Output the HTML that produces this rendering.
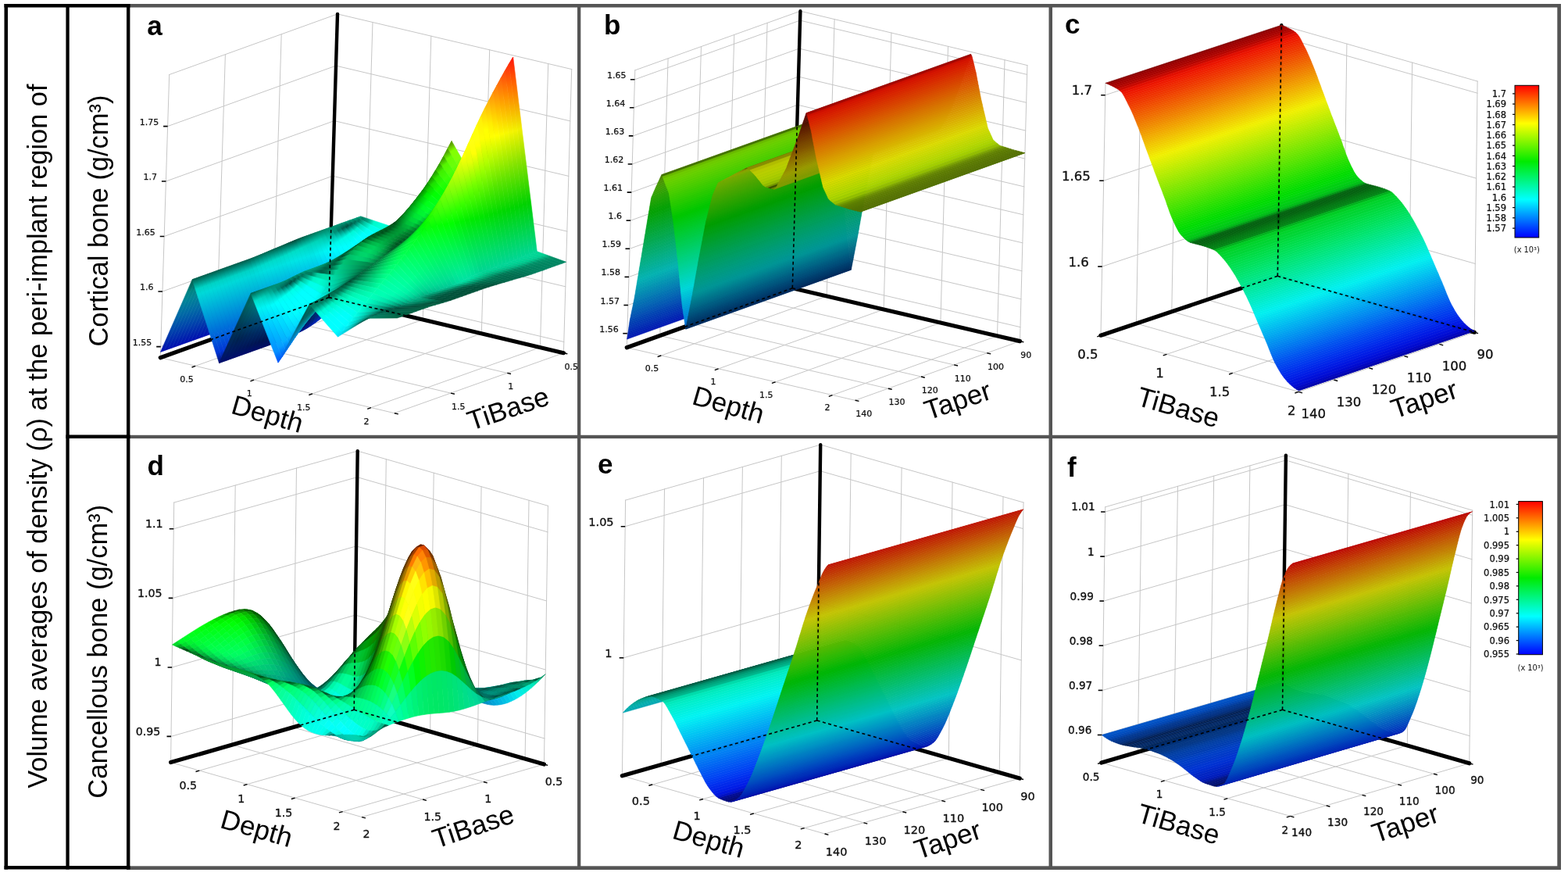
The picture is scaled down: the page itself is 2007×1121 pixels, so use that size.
<!DOCTYPE html><html><head><meta charset="utf-8"><style>html,body{margin:0;padding:0;background:#fff;overflow:hidden}svg{display:block}.s path{fill:currentColor;stroke:currentColor;stroke-width:.6px}.t path{stroke-width:.6px}</style></head><body>
<svg xmlns="http://www.w3.org/2000/svg" width="2007" height="1121" viewBox="0 0 2007 1121">
<rect width="2007" height="1121" fill="#fff"/>
<clipPath id="ca"><rect x="166.4" y="9.5" width="572.6" height="547.5"/></clipPath>
<g clip-path="url(#ca)">
<g stroke-linecap="square"><line x1="349.1" y1="406.3" x2="360.2" y2="43.8" stroke="#c6c6c6" stroke-width="1"/><line x1="349.1" y1="406.3" x2="649.2" y2="477.4" stroke="#c6c6c6" stroke-width="1"/><line x1="277.1" y1="432" x2="288.4" y2="69.7" stroke="#c6c6c6" stroke-width="1"/><line x1="277.1" y1="432" x2="577" y2="503.1" stroke="#c6c6c6" stroke-width="1"/><line x1="466.1" y1="391.3" x2="477" y2="28.5" stroke="#c6c6c6" stroke-width="1"/><line x1="466.1" y1="391.3" x2="250.2" y2="468.3" stroke="#c6c6c6" stroke-width="1"/><line x1="541.2" y1="409" x2="551.8" y2="46.2" stroke="#c6c6c6" stroke-width="1"/><line x1="541.2" y1="409" x2="325.1" y2="486.1" stroke="#c6c6c6" stroke-width="1"/><line x1="616.3" y1="426.8" x2="626.7" y2="63.8" stroke="#c6c6c6" stroke-width="1"/><line x1="616.3" y1="426.8" x2="400" y2="503.8" stroke="#c6c6c6" stroke-width="1"/><line x1="691.4" y1="444.6" x2="701.7" y2="81.5" stroke="#c6c6c6" stroke-width="1"/><line x1="691.4" y1="444.6" x2="474.9" y2="521.6" stroke="#c6c6c6" stroke-width="1"/><line x1="205.7" y1="443.6" x2="421.5" y2="366.5" stroke="#c6c6c6" stroke-width="1"/><line x1="421.5" y1="366.5" x2="721.8" y2="437.5" stroke="#c6c6c6" stroke-width="1"/><line x1="207.9" y1="373" x2="423.6" y2="295.8" stroke="#c6c6c6" stroke-width="1"/><line x1="423.6" y1="295.8" x2="723.8" y2="366.8" stroke="#c6c6c6" stroke-width="1"/><line x1="210.2" y1="302.5" x2="425.8" y2="225.2" stroke="#c6c6c6" stroke-width="1"/><line x1="425.8" y1="225.2" x2="725.8" y2="296.1" stroke="#c6c6c6" stroke-width="1"/><line x1="212.4" y1="232" x2="427.9" y2="154.6" stroke="#c6c6c6" stroke-width="1"/><line x1="427.9" y1="154.6" x2="727.8" y2="225.4" stroke="#c6c6c6" stroke-width="1"/><line x1="214.6" y1="161.6" x2="430" y2="84.1" stroke="#c6c6c6" stroke-width="1"/><line x1="430" y1="84.1" x2="729.8" y2="154.9" stroke="#c6c6c6" stroke-width="1"/><line x1="205.3" y1="457.7" x2="216.7" y2="95.5" stroke="#c6c6c6" stroke-width="1"/><line x1="216.7" y1="95.5" x2="432" y2="17.9" stroke="#c6c6c6" stroke-width="1"/><line x1="432" y1="17.9" x2="731.7" y2="88.6" stroke="#c6c6c6" stroke-width="1"/><line x1="731.7" y1="88.6" x2="721.4" y2="451.7" stroke="#c6c6c6" stroke-width="1"/><line x1="205.3" y1="457.7" x2="504.9" y2="528.7" stroke="#c6c6c6" stroke-width="1"/><line x1="504.9" y1="528.7" x2="721.4" y2="451.7" stroke="#c6c6c6" stroke-width="1"/></g>
<g stroke="#000" stroke-linecap="round"><line x1="421.1" y1="380.6" x2="432" y2="17.9" stroke-width="4.4"/><line x1="421.1" y1="380.6" x2="205.3" y2="457.7" stroke-width="5.2"/><line x1="421.1" y1="380.6" x2="721.4" y2="451.7" stroke-width="5.2"/></g>
<defs><linearGradient id="g0" gradientUnits="userSpaceOnUse" x1="418.9" y1="374.2" x2="459.5" y2="277.7"><stop offset="0" stop-color="#000eaf"/><stop offset=".12" stop-color="#0026ae"/><stop offset=".3" stop-color="#004aad"/><stop offset=".5" stop-color="#0071ac"/><stop offset=".7" stop-color="#0097a9"/><stop offset=".793" stop-color="#00a8a8"/><stop offset=".88" stop-color="#00a596"/><stop offset="1" stop-color="#00a17d"/></linearGradient><linearGradient id="g1" gradientUnits="userSpaceOnUse" x1="413.9" y1="376" x2="454.6" y2="279.5"><stop offset="0" stop-color="#000eaf"/><stop offset=".12" stop-color="#0026ae"/><stop offset=".3" stop-color="#004aad"/><stop offset=".5" stop-color="#0071ab"/><stop offset=".7" stop-color="#0097a9"/><stop offset=".793" stop-color="#00a7a7"/><stop offset=".88" stop-color="#00a495"/><stop offset="1" stop-color="#009f7b"/></linearGradient><linearGradient id="g2" gradientUnits="userSpaceOnUse" x1="409" y1="377.7" x2="449.7" y2="281.2"><stop offset="0" stop-color="#000eaf"/><stop offset=".12" stop-color="#0026ae"/><stop offset=".3" stop-color="#004aad"/><stop offset=".5" stop-color="#0071ab"/><stop offset=".7" stop-color="#0096a8"/><stop offset=".793" stop-color="#00a7a7"/><stop offset=".88" stop-color="#00a394"/><stop offset="1" stop-color="#009e7a"/></linearGradient><linearGradient id="g3" gradientUnits="userSpaceOnUse" x1="404.1" y1="379.5" x2="444.8" y2="283"><stop offset="0" stop-color="#000eaf"/><stop offset=".12" stop-color="#0026ae"/><stop offset=".3" stop-color="#004aad"/><stop offset=".5" stop-color="#0071ab"/><stop offset=".7" stop-color="#0096a8"/><stop offset=".793" stop-color="#00a6a6"/><stop offset=".88" stop-color="#00a293"/><stop offset="1" stop-color="#009c79"/></linearGradient><linearGradient id="g4" gradientUnits="userSpaceOnUse" x1="399.2" y1="381.2" x2="439.9" y2="284.8"><stop offset="0" stop-color="#000eaf"/><stop offset=".12" stop-color="#0026ae"/><stop offset=".3" stop-color="#004aad"/><stop offset=".5" stop-color="#0071ab"/><stop offset=".7" stop-color="#0095a7"/><stop offset=".793" stop-color="#00a5a5"/><stop offset=".88" stop-color="#00a192"/><stop offset="1" stop-color="#009a77"/></linearGradient><linearGradient id="g5" gradientUnits="userSpaceOnUse" x1="394.3" y1="383" x2="435" y2="286.5"><stop offset="0" stop-color="#000eaf"/><stop offset=".12" stop-color="#0026ae"/><stop offset=".3" stop-color="#004aad"/><stop offset=".5" stop-color="#0070aa"/><stop offset=".7" stop-color="#0094a6"/><stop offset=".793" stop-color="#00a4a4"/><stop offset=".88" stop-color="#009f90"/><stop offset="1" stop-color="#009775"/></linearGradient><linearGradient id="g6" gradientUnits="userSpaceOnUse" x1="389.4" y1="384.7" x2="430.1" y2="288.3"><stop offset="0" stop-color="#000eaf"/><stop offset=".12" stop-color="#0026ae"/><stop offset=".3" stop-color="#004aad"/><stop offset=".5" stop-color="#0070aa"/><stop offset=".7" stop-color="#0094a6"/><stop offset=".793" stop-color="#00a3a3"/><stop offset=".88" stop-color="#009e8f"/><stop offset="1" stop-color="#009473"/></linearGradient><linearGradient id="g7" gradientUnits="userSpaceOnUse" x1="384.5" y1="386.5" x2="425.1" y2="290"><stop offset="0" stop-color="#000eaf"/><stop offset=".12" stop-color="#0026ae"/><stop offset=".3" stop-color="#004aac"/><stop offset=".5" stop-color="#0070aa"/><stop offset=".7" stop-color="#0093a5"/><stop offset=".793" stop-color="#00a2a2"/><stop offset=".88" stop-color="#009c8d"/><stop offset="1" stop-color="#009170"/></linearGradient><linearGradient id="g8" gradientUnits="userSpaceOnUse" x1="379.6" y1="388.2" x2="420.2" y2="291.8"><stop offset="0" stop-color="#000eaf"/><stop offset=".12" stop-color="#0026ae"/><stop offset=".3" stop-color="#004aac"/><stop offset=".5" stop-color="#0070a9"/><stop offset=".7" stop-color="#0092a4"/><stop offset=".793" stop-color="#00a0a0"/><stop offset=".88" stop-color="#009a8b"/><stop offset="1" stop-color="#008d6d"/></linearGradient><linearGradient id="g9" gradientUnits="userSpaceOnUse" x1="374.6" y1="390" x2="415.3" y2="293.6"><stop offset="0" stop-color="#000eaf"/><stop offset=".12" stop-color="#0026ae"/><stop offset=".3" stop-color="#004aac"/><stop offset=".5" stop-color="#0070a9"/><stop offset=".7" stop-color="#0092a3"/><stop offset=".793" stop-color="#009f9f"/><stop offset=".88" stop-color="#009789"/><stop offset="1" stop-color="#008869"/></linearGradient><linearGradient id="g10" gradientUnits="userSpaceOnUse" x1="369.7" y1="391.8" x2="410.4" y2="295.3"><stop offset="0" stop-color="#000eaf"/><stop offset=".12" stop-color="#0026ae"/><stop offset=".3" stop-color="#004aac"/><stop offset=".5" stop-color="#006fa9"/><stop offset=".7" stop-color="#0091a2"/><stop offset=".793" stop-color="#009d9d"/><stop offset=".88" stop-color="#009587"/><stop offset="1" stop-color="#008265"/></linearGradient><linearGradient id="g11" gradientUnits="userSpaceOnUse" x1="364.8" y1="393.5" x2="405.5" y2="297.1"><stop offset="0" stop-color="#000eaf"/><stop offset=".12" stop-color="#0026ae"/><stop offset=".3" stop-color="#004aac"/><stop offset=".5" stop-color="#006fa8"/><stop offset=".7" stop-color="#0090a1"/><stop offset=".793" stop-color="#009b9b"/><stop offset=".88" stop-color="#009284"/><stop offset="1" stop-color="#007c60"/></linearGradient><linearGradient id="g12" gradientUnits="userSpaceOnUse" x1="359.9" y1="395.3" x2="400.6" y2="298.8"><stop offset="0" stop-color="#000eaf"/><stop offset=".12" stop-color="#0026ae"/><stop offset=".3" stop-color="#004aac"/><stop offset=".5" stop-color="#006fa8"/><stop offset=".7" stop-color="#008fa0"/><stop offset=".793" stop-color="#009999"/><stop offset=".88" stop-color="#008e81"/><stop offset="1" stop-color="#00755a"/></linearGradient><linearGradient id="g13" gradientUnits="userSpaceOnUse" x1="355" y1="397" x2="395.7" y2="300.6"><stop offset="0" stop-color="#000eaf"/><stop offset=".12" stop-color="#0026ae"/><stop offset=".3" stop-color="#0049ac"/><stop offset=".5" stop-color="#006fa8"/><stop offset=".7" stop-color="#008e9f"/><stop offset=".793" stop-color="#009898"/><stop offset=".88" stop-color="#008b7e"/><stop offset="1" stop-color="#006e55"/></linearGradient><linearGradient id="g14" gradientUnits="userSpaceOnUse" x1="350.1" y1="398.8" x2="390.8" y2="302.3"><stop offset="0" stop-color="#000eaf"/><stop offset=".12" stop-color="#0026ae"/><stop offset=".3" stop-color="#0049ac"/><stop offset=".5" stop-color="#006ea7"/><stop offset=".7" stop-color="#008d9e"/><stop offset=".793" stop-color="#009696"/><stop offset=".88" stop-color="#00887c"/><stop offset="1" stop-color="#006750"/></linearGradient><linearGradient id="g15" gradientUnits="userSpaceOnUse" x1="345.2" y1="400.5" x2="385.9" y2="304.1"><stop offset="0" stop-color="#000eaf"/><stop offset=".12" stop-color="#0026ae"/><stop offset=".3" stop-color="#0049ab"/><stop offset=".5" stop-color="#006ea6"/><stop offset=".7" stop-color="#008b9c"/><stop offset=".793" stop-color="#009393"/><stop offset=".88" stop-color="#008377"/><stop offset="1" stop-color="#005e49"/></linearGradient><linearGradient id="g16" gradientUnits="userSpaceOnUse" x1="340.3" y1="402.3" x2="381" y2="306"><stop offset="0" stop-color="#000eaf"/><stop offset=".12" stop-color="#0026ae"/><stop offset=".3" stop-color="#0049ab"/><stop offset=".5" stop-color="#006da6"/><stop offset=".7" stop-color="#00899a"/><stop offset=".795" stop-color="#008f8f"/><stop offset=".88" stop-color="#007e73"/><stop offset="1" stop-color="#005542"/></linearGradient><linearGradient id="g17" gradientUnits="userSpaceOnUse" x1="335.4" y1="404" x2="376.1" y2="308"><stop offset="0" stop-color="#000eaf"/><stop offset=".12" stop-color="#0026ad"/><stop offset=".3" stop-color="#0049ab"/><stop offset=".5" stop-color="#006ca5"/><stop offset=".7" stop-color="#008798"/><stop offset=".796" stop-color="#008c8c"/><stop offset=".88" stop-color="#007a6f"/><stop offset="1" stop-color="#004d3c"/></linearGradient><linearGradient id="g18" gradientUnits="userSpaceOnUse" x1="330.5" y1="405.8" x2="371.1" y2="310.1"><stop offset="0" stop-color="#000eaf"/><stop offset=".12" stop-color="#0026ad"/><stop offset=".3" stop-color="#0048aa"/><stop offset=".5" stop-color="#006ca4"/><stop offset=".7" stop-color="#008697"/><stop offset=".799" stop-color="#008989"/><stop offset=".88" stop-color="#00766c"/><stop offset="1" stop-color="#005140"/></linearGradient><linearGradient id="g19" gradientUnits="userSpaceOnUse" x1="325.6" y1="407.5" x2="366.2" y2="312.2"><stop offset="0" stop-color="#000eaf"/><stop offset=".12" stop-color="#0026ad"/><stop offset=".3" stop-color="#0048aa"/><stop offset=".5" stop-color="#006ba4"/><stop offset=".7" stop-color="#008596"/><stop offset=".801" stop-color="#008787"/><stop offset=".88" stop-color="#00736a"/><stop offset="1" stop-color="#005845"/></linearGradient><linearGradient id="g20" gradientUnits="userSpaceOnUse" x1="320.7" y1="409.3" x2="361.3" y2="314.3"><stop offset="0" stop-color="#000eaf"/><stop offset=".12" stop-color="#0026ad"/><stop offset=".3" stop-color="#0048aa"/><stop offset=".5" stop-color="#006ba4"/><stop offset=".7" stop-color="#008495"/><stop offset=".804" stop-color="#008686"/><stop offset=".88" stop-color="#007268"/><stop offset="1" stop-color="#005d49"/></linearGradient><linearGradient id="g21" gradientUnits="userSpaceOnUse" x1="315.8" y1="411" x2="356.4" y2="316.3"><stop offset="0" stop-color="#000eaf"/><stop offset=".12" stop-color="#0026ad"/><stop offset=".3" stop-color="#0048aa"/><stop offset=".5" stop-color="#006ba4"/><stop offset=".7" stop-color="#008396"/><stop offset=".806" stop-color="#008585"/><stop offset=".88" stop-color="#007168"/><stop offset="1" stop-color="#005f4b"/></linearGradient><linearGradient id="g22" gradientUnits="userSpaceOnUse" x1="310.9" y1="412.8" x2="351.5" y2="318.3"><stop offset="0" stop-color="#000eaf"/><stop offset=".12" stop-color="#0026ad"/><stop offset=".3" stop-color="#0048aa"/><stop offset=".5" stop-color="#006aa4"/><stop offset=".7" stop-color="#008395"/><stop offset=".808" stop-color="#008484"/><stop offset=".88" stop-color="#007067"/><stop offset="1" stop-color="#00614d"/></linearGradient><linearGradient id="g23" gradientUnits="userSpaceOnUse" x1="306" y1="414.5" x2="346.6" y2="320.4"><stop offset="0" stop-color="#000eaf"/><stop offset=".12" stop-color="#0025ad"/><stop offset=".3" stop-color="#0047aa"/><stop offset=".5" stop-color="#006aa3"/><stop offset=".7" stop-color="#008294"/><stop offset=".81" stop-color="#008282"/><stop offset=".88" stop-color="#006d65"/><stop offset="1" stop-color="#006651"/></linearGradient><linearGradient id="g24" gradientUnits="userSpaceOnUse" x1="301" y1="416.3" x2="341.7" y2="322.5"><stop offset="0" stop-color="#000eaf"/><stop offset=".12" stop-color="#0025ad"/><stop offset=".3" stop-color="#0047aa"/><stop offset=".5" stop-color="#0069a3"/><stop offset=".7" stop-color="#008194"/><stop offset=".813" stop-color="#008080"/><stop offset=".88" stop-color="#006c64"/><stop offset="1" stop-color="#006954"/></linearGradient><linearGradient id="g25" gradientUnits="userSpaceOnUse" x1="296.1" y1="418.1" x2="336.8" y2="324.5"><stop offset="0" stop-color="#000eaf"/><stop offset=".12" stop-color="#0025ad"/><stop offset=".3" stop-color="#0047aa"/><stop offset=".5" stop-color="#0069a3"/><stop offset=".7" stop-color="#008093"/><stop offset=".816" stop-color="#007f7f"/><stop offset=".88" stop-color="#006b64"/><stop offset="1" stop-color="#006a55"/></linearGradient><linearGradient id="g26" gradientUnits="userSpaceOnUse" x1="291.2" y1="419.8" x2="331.8" y2="326.6"><stop offset="0" stop-color="#000eaf"/><stop offset=".12" stop-color="#0025ad"/><stop offset=".3" stop-color="#0047aa"/><stop offset=".5" stop-color="#0069a3"/><stop offset=".7" stop-color="#008094"/><stop offset=".818" stop-color="#007f7f"/><stop offset=".88" stop-color="#006c65"/><stop offset="1" stop-color="#006a55"/></linearGradient><linearGradient id="g27" gradientUnits="userSpaceOnUse" x1="286.3" y1="421.6" x2="326.9" y2="328.6"><stop offset="0" stop-color="#000eaf"/><stop offset=".12" stop-color="#0025ad"/><stop offset=".3" stop-color="#0047aa"/><stop offset=".5" stop-color="#0069a4"/><stop offset=".7" stop-color="#008195"/><stop offset=".82" stop-color="#008080"/><stop offset=".88" stop-color="#006d66"/><stop offset="1" stop-color="#006754"/></linearGradient><linearGradient id="g28" gradientUnits="userSpaceOnUse" x1="281.4" y1="423.3" x2="322" y2="330.5"><stop offset="0" stop-color="#000eaf"/><stop offset=".12" stop-color="#0025ad"/><stop offset=".3" stop-color="#0047aa"/><stop offset=".5" stop-color="#0069a4"/><stop offset=".7" stop-color="#008296"/><stop offset=".821" stop-color="#008181"/><stop offset=".88" stop-color="#007069"/><stop offset="1" stop-color="#006351"/></linearGradient><linearGradient id="g29" gradientUnits="userSpaceOnUse" x1="276.5" y1="425.1" x2="317.1" y2="332.3"><stop offset="0" stop-color="#000eaf"/><stop offset=".12" stop-color="#0025ad"/><stop offset=".3" stop-color="#0047ab"/><stop offset=".5" stop-color="#006aa5"/><stop offset=".7" stop-color="#008397"/><stop offset=".821" stop-color="#008384"/><stop offset=".88" stop-color="#00726b"/><stop offset="1" stop-color="#005e4d"/></linearGradient><linearGradient id="g30" gradientUnits="userSpaceOnUse" x1="271.6" y1="426.8" x2="312.2" y2="334"><stop offset="0" stop-color="#000eaf"/><stop offset=".12" stop-color="#0025ad"/><stop offset=".3" stop-color="#0047ab"/><stop offset=".5" stop-color="#006aa5"/><stop offset=".7" stop-color="#008397"/><stop offset=".821" stop-color="#008484"/><stop offset=".88" stop-color="#00726b"/><stop offset="1" stop-color="#005e4d"/></linearGradient><linearGradient id="g31" gradientUnits="userSpaceOnUse" x1="266.7" y1="428.6" x2="307.3" y2="335.8"><stop offset="0" stop-color="#000eaf"/><stop offset=".12" stop-color="#0025ad"/><stop offset=".3" stop-color="#0047ab"/><stop offset=".5" stop-color="#006aa5"/><stop offset=".7" stop-color="#008397"/><stop offset=".821" stop-color="#008484"/><stop offset=".88" stop-color="#00726b"/><stop offset="1" stop-color="#005e4d"/></linearGradient><linearGradient id="g32" gradientUnits="userSpaceOnUse" x1="261.8" y1="430.3" x2="302.4" y2="337.6"><stop offset="0" stop-color="#000eaf"/><stop offset=".12" stop-color="#0025ad"/><stop offset=".3" stop-color="#0047ab"/><stop offset=".5" stop-color="#006aa5"/><stop offset=".7" stop-color="#008397"/><stop offset=".821" stop-color="#008484"/><stop offset=".88" stop-color="#00726b"/><stop offset="1" stop-color="#005e4d"/></linearGradient><linearGradient id="g33" gradientUnits="userSpaceOnUse" x1="256.9" y1="432.1" x2="297.5" y2="339.3"><stop offset="0" stop-color="#000eaf"/><stop offset=".12" stop-color="#0025ad"/><stop offset=".3" stop-color="#0047ab"/><stop offset=".5" stop-color="#006aa5"/><stop offset=".7" stop-color="#008397"/><stop offset=".821" stop-color="#008484"/><stop offset=".88" stop-color="#00726b"/><stop offset="1" stop-color="#005e4d"/></linearGradient><linearGradient id="g34" gradientUnits="userSpaceOnUse" x1="252" y1="433.8" x2="292.6" y2="341.1"><stop offset="0" stop-color="#000eaf"/><stop offset=".12" stop-color="#0025ad"/><stop offset=".3" stop-color="#0047ab"/><stop offset=".5" stop-color="#006aa5"/><stop offset=".7" stop-color="#008397"/><stop offset=".821" stop-color="#008484"/><stop offset=".88" stop-color="#00726b"/><stop offset="1" stop-color="#005e4d"/></linearGradient><linearGradient id="g35" gradientUnits="userSpaceOnUse" x1="247.1" y1="435.6" x2="287.7" y2="342.8"><stop offset="0" stop-color="#000eaf"/><stop offset=".12" stop-color="#0025ad"/><stop offset=".3" stop-color="#0047ab"/><stop offset=".5" stop-color="#006aa5"/><stop offset=".7" stop-color="#008397"/><stop offset=".821" stop-color="#008484"/><stop offset=".88" stop-color="#00726b"/><stop offset="1" stop-color="#005e4d"/></linearGradient><linearGradient id="g36" gradientUnits="userSpaceOnUse" x1="242.2" y1="437.3" x2="282.8" y2="344.6"><stop offset="0" stop-color="#000eaf"/><stop offset=".12" stop-color="#0025ad"/><stop offset=".3" stop-color="#0047ab"/><stop offset=".5" stop-color="#006aa5"/><stop offset=".7" stop-color="#008397"/><stop offset=".821" stop-color="#008484"/><stop offset=".88" stop-color="#00726b"/><stop offset="1" stop-color="#005e4d"/></linearGradient><linearGradient id="g37" gradientUnits="userSpaceOnUse" x1="237.3" y1="439.1" x2="277.9" y2="346.3"><stop offset="0" stop-color="#000eaf"/><stop offset=".12" stop-color="#0025ad"/><stop offset=".3" stop-color="#0047ab"/><stop offset=".5" stop-color="#006aa5"/><stop offset=".7" stop-color="#008397"/><stop offset=".821" stop-color="#008484"/><stop offset=".88" stop-color="#00726b"/><stop offset="1" stop-color="#005e4d"/></linearGradient><linearGradient id="g38" gradientUnits="userSpaceOnUse" x1="232.4" y1="440.8" x2="273" y2="348.1"><stop offset="0" stop-color="#000eaf"/><stop offset=".12" stop-color="#0025ad"/><stop offset=".3" stop-color="#0047ab"/><stop offset=".5" stop-color="#006aa5"/><stop offset=".7" stop-color="#008397"/><stop offset=".821" stop-color="#008484"/><stop offset=".88" stop-color="#00726b"/><stop offset="1" stop-color="#005e4d"/></linearGradient><linearGradient id="g39" gradientUnits="userSpaceOnUse" x1="227.5" y1="442.6" x2="268.1" y2="349.8"><stop offset="0" stop-color="#000eaf"/><stop offset=".12" stop-color="#0025ad"/><stop offset=".3" stop-color="#0047ab"/><stop offset=".5" stop-color="#006aa5"/><stop offset=".7" stop-color="#008397"/><stop offset=".821" stop-color="#008484"/><stop offset=".88" stop-color="#00726b"/><stop offset="1" stop-color="#005e4d"/></linearGradient><linearGradient id="g40" gradientUnits="userSpaceOnUse" x1="222.6" y1="444.3" x2="263.3" y2="351.6"><stop offset="0" stop-color="#000eaf"/><stop offset=".12" stop-color="#0025ad"/><stop offset=".3" stop-color="#0047ab"/><stop offset=".5" stop-color="#006aa5"/><stop offset=".7" stop-color="#008397"/><stop offset=".821" stop-color="#008484"/><stop offset=".88" stop-color="#00726b"/><stop offset="1" stop-color="#005e4d"/></linearGradient><linearGradient id="g41" gradientUnits="userSpaceOnUse" x1="217.7" y1="446.1" x2="258.4" y2="353.3"><stop offset="0" stop-color="#000eaf"/><stop offset=".12" stop-color="#0025ad"/><stop offset=".3" stop-color="#0047ab"/><stop offset=".5" stop-color="#006aa5"/><stop offset=".7" stop-color="#008397"/><stop offset=".821" stop-color="#008484"/><stop offset=".88" stop-color="#00726b"/><stop offset="1" stop-color="#005e4d"/></linearGradient><linearGradient id="g42" gradientUnits="userSpaceOnUse" x1="212.8" y1="447.8" x2="253.5" y2="355.1"><stop offset="0" stop-color="#000eaf"/><stop offset=".12" stop-color="#0025ad"/><stop offset=".3" stop-color="#0047ab"/><stop offset=".5" stop-color="#006aa5"/><stop offset=".7" stop-color="#008397"/><stop offset=".821" stop-color="#008484"/><stop offset=".88" stop-color="#00726b"/><stop offset="1" stop-color="#005e4d"/></linearGradient><linearGradient id="g43" gradientUnits="userSpaceOnUse" x1="208" y1="449.6" x2="248.6" y2="356.8"><stop offset="0" stop-color="#000eaf"/><stop offset=".12" stop-color="#0025ad"/><stop offset=".3" stop-color="#0047ab"/><stop offset=".5" stop-color="#006aa5"/><stop offset=".7" stop-color="#008397"/><stop offset=".821" stop-color="#008484"/><stop offset=".88" stop-color="#00726b"/><stop offset="1" stop-color="#005e4d"/></linearGradient><linearGradient id="g44" gradientUnits="userSpaceOnUse" x1="459.5" y1="277.7" x2="496.8" y2="293.4"><stop offset="0" stop-color="#00a17d"/><stop offset=".12" stop-color="#007e63"/><stop offset=".3" stop-color="#00a281"/><stop offset=".5" stop-color="#00f9ca"/><stop offset=".7" stop-color="#00ffd8"/><stop offset=".88" stop-color="#00ffd6"/><stop offset="1" stop-color="#00f5d0"/></linearGradient><linearGradient id="g45" gradientUnits="userSpaceOnUse" x1="454.6" y1="279.5" x2="491.7" y2="301.5"><stop offset="0" stop-color="#009f7b"/><stop offset=".12" stop-color="#00765d"/><stop offset=".3" stop-color="#00c4a0"/><stop offset=".5" stop-color="#00ffe0"/><stop offset=".7" stop-color="#01fff1"/><stop offset=".88" stop-color="#00ffec"/><stop offset="1" stop-color="#00f6e0"/></linearGradient><linearGradient id="g46" gradientUnits="userSpaceOnUse" x1="449.7" y1="281.2" x2="486.6" y2="309.4"><stop offset="0" stop-color="#009e7a"/><stop offset=".12" stop-color="#006c56"/><stop offset=".3" stop-color="#00deba"/><stop offset=".5" stop-color="#01fff0"/><stop offset=".7" stop-color="#02ffff"/><stop offset=".88" stop-color="#00ffff"/><stop offset="1" stop-color="#00f6f0"/></linearGradient><linearGradient id="g47" gradientUnits="userSpaceOnUse" x1="444.8" y1="283" x2="481.5" y2="317.2"><stop offset="0" stop-color="#009c79"/><stop offset=".12" stop-color="#005f4d"/><stop offset=".3" stop-color="#00eecc"/><stop offset=".5" stop-color="#01fffb"/><stop offset=".7" stop-color="#02ffff"/><stop offset=".859" stop-color="#02ffff"/><stop offset=".88" stop-color="#01ffff"/><stop offset="1" stop-color="#00ecf6"/></linearGradient><linearGradient id="g48" gradientUnits="userSpaceOnUse" x1="439.9" y1="284.8" x2="476.4" y2="324.9"><stop offset="0" stop-color="#009977"/><stop offset=".12" stop-color="#005041"/><stop offset=".3" stop-color="#00f7d7"/><stop offset=".5" stop-color="#01ffff"/><stop offset=".697" stop-color="#03ffff"/><stop offset=".7" stop-color="#03ffff"/><stop offset=".88" stop-color="#01ffff"/><stop offset="1" stop-color="#00dbf5"/></linearGradient><linearGradient id="g49" gradientUnits="userSpaceOnUse" x1="435" y1="286.5" x2="471.3" y2="332.4"><stop offset="0" stop-color="#009775"/><stop offset=".12" stop-color="#005c4c"/><stop offset=".3" stop-color="#00fade"/><stop offset=".5" stop-color="#00ffff"/><stop offset=".588" stop-color="#01ffff"/><stop offset=".7" stop-color="#02ffff"/><stop offset=".88" stop-color="#02ffff"/><stop offset="1" stop-color="#00cbf4"/></linearGradient><linearGradient id="g50" gradientUnits="userSpaceOnUse" x1="430.1" y1="288.3" x2="466.3" y2="339.8"><stop offset="0" stop-color="#009473"/><stop offset=".12" stop-color="#007561"/><stop offset=".3" stop-color="#00fae3"/><stop offset=".5" stop-color="#00ffff"/><stop offset=".511" stop-color="#00ffff"/><stop offset=".7" stop-color="#02ffff"/><stop offset=".88" stop-color="#02f2ff"/><stop offset="1" stop-color="#00bbf2"/></linearGradient><linearGradient id="g51" gradientUnits="userSpaceOnUse" x1="425.1" y1="290" x2="461.2" y2="347"><stop offset="0" stop-color="#009170"/><stop offset=".12" stop-color="#008e76"/><stop offset=".3" stop-color="#00fae7"/><stop offset=".453" stop-color="#00ffff"/><stop offset=".5" stop-color="#00ffff"/><stop offset=".7" stop-color="#01f9ff"/><stop offset=".88" stop-color="#03e6ff"/><stop offset="1" stop-color="#00acf2"/></linearGradient><linearGradient id="g52" gradientUnits="userSpaceOnUse" x1="420.2" y1="291.8" x2="456.1" y2="354.3"><stop offset="0" stop-color="#008d6d"/><stop offset=".12" stop-color="#00a68c"/><stop offset=".3" stop-color="#00faec"/><stop offset=".406" stop-color="#00ffff"/><stop offset=".5" stop-color="#00faff"/><stop offset=".7" stop-color="#01ecff"/><stop offset=".88" stop-color="#04d9ff"/><stop offset="1" stop-color="#009ef4"/></linearGradient><linearGradient id="g53" gradientUnits="userSpaceOnUse" x1="415.3" y1="293.6" x2="451" y2="361.8"><stop offset="0" stop-color="#008869"/><stop offset=".12" stop-color="#00ba9e"/><stop offset=".3" stop-color="#00f9ef"/><stop offset=".367" stop-color="#00fefe"/><stop offset=".5" stop-color="#00efff"/><stop offset=".7" stop-color="#01ddff"/><stop offset=".88" stop-color="#04cbff"/><stop offset="1" stop-color="#008ff5"/></linearGradient><linearGradient id="g54" gradientUnits="userSpaceOnUse" x1="410.4" y1="295.3" x2="445.9" y2="369.2"><stop offset="0" stop-color="#008265"/><stop offset=".12" stop-color="#00c7ab"/><stop offset=".3" stop-color="#00f7f1"/><stop offset=".335" stop-color="#00fbfb"/><stop offset=".5" stop-color="#00e4ff"/><stop offset=".7" stop-color="#01ceff"/><stop offset=".88" stop-color="#04bbff"/><stop offset="1" stop-color="#0080f4"/></linearGradient><linearGradient id="g55" gradientUnits="userSpaceOnUse" x1="405.5" y1="297.1" x2="440.9" y2="376.3"><stop offset="0" stop-color="#007c60"/><stop offset=".12" stop-color="#00d0b3"/><stop offset=".3" stop-color="#00f4f3"/><stop offset=".31" stop-color="#00f5f5"/><stop offset=".5" stop-color="#00d9fe"/><stop offset=".7" stop-color="#00beff"/><stop offset=".88" stop-color="#04a9ff"/><stop offset="1" stop-color="#0071f2"/></linearGradient><linearGradient id="g56" gradientUnits="userSpaceOnUse" x1="400.6" y1="298.8" x2="435.8" y2="383"><stop offset="0" stop-color="#00755a"/><stop offset=".12" stop-color="#00d4b8"/><stop offset=".289" stop-color="#00f0f0"/><stop offset=".3" stop-color="#00eff1"/><stop offset=".5" stop-color="#00cdf9"/><stop offset=".7" stop-color="#00afff"/><stop offset=".88" stop-color="#0398ff"/><stop offset="1" stop-color="#0062ee"/></linearGradient><linearGradient id="g57" gradientUnits="userSpaceOnUse" x1="395.7" y1="300.6" x2="430.8" y2="389"><stop offset="0" stop-color="#006e55"/><stop offset=".12" stop-color="#00d5ba"/><stop offset=".274" stop-color="#00ebeb"/><stop offset=".3" stop-color="#00e7ec"/><stop offset=".5" stop-color="#00c3f3"/><stop offset=".7" stop-color="#00a1ff"/><stop offset=".88" stop-color="#0186ff"/><stop offset="1" stop-color="#0053e5"/></linearGradient><linearGradient id="g58" gradientUnits="userSpaceOnUse" x1="390.8" y1="302.3" x2="425.8" y2="394.2"><stop offset="0" stop-color="#006750"/><stop offset=".12" stop-color="#00d4bb"/><stop offset=".262" stop-color="#00e6e6"/><stop offset=".3" stop-color="#00e0e8"/><stop offset=".5" stop-color="#00baed"/><stop offset=".7" stop-color="#0095f9"/><stop offset=".88" stop-color="#0077ff"/><stop offset="1" stop-color="#0046d6"/></linearGradient><linearGradient id="g59" gradientUnits="userSpaceOnUse" x1="385.9" y1="304.1" x2="420.8" y2="398.8"><stop offset="0" stop-color="#005e49"/><stop offset=".12" stop-color="#00d8be"/><stop offset=".253" stop-color="#00e6e6"/><stop offset=".3" stop-color="#00dde7"/><stop offset=".5" stop-color="#00b5eb"/><stop offset=".7" stop-color="#008ef5"/><stop offset=".88" stop-color="#006dff"/><stop offset="1" stop-color="#003dd0"/></linearGradient><linearGradient id="g60" gradientUnits="userSpaceOnUse" x1="381" y1="306" x2="415.8" y2="403.1"><stop offset="0" stop-color="#005542"/><stop offset=".12" stop-color="#00dbc2"/><stop offset=".245" stop-color="#00e6e6"/><stop offset=".3" stop-color="#00dbe7"/><stop offset=".5" stop-color="#00b0eb"/><stop offset=".7" stop-color="#0088f3"/><stop offset=".88" stop-color="#0065ff"/><stop offset="1" stop-color="#0036cc"/></linearGradient><linearGradient id="g61" gradientUnits="userSpaceOnUse" x1="376.1" y1="308" x2="410.8" y2="407.3"><stop offset="0" stop-color="#004d3c"/><stop offset=".12" stop-color="#00ddc5"/><stop offset=".236" stop-color="#00e6e6"/><stop offset=".3" stop-color="#00d8e7"/><stop offset=".5" stop-color="#00ace9"/><stop offset=".7" stop-color="#0082f1"/><stop offset=".88" stop-color="#005dff"/><stop offset="1" stop-color="#0030c7"/></linearGradient><linearGradient id="g62" gradientUnits="userSpaceOnUse" x1="371.1" y1="310.1" x2="405.8" y2="411.2"><stop offset="0" stop-color="#005140"/><stop offset=".12" stop-color="#00dec7"/><stop offset=".228" stop-color="#00e6e6"/><stop offset=".3" stop-color="#00d5e6"/><stop offset=".5" stop-color="#00a8e8"/><stop offset=".7" stop-color="#007cef"/><stop offset=".88" stop-color="#0056ff"/><stop offset="1" stop-color="#0029bf"/></linearGradient><linearGradient id="g63" gradientUnits="userSpaceOnUse" x1="366.2" y1="312.2" x2="400.9" y2="414.8"><stop offset="0" stop-color="#005845"/><stop offset=".12" stop-color="#00dec8"/><stop offset=".221" stop-color="#00e5e5"/><stop offset=".3" stop-color="#00d2e4"/><stop offset=".5" stop-color="#00a4e6"/><stop offset=".7" stop-color="#0077ec"/><stop offset=".88" stop-color="#004ff9"/><stop offset="1" stop-color="#0023b5"/></linearGradient><linearGradient id="g64" gradientUnits="userSpaceOnUse" x1="361.3" y1="314.3" x2="395.9" y2="418.1"><stop offset="0" stop-color="#005d49"/><stop offset=".12" stop-color="#00ddc8"/><stop offset=".215" stop-color="#00e3e3"/><stop offset=".3" stop-color="#00cfe3"/><stop offset=".5" stop-color="#00a0e4"/><stop offset=".7" stop-color="#0072e8"/><stop offset=".88" stop-color="#004af2"/><stop offset="1" stop-color="#001ea8"/></linearGradient><linearGradient id="g65" gradientUnits="userSpaceOnUse" x1="356.4" y1="316.3" x2="391" y2="421.1"><stop offset="0" stop-color="#005f4b"/><stop offset=".12" stop-color="#00dbc8"/><stop offset=".21" stop-color="#00e1e1"/><stop offset=".3" stop-color="#00cbe1"/><stop offset=".5" stop-color="#009ce2"/><stop offset=".7" stop-color="#006ee5"/><stop offset=".88" stop-color="#0044eb"/><stop offset="1" stop-color="#001998"/></linearGradient><linearGradient id="g66" gradientUnits="userSpaceOnUse" x1="351.5" y1="318.3" x2="386" y2="423.7"><stop offset="0" stop-color="#00614d"/><stop offset=".12" stop-color="#00dbc8"/><stop offset=".206" stop-color="#00e0e0"/><stop offset=".3" stop-color="#00cae0"/><stop offset=".5" stop-color="#009ae0"/><stop offset=".7" stop-color="#006ce3"/><stop offset=".88" stop-color="#0041e6"/><stop offset="1" stop-color="#00168d"/></linearGradient><linearGradient id="g67" gradientUnits="userSpaceOnUse" x1="346.6" y1="320.4" x2="381.1" y2="426.2"><stop offset="0" stop-color="#006651"/><stop offset=".12" stop-color="#00dcca"/><stop offset=".202" stop-color="#00e0e0"/><stop offset=".3" stop-color="#00c9e0"/><stop offset=".5" stop-color="#0099e0"/><stop offset=".7" stop-color="#006ae2"/><stop offset=".88" stop-color="#003fe5"/><stop offset="1" stop-color="#001489"/></linearGradient><linearGradient id="g68" gradientUnits="userSpaceOnUse" x1="341.7" y1="322.5" x2="376.2" y2="428.6"><stop offset="0" stop-color="#006954"/><stop offset=".12" stop-color="#00dccb"/><stop offset=".197" stop-color="#00e0e0"/><stop offset=".3" stop-color="#00c7e0"/><stop offset=".5" stop-color="#0097e0"/><stop offset=".7" stop-color="#0068e2"/><stop offset=".88" stop-color="#003de4"/><stop offset="1" stop-color="#001385"/></linearGradient><linearGradient id="g69" gradientUnits="userSpaceOnUse" x1="336.8" y1="324.5" x2="371.2" y2="431"><stop offset="0" stop-color="#006a55"/><stop offset=".12" stop-color="#00dbcb"/><stop offset=".194" stop-color="#00dfe0"/><stop offset=".3" stop-color="#00c6df"/><stop offset=".5" stop-color="#0096df"/><stop offset=".7" stop-color="#0066e1"/><stop offset=".88" stop-color="#003be2"/><stop offset="1" stop-color="#00117f"/></linearGradient><linearGradient id="g70" gradientUnits="userSpaceOnUse" x1="331.8" y1="326.6" x2="366.3" y2="433.2"><stop offset="0" stop-color="#006a55"/><stop offset=".12" stop-color="#00dacb"/><stop offset=".19" stop-color="#00dfdf"/><stop offset=".3" stop-color="#00c4df"/><stop offset=".5" stop-color="#0094de"/><stop offset=".7" stop-color="#0065e0"/><stop offset=".88" stop-color="#0039df"/><stop offset="1" stop-color="#000f78"/></linearGradient><linearGradient id="g71" gradientUnits="userSpaceOnUse" x1="326.9" y1="328.6" x2="361.4" y2="435.4"><stop offset="0" stop-color="#006754"/><stop offset=".12" stop-color="#00d8ca"/><stop offset=".187" stop-color="#00dddd"/><stop offset=".3" stop-color="#00c2dd"/><stop offset=".5" stop-color="#0093dd"/><stop offset=".7" stop-color="#0063de"/><stop offset=".88" stop-color="#0038dc"/><stop offset="1" stop-color="#000e70"/></linearGradient><linearGradient id="g72" gradientUnits="userSpaceOnUse" x1="322" y1="330.5" x2="356.5" y2="437.4"><stop offset="0" stop-color="#006351"/><stop offset=".12" stop-color="#00d6c8"/><stop offset=".186" stop-color="#00dbdb"/><stop offset=".3" stop-color="#00c1dc"/><stop offset=".5" stop-color="#0091dc"/><stop offset=".7" stop-color="#0062dc"/><stop offset=".88" stop-color="#0036d8"/><stop offset="1" stop-color="#000d68"/></linearGradient><linearGradient id="g73" gradientUnits="userSpaceOnUse" x1="317.1" y1="332.3" x2="351.6" y2="439.2"><stop offset="0" stop-color="#005e4d"/><stop offset=".12" stop-color="#00d3c5"/><stop offset=".185" stop-color="#00d9d9"/><stop offset=".3" stop-color="#00bfda"/><stop offset=".5" stop-color="#0090da"/><stop offset=".7" stop-color="#0061da"/><stop offset=".88" stop-color="#0035d4"/><stop offset="1" stop-color="#000c60"/></linearGradient><linearGradient id="g74" gradientUnits="userSpaceOnUse" x1="312.2" y1="334" x2="346.7" y2="440.9"><stop offset="0" stop-color="#005e4d"/><stop offset=".12" stop-color="#00d3c5"/><stop offset=".185" stop-color="#00d9d9"/><stop offset=".3" stop-color="#00bfda"/><stop offset=".5" stop-color="#0090da"/><stop offset=".7" stop-color="#0061da"/><stop offset=".88" stop-color="#0035d4"/><stop offset="1" stop-color="#000c61"/></linearGradient><linearGradient id="g75" gradientUnits="userSpaceOnUse" x1="307.3" y1="335.8" x2="341.8" y2="442.7"><stop offset="0" stop-color="#005e4d"/><stop offset=".12" stop-color="#00d3c5"/><stop offset=".185" stop-color="#00d9d9"/><stop offset=".3" stop-color="#00bfda"/><stop offset=".5" stop-color="#0090da"/><stop offset=".7" stop-color="#0061da"/><stop offset=".88" stop-color="#0035d4"/><stop offset="1" stop-color="#000c62"/></linearGradient><linearGradient id="g76" gradientUnits="userSpaceOnUse" x1="302.4" y1="337.6" x2="336.9" y2="444.4"><stop offset="0" stop-color="#005e4d"/><stop offset=".12" stop-color="#00d3c5"/><stop offset=".185" stop-color="#00d9d9"/><stop offset=".3" stop-color="#00bfda"/><stop offset=".5" stop-color="#0090da"/><stop offset=".7" stop-color="#0061da"/><stop offset=".88" stop-color="#0035d4"/><stop offset="1" stop-color="#000c65"/></linearGradient><linearGradient id="g77" gradientUnits="userSpaceOnUse" x1="297.5" y1="339.3" x2="332" y2="446.2"><stop offset="0" stop-color="#005e4d"/><stop offset=".12" stop-color="#00d3c5"/><stop offset=".185" stop-color="#00d9d9"/><stop offset=".3" stop-color="#00bfda"/><stop offset=".5" stop-color="#0090da"/><stop offset=".7" stop-color="#0061da"/><stop offset=".88" stop-color="#0035d4"/><stop offset="1" stop-color="#000c67"/></linearGradient><linearGradient id="g78" gradientUnits="userSpaceOnUse" x1="292.6" y1="341.1" x2="327.1" y2="447.9"><stop offset="0" stop-color="#005e4d"/><stop offset=".12" stop-color="#00d3c5"/><stop offset=".185" stop-color="#00d9d9"/><stop offset=".3" stop-color="#00bfda"/><stop offset=".5" stop-color="#0090da"/><stop offset=".7" stop-color="#0061da"/><stop offset=".88" stop-color="#0035d5"/><stop offset="1" stop-color="#000d69"/></linearGradient><linearGradient id="g79" gradientUnits="userSpaceOnUse" x1="287.7" y1="342.8" x2="322.1" y2="449.7"><stop offset="0" stop-color="#005e4d"/><stop offset=".12" stop-color="#00d3c5"/><stop offset=".185" stop-color="#00d9d9"/><stop offset=".3" stop-color="#00bfda"/><stop offset=".5" stop-color="#0090da"/><stop offset=".7" stop-color="#0061da"/><stop offset=".88" stop-color="#0035d5"/><stop offset="1" stop-color="#000d6b"/></linearGradient><linearGradient id="g80" gradientUnits="userSpaceOnUse" x1="282.8" y1="344.6" x2="317.2" y2="451.4"><stop offset="0" stop-color="#005e4d"/><stop offset=".12" stop-color="#00d3c5"/><stop offset=".185" stop-color="#00d9d9"/><stop offset=".3" stop-color="#00bfda"/><stop offset=".5" stop-color="#0090da"/><stop offset=".7" stop-color="#0061da"/><stop offset=".88" stop-color="#0035d5"/><stop offset="1" stop-color="#000d6c"/></linearGradient><linearGradient id="g81" gradientUnits="userSpaceOnUse" x1="277.9" y1="346.3" x2="312.3" y2="453.2"><stop offset="0" stop-color="#005e4d"/><stop offset=".12" stop-color="#00d3c5"/><stop offset=".185" stop-color="#00d9d9"/><stop offset=".3" stop-color="#00bfda"/><stop offset=".5" stop-color="#0090da"/><stop offset=".7" stop-color="#0061da"/><stop offset=".88" stop-color="#0035d5"/><stop offset="1" stop-color="#000d6c"/></linearGradient><linearGradient id="g82" gradientUnits="userSpaceOnUse" x1="273" y1="348.1" x2="307.4" y2="454.9"><stop offset="0" stop-color="#005e4d"/><stop offset=".12" stop-color="#00d3c5"/><stop offset=".185" stop-color="#00d9d9"/><stop offset=".3" stop-color="#00bfda"/><stop offset=".5" stop-color="#0090da"/><stop offset=".7" stop-color="#0061da"/><stop offset=".88" stop-color="#0035d5"/><stop offset="1" stop-color="#000d6c"/></linearGradient><linearGradient id="g83" gradientUnits="userSpaceOnUse" x1="268.1" y1="349.8" x2="302.5" y2="456.7"><stop offset="0" stop-color="#005e4d"/><stop offset=".12" stop-color="#00d3c5"/><stop offset=".185" stop-color="#00d9d9"/><stop offset=".3" stop-color="#00bfda"/><stop offset=".5" stop-color="#0090da"/><stop offset=".7" stop-color="#0061da"/><stop offset=".88" stop-color="#0035d5"/><stop offset="1" stop-color="#000d6c"/></linearGradient><linearGradient id="g84" gradientUnits="userSpaceOnUse" x1="263.3" y1="351.6" x2="297.6" y2="458.4"><stop offset="0" stop-color="#005e4d"/><stop offset=".12" stop-color="#00d3c5"/><stop offset=".185" stop-color="#00d9d9"/><stop offset=".3" stop-color="#00bfda"/><stop offset=".5" stop-color="#0090da"/><stop offset=".7" stop-color="#0061da"/><stop offset=".88" stop-color="#0035d5"/><stop offset="1" stop-color="#000d6c"/></linearGradient><linearGradient id="g85" gradientUnits="userSpaceOnUse" x1="258.4" y1="353.3" x2="292.7" y2="460.2"><stop offset="0" stop-color="#005e4d"/><stop offset=".12" stop-color="#00d3c5"/><stop offset=".185" stop-color="#00d9d9"/><stop offset=".3" stop-color="#00bfda"/><stop offset=".5" stop-color="#0090da"/><stop offset=".7" stop-color="#0061da"/><stop offset=".88" stop-color="#0035d5"/><stop offset="1" stop-color="#000d6c"/></linearGradient><linearGradient id="g86" gradientUnits="userSpaceOnUse" x1="253.5" y1="355.1" x2="287.8" y2="461.9"><stop offset="0" stop-color="#005e4d"/><stop offset=".12" stop-color="#00d3c5"/><stop offset=".185" stop-color="#00d9d9"/><stop offset=".3" stop-color="#00bfda"/><stop offset=".5" stop-color="#0090da"/><stop offset=".7" stop-color="#0061da"/><stop offset=".88" stop-color="#0035d5"/><stop offset="1" stop-color="#000d6c"/></linearGradient><linearGradient id="g87" gradientUnits="userSpaceOnUse" x1="248.6" y1="356.8" x2="282.9" y2="463.7"><stop offset="0" stop-color="#005e4d"/><stop offset=".12" stop-color="#00d3c5"/><stop offset=".185" stop-color="#00d9d9"/><stop offset=".3" stop-color="#00bfda"/><stop offset=".5" stop-color="#0090da"/><stop offset=".7" stop-color="#0061da"/><stop offset=".88" stop-color="#0035d5"/><stop offset="1" stop-color="#000d6c"/></linearGradient><linearGradient id="g88" gradientUnits="userSpaceOnUse" x1="496.8" y1="293.4" x2="534.7" y2="288.2"><stop offset="0" stop-color="#00f5d0"/><stop offset=".12" stop-color="#00d1ad"/><stop offset=".3" stop-color="#008b70"/><stop offset=".5" stop-color="#005441"/><stop offset=".7" stop-color="#007e5e"/><stop offset=".88" stop-color="#00986d"/><stop offset="1" stop-color="#00a473"/></linearGradient><linearGradient id="g89" gradientUnits="userSpaceOnUse" x1="491.7" y1="301.5" x2="529.8" y2="290"><stop offset="0" stop-color="#00f6e0"/><stop offset=".12" stop-color="#00d1b9"/><stop offset=".3" stop-color="#008b76"/><stop offset=".5" stop-color="#005444"/><stop offset=".7" stop-color="#007f61"/><stop offset=".88" stop-color="#00986e"/><stop offset="1" stop-color="#00a473"/></linearGradient><linearGradient id="g90" gradientUnits="userSpaceOnUse" x1="486.6" y1="309.4" x2="524.9" y2="291.7"><stop offset="0" stop-color="#00f6f0"/><stop offset=".12" stop-color="#00d1c4"/><stop offset=".3" stop-color="#008a7c"/><stop offset=".5" stop-color="#005547"/><stop offset=".7" stop-color="#007f63"/><stop offset=".88" stop-color="#00986f"/><stop offset="1" stop-color="#00a472"/></linearGradient><linearGradient id="g91" gradientUnits="userSpaceOnUse" x1="481.5" y1="317.2" x2="520" y2="293.5"><stop offset="0" stop-color="#00ecf6"/><stop offset=".11" stop-color="#00d4d4"/><stop offset=".12" stop-color="#00d0cf"/><stop offset=".3" stop-color="#008981"/><stop offset=".5" stop-color="#00564b"/><stop offset=".7" stop-color="#007f66"/><stop offset=".88" stop-color="#009870"/><stop offset="1" stop-color="#00a472"/></linearGradient><linearGradient id="g92" gradientUnits="userSpaceOnUse" x1="476.4" y1="324.9" x2="515.1" y2="295.2"><stop offset="0" stop-color="#00dbf5"/><stop offset=".12" stop-color="#00c4cf"/><stop offset=".246" stop-color="#009e9e"/><stop offset=".3" stop-color="#008885"/><stop offset=".5" stop-color="#00574e"/><stop offset=".7" stop-color="#008069"/><stop offset=".88" stop-color="#009872"/><stop offset="1" stop-color="#00a472"/></linearGradient><linearGradient id="g93" gradientUnits="userSpaceOnUse" x1="471.3" y1="332.4" x2="510.2" y2="297"><stop offset="0" stop-color="#00cbf4"/><stop offset=".12" stop-color="#00b7cd"/><stop offset=".3" stop-color="#008486"/><stop offset=".344" stop-color="#007575"/><stop offset=".5" stop-color="#005852"/><stop offset=".7" stop-color="#00816c"/><stop offset=".88" stop-color="#009873"/><stop offset="1" stop-color="#00a472"/></linearGradient><linearGradient id="g94" gradientUnits="userSpaceOnUse" x1="466.3" y1="339.8" x2="505.3" y2="298.7"><stop offset="0" stop-color="#00bbf2"/><stop offset=".12" stop-color="#00aacb"/><stop offset=".3" stop-color="#007b84"/><stop offset=".418" stop-color="#005656"/><stop offset=".5" stop-color="#005a56"/><stop offset=".7" stop-color="#00826f"/><stop offset=".88" stop-color="#009974"/><stop offset="1" stop-color="#00a472"/></linearGradient><linearGradient id="g95" gradientUnits="userSpaceOnUse" x1="461.2" y1="347" x2="500.3" y2="300.5"><stop offset="0" stop-color="#00acf2"/><stop offset=".12" stop-color="#009eca"/><stop offset=".3" stop-color="#007583"/><stop offset=".475" stop-color="#005555"/><stop offset=".5" stop-color="#005b59"/><stop offset=".7" stop-color="#008271"/><stop offset=".88" stop-color="#009875"/><stop offset="1" stop-color="#00a372"/></linearGradient><linearGradient id="g96" gradientUnits="userSpaceOnUse" x1="456.1" y1="354.3" x2="495.4" y2="302.4"><stop offset="0" stop-color="#009ef4"/><stop offset=".12" stop-color="#0096cd"/><stop offset=".3" stop-color="#007388"/><stop offset=".5" stop-color="#005557"/><stop offset=".525" stop-color="#005d5d"/><stop offset=".7" stop-color="#007e70"/><stop offset=".88" stop-color="#009574"/><stop offset="1" stop-color="#00a070"/></linearGradient><linearGradient id="g97" gradientUnits="userSpaceOnUse" x1="451" y1="361.8" x2="490.5" y2="304.6"><stop offset="0" stop-color="#008ff5"/><stop offset=".12" stop-color="#008bce"/><stop offset=".3" stop-color="#006f8a"/><stop offset=".5" stop-color="#005155"/><stop offset=".569" stop-color="#006565"/><stop offset=".7" stop-color="#007c71"/><stop offset=".88" stop-color="#009374"/><stop offset="1" stop-color="#009e6f"/></linearGradient><linearGradient id="g98" gradientUnits="userSpaceOnUse" x1="445.9" y1="369.2" x2="485.6" y2="306.8"><stop offset="0" stop-color="#0080f4"/><stop offset=".12" stop-color="#007fcd"/><stop offset=".3" stop-color="#006788"/><stop offset=".5" stop-color="#004e56"/><stop offset=".607" stop-color="#006d6d"/><stop offset=".7" stop-color="#007c74"/><stop offset=".88" stop-color="#009275"/><stop offset="1" stop-color="#009d6f"/></linearGradient><linearGradient id="g99" gradientUnits="userSpaceOnUse" x1="440.9" y1="376.3" x2="480.6" y2="309.2"><stop offset="0" stop-color="#0071f2"/><stop offset=".12" stop-color="#0072ca"/><stop offset=".3" stop-color="#005d83"/><stop offset=".5" stop-color="#004e59"/><stop offset=".64" stop-color="#007575"/><stop offset=".7" stop-color="#007e78"/><stop offset=".88" stop-color="#009377"/><stop offset="1" stop-color="#009c70"/></linearGradient><linearGradient id="g100" gradientUnits="userSpaceOnUse" x1="435.8" y1="383" x2="475.7" y2="311.6"><stop offset="0" stop-color="#0062ee"/><stop offset=".12" stop-color="#0064c2"/><stop offset=".3" stop-color="#005279"/><stop offset=".5" stop-color="#00515e"/><stop offset=".667" stop-color="#007d7d"/><stop offset=".7" stop-color="#00817e"/><stop offset=".88" stop-color="#00947a"/><stop offset="1" stop-color="#009c71"/></linearGradient><linearGradient id="g101" gradientUnits="userSpaceOnUse" x1="430.8" y1="389" x2="470.8" y2="314"><stop offset="0" stop-color="#0053e5"/><stop offset=".12" stop-color="#0056b6"/><stop offset=".3" stop-color="#00446a"/><stop offset=".5" stop-color="#005567"/><stop offset=".689" stop-color="#008585"/><stop offset=".7" stop-color="#008685"/><stop offset=".88" stop-color="#00967d"/><stop offset="1" stop-color="#009d73"/></linearGradient><linearGradient id="g102" gradientUnits="userSpaceOnUse" x1="425.8" y1="394.2" x2="465.9" y2="316.3"><stop offset="0" stop-color="#0046d6"/><stop offset=".12" stop-color="#0047a2"/><stop offset=".3" stop-color="#003556"/><stop offset=".5" stop-color="#005b72"/><stop offset=".7" stop-color="#008b8c"/><stop offset=".706" stop-color="#008d8d"/><stop offset=".88" stop-color="#009981"/><stop offset="1" stop-color="#009f75"/></linearGradient><linearGradient id="g103" gradientUnits="userSpaceOnUse" x1="420.8" y1="398.8" x2="460.9" y2="318.6"><stop offset="0" stop-color="#003dd0"/><stop offset=".12" stop-color="#003f9a"/><stop offset=".3" stop-color="#002e4f"/><stop offset=".5" stop-color="#005c75"/><stop offset=".7" stop-color="#008b8d"/><stop offset=".72" stop-color="#008f8f"/><stop offset=".88" stop-color="#009983"/><stop offset="1" stop-color="#009e75"/></linearGradient><linearGradient id="g104" gradientUnits="userSpaceOnUse" x1="415.8" y1="403.1" x2="456" y2="321"><stop offset="0" stop-color="#0036cc"/><stop offset=".12" stop-color="#003a95"/><stop offset=".3" stop-color="#002c4e"/><stop offset=".5" stop-color="#005b77"/><stop offset=".7" stop-color="#00898e"/><stop offset=".732" stop-color="#009191"/><stop offset=".88" stop-color="#009984"/><stop offset="1" stop-color="#009e76"/></linearGradient><linearGradient id="g105" gradientUnits="userSpaceOnUse" x1="410.8" y1="407.3" x2="451.1" y2="323.4"><stop offset="0" stop-color="#0030c7"/><stop offset=".12" stop-color="#00348f"/><stop offset=".3" stop-color="#002d53"/><stop offset=".5" stop-color="#005b7a"/><stop offset=".7" stop-color="#008990"/><stop offset=".745" stop-color="#009393"/><stop offset=".88" stop-color="#009a86"/><stop offset="1" stop-color="#009e77"/></linearGradient><linearGradient id="g106" gradientUnits="userSpaceOnUse" x1="405.8" y1="411.2" x2="446.1" y2="325.8"><stop offset="0" stop-color="#0029bf"/><stop offset=".12" stop-color="#002e86"/><stop offset=".3" stop-color="#002f58"/><stop offset=".5" stop-color="#005c7d"/><stop offset=".7" stop-color="#008a92"/><stop offset=".755" stop-color="#009696"/><stop offset=".88" stop-color="#009b89"/><stop offset="1" stop-color="#009f79"/></linearGradient><linearGradient id="g107" gradientUnits="userSpaceOnUse" x1="400.9" y1="414.8" x2="441.2" y2="328.1"><stop offset="0" stop-color="#0023b5"/><stop offset=".12" stop-color="#00287b"/><stop offset=".3" stop-color="#003160"/><stop offset=".5" stop-color="#005e82"/><stop offset=".7" stop-color="#008b95"/><stop offset=".765" stop-color="#009999"/><stop offset=".88" stop-color="#009e8c"/><stop offset="1" stop-color="#00a17b"/></linearGradient><linearGradient id="g108" gradientUnits="userSpaceOnUse" x1="395.9" y1="418.1" x2="436.3" y2="330.3"><stop offset="0" stop-color="#001ea8"/><stop offset=".12" stop-color="#00226e"/><stop offset=".3" stop-color="#003468"/><stop offset=".5" stop-color="#006088"/><stop offset=".7" stop-color="#008d99"/><stop offset=".772" stop-color="#009d9d"/><stop offset=".88" stop-color="#00a08f"/><stop offset="1" stop-color="#00a37d"/></linearGradient><linearGradient id="g109" gradientUnits="userSpaceOnUse" x1="391" y1="421.1" x2="431.4" y2="332.3"><stop offset="0" stop-color="#001998"/><stop offset=".12" stop-color="#001b5d"/><stop offset=".3" stop-color="#003771"/><stop offset=".5" stop-color="#00648e"/><stop offset=".7" stop-color="#00909d"/><stop offset=".776" stop-color="#00a1a1"/><stop offset=".88" stop-color="#00a392"/><stop offset="1" stop-color="#00a580"/></linearGradient><linearGradient id="g110" gradientUnits="userSpaceOnUse" x1="386" y1="423.7" x2="426.5" y2="334.1"><stop offset="0" stop-color="#00168d"/><stop offset=".12" stop-color="#001853"/><stop offset=".3" stop-color="#003977"/><stop offset=".5" stop-color="#006692"/><stop offset=".7" stop-color="#00929f"/><stop offset=".779" stop-color="#00a3a3"/><stop offset=".88" stop-color="#00a594"/><stop offset="1" stop-color="#00a681"/></linearGradient><linearGradient id="g111" gradientUnits="userSpaceOnUse" x1="381.1" y1="426.2" x2="421.6" y2="335.9"><stop offset="0" stop-color="#001489"/><stop offset=".12" stop-color="#001751"/><stop offset=".3" stop-color="#003977"/><stop offset=".5" stop-color="#006592"/><stop offset=".7" stop-color="#00919f"/><stop offset=".78" stop-color="#00a3a3"/><stop offset=".88" stop-color="#00a594"/><stop offset="1" stop-color="#00a681"/></linearGradient><linearGradient id="g112" gradientUnits="userSpaceOnUse" x1="376.2" y1="428.6" x2="416.7" y2="337.6"><stop offset="0" stop-color="#001385"/><stop offset=".12" stop-color="#00154e"/><stop offset=".3" stop-color="#003878"/><stop offset=".5" stop-color="#006592"/><stop offset=".7" stop-color="#00919f"/><stop offset=".782" stop-color="#00a3a3"/><stop offset=".88" stop-color="#00a594"/><stop offset="1" stop-color="#00a681"/></linearGradient><linearGradient id="g113" gradientUnits="userSpaceOnUse" x1="371.2" y1="431" x2="411.8" y2="339.4"><stop offset="0" stop-color="#00117f"/><stop offset=".12" stop-color="#00154e"/><stop offset=".3" stop-color="#003879"/><stop offset=".5" stop-color="#006492"/><stop offset=".7" stop-color="#00909f"/><stop offset=".783" stop-color="#00a2a2"/><stop offset=".88" stop-color="#00a494"/><stop offset="1" stop-color="#00a680"/></linearGradient><linearGradient id="g114" gradientUnits="userSpaceOnUse" x1="366.3" y1="433.2" x2="406.8" y2="341.1"><stop offset="0" stop-color="#000f78"/><stop offset=".12" stop-color="#001551"/><stop offset=".3" stop-color="#00387a"/><stop offset=".5" stop-color="#006492"/><stop offset=".7" stop-color="#00909f"/><stop offset=".784" stop-color="#00a2a2"/><stop offset=".88" stop-color="#00a494"/><stop offset="1" stop-color="#00a580"/></linearGradient><linearGradient id="g115" gradientUnits="userSpaceOnUse" x1="361.4" y1="435.4" x2="401.9" y2="342.9"><stop offset="0" stop-color="#000e70"/><stop offset=".12" stop-color="#001655"/><stop offset=".3" stop-color="#00387b"/><stop offset=".5" stop-color="#006492"/><stop offset=".7" stop-color="#008f9e"/><stop offset=".785" stop-color="#00a2a2"/><stop offset=".88" stop-color="#00a393"/><stop offset="1" stop-color="#00a47f"/></linearGradient><linearGradient id="g116" gradientUnits="userSpaceOnUse" x1="356.5" y1="437.4" x2="397" y2="344.6"><stop offset="0" stop-color="#000d68"/><stop offset=".12" stop-color="#001759"/><stop offset=".3" stop-color="#00397d"/><stop offset=".5" stop-color="#006493"/><stop offset=".7" stop-color="#008f9e"/><stop offset=".786" stop-color="#00a1a1"/><stop offset=".88" stop-color="#00a393"/><stop offset="1" stop-color="#00a47f"/></linearGradient><linearGradient id="g117" gradientUnits="userSpaceOnUse" x1="351.6" y1="439.2" x2="392.1" y2="346.4"><stop offset="0" stop-color="#000c60"/><stop offset=".12" stop-color="#00175c"/><stop offset=".3" stop-color="#00397d"/><stop offset=".5" stop-color="#006392"/><stop offset=".7" stop-color="#008d9c"/><stop offset=".786" stop-color="#00a09f"/><stop offset=".88" stop-color="#00a191"/><stop offset="1" stop-color="#00a27d"/></linearGradient><linearGradient id="g118" gradientUnits="userSpaceOnUse" x1="346.7" y1="440.9" x2="387.2" y2="348.4"><stop offset="0" stop-color="#000c61"/><stop offset=".12" stop-color="#001759"/><stop offset=".3" stop-color="#003778"/><stop offset=".5" stop-color="#005f8c"/><stop offset=".7" stop-color="#008897"/><stop offset=".788" stop-color="#009a9a"/><stop offset=".88" stop-color="#009b8c"/><stop offset="1" stop-color="#009c79"/></linearGradient><linearGradient id="g119" gradientUnits="userSpaceOnUse" x1="341.8" y1="442.7" x2="382.3" y2="350.7"><stop offset="0" stop-color="#000c62"/><stop offset=".12" stop-color="#001655"/><stop offset=".3" stop-color="#003472"/><stop offset=".5" stop-color="#005b86"/><stop offset=".7" stop-color="#008291"/><stop offset=".792" stop-color="#009494"/><stop offset=".88" stop-color="#009688"/><stop offset="1" stop-color="#009776"/></linearGradient><linearGradient id="g120" gradientUnits="userSpaceOnUse" x1="336.9" y1="444.4" x2="377.4" y2="353.1"><stop offset="0" stop-color="#000c65"/><stop offset=".12" stop-color="#001551"/><stop offset=".3" stop-color="#00316d"/><stop offset=".5" stop-color="#005781"/><stop offset=".7" stop-color="#007d8c"/><stop offset=".797" stop-color="#009090"/><stop offset=".88" stop-color="#009285"/><stop offset="1" stop-color="#009374"/></linearGradient><linearGradient id="g121" gradientUnits="userSpaceOnUse" x1="332" y1="446.2" x2="372.5" y2="355.6"><stop offset="0" stop-color="#000c67"/><stop offset=".12" stop-color="#00144e"/><stop offset=".3" stop-color="#002f69"/><stop offset=".5" stop-color="#00537d"/><stop offset=".7" stop-color="#007989"/><stop offset=".803" stop-color="#008d8d"/><stop offset=".88" stop-color="#008f83"/><stop offset="1" stop-color="#009073"/></linearGradient><linearGradient id="g122" gradientUnits="userSpaceOnUse" x1="327.1" y1="447.9" x2="367.5" y2="358"><stop offset="0" stop-color="#000d69"/><stop offset=".12" stop-color="#00144f"/><stop offset=".3" stop-color="#002d65"/><stop offset=".5" stop-color="#005179"/><stop offset=".7" stop-color="#007786"/><stop offset=".809" stop-color="#008b8b"/><stop offset=".88" stop-color="#008d83"/><stop offset="1" stop-color="#008f73"/></linearGradient><linearGradient id="g123" gradientUnits="userSpaceOnUse" x1="322.1" y1="449.7" x2="362.6" y2="360.3"><stop offset="0" stop-color="#000d6b"/><stop offset=".12" stop-color="#001452"/><stop offset=".3" stop-color="#002c63"/><stop offset=".5" stop-color="#004f78"/><stop offset=".7" stop-color="#007586"/><stop offset=".813" stop-color="#008b8b"/><stop offset=".88" stop-color="#008d84"/><stop offset="1" stop-color="#009075"/></linearGradient><linearGradient id="g124" gradientUnits="userSpaceOnUse" x1="317.2" y1="451.4" x2="357.7" y2="362.3"><stop offset="0" stop-color="#000d6c"/><stop offset=".12" stop-color="#001553"/><stop offset=".3" stop-color="#002b61"/><stop offset=".5" stop-color="#004f78"/><stop offset=".7" stop-color="#007687"/><stop offset=".815" stop-color="#008e8d"/><stop offset=".88" stop-color="#009086"/><stop offset="1" stop-color="#009377"/></linearGradient><linearGradient id="g125" gradientUnits="userSpaceOnUse" x1="312.3" y1="453.2" x2="352.8" y2="364"><stop offset="0" stop-color="#000d6c"/><stop offset=".12" stop-color="#001555"/><stop offset=".3" stop-color="#002a5e"/><stop offset=".5" stop-color="#004d74"/><stop offset=".7" stop-color="#007484"/><stop offset=".815" stop-color="#008b8b"/><stop offset=".88" stop-color="#008d84"/><stop offset="1" stop-color="#009176"/></linearGradient><linearGradient id="g126" gradientUnits="userSpaceOnUse" x1="307.4" y1="454.9" x2="347.9" y2="365.8"><stop offset="0" stop-color="#000d6c"/><stop offset=".12" stop-color="#001658"/><stop offset=".3" stop-color="#00285a"/><stop offset=".5" stop-color="#00496f"/><stop offset=".7" stop-color="#006f7f"/><stop offset=".815" stop-color="#008686"/><stop offset=".88" stop-color="#00887f"/><stop offset="1" stop-color="#008c72"/></linearGradient><linearGradient id="g127" gradientUnits="userSpaceOnUse" x1="302.5" y1="456.7" x2="343" y2="367.5"><stop offset="0" stop-color="#000d6c"/><stop offset=".12" stop-color="#00165a"/><stop offset=".3" stop-color="#002656"/><stop offset=".5" stop-color="#004569"/><stop offset=".7" stop-color="#006a79"/><stop offset=".815" stop-color="#008080"/><stop offset=".88" stop-color="#00837a"/><stop offset="1" stop-color="#00876e"/></linearGradient><linearGradient id="g128" gradientUnits="userSpaceOnUse" x1="297.6" y1="458.4" x2="338.1" y2="369.3"><stop offset="0" stop-color="#000d6c"/><stop offset=".12" stop-color="#00175c"/><stop offset=".3" stop-color="#002452"/><stop offset=".5" stop-color="#004163"/><stop offset=".7" stop-color="#006472"/><stop offset=".815" stop-color="#007979"/><stop offset=".88" stop-color="#007c74"/><stop offset="1" stop-color="#008168"/></linearGradient><linearGradient id="g129" gradientUnits="userSpaceOnUse" x1="292.7" y1="460.2" x2="333.2" y2="371.1"><stop offset="0" stop-color="#000d6c"/><stop offset=".12" stop-color="#00185f"/><stop offset=".3" stop-color="#00224d"/><stop offset=".5" stop-color="#003d5d"/><stop offset=".7" stop-color="#005d6a"/><stop offset=".815" stop-color="#007171"/><stop offset=".88" stop-color="#00746d"/><stop offset="1" stop-color="#007962"/></linearGradient><linearGradient id="g130" gradientUnits="userSpaceOnUse" x1="287.8" y1="461.9" x2="328.3" y2="372.8"><stop offset="0" stop-color="#000d6c"/><stop offset=".12" stop-color="#001861"/><stop offset=".3" stop-color="#002451"/><stop offset=".5" stop-color="#003956"/><stop offset=".7" stop-color="#005662"/><stop offset=".815" stop-color="#006868"/><stop offset=".88" stop-color="#006b64"/><stop offset="1" stop-color="#00705b"/></linearGradient><linearGradient id="g131" gradientUnits="userSpaceOnUse" x1="282.9" y1="463.7" x2="323.4" y2="374.6"><stop offset="0" stop-color="#000d6c"/><stop offset=".12" stop-color="#001963"/><stop offset=".3" stop-color="#002657"/><stop offset=".5" stop-color="#00344f"/><stop offset=".7" stop-color="#004e59"/><stop offset=".815" stop-color="#005f5f"/><stop offset=".88" stop-color="#00615b"/><stop offset="1" stop-color="#006552"/></linearGradient><linearGradient id="g132" gradientUnits="userSpaceOnUse" x1="534.7" y1="288.2" x2="575.5" y2="185.4"><stop offset="0" stop-color="#00a473"/><stop offset=".12" stop-color="#009552"/><stop offset=".3" stop-color="#007a28"/><stop offset=".5" stop-color="#005806"/><stop offset=".553" stop-color="#004f00"/><stop offset=".7" stop-color="#125e00"/><stop offset=".88" stop-color="#398800"/><stop offset="1" stop-color="#5da200"/></linearGradient><linearGradient id="g133" gradientUnits="userSpaceOnUse" x1="529.8" y1="290" x2="570.4" y2="195.2"><stop offset="0" stop-color="#00a473"/><stop offset=".12" stop-color="#009554"/><stop offset=".3" stop-color="#007b2c"/><stop offset=".5" stop-color="#00590a"/><stop offset=".595" stop-color="#004800"/><stop offset=".7" stop-color="#0c5d00"/><stop offset=".88" stop-color="#2e8700"/><stop offset="1" stop-color="#4ea200"/></linearGradient><linearGradient id="g134" gradientUnits="userSpaceOnUse" x1="524.9" y1="291.7" x2="565.2" y2="204.6"><stop offset="0" stop-color="#00a472"/><stop offset=".12" stop-color="#009556"/><stop offset=".3" stop-color="#007c2f"/><stop offset=".5" stop-color="#005b0f"/><stop offset=".643" stop-color="#004d00"/><stop offset=".7" stop-color="#065b00"/><stop offset=".88" stop-color="#248600"/><stop offset="1" stop-color="#40a100"/></linearGradient><linearGradient id="g135" gradientUnits="userSpaceOnUse" x1="520" y1="293.5" x2="560.1" y2="213.7"><stop offset="0" stop-color="#00a472"/><stop offset=".12" stop-color="#009657"/><stop offset=".3" stop-color="#007d33"/><stop offset=".5" stop-color="#005d13"/><stop offset=".696" stop-color="#005700"/><stop offset=".7" stop-color="#005800"/><stop offset=".88" stop-color="#198300"/><stop offset="1" stop-color="#329f00"/></linearGradient><linearGradient id="g136" gradientUnits="userSpaceOnUse" x1="515.1" y1="295.2" x2="555" y2="222.2"><stop offset="0" stop-color="#00a472"/><stop offset=".12" stop-color="#009659"/><stop offset=".3" stop-color="#007f36"/><stop offset=".5" stop-color="#005f17"/><stop offset=".7" stop-color="#005504"/><stop offset=".754" stop-color="#006100"/><stop offset=".88" stop-color="#107f00"/><stop offset="1" stop-color="#259c00"/></linearGradient><linearGradient id="g137" gradientUnits="userSpaceOnUse" x1="510.2" y1="297" x2="549.9" y2="230.3"><stop offset="0" stop-color="#00a472"/><stop offset=".12" stop-color="#00975b"/><stop offset=".3" stop-color="#00813a"/><stop offset=".5" stop-color="#00631c"/><stop offset=".7" stop-color="#005008"/><stop offset=".817" stop-color="#006b00"/><stop offset=".88" stop-color="#077b00"/><stop offset="1" stop-color="#199800"/></linearGradient><linearGradient id="g138" gradientUnits="userSpaceOnUse" x1="505.3" y1="298.7" x2="544.8" y2="237.9"><stop offset="0" stop-color="#00a472"/><stop offset=".12" stop-color="#00985c"/><stop offset=".3" stop-color="#00833e"/><stop offset=".5" stop-color="#006720"/><stop offset=".7" stop-color="#004b0b"/><stop offset=".88" stop-color="#007400"/><stop offset=".885" stop-color="#007600"/><stop offset="1" stop-color="#0e9200"/></linearGradient><linearGradient id="g139" gradientUnits="userSpaceOnUse" x1="500.3" y1="300.5" x2="539.7" y2="244.9"><stop offset="0" stop-color="#00a372"/><stop offset=".12" stop-color="#00985d"/><stop offset=".3" stop-color="#008541"/><stop offset=".5" stop-color="#006a24"/><stop offset=".7" stop-color="#00490e"/><stop offset=".88" stop-color="#007007"/><stop offset=".957" stop-color="#008200"/><stop offset="1" stop-color="#058d00"/></linearGradient><linearGradient id="g140" gradientUnits="userSpaceOnUse" x1="495.4" y1="302.4" x2="534.7" y2="251.7"><stop offset="0" stop-color="#00a070"/><stop offset=".12" stop-color="#00965d"/><stop offset=".3" stop-color="#008342"/><stop offset=".5" stop-color="#006827"/><stop offset=".7" stop-color="#004811"/><stop offset=".88" stop-color="#00720d"/><stop offset="1" stop-color="#008f04"/></linearGradient><linearGradient id="g141" gradientUnits="userSpaceOnUse" x1="490.5" y1="304.6" x2="529.6" y2="258.4"><stop offset="0" stop-color="#009e6f"/><stop offset=".12" stop-color="#00945e"/><stop offset=".3" stop-color="#008244"/><stop offset=".5" stop-color="#00682a"/><stop offset=".7" stop-color="#004914"/><stop offset=".88" stop-color="#007213"/><stop offset="1" stop-color="#008f0c"/></linearGradient><linearGradient id="g142" gradientUnits="userSpaceOnUse" x1="485.6" y1="306.8" x2="524.6" y2="264.8"><stop offset="0" stop-color="#009d6f"/><stop offset=".12" stop-color="#00945f"/><stop offset=".3" stop-color="#008347"/><stop offset=".5" stop-color="#006a2e"/><stop offset=".7" stop-color="#004c18"/><stop offset=".88" stop-color="#006e17"/><stop offset="1" stop-color="#008c14"/></linearGradient><linearGradient id="g143" gradientUnits="userSpaceOnUse" x1="480.6" y1="309.2" x2="519.5" y2="270.8"><stop offset="0" stop-color="#009c70"/><stop offset=".12" stop-color="#009461"/><stop offset=".3" stop-color="#00844a"/><stop offset=".5" stop-color="#006e33"/><stop offset=".7" stop-color="#00511d"/><stop offset=".88" stop-color="#00661a"/><stop offset="1" stop-color="#008519"/></linearGradient><linearGradient id="g144" gradientUnits="userSpaceOnUse" x1="475.7" y1="311.6" x2="514.5" y2="276.3"><stop offset="0" stop-color="#009c71"/><stop offset=".12" stop-color="#009563"/><stop offset=".3" stop-color="#00884f"/><stop offset=".5" stop-color="#007438"/><stop offset=".7" stop-color="#005a23"/><stop offset=".88" stop-color="#00591a"/><stop offset="1" stop-color="#00781c"/></linearGradient><linearGradient id="g145" gradientUnits="userSpaceOnUse" x1="470.8" y1="314" x2="509.5" y2="281.1"><stop offset="0" stop-color="#009d73"/><stop offset=".12" stop-color="#009766"/><stop offset=".3" stop-color="#008c53"/><stop offset=".5" stop-color="#007c3e"/><stop offset=".7" stop-color="#006529"/><stop offset=".88" stop-color="#004918"/><stop offset="1" stop-color="#00641b"/></linearGradient><linearGradient id="g146" gradientUnits="userSpaceOnUse" x1="465.9" y1="316.3" x2="504.5" y2="285.1"><stop offset="0" stop-color="#009f75"/><stop offset=".12" stop-color="#009a69"/><stop offset=".3" stop-color="#009158"/><stop offset=".5" stop-color="#008545"/><stop offset=".7" stop-color="#007331"/><stop offset=".88" stop-color="#005c20"/><stop offset="1" stop-color="#004916"/></linearGradient><linearGradient id="g147" gradientUnits="userSpaceOnUse" x1="460.9" y1="318.6" x2="499.6" y2="288.3"><stop offset="0" stop-color="#009e75"/><stop offset=".12" stop-color="#009b6b"/><stop offset=".3" stop-color="#00945b"/><stop offset=".5" stop-color="#008949"/><stop offset=".7" stop-color="#007b36"/><stop offset=".88" stop-color="#006725"/><stop offset="1" stop-color="#00551a"/></linearGradient><linearGradient id="g148" gradientUnits="userSpaceOnUse" x1="456" y1="321" x2="494.6" y2="291.1"><stop offset="0" stop-color="#009e76"/><stop offset=".12" stop-color="#009b6c"/><stop offset=".3" stop-color="#00955d"/><stop offset=".5" stop-color="#008c4b"/><stop offset=".7" stop-color="#007f3a"/><stop offset=".88" stop-color="#006e29"/><stop offset="1" stop-color="#005d1e"/></linearGradient><linearGradient id="g149" gradientUnits="userSpaceOnUse" x1="451.1" y1="323.4" x2="489.7" y2="293.7"><stop offset="0" stop-color="#009e77"/><stop offset=".12" stop-color="#009b6d"/><stop offset=".3" stop-color="#00965f"/><stop offset=".5" stop-color="#008e4e"/><stop offset=".7" stop-color="#00823c"/><stop offset=".88" stop-color="#00722c"/><stop offset="1" stop-color="#006221"/></linearGradient><linearGradient id="g150" gradientUnits="userSpaceOnUse" x1="446.1" y1="325.8" x2="484.8" y2="296.1"><stop offset="0" stop-color="#009f79"/><stop offset=".12" stop-color="#009c6f"/><stop offset=".3" stop-color="#009760"/><stop offset=".5" stop-color="#008f4f"/><stop offset=".7" stop-color="#00833e"/><stop offset=".88" stop-color="#00732d"/><stop offset="1" stop-color="#006322"/></linearGradient><linearGradient id="g151" gradientUnits="userSpaceOnUse" x1="441.2" y1="328.1" x2="479.8" y2="298.6"><stop offset="0" stop-color="#00a17b"/><stop offset=".12" stop-color="#009e71"/><stop offset=".3" stop-color="#009862"/><stop offset=".5" stop-color="#008f50"/><stop offset=".7" stop-color="#00833e"/><stop offset=".88" stop-color="#00712d"/><stop offset="1" stop-color="#006021"/></linearGradient><linearGradient id="g152" gradientUnits="userSpaceOnUse" x1="436.3" y1="330.3" x2="474.9" y2="301.3"><stop offset="0" stop-color="#00a37d"/><stop offset=".12" stop-color="#009f73"/><stop offset=".3" stop-color="#009963"/><stop offset=".5" stop-color="#008f51"/><stop offset=".7" stop-color="#00813e"/><stop offset=".88" stop-color="#006c2c"/><stop offset="1" stop-color="#005920"/></linearGradient><linearGradient id="g153" gradientUnits="userSpaceOnUse" x1="431.4" y1="332.3" x2="470" y2="304.2"><stop offset="0" stop-color="#00a580"/><stop offset=".12" stop-color="#00a175"/><stop offset=".3" stop-color="#009965"/><stop offset=".5" stop-color="#008e52"/><stop offset=".7" stop-color="#007c3d"/><stop offset=".88" stop-color="#00642a"/><stop offset="1" stop-color="#004d1d"/></linearGradient><linearGradient id="g154" gradientUnits="userSpaceOnUse" x1="426.5" y1="334.1" x2="465" y2="307.6"><stop offset="0" stop-color="#00a681"/><stop offset=".12" stop-color="#00a176"/><stop offset=".3" stop-color="#009764"/><stop offset=".5" stop-color="#008850"/><stop offset=".7" stop-color="#00713a"/><stop offset=".88" stop-color="#005324"/><stop offset="1" stop-color="#005f25"/></linearGradient><linearGradient id="g155" gradientUnits="userSpaceOnUse" x1="421.6" y1="335.9" x2="460" y2="311.9"><stop offset="0" stop-color="#00a681"/><stop offset=".12" stop-color="#00a075"/><stop offset=".3" stop-color="#009362"/><stop offset=".5" stop-color="#007f4c"/><stop offset=".7" stop-color="#006334"/><stop offset=".88" stop-color="#005829"/><stop offset="1" stop-color="#008035"/></linearGradient><linearGradient id="g156" gradientUnits="userSpaceOnUse" x1="416.7" y1="337.6" x2="455" y2="317"><stop offset="0" stop-color="#00a681"/><stop offset=".12" stop-color="#009e75"/><stop offset=".3" stop-color="#008f61"/><stop offset=".5" stop-color="#00774a"/><stop offset=".7" stop-color="#00562f"/><stop offset=".88" stop-color="#006f37"/><stop offset="1" stop-color="#009845"/></linearGradient><linearGradient id="g157" gradientUnits="userSpaceOnUse" x1="411.8" y1="339.4" x2="450" y2="322.7"><stop offset="0" stop-color="#00a680"/><stop offset=".12" stop-color="#009d74"/><stop offset=".3" stop-color="#008b61"/><stop offset=".5" stop-color="#007048"/><stop offset=".7" stop-color="#004a2b"/><stop offset=".88" stop-color="#008245"/><stop offset="1" stop-color="#00aa55"/></linearGradient><linearGradient id="g158" gradientUnits="userSpaceOnUse" x1="406.8" y1="341.1" x2="444.9" y2="328.9"><stop offset="0" stop-color="#00a580"/><stop offset=".12" stop-color="#009b74"/><stop offset=".3" stop-color="#008860"/><stop offset=".5" stop-color="#006a46"/><stop offset=".7" stop-color="#005635"/><stop offset=".88" stop-color="#009153"/><stop offset="1" stop-color="#00b865"/></linearGradient><linearGradient id="g159" gradientUnits="userSpaceOnUse" x1="401.9" y1="342.9" x2="439.9" y2="335.4"><stop offset="0" stop-color="#00a47f"/><stop offset=".12" stop-color="#009a74"/><stop offset=".3" stop-color="#008560"/><stop offset=".5" stop-color="#006546"/><stop offset=".7" stop-color="#00603f"/><stop offset=".88" stop-color="#009c61"/><stop offset="1" stop-color="#00c274"/></linearGradient><linearGradient id="g160" gradientUnits="userSpaceOnUse" x1="397" y1="344.6" x2="434.8" y2="342.1"><stop offset="0" stop-color="#00a47f"/><stop offset=".12" stop-color="#009974"/><stop offset=".3" stop-color="#008361"/><stop offset=".5" stop-color="#006145"/><stop offset=".7" stop-color="#006847"/><stop offset=".88" stop-color="#00a36d"/><stop offset="1" stop-color="#00c983"/></linearGradient><linearGradient id="g161" gradientUnits="userSpaceOnUse" x1="392.1" y1="346.4" x2="429.8" y2="348.8"><stop offset="0" stop-color="#00a27d"/><stop offset=".12" stop-color="#009673"/><stop offset=".3" stop-color="#007f60"/><stop offset=".5" stop-color="#005c44"/><stop offset=".7" stop-color="#007152"/><stop offset=".88" stop-color="#00ac7b"/><stop offset="1" stop-color="#00d093"/></linearGradient><linearGradient id="g162" gradientUnits="userSpaceOnUse" x1="387.2" y1="348.4" x2="424.7" y2="356"><stop offset="0" stop-color="#009c79"/><stop offset=".12" stop-color="#007f62"/><stop offset=".3" stop-color="#007b5f"/><stop offset=".5" stop-color="#00d2a2"/><stop offset=".7" stop-color="#00e3ae"/><stop offset=".88" stop-color="#00e1ad"/><stop offset="1" stop-color="#00dda9"/></linearGradient><linearGradient id="g163" gradientUnits="userSpaceOnUse" x1="382.3" y1="350.7" x2="419.6" y2="363.9"><stop offset="0" stop-color="#009776"/><stop offset=".12" stop-color="#00725a"/><stop offset=".3" stop-color="#00a684"/><stop offset=".5" stop-color="#00f4c5"/><stop offset=".7" stop-color="#00fdce"/><stop offset=".88" stop-color="#00f2c7"/><stop offset="1" stop-color="#00e6be"/></linearGradient><linearGradient id="g164" gradientUnits="userSpaceOnUse" x1="377.4" y1="353.1" x2="414.5" y2="372.3"><stop offset="0" stop-color="#009374"/><stop offset=".12" stop-color="#006551"/><stop offset=".3" stop-color="#00cda8"/><stop offset=".5" stop-color="#00ffe2"/><stop offset=".7" stop-color="#01ffec"/><stop offset=".88" stop-color="#00ffe2"/><stop offset="1" stop-color="#00ecd3"/></linearGradient><linearGradient id="g165" gradientUnits="userSpaceOnUse" x1="372.5" y1="355.6" x2="409.4" y2="380.9"><stop offset="0" stop-color="#009073"/><stop offset=".12" stop-color="#005748"/><stop offset=".3" stop-color="#00eac7"/><stop offset=".5" stop-color="#01fff9"/><stop offset=".7" stop-color="#02ffff"/><stop offset=".88" stop-color="#00fffc"/><stop offset="1" stop-color="#00f0e8"/></linearGradient><linearGradient id="g166" gradientUnits="userSpaceOnUse" x1="367.5" y1="358" x2="404.3" y2="389.6"><stop offset="0" stop-color="#008f73"/><stop offset=".12" stop-color="#004d40"/><stop offset=".3" stop-color="#00fcdd"/><stop offset=".5" stop-color="#02ffff"/><stop offset=".7" stop-color="#03ffff"/><stop offset=".833" stop-color="#02ffff"/><stop offset=".88" stop-color="#00ffff"/><stop offset="1" stop-color="#00e7f2"/></linearGradient><linearGradient id="g167" gradientUnits="userSpaceOnUse" x1="362.6" y1="360.3" x2="399.2" y2="398.2"><stop offset="0" stop-color="#009075"/><stop offset=".12" stop-color="#005d4f"/><stop offset=".3" stop-color="#00ffe9"/><stop offset=".5" stop-color="#01ffff"/><stop offset=".634" stop-color="#03ffff"/><stop offset=".7" stop-color="#04ffff"/><stop offset=".88" stop-color="#01ffff"/><stop offset="1" stop-color="#00d5f2"/></linearGradient><linearGradient id="g168" gradientUnits="userSpaceOnUse" x1="357.7" y1="362.3" x2="394.1" y2="406.4"><stop offset="0" stop-color="#009377"/><stop offset=".12" stop-color="#006a5b"/><stop offset=".3" stop-color="#00ffec"/><stop offset=".5" stop-color="#01ffff"/><stop offset=".515" stop-color="#01ffff"/><stop offset=".7" stop-color="#03ffff"/><stop offset=".88" stop-color="#01f7ff"/><stop offset="1" stop-color="#00c3f1"/></linearGradient><linearGradient id="g169" gradientUnits="userSpaceOnUse" x1="352.8" y1="364" x2="389" y2="414.3"><stop offset="0" stop-color="#009176"/><stop offset=".12" stop-color="#008271"/><stop offset=".3" stop-color="#00fff0"/><stop offset=".438" stop-color="#00ffff"/><stop offset=".5" stop-color="#00ffff"/><stop offset=".7" stop-color="#03ffff"/><stop offset=".88" stop-color="#02ebff"/><stop offset="1" stop-color="#00b4f2"/></linearGradient><linearGradient id="g170" gradientUnits="userSpaceOnUse" x1="347.9" y1="365.8" x2="383.9" y2="422.2"><stop offset="0" stop-color="#008c72"/><stop offset=".12" stop-color="#009d89"/><stop offset=".3" stop-color="#00fef4"/><stop offset=".382" stop-color="#00ffff"/><stop offset=".5" stop-color="#00feff"/><stop offset=".7" stop-color="#02f4ff"/><stop offset=".88" stop-color="#03ddff"/><stop offset="1" stop-color="#00a5f3"/></linearGradient><linearGradient id="g171" gradientUnits="userSpaceOnUse" x1="343" y1="367.5" x2="378.8" y2="429.9"><stop offset="0" stop-color="#00876e"/><stop offset=".12" stop-color="#00b49e"/><stop offset=".3" stop-color="#00fdf8"/><stop offset=".339" stop-color="#00ffff"/><stop offset=".5" stop-color="#00f2ff"/><stop offset=".7" stop-color="#02e4ff"/><stop offset=".88" stop-color="#04cfff"/><stop offset="1" stop-color="#0096f5"/></linearGradient><linearGradient id="g172" gradientUnits="userSpaceOnUse" x1="338.1" y1="369.3" x2="373.7" y2="437.7"><stop offset="0" stop-color="#008068"/><stop offset=".12" stop-color="#00c5af"/><stop offset=".3" stop-color="#00fbfb"/><stop offset=".305" stop-color="#00fcfc"/><stop offset=".5" stop-color="#00e6ff"/><stop offset=".7" stop-color="#01d3ff"/><stop offset=".88" stop-color="#05c0ff"/><stop offset="1" stop-color="#0086f7"/></linearGradient><linearGradient id="g173" gradientUnits="userSpaceOnUse" x1="333.2" y1="371.1" x2="368.6" y2="445.3"><stop offset="0" stop-color="#007962"/><stop offset=".12" stop-color="#00d1bb"/><stop offset=".277" stop-color="#00f7f7"/><stop offset=".3" stop-color="#00f5f9"/><stop offset=".5" stop-color="#00dbff"/><stop offset=".7" stop-color="#01c4ff"/><stop offset=".88" stop-color="#05afff"/><stop offset="1" stop-color="#0077f8"/></linearGradient><linearGradient id="g174" gradientUnits="userSpaceOnUse" x1="328.3" y1="372.8" x2="363.6" y2="452.9"><stop offset="0" stop-color="#00705b"/><stop offset=".12" stop-color="#00d8c3"/><stop offset=".255" stop-color="#00f3f3"/><stop offset=".3" stop-color="#00eef7"/><stop offset=".5" stop-color="#00d0ff"/><stop offset=".7" stop-color="#01b5ff"/><stop offset=".88" stop-color="#069fff"/><stop offset="1" stop-color="#0067f9"/></linearGradient><linearGradient id="g175" gradientUnits="userSpaceOnUse" x1="323.4" y1="374.6" x2="358.5" y2="460.4"><stop offset="0" stop-color="#006552"/><stop offset=".12" stop-color="#00ddc9"/><stop offset=".236" stop-color="#00f3f3"/><stop offset=".3" stop-color="#00e8f5"/><stop offset=".5" stop-color="#00c6ff"/><stop offset=".7" stop-color="#00a6ff"/><stop offset=".88" stop-color="#058eff"/><stop offset="1" stop-color="#0058fa"/></linearGradient><linearGradient id="g176" gradientUnits="userSpaceOnUse" x1="575.5" y1="185.4" x2="611.5" y2="245.7"><stop offset="0" stop-color="#5da200"/><stop offset=".12" stop-color="#82ff00"/><stop offset=".3" stop-color="#80ff0a"/><stop offset=".5" stop-color="#53ff04"/><stop offset=".7" stop-color="#31ff04"/><stop offset=".88" stop-color="#077500"/><stop offset=".971" stop-color="#005d00"/><stop offset="1" stop-color="#007902"/></linearGradient><linearGradient id="g177" gradientUnits="userSpaceOnUse" x1="570.4" y1="195.2" x2="606.5" y2="250.3"><stop offset="0" stop-color="#4ea200"/><stop offset=".12" stop-color="#6afc00"/><stop offset=".3" stop-color="#69ff0a"/><stop offset=".5" stop-color="#41ff04"/><stop offset=".7" stop-color="#22ff03"/><stop offset=".88" stop-color="#026800"/><stop offset=".906" stop-color="#005c00"/><stop offset="1" stop-color="#007b06"/></linearGradient><linearGradient id="g178" gradientUnits="userSpaceOnUse" x1="565.2" y1="204.6" x2="601.5" y2="254.8"><stop offset="0" stop-color="#40a100"/><stop offset=".12" stop-color="#54f600"/><stop offset=".3" stop-color="#52ff09"/><stop offset=".5" stop-color="#31ff04"/><stop offset=".7" stop-color="#13ff02"/><stop offset=".829" stop-color="#00bc00"/><stop offset=".88" stop-color="#005c02"/><stop offset="1" stop-color="#007d0b"/></linearGradient><linearGradient id="g179" gradientUnits="userSpaceOnUse" x1="560.1" y1="213.7" x2="596.5" y2="259.2"><stop offset="0" stop-color="#329f00"/><stop offset=".12" stop-color="#3fef00"/><stop offset=".3" stop-color="#3dff07"/><stop offset=".5" stop-color="#20ff04"/><stop offset=".7" stop-color="#06ff01"/><stop offset=".736" stop-color="#01ff01"/><stop offset=".88" stop-color="#005105"/><stop offset="1" stop-color="#007f0f"/></linearGradient><linearGradient id="g180" gradientUnits="userSpaceOnUse" x1="555" y1="222.2" x2="591.5" y2="263.4"><stop offset="0" stop-color="#259c00"/><stop offset=".12" stop-color="#2de800"/><stop offset=".3" stop-color="#28ff05"/><stop offset=".5" stop-color="#11ff03"/><stop offset=".624" stop-color="#02ff02"/><stop offset=".7" stop-color="#01ff08"/><stop offset=".88" stop-color="#004707"/><stop offset="1" stop-color="#008112"/></linearGradient><linearGradient id="g181" gradientUnits="userSpaceOnUse" x1="549.9" y1="230.3" x2="586.5" y2="267.4"><stop offset="0" stop-color="#199800"/><stop offset=".12" stop-color="#1ce000"/><stop offset=".3" stop-color="#15ff03"/><stop offset=".49" stop-color="#03ff03"/><stop offset=".5" stop-color="#03ff04"/><stop offset=".7" stop-color="#00f912"/><stop offset=".88" stop-color="#004e0a"/><stop offset="1" stop-color="#008316"/></linearGradient><linearGradient id="g182" gradientUnits="userSpaceOnUse" x1="544.8" y1="237.9" x2="581.6" y2="271.3"><stop offset="0" stop-color="#0e9200"/><stop offset=".12" stop-color="#0dd800"/><stop offset=".3" stop-color="#04ff02"/><stop offset=".327" stop-color="#02ff02"/><stop offset=".5" stop-color="#02ff0f"/><stop offset=".7" stop-color="#00ee1a"/><stop offset=".88" stop-color="#00540e"/><stop offset="1" stop-color="#00851a"/></linearGradient><linearGradient id="g183" gradientUnits="userSpaceOnUse" x1="539.7" y1="244.9" x2="576.6" y2="275"><stop offset="0" stop-color="#058d00"/><stop offset=".12" stop-color="#01cf00"/><stop offset=".131" stop-color="#00e500"/><stop offset=".3" stop-color="#01ff0c"/><stop offset=".5" stop-color="#01ff1a"/><stop offset=".7" stop-color="#00e220"/><stop offset=".88" stop-color="#005a11"/><stop offset="1" stop-color="#00861d"/></linearGradient><linearGradient id="g184" gradientUnits="userSpaceOnUse" x1="534.7" y1="251.7" x2="571.6" y2="278.5"><stop offset="0" stop-color="#008f04"/><stop offset=".12" stop-color="#00cc0b"/><stop offset=".3" stop-color="#01ff18"/><stop offset=".5" stop-color="#01ff23"/><stop offset=".7" stop-color="#00d826"/><stop offset=".88" stop-color="#005c14"/><stop offset="1" stop-color="#008720"/></linearGradient><linearGradient id="g185" gradientUnits="userSpaceOnUse" x1="529.6" y1="258.4" x2="566.7" y2="281.9"><stop offset="0" stop-color="#00900c"/><stop offset=".12" stop-color="#00c615"/><stop offset=".3" stop-color="#00fb23"/><stop offset=".5" stop-color="#00ff2c"/><stop offset=".7" stop-color="#00cb2a"/><stop offset=".88" stop-color="#005f16"/><stop offset="1" stop-color="#008723"/></linearGradient><linearGradient id="g186" gradientUnits="userSpaceOnUse" x1="524.6" y1="264.8" x2="561.7" y2="285.3"><stop offset="0" stop-color="#008c14"/><stop offset=".12" stop-color="#00be1e"/><stop offset=".3" stop-color="#00f12c"/><stop offset=".5" stop-color="#00f733"/><stop offset=".7" stop-color="#00bd2c"/><stop offset=".88" stop-color="#006119"/><stop offset="1" stop-color="#008725"/></linearGradient><linearGradient id="g187" gradientUnits="userSpaceOnUse" x1="519.5" y1="270.8" x2="556.7" y2="288.5"><stop offset="0" stop-color="#008519"/><stop offset=".12" stop-color="#00b324"/><stop offset=".3" stop-color="#00e432"/><stop offset=".5" stop-color="#00eb39"/><stop offset=".7" stop-color="#00ad2d"/><stop offset=".88" stop-color="#00621b"/><stop offset="1" stop-color="#008627"/></linearGradient><linearGradient id="g188" gradientUnits="userSpaceOnUse" x1="514.5" y1="276.3" x2="551.8" y2="291.6"><stop offset="0" stop-color="#00781c"/><stop offset=".12" stop-color="#00a328"/><stop offset=".3" stop-color="#00d436"/><stop offset=".5" stop-color="#00dc3b"/><stop offset=".7" stop-color="#009e2d"/><stop offset=".88" stop-color="#00641e"/><stop offset="1" stop-color="#008529"/></linearGradient><linearGradient id="g189" gradientUnits="userSpaceOnUse" x1="509.5" y1="281.1" x2="546.8" y2="294.7"><stop offset="0" stop-color="#00641b"/><stop offset=".12" stop-color="#008e27"/><stop offset=".3" stop-color="#00c037"/><stop offset=".5" stop-color="#00ca3c"/><stop offset=".7" stop-color="#00902c"/><stop offset=".88" stop-color="#006520"/><stop offset="1" stop-color="#00842a"/></linearGradient><linearGradient id="g190" gradientUnits="userSpaceOnUse" x1="504.5" y1="285.1" x2="541.9" y2="297.7"><stop offset="0" stop-color="#004916"/><stop offset=".12" stop-color="#007322"/><stop offset=".3" stop-color="#00a833"/><stop offset=".5" stop-color="#00b639"/><stop offset=".7" stop-color="#00832a"/><stop offset=".88" stop-color="#006521"/><stop offset="1" stop-color="#00822c"/></linearGradient><linearGradient id="g191" gradientUnits="userSpaceOnUse" x1="499.6" y1="288.3" x2="536.9" y2="300.5"><stop offset="0" stop-color="#00551a"/><stop offset=".12" stop-color="#00601e"/><stop offset=".3" stop-color="#009730"/><stop offset=".5" stop-color="#00a837"/><stop offset=".7" stop-color="#007b29"/><stop offset=".88" stop-color="#006523"/><stop offset="1" stop-color="#00812d"/></linearGradient><linearGradient id="g192" gradientUnits="userSpaceOnUse" x1="494.6" y1="291.1" x2="532" y2="303.3"><stop offset="0" stop-color="#005d1e"/><stop offset=".12" stop-color="#00541b"/><stop offset=".3" stop-color="#008c2f"/><stop offset=".5" stop-color="#009f36"/><stop offset=".7" stop-color="#00782a"/><stop offset=".88" stop-color="#006323"/><stop offset="1" stop-color="#007f2e"/></linearGradient><linearGradient id="g193" gradientUnits="userSpaceOnUse" x1="489.7" y1="293.7" x2="527.1" y2="305.9"><stop offset="0" stop-color="#006221"/><stop offset=".12" stop-color="#004e1a"/><stop offset=".3" stop-color="#00862e"/><stop offset=".5" stop-color="#009b36"/><stop offset=".7" stop-color="#00782b"/><stop offset=".88" stop-color="#005f23"/><stop offset="1" stop-color="#007b2d"/></linearGradient><linearGradient id="g194" gradientUnits="userSpaceOnUse" x1="484.8" y1="296.1" x2="522.1" y2="308.5"><stop offset="0" stop-color="#006322"/><stop offset=".12" stop-color="#004d1a"/><stop offset=".3" stop-color="#00862f"/><stop offset=".5" stop-color="#009c38"/><stop offset=".7" stop-color="#007d2e"/><stop offset=".88" stop-color="#005721"/><stop offset="1" stop-color="#00752c"/></linearGradient><linearGradient id="g195" gradientUnits="userSpaceOnUse" x1="479.8" y1="298.6" x2="517.2" y2="311.2"><stop offset="0" stop-color="#006021"/><stop offset=".12" stop-color="#00511d"/><stop offset=".3" stop-color="#008a32"/><stop offset=".5" stop-color="#00a03b"/><stop offset=".7" stop-color="#008532"/><stop offset=".88" stop-color="#004e1e"/><stop offset="1" stop-color="#006d2a"/></linearGradient><linearGradient id="g196" gradientUnits="userSpaceOnUse" x1="474.9" y1="301.3" x2="512.3" y2="313.9"><stop offset="0" stop-color="#005920"/><stop offset=".12" stop-color="#005c21"/><stop offset=".3" stop-color="#009437"/><stop offset=".5" stop-color="#00a840"/><stop offset=".7" stop-color="#009038"/><stop offset=".88" stop-color="#005220"/><stop offset="1" stop-color="#006227"/></linearGradient><linearGradient id="g197" gradientUnits="userSpaceOnUse" x1="470" y1="304.2" x2="507.3" y2="316.8"><stop offset="0" stop-color="#004d1d"/><stop offset=".12" stop-color="#006b28"/><stop offset=".3" stop-color="#00a03d"/><stop offset=".5" stop-color="#00b346"/><stop offset=".7" stop-color="#009d3f"/><stop offset=".88" stop-color="#006429"/><stop offset="1" stop-color="#005523"/></linearGradient><linearGradient id="g198" gradientUnits="userSpaceOnUse" x1="465" y1="307.6" x2="502.4" y2="319.9"><stop offset="0" stop-color="#005f25"/><stop offset=".12" stop-color="#008735"/><stop offset=".3" stop-color="#00b549"/><stop offset=".5" stop-color="#00c450"/><stop offset=".7" stop-color="#00af49"/><stop offset=".88" stop-color="#007a34"/><stop offset="1" stop-color="#004f22"/></linearGradient><linearGradient id="g199" gradientUnits="userSpaceOnUse" x1="460" y1="311.9" x2="497.4" y2="323.3"><stop offset="0" stop-color="#008035"/><stop offset=".12" stop-color="#00a244"/><stop offset=".3" stop-color="#00c855"/><stop offset=".5" stop-color="#00d25b"/><stop offset=".7" stop-color="#00bd53"/><stop offset=".88" stop-color="#008d3e"/><stop offset="1" stop-color="#00632c"/></linearGradient><linearGradient id="g200" gradientUnits="userSpaceOnUse" x1="455" y1="317" x2="492.4" y2="327.1"><stop offset="0" stop-color="#009845"/><stop offset=".12" stop-color="#00b352"/><stop offset=".3" stop-color="#00d060"/><stop offset=".5" stop-color="#00d763"/><stop offset=".7" stop-color="#00c35b"/><stop offset=".88" stop-color="#009746"/><stop offset="1" stop-color="#007135"/></linearGradient><linearGradient id="g201" gradientUnits="userSpaceOnUse" x1="450" y1="322.7" x2="487.5" y2="331"><stop offset="0" stop-color="#00aa55"/><stop offset=".12" stop-color="#00be5f"/><stop offset=".3" stop-color="#00d369"/><stop offset=".5" stop-color="#00d66a"/><stop offset=".7" stop-color="#00c260"/><stop offset=".88" stop-color="#009a4c"/><stop offset="1" stop-color="#00783b"/></linearGradient><linearGradient id="g202" gradientUnits="userSpaceOnUse" x1="444.9" y1="328.9" x2="482.5" y2="335"><stop offset="0" stop-color="#00b865"/><stop offset=".12" stop-color="#00c46b"/><stop offset=".3" stop-color="#00d070"/><stop offset=".5" stop-color="#00cf6e"/><stop offset=".7" stop-color="#00bc63"/><stop offset=".88" stop-color="#00984f"/><stop offset="1" stop-color="#00793f"/></linearGradient><linearGradient id="g203" gradientUnits="userSpaceOnUse" x1="439.9" y1="335.4" x2="477.5" y2="338.9"><stop offset="0" stop-color="#00c274"/><stop offset=".12" stop-color="#00bc6f"/><stop offset=".3" stop-color="#00b167"/><stop offset=".5" stop-color="#00a35d"/><stop offset=".7" stop-color="#009352"/><stop offset=".88" stop-color="#008247"/><stop offset="1" stop-color="#007640"/></linearGradient><linearGradient id="g204" gradientUnits="userSpaceOnUse" x1="434.8" y1="342.1" x2="472.5" y2="342.7"><stop offset="0" stop-color="#00c983"/><stop offset=".12" stop-color="#00c27c"/><stop offset=".3" stop-color="#00b571"/><stop offset=".5" stop-color="#00a464"/><stop offset=".7" stop-color="#009156"/><stop offset=".88" stop-color="#007d48"/><stop offset="1" stop-color="#006e3e"/></linearGradient><linearGradient id="g205" gradientUnits="userSpaceOnUse" x1="429.8" y1="348.8" x2="467.6" y2="346.3"><stop offset="0" stop-color="#00d093"/><stop offset=".12" stop-color="#00c88a"/><stop offset=".3" stop-color="#00b97c"/><stop offset=".5" stop-color="#00a66b"/><stop offset=".7" stop-color="#008f59"/><stop offset=".88" stop-color="#007747"/><stop offset="1" stop-color="#00653b"/></linearGradient><linearGradient id="g206" gradientUnits="userSpaceOnUse" x1="424.7" y1="356" x2="462.6" y2="349.7"><stop offset="0" stop-color="#00dda9"/><stop offset=".12" stop-color="#00d49e"/><stop offset=".3" stop-color="#00c58d"/><stop offset=".5" stop-color="#00af78"/><stop offset=".7" stop-color="#009460"/><stop offset=".88" stop-color="#00774a"/><stop offset="1" stop-color="#00613a"/></linearGradient><linearGradient id="g207" gradientUnits="userSpaceOnUse" x1="419.6" y1="363.9" x2="457.7" y2="353.1"><stop offset="0" stop-color="#00e6be"/><stop offset=".12" stop-color="#00ddb1"/><stop offset=".3" stop-color="#00cc9d"/><stop offset=".5" stop-color="#00b583"/><stop offset=".7" stop-color="#009666"/><stop offset=".88" stop-color="#00744b"/><stop offset="1" stop-color="#005b38"/></linearGradient><linearGradient id="g208" gradientUnits="userSpaceOnUse" x1="414.5" y1="372.3" x2="452.7" y2="356.4"><stop offset="0" stop-color="#00ecd3"/><stop offset=".12" stop-color="#00e2c4"/><stop offset=".3" stop-color="#00d1ab"/><stop offset=".5" stop-color="#00b78c"/><stop offset=".7" stop-color="#00956a"/><stop offset=".88" stop-color="#006f4a"/><stop offset="1" stop-color="#005335"/></linearGradient><linearGradient id="g209" gradientUnits="userSpaceOnUse" x1="409.4" y1="380.9" x2="447.8" y2="359.6"><stop offset="0" stop-color="#00f0e8"/><stop offset=".12" stop-color="#00e5d6"/><stop offset=".3" stop-color="#00d2b8"/><stop offset=".5" stop-color="#00b694"/><stop offset=".7" stop-color="#00916d"/><stop offset=".88" stop-color="#006848"/><stop offset="1" stop-color="#004b31"/></linearGradient><linearGradient id="g210" gradientUnits="userSpaceOnUse" x1="404.3" y1="389.6" x2="442.8" y2="362.8"><stop offset="0" stop-color="#00e7f2"/><stop offset=".106" stop-color="#00e9e9"/><stop offset=".12" stop-color="#00e7e6"/><stop offset=".3" stop-color="#00d2c3"/><stop offset=".5" stop-color="#00b39a"/><stop offset=".7" stop-color="#008b6d"/><stop offset=".88" stop-color="#006044"/><stop offset="1" stop-color="#005236"/></linearGradient><linearGradient id="g211" gradientUnits="userSpaceOnUse" x1="399.2" y1="398.2" x2="437.9" y2="365.9"><stop offset="0" stop-color="#00d5f2"/><stop offset=".12" stop-color="#00d8e6"/><stop offset=".258" stop-color="#00d6d6"/><stop offset=".3" stop-color="#00d0cd"/><stop offset=".5" stop-color="#00af9d"/><stop offset=".7" stop-color="#00846b"/><stop offset=".88" stop-color="#005740"/><stop offset="1" stop-color="#00583c"/></linearGradient><linearGradient id="g212" gradientUnits="userSpaceOnUse" x1="394.1" y1="406.4" x2="432.9" y2="368.9"><stop offset="0" stop-color="#00c3f1"/><stop offset=".12" stop-color="#00c7e4"/><stop offset=".3" stop-color="#00c5cc"/><stop offset=".369" stop-color="#00c1c1"/><stop offset=".5" stop-color="#00a89e"/><stop offset=".7" stop-color="#007b68"/><stop offset=".88" stop-color="#004f3b"/><stop offset="1" stop-color="#005e42"/></linearGradient><linearGradient id="g213" gradientUnits="userSpaceOnUse" x1="389" y1="414.3" x2="428" y2="371.9"><stop offset="0" stop-color="#00b4f2"/><stop offset=".12" stop-color="#00b9e4"/><stop offset=".3" stop-color="#00b9cb"/><stop offset=".453" stop-color="#00afaf"/><stop offset=".5" stop-color="#00a5a1"/><stop offset=".7" stop-color="#007767"/><stop offset=".88" stop-color="#004d3b"/><stop offset="1" stop-color="#006246"/></linearGradient><linearGradient id="g214" gradientUnits="userSpaceOnUse" x1="383.9" y1="422.2" x2="423" y2="374.7"><stop offset="0" stop-color="#00a5f3"/><stop offset=".12" stop-color="#00ace5"/><stop offset=".3" stop-color="#00afcb"/><stop offset=".5" stop-color="#00a1a4"/><stop offset=".522" stop-color="#009f9f"/><stop offset=".7" stop-color="#007367"/><stop offset=".88" stop-color="#005040"/><stop offset="1" stop-color="#00664a"/></linearGradient><linearGradient id="g215" gradientUnits="userSpaceOnUse" x1="378.8" y1="429.9" x2="418.1" y2="377.6"><stop offset="0" stop-color="#0096f5"/><stop offset=".12" stop-color="#009fe6"/><stop offset=".3" stop-color="#00a4ca"/><stop offset=".5" stop-color="#0099a1"/><stop offset=".578" stop-color="#008f8f"/><stop offset=".7" stop-color="#006f67"/><stop offset=".88" stop-color="#005444"/><stop offset="1" stop-color="#006a4d"/></linearGradient><linearGradient id="g216" gradientUnits="userSpaceOnUse" x1="373.7" y1="437.7" x2="413.2" y2="380.3"><stop offset="0" stop-color="#0086f7"/><stop offset=".12" stop-color="#0092e7"/><stop offset=".3" stop-color="#009aca"/><stop offset=".5" stop-color="#00919f"/><stop offset=".625" stop-color="#008080"/><stop offset=".7" stop-color="#006c66"/><stop offset=".88" stop-color="#005848"/><stop offset="1" stop-color="#006d51"/></linearGradient><linearGradient id="g217" gradientUnits="userSpaceOnUse" x1="368.6" y1="445.3" x2="408.2" y2="383.1"><stop offset="0" stop-color="#0077f8"/><stop offset=".12" stop-color="#0085e8"/><stop offset=".3" stop-color="#0090c9"/><stop offset=".5" stop-color="#00899d"/><stop offset=".664" stop-color="#007272"/><stop offset=".7" stop-color="#006865"/><stop offset=".88" stop-color="#005b4d"/><stop offset="1" stop-color="#007155"/></linearGradient><linearGradient id="g218" gradientUnits="userSpaceOnUse" x1="363.6" y1="452.9" x2="403.3" y2="385.7"><stop offset="0" stop-color="#0067f9"/><stop offset=".12" stop-color="#0078e9"/><stop offset=".3" stop-color="#0086c9"/><stop offset=".5" stop-color="#00819a"/><stop offset=".698" stop-color="#006565"/><stop offset=".7" stop-color="#006464"/><stop offset=".88" stop-color="#005f51"/><stop offset="1" stop-color="#007459"/></linearGradient><linearGradient id="g219" gradientUnits="userSpaceOnUse" x1="358.5" y1="460.4" x2="398.4" y2="388.3"><stop offset="0" stop-color="#0058fa"/><stop offset=".12" stop-color="#006be9"/><stop offset=".3" stop-color="#007cc8"/><stop offset=".5" stop-color="#007998"/><stop offset=".7" stop-color="#005e60"/><stop offset=".726" stop-color="#005858"/><stop offset=".88" stop-color="#006356"/><stop offset="1" stop-color="#00785c"/></linearGradient><linearGradient id="g220" gradientUnits="userSpaceOnUse" x1="611.5" y1="245.7" x2="654.1" y2="77.4"><stop offset="0" stop-color="#007902"/><stop offset=".008" stop-color="#007800"/><stop offset=".12" stop-color="#196a00"/><stop offset=".3" stop-color="#2e4e00"/><stop offset=".5" stop-color="#a6ac00"/><stop offset=".52" stop-color="#b7b700"/><stop offset=".7" stop-color="#ffab00"/><stop offset=".88" stop-color="#ff6006"/><stop offset="1" stop-color="#ff1f0c"/></linearGradient><linearGradient id="g221" gradientUnits="userSpaceOnUse" x1="606.5" y1="250.3" x2="649" y2="86.1"><stop offset="0" stop-color="#007b06"/><stop offset=".025" stop-color="#007800"/><stop offset=".12" stop-color="#156c00"/><stop offset=".3" stop-color="#294c00"/><stop offset=".5" stop-color="#9aa800"/><stop offset=".549" stop-color="#c2c200"/><stop offset=".7" stop-color="#ffba00"/><stop offset=".88" stop-color="#ff7506"/><stop offset="1" stop-color="#ff370c"/></linearGradient><linearGradient id="g222" gradientUnits="userSpaceOnUse" x1="601.5" y1="254.8" x2="643.9" y2="95.1"><stop offset="0" stop-color="#007d0b"/><stop offset=".042" stop-color="#007700"/><stop offset=".12" stop-color="#116d00"/><stop offset=".3" stop-color="#254a00"/><stop offset=".5" stop-color="#8ea500"/><stop offset=".58" stop-color="#cfcf00"/><stop offset=".7" stop-color="#ffc900"/><stop offset=".88" stop-color="#ff8a05"/><stop offset="1" stop-color="#ff500c"/></linearGradient><linearGradient id="g223" gradientUnits="userSpaceOnUse" x1="596.5" y1="259.2" x2="638.7" y2="104.3"><stop offset="0" stop-color="#007f0f"/><stop offset=".059" stop-color="#007600"/><stop offset=".12" stop-color="#0d6e00"/><stop offset=".3" stop-color="#224a00"/><stop offset=".5" stop-color="#84a300"/><stop offset=".613" stop-color="#dddd00"/><stop offset=".7" stop-color="#ffd800"/><stop offset=".88" stop-color="#ffa005"/><stop offset="1" stop-color="#ff690c"/></linearGradient><linearGradient id="g224" gradientUnits="userSpaceOnUse" x1="591.5" y1="263.4" x2="633.6" y2="113.8"><stop offset="0" stop-color="#008112"/><stop offset=".076" stop-color="#007500"/><stop offset=".12" stop-color="#096f00"/><stop offset=".3" stop-color="#1f4a00"/><stop offset=".5" stop-color="#7aa100"/><stop offset=".649" stop-color="#ebeb00"/><stop offset=".7" stop-color="#ffe800"/><stop offset=".88" stop-color="#ffb604"/><stop offset="1" stop-color="#ff830c"/></linearGradient><linearGradient id="g225" gradientUnits="userSpaceOnUse" x1="586.5" y1="267.4" x2="628.5" y2="123.5"><stop offset="0" stop-color="#008316"/><stop offset=".094" stop-color="#007400"/><stop offset=".12" stop-color="#057000"/><stop offset=".3" stop-color="#1b4b00"/><stop offset=".5" stop-color="#70a000"/><stop offset=".688" stop-color="#f9f900"/><stop offset=".7" stop-color="#fef800"/><stop offset=".88" stop-color="#ffcd04"/><stop offset="1" stop-color="#ff9d0b"/></linearGradient><linearGradient id="g226" gradientUnits="userSpaceOnUse" x1="581.6" y1="271.3" x2="623.3" y2="133.4"><stop offset="0" stop-color="#00851a"/><stop offset=".113" stop-color="#007200"/><stop offset=".12" stop-color="#017100"/><stop offset=".3" stop-color="#184a00"/><stop offset=".5" stop-color="#67a000"/><stop offset=".7" stop-color="#f0fc00"/><stop offset=".73" stop-color="#ffff00"/><stop offset=".88" stop-color="#ffe403"/><stop offset="1" stop-color="#ffb80b"/></linearGradient><linearGradient id="g227" gradientUnits="userSpaceOnUse" x1="576.6" y1="275" x2="618.2" y2="143.5"><stop offset="0" stop-color="#00861d"/><stop offset=".12" stop-color="#007102"/><stop offset=".131" stop-color="#006f00"/><stop offset=".3" stop-color="#144900"/><stop offset=".5" stop-color="#60a200"/><stop offset=".7" stop-color="#dffb00"/><stop offset=".777" stop-color="#ffff00"/><stop offset=".88" stop-color="#fffb03"/><stop offset="1" stop-color="#ffd40a"/></linearGradient><linearGradient id="g228" gradientUnits="userSpaceOnUse" x1="571.6" y1="278.5" x2="613" y2="154.2"><stop offset="0" stop-color="#008720"/><stop offset=".12" stop-color="#007006"/><stop offset=".152" stop-color="#006900"/><stop offset=".3" stop-color="#124c00"/><stop offset=".5" stop-color="#59a800"/><stop offset=".7" stop-color="#cefb00"/><stop offset=".832" stop-color="#ffff01"/><stop offset=".88" stop-color="#ffff03"/><stop offset="1" stop-color="#fff009"/></linearGradient><linearGradient id="g229" gradientUnits="userSpaceOnUse" x1="566.7" y1="281.9" x2="607.8" y2="165.4"><stop offset="0" stop-color="#008723"/><stop offset=".12" stop-color="#006f09"/><stop offset=".175" stop-color="#006100"/><stop offset=".3" stop-color="#0f5100"/><stop offset=".5" stop-color="#51ad00"/><stop offset=".7" stop-color="#bbfb00"/><stop offset=".88" stop-color="#ffff03"/><stop offset=".898" stop-color="#ffff03"/><stop offset="1" stop-color="#ffff08"/></linearGradient><linearGradient id="g230" gradientUnits="userSpaceOnUse" x1="561.7" y1="285.3" x2="602.6" y2="177"><stop offset="0" stop-color="#008725"/><stop offset=".12" stop-color="#006d0c"/><stop offset=".2" stop-color="#005900"/><stop offset=".3" stop-color="#0c5600"/><stop offset=".5" stop-color="#48b000"/><stop offset=".7" stop-color="#a7fb00"/><stop offset=".88" stop-color="#ffff03"/><stop offset=".974" stop-color="#ffff06"/><stop offset="1" stop-color="#ffff08"/></linearGradient><linearGradient id="g231" gradientUnits="userSpaceOnUse" x1="556.7" y1="288.5" x2="597.4" y2="188.6"><stop offset="0" stop-color="#008627"/><stop offset=".12" stop-color="#006c0f"/><stop offset=".229" stop-color="#004e00"/><stop offset=".3" stop-color="#085a00"/><stop offset=".5" stop-color="#3db300"/><stop offset=".7" stop-color="#92fa00"/><stop offset=".88" stop-color="#e7ff03"/><stop offset="1" stop-color="#ffff07"/></linearGradient><linearGradient id="g232" gradientUnits="userSpaceOnUse" x1="551.8" y1="291.6" x2="592.2" y2="200.2"><stop offset="0" stop-color="#008529"/><stop offset=".12" stop-color="#006a12"/><stop offset=".262" stop-color="#004d00"/><stop offset=".3" stop-color="#045d00"/><stop offset=".5" stop-color="#33b500"/><stop offset=".7" stop-color="#7ef900"/><stop offset=".88" stop-color="#caff02"/><stop offset="1" stop-color="#feff07"/></linearGradient><linearGradient id="g233" gradientUnits="userSpaceOnUse" x1="546.8" y1="294.7" x2="587" y2="211.3"><stop offset="0" stop-color="#00832a"/><stop offset=".12" stop-color="#006814"/><stop offset=".299" stop-color="#005f00"/><stop offset=".3" stop-color="#005f00"/><stop offset=".5" stop-color="#28b600"/><stop offset=".7" stop-color="#6af800"/><stop offset=".88" stop-color="#aeff02"/><stop offset="1" stop-color="#deff06"/></linearGradient><linearGradient id="g234" gradientUnits="userSpaceOnUse" x1="541.9" y1="297.7" x2="581.8" y2="221.9"><stop offset="0" stop-color="#00822b"/><stop offset=".12" stop-color="#006616"/><stop offset=".3" stop-color="#006204"/><stop offset=".341" stop-color="#007200"/><stop offset=".5" stop-color="#1db500"/><stop offset=".7" stop-color="#57f600"/><stop offset=".88" stop-color="#94ff02"/><stop offset="1" stop-color="#c0ff06"/></linearGradient><linearGradient id="g235" gradientUnits="userSpaceOnUse" x1="536.9" y1="300.5" x2="576.7" y2="231.9"><stop offset="0" stop-color="#00812d"/><stop offset=".12" stop-color="#006418"/><stop offset=".3" stop-color="#006708"/><stop offset=".387" stop-color="#008a00"/><stop offset=".5" stop-color="#13b800"/><stop offset=".7" stop-color="#46f500"/><stop offset=".88" stop-color="#7cff02"/><stop offset="1" stop-color="#a4ff06"/></linearGradient><linearGradient id="g236" gradientUnits="userSpaceOnUse" x1="532" y1="303.3" x2="571.5" y2="241.8"><stop offset="0" stop-color="#007f2e"/><stop offset=".12" stop-color="#00611a"/><stop offset=".3" stop-color="#006e0d"/><stop offset=".44" stop-color="#00a600"/><stop offset=".5" stop-color="#0abd00"/><stop offset=".7" stop-color="#35f600"/><stop offset=".88" stop-color="#65ff02"/><stop offset="1" stop-color="#88ff06"/></linearGradient><linearGradient id="g237" gradientUnits="userSpaceOnUse" x1="527.1" y1="305.9" x2="566.4" y2="251.5"><stop offset="0" stop-color="#007b2d"/><stop offset=".12" stop-color="#005b1a"/><stop offset=".3" stop-color="#007712"/><stop offset=".5" stop-color="#00c200"/><stop offset=".503" stop-color="#00c300"/><stop offset=".7" stop-color="#25f700"/><stop offset=".88" stop-color="#4fff02"/><stop offset="1" stop-color="#6eff05"/></linearGradient><linearGradient id="g238" gradientUnits="userSpaceOnUse" x1="522.1" y1="308.5" x2="561.3" y2="260.9"><stop offset="0" stop-color="#00752c"/><stop offset=".12" stop-color="#005419"/><stop offset=".3" stop-color="#008118"/><stop offset=".5" stop-color="#00c90b"/><stop offset=".579" stop-color="#00dd00"/><stop offset=".7" stop-color="#14f800"/><stop offset=".88" stop-color="#39ff02"/><stop offset="1" stop-color="#54ff05"/></linearGradient><linearGradient id="g239" gradientUnits="userSpaceOnUse" x1="517.2" y1="311.2" x2="556.1" y2="270"><stop offset="0" stop-color="#006c2a"/><stop offset=".12" stop-color="#004b18"/><stop offset=".3" stop-color="#008c1f"/><stop offset=".5" stop-color="#00cf15"/><stop offset=".671" stop-color="#00f300"/><stop offset=".7" stop-color="#05f800"/><stop offset=".88" stop-color="#24ff02"/><stop offset="1" stop-color="#3bff05"/></linearGradient><linearGradient id="g240" gradientUnits="userSpaceOnUse" x1="512.3" y1="313.9" x2="551" y2="278.7"><stop offset="0" stop-color="#006227"/><stop offset=".12" stop-color="#00531c"/><stop offset=".3" stop-color="#009726"/><stop offset=".5" stop-color="#00d41f"/><stop offset=".7" stop-color="#00f90b"/><stop offset=".784" stop-color="#01ff01"/><stop offset=".88" stop-color="#10ff02"/><stop offset="1" stop-color="#24ff05"/></linearGradient><linearGradient id="g241" gradientUnits="userSpaceOnUse" x1="507.3" y1="316.8" x2="545.9" y2="287"><stop offset="0" stop-color="#005523"/><stop offset=".12" stop-color="#006223"/><stop offset=".3" stop-color="#00a12d"/><stop offset=".5" stop-color="#00d829"/><stop offset=".7" stop-color="#00fa1a"/><stop offset=".88" stop-color="#02ff07"/><stop offset=".921" stop-color="#03ff03"/><stop offset="1" stop-color="#0eff04"/></linearGradient><linearGradient id="g242" gradientUnits="userSpaceOnUse" x1="502.4" y1="319.9" x2="540.8" y2="294.7"><stop offset="0" stop-color="#004f22"/><stop offset=".12" stop-color="#00742c"/><stop offset=".3" stop-color="#00ab35"/><stop offset=".5" stop-color="#00da33"/><stop offset=".7" stop-color="#00fa27"/><stop offset=".88" stop-color="#01ff18"/><stop offset="1" stop-color="#03ff0d"/></linearGradient><linearGradient id="g243" gradientUnits="userSpaceOnUse" x1="497.4" y1="323.3" x2="535.8" y2="301.9"><stop offset="0" stop-color="#00632c"/><stop offset=".12" stop-color="#008436"/><stop offset=".3" stop-color="#00b33e"/><stop offset=".5" stop-color="#00dc3d"/><stop offset=".7" stop-color="#00f933"/><stop offset=".88" stop-color="#01ff27"/><stop offset="1" stop-color="#02ff1e"/></linearGradient><linearGradient id="g244" gradientUnits="userSpaceOnUse" x1="492.4" y1="327.1" x2="530.7" y2="308.9"><stop offset="0" stop-color="#007135"/><stop offset=".12" stop-color="#008e3d"/><stop offset=".3" stop-color="#00b745"/><stop offset=".5" stop-color="#00dc46"/><stop offset=".7" stop-color="#00f73f"/><stop offset=".88" stop-color="#01ff35"/><stop offset="1" stop-color="#02ff2d"/></linearGradient><linearGradient id="g245" gradientUnits="userSpaceOnUse" x1="487.5" y1="331" x2="525.6" y2="315.5"><stop offset="0" stop-color="#00783b"/><stop offset=".12" stop-color="#009243"/><stop offset=".3" stop-color="#00b84c"/><stop offset=".5" stop-color="#00db4e"/><stop offset=".7" stop-color="#00f44a"/><stop offset=".88" stop-color="#01ff42"/><stop offset="1" stop-color="#01ff3c"/></linearGradient><linearGradient id="g246" gradientUnits="userSpaceOnUse" x1="482.5" y1="335" x2="520.6" y2="322"><stop offset="0" stop-color="#00793f"/><stop offset=".12" stop-color="#009247"/><stop offset=".3" stop-color="#00b651"/><stop offset=".5" stop-color="#00d855"/><stop offset=".7" stop-color="#00f154"/><stop offset=".88" stop-color="#00ff4e"/><stop offset="1" stop-color="#01ff49"/></linearGradient><linearGradient id="g247" gradientUnits="userSpaceOnUse" x1="477.5" y1="338.9" x2="515.5" y2="328.3"><stop offset="0" stop-color="#007640"/><stop offset=".12" stop-color="#008f4a"/><stop offset=".3" stop-color="#00b255"/><stop offset=".5" stop-color="#00d45c"/><stop offset=".7" stop-color="#00ee5d"/><stop offset=".88" stop-color="#00ff5a"/><stop offset="1" stop-color="#01ff56"/></linearGradient><linearGradient id="g248" gradientUnits="userSpaceOnUse" x1="472.5" y1="342.7" x2="510.5" y2="334.7"><stop offset="0" stop-color="#006e3e"/><stop offset=".12" stop-color="#00884a"/><stop offset=".3" stop-color="#00ad58"/><stop offset=".5" stop-color="#00d062"/><stop offset=".7" stop-color="#00eb66"/><stop offset=".88" stop-color="#00fe65"/><stop offset="1" stop-color="#01ff63"/></linearGradient><linearGradient id="g249" gradientUnits="userSpaceOnUse" x1="467.6" y1="346.3" x2="505.5" y2="341.1"><stop offset="0" stop-color="#00653b"/><stop offset=".12" stop-color="#008048"/><stop offset=".3" stop-color="#00a759"/><stop offset=".5" stop-color="#00cc67"/><stop offset=".7" stop-color="#00e96f"/><stop offset=".88" stop-color="#00fc71"/><stop offset="1" stop-color="#00ff71"/></linearGradient><linearGradient id="g250" gradientUnits="userSpaceOnUse" x1="462.6" y1="349.7" x2="500.4" y2="347.5"><stop offset="0" stop-color="#00613a"/><stop offset=".12" stop-color="#007b48"/><stop offset=".3" stop-color="#00a25b"/><stop offset=".5" stop-color="#00c86c"/><stop offset=".7" stop-color="#00e677"/><stop offset=".88" stop-color="#00fa7c"/><stop offset="1" stop-color="#00ff7d"/></linearGradient><linearGradient id="g251" gradientUnits="userSpaceOnUse" x1="457.7" y1="353.1" x2="495.4" y2="353.7"><stop offset="0" stop-color="#005b38"/><stop offset=".12" stop-color="#007547"/><stop offset=".3" stop-color="#009c5c"/><stop offset=".5" stop-color="#00c370"/><stop offset=".7" stop-color="#00e27e"/><stop offset=".88" stop-color="#00f886"/><stop offset="1" stop-color="#00ff89"/></linearGradient><linearGradient id="g252" gradientUnits="userSpaceOnUse" x1="452.7" y1="356.4" x2="490.3" y2="359.9"><stop offset="0" stop-color="#005335"/><stop offset=".12" stop-color="#006d45"/><stop offset=".3" stop-color="#00955c"/><stop offset=".5" stop-color="#00be73"/><stop offset=".7" stop-color="#00df85"/><stop offset=".88" stop-color="#00f690"/><stop offset="1" stop-color="#00ff95"/></linearGradient><linearGradient id="g253" gradientUnits="userSpaceOnUse" x1="447.8" y1="359.6" x2="485.3" y2="366.1"><stop offset="0" stop-color="#004b31"/><stop offset=".12" stop-color="#00744b"/><stop offset=".3" stop-color="#00aa6e"/><stop offset=".5" stop-color="#00ca81"/><stop offset=".7" stop-color="#00de8d"/><stop offset=".88" stop-color="#00f499"/><stop offset="1" stop-color="#00ffa1"/></linearGradient><linearGradient id="g254" gradientUnits="userSpaceOnUse" x1="442.8" y1="362.8" x2="480.3" y2="372.2"><stop offset="0" stop-color="#005236"/><stop offset=".12" stop-color="#00734d"/><stop offset=".3" stop-color="#00b67a"/><stop offset=".5" stop-color="#00d991"/><stop offset=".7" stop-color="#00e99d"/><stop offset=".88" stop-color="#00f8a7"/><stop offset="1" stop-color="#00ffad"/></linearGradient><linearGradient id="g255" gradientUnits="userSpaceOnUse" x1="437.9" y1="365.9" x2="475.2" y2="378.3"><stop offset="0" stop-color="#00583c"/><stop offset=".12" stop-color="#00734f"/><stop offset=".3" stop-color="#00c186"/><stop offset=".5" stop-color="#00e6a1"/><stop offset=".7" stop-color="#00f4ad"/><stop offset=".88" stop-color="#00fcb4"/><stop offset="1" stop-color="#00ffb9"/></linearGradient><linearGradient id="g256" gradientUnits="userSpaceOnUse" x1="432.9" y1="368.9" x2="470.2" y2="384.5"><stop offset="0" stop-color="#005e42"/><stop offset=".12" stop-color="#007351"/><stop offset=".3" stop-color="#00cd93"/><stop offset=".5" stop-color="#00f3b1"/><stop offset=".7" stop-color="#00fdbd"/><stop offset=".88" stop-color="#00ffc3"/><stop offset="1" stop-color="#00ffc5"/></linearGradient><linearGradient id="g257" gradientUnits="userSpaceOnUse" x1="428" y1="371.9" x2="465.1" y2="390.7"><stop offset="0" stop-color="#006246"/><stop offset=".12" stop-color="#007655"/><stop offset=".3" stop-color="#00d9a0"/><stop offset=".5" stop-color="#00fdc0"/><stop offset=".7" stop-color="#00ffcd"/><stop offset=".88" stop-color="#00ffd1"/><stop offset="1" stop-color="#00ffd0"/></linearGradient><linearGradient id="g258" gradientUnits="userSpaceOnUse" x1="423" y1="374.7" x2="460.1" y2="396.9"><stop offset="0" stop-color="#00664a"/><stop offset=".12" stop-color="#007959"/><stop offset=".3" stop-color="#00e3ad"/><stop offset=".5" stop-color="#00ffce"/><stop offset=".7" stop-color="#00ffdc"/><stop offset=".88" stop-color="#00ffdf"/><stop offset="1" stop-color="#00ffdb"/></linearGradient><linearGradient id="g259" gradientUnits="userSpaceOnUse" x1="418.1" y1="377.6" x2="455.1" y2="403.1"><stop offset="0" stop-color="#006a4d"/><stop offset=".12" stop-color="#007c5e"/><stop offset=".3" stop-color="#00ebb9"/><stop offset=".5" stop-color="#00ffda"/><stop offset=".7" stop-color="#01ffeb"/><stop offset=".88" stop-color="#00ffee"/><stop offset="1" stop-color="#00fde6"/></linearGradient><linearGradient id="g260" gradientUnits="userSpaceOnUse" x1="413.2" y1="380.3" x2="450" y2="409.3"><stop offset="0" stop-color="#006d51"/><stop offset=".12" stop-color="#008062"/><stop offset=".3" stop-color="#00f2c3"/><stop offset=".5" stop-color="#00ffe4"/><stop offset=".7" stop-color="#01fff8"/><stop offset=".88" stop-color="#00fffc"/><stop offset="1" stop-color="#00fcf0"/></linearGradient><linearGradient id="g261" gradientUnits="userSpaceOnUse" x1="408.2" y1="383.1" x2="445" y2="415.5"><stop offset="0" stop-color="#007155"/><stop offset=".12" stop-color="#008367"/><stop offset=".3" stop-color="#00f7cc"/><stop offset=".5" stop-color="#00ffed"/><stop offset=".7" stop-color="#01ffff"/><stop offset=".88" stop-color="#01ffff"/><stop offset="1" stop-color="#00fbfb"/></linearGradient><linearGradient id="g262" gradientUnits="userSpaceOnUse" x1="403.3" y1="385.7" x2="439.9" y2="421.7"><stop offset="0" stop-color="#007459"/><stop offset=".12" stop-color="#00876b"/><stop offset=".3" stop-color="#00fad4"/><stop offset=".5" stop-color="#00fff5"/><stop offset=".7" stop-color="#01ffff"/><stop offset=".845" stop-color="#01ffff"/><stop offset=".88" stop-color="#01ffff"/><stop offset="1" stop-color="#00eefa"/></linearGradient><linearGradient id="g263" gradientUnits="userSpaceOnUse" x1="398.4" y1="388.3" x2="434.9" y2="427.9"><stop offset="0" stop-color="#00785c"/><stop offset=".12" stop-color="#008b70"/><stop offset=".3" stop-color="#00fcda"/><stop offset=".5" stop-color="#00fffc"/><stop offset=".7" stop-color="#01ffff"/><stop offset=".719" stop-color="#01ffff"/><stop offset=".88" stop-color="#01ffff"/><stop offset="1" stop-color="#00e0f8"/></linearGradient><linearGradient id="g264" gradientUnits="userSpaceOnUse" x1="654.1" y1="77.4" x2="684.8" y2="322.7"><stop offset="0" stop-color="#ff1f0b"/><stop offset=".12" stop-color="#ff6500"/><stop offset=".3" stop-color="#f3cd00"/><stop offset=".36" stop-color="#efef00"/><stop offset=".5" stop-color="#94e200"/><stop offset=".7" stop-color="#1ad400"/><stop offset=".743" stop-color="#00d100"/><stop offset=".88" stop-color="#00d550"/><stop offset="1" stop-color="#00d693"/></linearGradient><linearGradient id="g265" gradientUnits="userSpaceOnUse" x1="649" y1="86.1" x2="679.9" y2="324.7"><stop offset="0" stop-color="#ff370c"/><stop offset=".12" stop-color="#ff7900"/><stop offset=".3" stop-color="#f4dc00"/><stop offset=".34" stop-color="#f3f300"/><stop offset=".5" stop-color="#8be300"/><stop offset=".7" stop-color="#14d400"/><stop offset=".735" stop-color="#00d200"/><stop offset=".88" stop-color="#00d553"/><stop offset="1" stop-color="#00d794"/></linearGradient><linearGradient id="g266" gradientUnits="userSpaceOnUse" x1="643.9" y1="95.1" x2="675" y2="326.6"><stop offset="0" stop-color="#ff500c"/><stop offset=".12" stop-color="#ff8e00"/><stop offset=".3" stop-color="#f6eb00"/><stop offset=".318" stop-color="#f5f500"/><stop offset=".5" stop-color="#82e300"/><stop offset=".7" stop-color="#0ed500"/><stop offset=".726" stop-color="#00d300"/><stop offset=".88" stop-color="#00d655"/><stop offset="1" stop-color="#00d694"/></linearGradient><linearGradient id="g267" gradientUnits="userSpaceOnUse" x1="638.7" y1="104.3" x2="670.1" y2="328.6"><stop offset="0" stop-color="#ff690c"/><stop offset=".12" stop-color="#ffa301"/><stop offset=".294" stop-color="#f8f800"/><stop offset=".3" stop-color="#f4f800"/><stop offset=".5" stop-color="#79e300"/><stop offset=".7" stop-color="#08d500"/><stop offset=".715" stop-color="#00d400"/><stop offset=".88" stop-color="#00d758"/><stop offset="1" stop-color="#00d695"/></linearGradient><linearGradient id="g268" gradientUnits="userSpaceOnUse" x1="633.6" y1="113.8" x2="665.1" y2="330.5"><stop offset="0" stop-color="#ff830c"/><stop offset=".12" stop-color="#ffba01"/><stop offset=".268" stop-color="#fbfb00"/><stop offset=".3" stop-color="#e7f800"/><stop offset=".5" stop-color="#6fe400"/><stop offset=".7" stop-color="#02d500"/><stop offset=".704" stop-color="#00d500"/><stop offset=".88" stop-color="#00d75b"/><stop offset="1" stop-color="#00d695"/></linearGradient><linearGradient id="g269" gradientUnits="userSpaceOnUse" x1="628.5" y1="123.5" x2="660.2" y2="332.4"><stop offset="0" stop-color="#ff9d0b"/><stop offset=".12" stop-color="#ffd201"/><stop offset=".239" stop-color="#ffff00"/><stop offset=".3" stop-color="#daf900"/><stop offset=".5" stop-color="#65e400"/><stop offset=".692" stop-color="#00d600"/><stop offset=".7" stop-color="#00d604"/><stop offset=".88" stop-color="#00d85e"/><stop offset="1" stop-color="#00d695"/></linearGradient><linearGradient id="g270" gradientUnits="userSpaceOnUse" x1="623.3" y1="133.4" x2="655.3" y2="334.2"><stop offset="0" stop-color="#ffb80b"/><stop offset=".12" stop-color="#ffec01"/><stop offset=".206" stop-color="#ffff00"/><stop offset=".3" stop-color="#cbfa00"/><stop offset=".5" stop-color="#5be400"/><stop offset=".679" stop-color="#00d700"/><stop offset=".7" stop-color="#00d70a"/><stop offset=".88" stop-color="#00d860"/><stop offset="1" stop-color="#00d595"/></linearGradient><linearGradient id="g271" gradientUnits="userSpaceOnUse" x1="618.2" y1="143.5" x2="650.4" y2="336"><stop offset="0" stop-color="#ffd40a"/><stop offset=".12" stop-color="#ffff02"/><stop offset=".17" stop-color="#ffff00"/><stop offset=".3" stop-color="#bdfb00"/><stop offset=".5" stop-color="#50e500"/><stop offset=".664" stop-color="#00d900"/><stop offset=".7" stop-color="#00d911"/><stop offset=".88" stop-color="#00d963"/><stop offset="1" stop-color="#00d595"/></linearGradient><linearGradient id="g272" gradientUnits="userSpaceOnUse" x1="613" y1="154.2" x2="645.4" y2="337.7"><stop offset="0" stop-color="#fff009"/><stop offset=".12" stop-color="#ffff03"/><stop offset=".128" stop-color="#ffff02"/><stop offset=".3" stop-color="#aefe00"/><stop offset=".5" stop-color="#45e700"/><stop offset=".647" stop-color="#00dc00"/><stop offset=".7" stop-color="#00db18"/><stop offset=".88" stop-color="#00da66"/><stop offset="1" stop-color="#00d595"/></linearGradient><linearGradient id="g273" gradientUnits="userSpaceOnUse" x1="607.8" y1="165.4" x2="640.5" y2="339.5"><stop offset="0" stop-color="#ffff08"/><stop offset=".078" stop-color="#ffff0f"/><stop offset=".12" stop-color="#ffff05"/><stop offset=".3" stop-color="#9eff00"/><stop offset=".5" stop-color="#39e900"/><stop offset=".627" stop-color="#00de00"/><stop offset=".7" stop-color="#00de20"/><stop offset=".88" stop-color="#00db6a"/><stop offset="1" stop-color="#00d595"/></linearGradient><linearGradient id="g274" gradientUnits="userSpaceOnUse" x1="602.6" y1="177" x2="635.6" y2="341.3"><stop offset="0" stop-color="#ffff08"/><stop offset=".02" stop-color="#ffff12"/><stop offset=".12" stop-color="#ffff06"/><stop offset=".3" stop-color="#8bff00"/><stop offset=".5" stop-color="#2cea00"/><stop offset=".603" stop-color="#00e100"/><stop offset=".7" stop-color="#00e028"/><stop offset=".88" stop-color="#00dc6d"/><stop offset="1" stop-color="#00d595"/></linearGradient><linearGradient id="g275" gradientUnits="userSpaceOnUse" x1="597.4" y1="188.6" x2="630.7" y2="343"><stop offset="0" stop-color="#ffff07"/><stop offset=".12" stop-color="#e6ff07"/><stop offset=".3" stop-color="#78ff00"/><stop offset=".5" stop-color="#1feb00"/><stop offset=".576" stop-color="#00e500"/><stop offset=".7" stop-color="#00e230"/><stop offset=".88" stop-color="#00dd70"/><stop offset="1" stop-color="#00d594"/></linearGradient><linearGradient id="g276" gradientUnits="userSpaceOnUse" x1="592.2" y1="200.2" x2="625.8" y2="344.8"><stop offset="0" stop-color="#feff07"/><stop offset=".12" stop-color="#cbff08"/><stop offset=".3" stop-color="#64ff00"/><stop offset=".5" stop-color="#11eb00"/><stop offset=".546" stop-color="#00e800"/><stop offset=".7" stop-color="#00e338"/><stop offset=".88" stop-color="#00de74"/><stop offset="1" stop-color="#00d594"/></linearGradient><linearGradient id="g277" gradientUnits="userSpaceOnUse" x1="587" y1="211.3" x2="620.8" y2="346.5"><stop offset="0" stop-color="#deff06"/><stop offset=".12" stop-color="#afff08"/><stop offset=".3" stop-color="#51ff00"/><stop offset=".5" stop-color="#04eb00"/><stop offset=".512" stop-color="#00ea00"/><stop offset=".7" stop-color="#00e440"/><stop offset=".88" stop-color="#00de77"/><stop offset="1" stop-color="#00d494"/></linearGradient><linearGradient id="g278" gradientUnits="userSpaceOnUse" x1="581.8" y1="221.9" x2="615.9" y2="348.3"><stop offset="0" stop-color="#c0ff06"/><stop offset=".12" stop-color="#93ff07"/><stop offset=".3" stop-color="#3eff00"/><stop offset=".475" stop-color="#00ed00"/><stop offset=".5" stop-color="#00eb08"/><stop offset=".7" stop-color="#00e547"/><stop offset=".88" stop-color="#00df79"/><stop offset="1" stop-color="#00d494"/></linearGradient><linearGradient id="g279" gradientUnits="userSpaceOnUse" x1="576.7" y1="231.9" x2="611" y2="350.2"><stop offset="0" stop-color="#a4ff06"/><stop offset=".12" stop-color="#7cff08"/><stop offset=".3" stop-color="#2dff00"/><stop offset=".435" stop-color="#00f200"/><stop offset=".5" stop-color="#00ee14"/><stop offset=".7" stop-color="#00e84e"/><stop offset=".88" stop-color="#00e27e"/><stop offset="1" stop-color="#00d998"/></linearGradient><linearGradient id="g280" gradientUnits="userSpaceOnUse" x1="571.5" y1="241.8" x2="606.1" y2="352.4"><stop offset="0" stop-color="#88ff06"/><stop offset=".12" stop-color="#64ff09"/><stop offset=".3" stop-color="#1cff01"/><stop offset=".388" stop-color="#00f700"/><stop offset=".5" stop-color="#00f221"/><stop offset=".7" stop-color="#00ec57"/><stop offset=".88" stop-color="#00e684"/><stop offset="1" stop-color="#00de9c"/></linearGradient><linearGradient id="g281" gradientUnits="userSpaceOnUse" x1="566.4" y1="251.5" x2="601.1" y2="354.7"><stop offset="0" stop-color="#6eff05"/><stop offset=".12" stop-color="#4dff09"/><stop offset=".3" stop-color="#0aff01"/><stop offset=".334" stop-color="#01ff01"/><stop offset=".5" stop-color="#00f52d"/><stop offset=".7" stop-color="#00ef60"/><stop offset=".88" stop-color="#00e989"/><stop offset="1" stop-color="#00e1a0"/></linearGradient><linearGradient id="g282" gradientUnits="userSpaceOnUse" x1="561.3" y1="260.9" x2="596.2" y2="357.2"><stop offset="0" stop-color="#54ff05"/><stop offset=".12" stop-color="#36ff09"/><stop offset=".272" stop-color="#01ff01"/><stop offset=".3" stop-color="#01ff08"/><stop offset=".5" stop-color="#00f73a"/><stop offset=".7" stop-color="#00f168"/><stop offset=".88" stop-color="#00eb8e"/><stop offset="1" stop-color="#00e2a2"/></linearGradient><linearGradient id="g283" gradientUnits="userSpaceOnUse" x1="556.1" y1="270" x2="591.3" y2="359.7"><stop offset="0" stop-color="#3bff05"/><stop offset=".12" stop-color="#1fff08"/><stop offset=".204" stop-color="#04ff04"/><stop offset=".3" stop-color="#01ff19"/><stop offset=".5" stop-color="#00f946"/><stop offset=".7" stop-color="#00f170"/><stop offset=".88" stop-color="#00eb92"/><stop offset="1" stop-color="#00e0a3"/></linearGradient><linearGradient id="g284" gradientUnits="userSpaceOnUse" x1="551" y1="278.7" x2="586.3" y2="362"><stop offset="0" stop-color="#24ff05"/><stop offset=".12" stop-color="#09ff07"/><stop offset=".128" stop-color="#06ff06"/><stop offset=".3" stop-color="#01ff29"/><stop offset=".5" stop-color="#00f951"/><stop offset=".7" stop-color="#00f176"/><stop offset=".88" stop-color="#00e894"/><stop offset="1" stop-color="#00dba1"/></linearGradient><linearGradient id="g285" gradientUnits="userSpaceOnUse" x1="545.9" y1="287" x2="581.4" y2="364.1"><stop offset="0" stop-color="#0eff04"/><stop offset=".044" stop-color="#08ff08"/><stop offset=".12" stop-color="#06ff17"/><stop offset=".3" stop-color="#01ff37"/><stop offset=".5" stop-color="#00f85a"/><stop offset=".7" stop-color="#00ef7b"/><stop offset=".88" stop-color="#00e393"/><stop offset="1" stop-color="#00d39b"/></linearGradient><linearGradient id="g286" gradientUnits="userSpaceOnUse" x1="540.8" y1="294.7" x2="576.5" y2="365.9"><stop offset="0" stop-color="#03ff0d"/><stop offset=".12" stop-color="#05ff27"/><stop offset=".3" stop-color="#01ff43"/><stop offset=".5" stop-color="#00f862"/><stop offset=".7" stop-color="#00ed7e"/><stop offset=".88" stop-color="#00df93"/><stop offset="1" stop-color="#00cb96"/></linearGradient><linearGradient id="g287" gradientUnits="userSpaceOnUse" x1="535.8" y1="301.9" x2="571.6" y2="367.7"><stop offset="0" stop-color="#02ff1e"/><stop offset=".12" stop-color="#04ff36"/><stop offset=".3" stop-color="#01ff4f"/><stop offset=".5" stop-color="#00f86a"/><stop offset=".7" stop-color="#00ed83"/><stop offset=".88" stop-color="#00de93"/><stop offset="1" stop-color="#00c994"/></linearGradient><linearGradient id="g288" gradientUnits="userSpaceOnUse" x1="530.7" y1="308.9" x2="566.7" y2="369.5"><stop offset="0" stop-color="#02ff2d"/><stop offset=".12" stop-color="#03ff44"/><stop offset=".3" stop-color="#01ff5a"/><stop offset=".5" stop-color="#00f971"/><stop offset=".7" stop-color="#00ed87"/><stop offset=".88" stop-color="#00dd94"/><stop offset="1" stop-color="#00c692"/></linearGradient><linearGradient id="g289" gradientUnits="userSpaceOnUse" x1="525.6" y1="315.5" x2="561.7" y2="371.2"><stop offset="0" stop-color="#01ff3c"/><stop offset=".12" stop-color="#03ff51"/><stop offset=".3" stop-color="#01ff65"/><stop offset=".5" stop-color="#00fa79"/><stop offset=".7" stop-color="#00ed8b"/><stop offset=".88" stop-color="#00db94"/><stop offset="1" stop-color="#00c28f"/></linearGradient><linearGradient id="g290" gradientUnits="userSpaceOnUse" x1="520.6" y1="322" x2="556.8" y2="373"><stop offset="0" stop-color="#01ff49"/><stop offset=".12" stop-color="#02ff5e"/><stop offset=".3" stop-color="#01ff6f"/><stop offset=".5" stop-color="#00fb80"/><stop offset=".7" stop-color="#00ed8f"/><stop offset=".88" stop-color="#00d994"/><stop offset="1" stop-color="#00be8c"/></linearGradient><linearGradient id="g291" gradientUnits="userSpaceOnUse" x1="515.5" y1="328.3" x2="551.9" y2="374.7"><stop offset="0" stop-color="#01ff56"/><stop offset=".12" stop-color="#02ff6a"/><stop offset=".3" stop-color="#01ff79"/><stop offset=".5" stop-color="#00fd87"/><stop offset=".7" stop-color="#00ee92"/><stop offset=".88" stop-color="#00d794"/><stop offset="1" stop-color="#00b988"/></linearGradient><linearGradient id="g292" gradientUnits="userSpaceOnUse" x1="510.5" y1="334.7" x2="547" y2="376.5"><stop offset="0" stop-color="#01ff63"/><stop offset=".12" stop-color="#02ff76"/><stop offset=".3" stop-color="#01ff84"/><stop offset=".5" stop-color="#00ff8f"/><stop offset=".7" stop-color="#00ee96"/><stop offset=".88" stop-color="#00d493"/><stop offset="1" stop-color="#00b283"/></linearGradient><linearGradient id="g293" gradientUnits="userSpaceOnUse" x1="505.5" y1="341.1" x2="542.1" y2="378.2"><stop offset="0" stop-color="#00ff71"/><stop offset=".12" stop-color="#02ff81"/><stop offset=".3" stop-color="#01ff8f"/><stop offset=".5" stop-color="#00ff97"/><stop offset=".7" stop-color="#00ef9b"/><stop offset=".88" stop-color="#00d293"/><stop offset="1" stop-color="#00ae80"/></linearGradient><linearGradient id="g294" gradientUnits="userSpaceOnUse" x1="500.4" y1="347.5" x2="537.2" y2="380.2"><stop offset="0" stop-color="#00ff7d"/><stop offset=".12" stop-color="#01ff8c"/><stop offset=".3" stop-color="#01ff99"/><stop offset=".5" stop-color="#00ff9f"/><stop offset=".7" stop-color="#00f3a1"/><stop offset=".88" stop-color="#00d697"/><stop offset="1" stop-color="#00b384"/></linearGradient><linearGradient id="g295" gradientUnits="userSpaceOnUse" x1="495.4" y1="353.7" x2="532.2" y2="382.5"><stop offset="0" stop-color="#00ff89"/><stop offset=".12" stop-color="#01ff96"/><stop offset=".3" stop-color="#01ffa2"/><stop offset=".5" stop-color="#00ffa7"/><stop offset=".7" stop-color="#00f3a6"/><stop offset=".88" stop-color="#00d599"/><stop offset="1" stop-color="#00b385"/></linearGradient><linearGradient id="g296" gradientUnits="userSpaceOnUse" x1="490.3" y1="359.9" x2="527.3" y2="384.9"><stop offset="0" stop-color="#00ff95"/><stop offset=".12" stop-color="#00ffa0"/><stop offset=".3" stop-color="#01ffa9"/><stop offset=".5" stop-color="#00ffac"/><stop offset=".7" stop-color="#00f0a8"/><stop offset=".88" stop-color="#00d098"/><stop offset="1" stop-color="#00ac81"/></linearGradient><linearGradient id="g297" gradientUnits="userSpaceOnUse" x1="485.3" y1="366.1" x2="522.4" y2="387.4"><stop offset="0" stop-color="#00ffa1"/><stop offset=".12" stop-color="#00ffa9"/><stop offset=".3" stop-color="#00ffaf"/><stop offset=".5" stop-color="#00fdb0"/><stop offset=".7" stop-color="#00e8a7"/><stop offset=".88" stop-color="#00c492"/><stop offset="1" stop-color="#009f79"/></linearGradient><linearGradient id="g298" gradientUnits="userSpaceOnUse" x1="480.3" y1="372.2" x2="517.5" y2="389.8"><stop offset="0" stop-color="#00ffad"/><stop offset=".12" stop-color="#00ffb1"/><stop offset=".3" stop-color="#00ffb3"/><stop offset=".5" stop-color="#00f4af"/><stop offset=".7" stop-color="#00dba2"/><stop offset=".88" stop-color="#00b287"/><stop offset="1" stop-color="#008b6b"/></linearGradient><linearGradient id="g299" gradientUnits="userSpaceOnUse" x1="475.2" y1="378.3" x2="512.5" y2="392.1"><stop offset="0" stop-color="#00ffb9"/><stop offset=".12" stop-color="#00fdb8"/><stop offset=".3" stop-color="#00f4b4"/><stop offset=".5" stop-color="#00e4aa"/><stop offset=".7" stop-color="#00c696"/><stop offset=".88" stop-color="#009975"/><stop offset="1" stop-color="#007158"/></linearGradient><linearGradient id="g300" gradientUnits="userSpaceOnUse" x1="470.2" y1="384.5" x2="507.6" y2="394.1"><stop offset="0" stop-color="#00ffc5"/><stop offset=".12" stop-color="#00f7bd"/><stop offset=".3" stop-color="#00e5b0"/><stop offset=".5" stop-color="#00cd9e"/><stop offset=".7" stop-color="#00a983"/><stop offset=".88" stop-color="#00795d"/><stop offset="1" stop-color="#005340"/></linearGradient><linearGradient id="g301" gradientUnits="userSpaceOnUse" x1="465.1" y1="390.7" x2="502.7" y2="395.9"><stop offset="0" stop-color="#00ffd0"/><stop offset=".12" stop-color="#00efc1"/><stop offset=".3" stop-color="#00d2a9"/><stop offset=".5" stop-color="#00b38e"/><stop offset=".7" stop-color="#008d6f"/><stop offset=".88" stop-color="#00614c"/><stop offset="1" stop-color="#005340"/></linearGradient><linearGradient id="g302" gradientUnits="userSpaceOnUse" x1="460.1" y1="396.9" x2="497.8" y2="397.6"><stop offset="0" stop-color="#00ffdb"/><stop offset=".12" stop-color="#00f3ce"/><stop offset=".3" stop-color="#00dbb7"/><stop offset=".5" stop-color="#00b795"/><stop offset=".7" stop-color="#00876c"/><stop offset=".88" stop-color="#005543"/><stop offset="1" stop-color="#005d48"/></linearGradient><linearGradient id="g303" gradientUnits="userSpaceOnUse" x1="455.1" y1="403.1" x2="492.9" y2="399.4"><stop offset="0" stop-color="#00fde6"/><stop offset=".12" stop-color="#00f0d6"/><stop offset=".3" stop-color="#00d6ba"/><stop offset=".5" stop-color="#00ae93"/><stop offset=".7" stop-color="#007c65"/><stop offset=".88" stop-color="#004d3d"/><stop offset="1" stop-color="#00664f"/></linearGradient><linearGradient id="g304" gradientUnits="userSpaceOnUse" x1="450" y1="409.3" x2="488" y2="401.1"><stop offset="0" stop-color="#00fcf0"/><stop offset=".12" stop-color="#00eedd"/><stop offset=".3" stop-color="#00d1bc"/><stop offset=".5" stop-color="#00a68f"/><stop offset=".7" stop-color="#00715d"/><stop offset=".88" stop-color="#005644"/><stop offset="1" stop-color="#006e55"/></linearGradient><linearGradient id="g305" gradientUnits="userSpaceOnUse" x1="445" y1="415.5" x2="483.1" y2="402.9"><stop offset="0" stop-color="#00fbfb"/><stop offset=".12" stop-color="#00ebe4"/><stop offset=".3" stop-color="#00ccbe"/><stop offset=".5" stop-color="#009e8c"/><stop offset=".7" stop-color="#006656"/><stop offset=".88" stop-color="#005e4b"/><stop offset="1" stop-color="#00755b"/></linearGradient><linearGradient id="g306" gradientUnits="userSpaceOnUse" x1="439.9" y1="421.7" x2="478.2" y2="404.6"><stop offset="0" stop-color="#00eefa"/><stop offset=".12" stop-color="#00e6e9"/><stop offset=".162" stop-color="#00e2e2"/><stop offset=".3" stop-color="#00c7bf"/><stop offset=".5" stop-color="#009588"/><stop offset=".7" stop-color="#005c4f"/><stop offset=".88" stop-color="#006552"/><stop offset="1" stop-color="#007c60"/></linearGradient><linearGradient id="g307" gradientUnits="userSpaceOnUse" x1="434.9" y1="427.9" x2="473.3" y2="406.4"><stop offset="0" stop-color="#00e0f8"/><stop offset=".12" stop-color="#00d9e6"/><stop offset=".285" stop-color="#00c5c5"/><stop offset=".3" stop-color="#00c2c1"/><stop offset=".5" stop-color="#008d84"/><stop offset=".7" stop-color="#005348"/><stop offset=".88" stop-color="#006c58"/><stop offset="1" stop-color="#008164"/></linearGradient><linearGradient id="g308" gradientUnits="userSpaceOnUse" x1="684.8" y1="322.7" x2="722.2" y2="336.2"><stop offset="0" stop-color="#00d693"/><stop offset=".12" stop-color="#00d795"/><stop offset=".3" stop-color="#00ce91"/><stop offset=".5" stop-color="#00976b"/><stop offset=".7" stop-color="#008963"/><stop offset=".88" stop-color="#008863"/><stop offset="1" stop-color="#008663"/></linearGradient><linearGradient id="g309" gradientUnits="userSpaceOnUse" x1="679.9" y1="324.7" x2="717.3" y2="337.9"><stop offset="0" stop-color="#00d694"/><stop offset=".12" stop-color="#00d796"/><stop offset=".3" stop-color="#00cd90"/><stop offset=".5" stop-color="#00956a"/><stop offset=".7" stop-color="#008862"/><stop offset=".88" stop-color="#008662"/><stop offset="1" stop-color="#008562"/></linearGradient><linearGradient id="g310" gradientUnits="userSpaceOnUse" x1="675" y1="326.6" x2="712.4" y2="339.7"><stop offset="0" stop-color="#00d694"/><stop offset=".12" stop-color="#00d796"/><stop offset=".3" stop-color="#00cc90"/><stop offset=".5" stop-color="#009369"/><stop offset=".7" stop-color="#008761"/><stop offset=".88" stop-color="#008561"/><stop offset="1" stop-color="#008461"/></linearGradient><linearGradient id="g311" gradientUnits="userSpaceOnUse" x1="670.1" y1="328.6" x2="707.5" y2="341.5"><stop offset="0" stop-color="#00d695"/><stop offset=".12" stop-color="#00d796"/><stop offset=".3" stop-color="#00cb8f"/><stop offset=".5" stop-color="#009168"/><stop offset=".7" stop-color="#008560"/><stop offset=".88" stop-color="#008460"/><stop offset="1" stop-color="#008360"/></linearGradient><linearGradient id="g312" gradientUnits="userSpaceOnUse" x1="665.1" y1="330.5" x2="702.5" y2="343.2"><stop offset="0" stop-color="#00d695"/><stop offset=".12" stop-color="#00d696"/><stop offset=".3" stop-color="#00c98e"/><stop offset=".5" stop-color="#008f67"/><stop offset=".7" stop-color="#00845f"/><stop offset=".88" stop-color="#008360"/><stop offset="1" stop-color="#008260"/></linearGradient><linearGradient id="g313" gradientUnits="userSpaceOnUse" x1="660.2" y1="332.4" x2="697.6" y2="345"><stop offset="0" stop-color="#00d695"/><stop offset=".12" stop-color="#00d696"/><stop offset=".3" stop-color="#00c78d"/><stop offset=".5" stop-color="#008d65"/><stop offset=".7" stop-color="#00825e"/><stop offset=".88" stop-color="#00825f"/><stop offset="1" stop-color="#00815f"/></linearGradient><linearGradient id="g314" gradientUnits="userSpaceOnUse" x1="655.3" y1="334.2" x2="692.7" y2="346.7"><stop offset="0" stop-color="#00d595"/><stop offset=".12" stop-color="#00d596"/><stop offset=".3" stop-color="#00c48b"/><stop offset=".5" stop-color="#008b64"/><stop offset=".7" stop-color="#00815e"/><stop offset=".88" stop-color="#00815e"/><stop offset="1" stop-color="#00815f"/></linearGradient><linearGradient id="g315" gradientUnits="userSpaceOnUse" x1="650.4" y1="336" x2="687.8" y2="348.5"><stop offset="0" stop-color="#00d595"/><stop offset=".12" stop-color="#00d495"/><stop offset=".3" stop-color="#00c289"/><stop offset=".5" stop-color="#008962"/><stop offset=".7" stop-color="#00805c"/><stop offset=".88" stop-color="#007f5d"/><stop offset="1" stop-color="#007f5e"/></linearGradient><linearGradient id="g316" gradientUnits="userSpaceOnUse" x1="645.4" y1="337.7" x2="682.9" y2="350.2"><stop offset="0" stop-color="#00d594"/><stop offset=".12" stop-color="#00d495"/><stop offset=".3" stop-color="#00bf87"/><stop offset=".5" stop-color="#00855f"/><stop offset=".7" stop-color="#007b59"/><stop offset=".88" stop-color="#007a59"/><stop offset="1" stop-color="#007959"/></linearGradient><linearGradient id="g317" gradientUnits="userSpaceOnUse" x1="640.5" y1="339.5" x2="677.9" y2="351.7"><stop offset="0" stop-color="#00d594"/><stop offset=".12" stop-color="#00d394"/><stop offset=".3" stop-color="#00bc85"/><stop offset=".5" stop-color="#00815d"/><stop offset=".7" stop-color="#007756"/><stop offset=".88" stop-color="#007555"/><stop offset="1" stop-color="#007355"/></linearGradient><linearGradient id="g318" gradientUnits="userSpaceOnUse" x1="635.6" y1="341.3" x2="673" y2="353.2"><stop offset="0" stop-color="#00d594"/><stop offset=".12" stop-color="#00d294"/><stop offset=".3" stop-color="#00b882"/><stop offset=".5" stop-color="#007e5a"/><stop offset=".7" stop-color="#007353"/><stop offset=".88" stop-color="#007052"/><stop offset="1" stop-color="#006f51"/></linearGradient><linearGradient id="g319" gradientUnits="userSpaceOnUse" x1="630.7" y1="343" x2="668.1" y2="354.7"><stop offset="0" stop-color="#00d594"/><stop offset=".12" stop-color="#00d293"/><stop offset=".3" stop-color="#00b580"/><stop offset=".5" stop-color="#007b57"/><stop offset=".7" stop-color="#007050"/><stop offset=".88" stop-color="#006d4f"/><stop offset="1" stop-color="#006b4e"/></linearGradient><linearGradient id="g320" gradientUnits="userSpaceOnUse" x1="625.8" y1="344.8" x2="663.2" y2="356.1"><stop offset="0" stop-color="#00d594"/><stop offset=".12" stop-color="#00d192"/><stop offset=".3" stop-color="#00b17d"/><stop offset=".5" stop-color="#007855"/><stop offset=".7" stop-color="#006d4e"/><stop offset=".88" stop-color="#006a4d"/><stop offset="1" stop-color="#00694c"/></linearGradient><linearGradient id="g321" gradientUnits="userSpaceOnUse" x1="620.8" y1="346.5" x2="658.3" y2="357.5"><stop offset="0" stop-color="#00d494"/><stop offset=".12" stop-color="#00d092"/><stop offset=".3" stop-color="#00ae7b"/><stop offset=".5" stop-color="#007654"/><stop offset=".7" stop-color="#006c4d"/><stop offset=".88" stop-color="#00694c"/><stop offset="1" stop-color="#00684b"/></linearGradient><linearGradient id="g322" gradientUnits="userSpaceOnUse" x1="615.9" y1="348.3" x2="653.4" y2="359"><stop offset="0" stop-color="#00d494"/><stop offset=".12" stop-color="#00cf91"/><stop offset=".3" stop-color="#00ab79"/><stop offset=".5" stop-color="#007553"/><stop offset=".7" stop-color="#006c4d"/><stop offset=".88" stop-color="#006a4c"/><stop offset="1" stop-color="#00684b"/></linearGradient><linearGradient id="g323" gradientUnits="userSpaceOnUse" x1="611" y1="350.2" x2="648.5" y2="360.5"><stop offset="0" stop-color="#00d998"/><stop offset=".12" stop-color="#00d495"/><stop offset=".3" stop-color="#00af7b"/><stop offset=".5" stop-color="#007955"/><stop offset=".7" stop-color="#006d4d"/><stop offset=".88" stop-color="#00674a"/><stop offset="1" stop-color="#006447"/></linearGradient><linearGradient id="g324" gradientUnits="userSpaceOnUse" x1="606.1" y1="352.4" x2="643.6" y2="361.9"><stop offset="0" stop-color="#00de9c"/><stop offset=".12" stop-color="#00d999"/><stop offset=".3" stop-color="#00b27d"/><stop offset=".5" stop-color="#007956"/><stop offset=".7" stop-color="#006b4c"/><stop offset=".88" stop-color="#006346"/><stop offset="1" stop-color="#005d42"/></linearGradient><linearGradient id="g325" gradientUnits="userSpaceOnUse" x1="601.1" y1="354.7" x2="638.6" y2="363.4"><stop offset="0" stop-color="#00e1a0"/><stop offset=".12" stop-color="#00db9c"/><stop offset=".3" stop-color="#00b07d"/><stop offset=".5" stop-color="#007754"/><stop offset=".7" stop-color="#006749"/><stop offset=".88" stop-color="#005d42"/><stop offset="1" stop-color="#00573e"/></linearGradient><linearGradient id="g326" gradientUnits="userSpaceOnUse" x1="596.2" y1="357.2" x2="633.7" y2="364.8"><stop offset="0" stop-color="#00e2a2"/><stop offset=".12" stop-color="#00db9d"/><stop offset=".3" stop-color="#00aa7a"/><stop offset=".5" stop-color="#007150"/><stop offset=".7" stop-color="#006145"/><stop offset=".88" stop-color="#00583e"/><stop offset="1" stop-color="#005139"/></linearGradient><linearGradient id="g327" gradientUnits="userSpaceOnUse" x1="591.3" y1="359.7" x2="628.8" y2="366.3"><stop offset="0" stop-color="#00e0a3"/><stop offset=".12" stop-color="#00d79b"/><stop offset=".3" stop-color="#00a174"/><stop offset=".5" stop-color="#006a4b"/><stop offset=".7" stop-color="#005b41"/><stop offset=".88" stop-color="#00533a"/><stop offset="1" stop-color="#004d36"/></linearGradient><linearGradient id="g328" gradientUnits="userSpaceOnUse" x1="586.3" y1="362" x2="623.9" y2="367.8"><stop offset="0" stop-color="#00dba0"/><stop offset=".12" stop-color="#00cf97"/><stop offset=".3" stop-color="#00956c"/><stop offset=".5" stop-color="#006146"/><stop offset=".7" stop-color="#00563d"/><stop offset=".88" stop-color="#005038"/><stop offset="1" stop-color="#004c35"/></linearGradient><linearGradient id="g329" gradientUnits="userSpaceOnUse" x1="581.4" y1="364.1" x2="619" y2="369.4"><stop offset="0" stop-color="#00d29b"/><stop offset=".12" stop-color="#00c28e"/><stop offset=".3" stop-color="#008661"/><stop offset=".5" stop-color="#005940"/><stop offset=".7" stop-color="#00523a"/><stop offset=".88" stop-color="#005038"/><stop offset="1" stop-color="#004f37"/></linearGradient><linearGradient id="g330" gradientUnits="userSpaceOnUse" x1="576.5" y1="365.9" x2="614.1" y2="371.2"><stop offset="0" stop-color="#00cb96"/><stop offset=".12" stop-color="#00b887"/><stop offset=".3" stop-color="#007d5b"/><stop offset=".5" stop-color="#00553d"/><stop offset=".7" stop-color="#00513a"/><stop offset=".88" stop-color="#005139"/><stop offset="1" stop-color="#005139"/></linearGradient><linearGradient id="g331" gradientUnits="userSpaceOnUse" x1="571.6" y1="367.7" x2="609.2" y2="372.9"><stop offset="0" stop-color="#00c994"/><stop offset=".12" stop-color="#00b484"/><stop offset=".3" stop-color="#007958"/><stop offset=".5" stop-color="#00553d"/><stop offset=".7" stop-color="#00513a"/><stop offset=".88" stop-color="#005139"/><stop offset="1" stop-color="#005139"/></linearGradient><linearGradient id="g332" gradientUnits="userSpaceOnUse" x1="566.7" y1="369.5" x2="604.2" y2="374.7"><stop offset="0" stop-color="#00c691"/><stop offset=".12" stop-color="#00af80"/><stop offset=".3" stop-color="#007656"/><stop offset=".5" stop-color="#00553d"/><stop offset=".7" stop-color="#00513a"/><stop offset=".88" stop-color="#005139"/><stop offset="1" stop-color="#005139"/></linearGradient><linearGradient id="g333" gradientUnits="userSpaceOnUse" x1="561.7" y1="371.2" x2="599.3" y2="376.4"><stop offset="0" stop-color="#00c28f"/><stop offset=".12" stop-color="#00aa7c"/><stop offset=".3" stop-color="#007353"/><stop offset=".5" stop-color="#00543d"/><stop offset=".7" stop-color="#00513a"/><stop offset=".88" stop-color="#005139"/><stop offset="1" stop-color="#005139"/></linearGradient><linearGradient id="g334" gradientUnits="userSpaceOnUse" x1="556.8" y1="373" x2="594.4" y2="378.2"><stop offset="0" stop-color="#00be8c"/><stop offset=".12" stop-color="#00a478"/><stop offset=".3" stop-color="#007051"/><stop offset=".5" stop-color="#00543c"/><stop offset=".7" stop-color="#00513a"/><stop offset=".88" stop-color="#005139"/><stop offset="1" stop-color="#005139"/></linearGradient><linearGradient id="g335" gradientUnits="userSpaceOnUse" x1="551.9" y1="374.7" x2="589.5" y2="379.9"><stop offset="0" stop-color="#00b888"/><stop offset=".12" stop-color="#009e73"/><stop offset=".3" stop-color="#006d4f"/><stop offset=".5" stop-color="#00543c"/><stop offset=".7" stop-color="#00513a"/><stop offset=".88" stop-color="#005139"/><stop offset="1" stop-color="#005139"/></linearGradient><linearGradient id="g336" gradientUnits="userSpaceOnUse" x1="547" y1="376.5" x2="584.6" y2="381.7"><stop offset="0" stop-color="#00b283"/><stop offset=".12" stop-color="#00976f"/><stop offset=".3" stop-color="#006a4d"/><stop offset=".5" stop-color="#00543c"/><stop offset=".7" stop-color="#00513a"/><stop offset=".88" stop-color="#005139"/><stop offset="1" stop-color="#005139"/></linearGradient><linearGradient id="g337" gradientUnits="userSpaceOnUse" x1="542.1" y1="378.2" x2="579.7" y2="383.5"><stop offset="0" stop-color="#00ae80"/><stop offset=".12" stop-color="#00936b"/><stop offset=".3" stop-color="#00694c"/><stop offset=".5" stop-color="#00543c"/><stop offset=".7" stop-color="#00513a"/><stop offset=".88" stop-color="#005038"/><stop offset="1" stop-color="#004f37"/></linearGradient><linearGradient id="g338" gradientUnits="userSpaceOnUse" x1="537.2" y1="380.2" x2="574.8" y2="385.1"><stop offset="0" stop-color="#00b384"/><stop offset=".12" stop-color="#00976e"/><stop offset=".3" stop-color="#006d4f"/><stop offset=".5" stop-color="#00563d"/><stop offset=".7" stop-color="#004e37"/><stop offset=".88" stop-color="#004c35"/><stop offset="1" stop-color="#004f37"/></linearGradient><linearGradient id="g339" gradientUnits="userSpaceOnUse" x1="532.2" y1="382.5" x2="569.9" y2="386.6"><stop offset="0" stop-color="#00b385"/><stop offset=".12" stop-color="#00a77b"/><stop offset=".3" stop-color="#00936b"/><stop offset=".5" stop-color="#007a58"/><stop offset=".7" stop-color="#006145"/><stop offset=".88" stop-color="#004b35"/><stop offset="1" stop-color="#00563c"/></linearGradient><linearGradient id="g340" gradientUnits="userSpaceOnUse" x1="527.3" y1="384.9" x2="565" y2="388"><stop offset="0" stop-color="#00ac81"/><stop offset=".12" stop-color="#009f76"/><stop offset=".3" stop-color="#008a65"/><stop offset=".5" stop-color="#007151"/><stop offset=".7" stop-color="#00573e"/><stop offset=".88" stop-color="#005239"/><stop offset="1" stop-color="#005d40"/></linearGradient><linearGradient id="g341" gradientUnits="userSpaceOnUse" x1="522.4" y1="387.4" x2="560.1" y2="389.4"><stop offset="0" stop-color="#009f79"/><stop offset=".12" stop-color="#00926d"/><stop offset=".3" stop-color="#007d5c"/><stop offset=".5" stop-color="#006549"/><stop offset=".7" stop-color="#004d37"/><stop offset=".88" stop-color="#00583d"/><stop offset="1" stop-color="#006243"/></linearGradient><linearGradient id="g342" gradientUnits="userSpaceOnUse" x1="517.5" y1="389.8" x2="555.2" y2="390.8"><stop offset="0" stop-color="#008b6b"/><stop offset=".12" stop-color="#007f60"/><stop offset=".3" stop-color="#006d51"/><stop offset=".5" stop-color="#005940"/><stop offset=".7" stop-color="#004f38"/><stop offset=".88" stop-color="#005c40"/><stop offset="1" stop-color="#006445"/></linearGradient><linearGradient id="g343" gradientUnits="userSpaceOnUse" x1="512.5" y1="392.1" x2="550.2" y2="392.3"><stop offset="0" stop-color="#007157"/><stop offset=".12" stop-color="#00684f"/><stop offset=".3" stop-color="#005b43"/><stop offset=".5" stop-color="#004c37"/><stop offset=".7" stop-color="#00553c"/><stop offset=".88" stop-color="#005e41"/><stop offset="1" stop-color="#006444"/></linearGradient><linearGradient id="g344" gradientUnits="userSpaceOnUse" x1="507.6" y1="394.1" x2="545.3" y2="393.9"><stop offset="0" stop-color="#005240"/><stop offset=".12" stop-color="#004e3b"/><stop offset=".3" stop-color="#004e3a"/><stop offset=".5" stop-color="#00533c"/><stop offset=".7" stop-color="#00583e"/><stop offset=".88" stop-color="#005d40"/><stop offset="1" stop-color="#006041"/></linearGradient><linearGradient id="g345" gradientUnits="userSpaceOnUse" x1="502.7" y1="395.9" x2="540.4" y2="395.7"><stop offset="0" stop-color="#005340"/><stop offset=".12" stop-color="#005541"/><stop offset=".3" stop-color="#005741"/><stop offset=".5" stop-color="#005941"/><stop offset=".7" stop-color="#005b40"/><stop offset=".88" stop-color="#005d40"/><stop offset="1" stop-color="#005e40"/></linearGradient><linearGradient id="g346" gradientUnits="userSpaceOnUse" x1="497.8" y1="397.6" x2="535.5" y2="397.4"><stop offset="0" stop-color="#005d48"/><stop offset=".12" stop-color="#005d47"/><stop offset=".3" stop-color="#005e46"/><stop offset=".5" stop-color="#005e44"/><stop offset=".7" stop-color="#005e42"/><stop offset=".88" stop-color="#005e41"/><stop offset="1" stop-color="#005e40"/></linearGradient><linearGradient id="g347" gradientUnits="userSpaceOnUse" x1="492.9" y1="399.4" x2="530.6" y2="399.2"><stop offset="0" stop-color="#00664f"/><stop offset=".12" stop-color="#00654d"/><stop offset=".3" stop-color="#00644b"/><stop offset=".5" stop-color="#006247"/><stop offset=".7" stop-color="#006144"/><stop offset=".88" stop-color="#005f42"/><stop offset="1" stop-color="#005e40"/></linearGradient><linearGradient id="g348" gradientUnits="userSpaceOnUse" x1="488" y1="401.1" x2="525.7" y2="400.9"><stop offset="0" stop-color="#006e56"/><stop offset=".12" stop-color="#006d53"/><stop offset=".3" stop-color="#006a4f"/><stop offset=".5" stop-color="#00674b"/><stop offset=".7" stop-color="#006346"/><stop offset=".88" stop-color="#006042"/><stop offset="1" stop-color="#005e40"/></linearGradient><linearGradient id="g349" gradientUnits="userSpaceOnUse" x1="483.1" y1="402.9" x2="520.8" y2="402.7"><stop offset="0" stop-color="#00765b"/><stop offset=".12" stop-color="#007358"/><stop offset=".3" stop-color="#006f53"/><stop offset=".5" stop-color="#006b4e"/><stop offset=".7" stop-color="#006648"/><stop offset=".88" stop-color="#006143"/><stop offset="1" stop-color="#005e40"/></linearGradient><linearGradient id="g350" gradientUnits="userSpaceOnUse" x1="478.2" y1="404.6" x2="515.9" y2="404.4"><stop offset="0" stop-color="#007c60"/><stop offset=".12" stop-color="#00795c"/><stop offset=".3" stop-color="#007457"/><stop offset=".5" stop-color="#006f50"/><stop offset=".7" stop-color="#00694a"/><stop offset=".88" stop-color="#006344"/><stop offset="1" stop-color="#005e40"/></linearGradient><linearGradient id="g351" gradientUnits="userSpaceOnUse" x1="473.3" y1="406.4" x2="511" y2="406.2"><stop offset="0" stop-color="#008164"/><stop offset=".12" stop-color="#007e60"/><stop offset=".3" stop-color="#00795a"/><stop offset=".5" stop-color="#007253"/><stop offset=".7" stop-color="#006b4c"/><stop offset=".88" stop-color="#006445"/><stop offset="1" stop-color="#005e40"/></linearGradient></defs>
<g class="t"><path d="M421.3 373.3l40.7-96.4-4.9 1.7-40.7 96.5z" fill="url(#g0)" stroke="url(#g0)"/><path d="M416.4 375.1l40.7-96.5-4.9 1.8-40.7 96.4z" fill="url(#g1)" stroke="url(#g1)"/><path d="M411.5 376.8l40.7-96.4-5 1.7-40.6 96.5z" fill="url(#g2)" stroke="url(#g2)"/><path d="M406.6 378.6l40.6-96.5-4.9 1.8-40.6 96.5z" fill="url(#g3)" stroke="url(#g3)"/><path d="M462 276.9l37.4 12.4-5.1 8.2-37.2-18.9z" fill="url(#g44)" stroke="url(#g44)"/><path d="M401.7 380.4l40.6-96.5-4.9 1.7-40.7 96.5z" fill="url(#g4)" stroke="url(#g4)"/><path d="M457.1 278.6l37.2 18.9-5.1 8-37-25.1z" fill="url(#g45)" stroke="url(#g45)"/><path d="M396.7 382.1l40.7-96.5-4.9 1.8-40.7 96.5z" fill="url(#g5)" stroke="url(#g5)"/><path d="M452.2 280.4l37 25.1-5.1 7.9-36.9-31.3z" fill="url(#g46)" stroke="url(#g46)"/><path d="M391.8 383.9l40.7-96.5-4.9 1.8-40.7 96.4z" fill="url(#g6)" stroke="url(#g6)"/><path d="M447.2 282.1l36.9 31.3-5.1 7.7-36.7-37.2z" fill="url(#g47)" stroke="url(#g47)"/><path d="M386.9 385.6l40.7-96.4-4.9 1.7-40.7 96.5z" fill="url(#g7)" stroke="url(#g7)"/><path d="M499.4 289.3l37.8-2-4.9 1.8-38 8.4z" fill="url(#g88)" stroke="url(#g88)"/><path d="M442.3 283.9l36.7 37.2-5.1 7.6-36.5-43.1z" fill="url(#g48)" stroke="url(#g48)"/><path d="M382 387.4l40.7-96.5-4.9 1.8-40.7 96.4z" fill="url(#g8)" stroke="url(#g8)"/><path d="M494.3 297.5l38-8.4-4.9 1.7-38.2 14.7z" fill="url(#g89)" stroke="url(#g89)"/><path d="M437.4 285.6l36.5 43.1-5.1 7.4-36.3-48.7z" fill="url(#g49)" stroke="url(#g49)"/><path d="M377.1 389.1l40.7-96.4-4.9 1.7-40.7 96.5z" fill="url(#g9)" stroke="url(#g9)"/><path d="M489.2 305.5l38.2-14.7-5 1.8-38.3 20.8z" fill="url(#g90)" stroke="url(#g90)"/><path d="M432.5 287.4l36.3 48.7-5.1 7.3-36.1-54.2z" fill="url(#g50)" stroke="url(#g50)"/><path d="M372.2 390.9l40.7-96.5-4.9 1.8-40.7 96.4z" fill="url(#g10)" stroke="url(#g10)"/><path d="M484.1 313.4l38.3-20.8-4.9 1.8-38.5 26.7z" fill="url(#g91)" stroke="url(#g91)"/><path d="M427.6 289.2l36.1 54.2-5 7.3-36-59.8z" fill="url(#g51)" stroke="url(#g51)"/><path d="M367.3 392.6l40.7-96.4-4.9 1.7-40.7 96.5z" fill="url(#g11)" stroke="url(#g11)"/><path d="M537.2 287.3l40.9-106.9-5.2 10-40.6 98.7z" fill="url(#g132)" stroke="url(#g132)"/><path d="M479 321.1l38.5-26.7-4.9 1.7-38.7 32.6z" fill="url(#g92)" stroke="url(#g92)"/><path d="M422.7 290.9l36 59.8-5.1 7.4-35.8-65.4z" fill="url(#g52)" stroke="url(#g52)"/><path d="M362.4 394.4l40.7-96.5-4.9 1.8-40.7 96.4z" fill="url(#g12)" stroke="url(#g12)"/><path d="M532.3 289.1l40.6-98.7-5.1 9.6-40.4 90.8z" fill="url(#g133)" stroke="url(#g133)"/><path d="M473.9 328.7l38.7-32.6-4.9 1.8-38.9 38.2z" fill="url(#g93)" stroke="url(#g93)"/><path d="M417.8 292.7l35.8 65.4-5.1 7.4-35.6-71.1z" fill="url(#g53)" stroke="url(#g53)"/><path d="M357.5 396.1l40.7-96.4-5 1.8-40.6 96.4z" fill="url(#g13)" stroke="url(#g13)"/><path d="M527.4 290.8l40.4-90.8-5.1 9.2-40.3 83.4z" fill="url(#g134)" stroke="url(#g134)"/><path d="M468.8 336.1l38.9-38.2-4.9 1.7-39.1 43.8z" fill="url(#g94)" stroke="url(#g94)"/><path d="M412.9 294.4l35.6 71.1-5.1 7.3-35.4-76.6z" fill="url(#g54)" stroke="url(#g54)"/><path d="M352.6 397.9l40.6-96.4-4.9 1.7-40.6 96.4z" fill="url(#g14)" stroke="url(#g14)"/><path d="M522.4 292.6l40.3-83.4-5.2 8.8-40 76.4z" fill="url(#g135)" stroke="url(#g135)"/><path d="M463.7 343.4l39.1-43.8-4.9 1.8-39.2 49.3z" fill="url(#g95)" stroke="url(#g95)"/><path d="M408 296.2l35.4 76.6-5.1 6.9-35.2-81.8z" fill="url(#g55)" stroke="url(#g55)"/><path d="M347.7 399.6l40.6-96.4-4.9 1.9-40.7 96.3z" fill="url(#g15)" stroke="url(#g15)"/><path d="M578.1 180.4l35.9 62.9-5 4.7-36.1-57.6z" fill="url(#g176)" stroke="url(#g176)"/><path d="M517.5 294.4l40-76.4-5.1 8.3-39.8 69.8z" fill="url(#g136)" stroke="url(#g136)"/><path d="M458.7 350.7l39.2-49.3-4.9 2.1-39.4 54.6z" fill="url(#g96)" stroke="url(#g96)"/><path d="M403.1 297.9l35.2 81.8-5 6.4-35.1-86.4z" fill="url(#g56)" stroke="url(#g56)"/><path d="M342.7 401.4l40.7-96.3-4.9 1.9-40.7 96.2z" fill="url(#g16)" stroke="url(#g16)"/><path d="M572.9 190.4l36.1 57.6-5 4.6-36.2-52.6z" fill="url(#g177)" stroke="url(#g177)"/><path d="M512.6 296.1l39.8-69.8-5.1 7.9-39.6 63.7z" fill="url(#g137)" stroke="url(#g137)"/><path d="M453.6 358.1l39.4-54.6-5 2.2-39.5 59.8z" fill="url(#g97)" stroke="url(#g97)"/><path d="M398.2 299.7l35.1 86.4-5 5.6-35.1-90.2z" fill="url(#g57)" stroke="url(#g57)"/><path d="M337.8 403.2l40.7-96.2-4.9 2.1-40.7 95.8z" fill="url(#g17)" stroke="url(#g17)"/><path d="M567.8 200l36.2 52.6-5 4.4-36.3-47.8z" fill="url(#g178)" stroke="url(#g178)"/><path d="M507.7 297.9l39.6-63.7-5 7.3-39.5 58.1z" fill="url(#g138)" stroke="url(#g138)"/><path d="M448.5 365.5l39.5-59.8-4.9 2.3-39.7 64.8z" fill="url(#g98)" stroke="url(#g98)"/><path d="M393.2 301.5l35.1 90.2-5 4.8-35-93.3z" fill="url(#g58)" stroke="url(#g58)"/><path d="M332.9 404.9l40.7-95.8-4.9 2-40.7 95.6z" fill="url(#g18)" stroke="url(#g18)"/><path d="M562.7 209.2l36.3 47.8-5 4.3-36.5-43.3z" fill="url(#g179)" stroke="url(#g179)"/><path d="M502.8 299.6l39.5-58.1-5.1 6.8-39.3 53.1z" fill="url(#g139)" stroke="url(#g139)"/><path d="M443.4 372.8l39.7-64.8-4.9 2.4-39.9 69.3z" fill="url(#g99)" stroke="url(#g99)"/><path d="M388.3 303.2l35 93.3-5 4.5-34.9-95.9z" fill="url(#g59)" stroke="url(#g59)"/><path d="M328 406.7l40.7-95.6-4.9 2.1-40.7 95.2z" fill="url(#g19)" stroke="url(#g19)"/><path d="M614 243.3l42.7-170.2-5.2 8.6-42.5 166.3z" fill="url(#g220)" stroke="url(#g220)"/><path d="M557.5 218l36.5 43.3-5 4.1-36.6-39.1z" fill="url(#g180)" stroke="url(#g180)"/><path d="M497.9 301.4l39.3-53.1-5.1 6.7-39.1 48.5z" fill="url(#g140)" stroke="url(#g140)"/><path d="M438.3 379.7l39.9-69.3-5 2.4-39.9 73.3z" fill="url(#g100)" stroke="url(#g100)"/><path d="M383.4 305.1l34.9 95.9-5 4.3-34.8-98.3z" fill="url(#g60)" stroke="url(#g60)"/><path d="M323.1 408.4l40.7-95.2-4.9 2.1-40.7 94.9z" fill="url(#g20)" stroke="url(#g20)"/><path d="M609 248l42.5-166.3-5.1 8.9-42.4 162z" fill="url(#g221)" stroke="url(#g221)"/><path d="M552.4 226.3l36.6 39.1-4.9 4-36.8-35.2z" fill="url(#g181)" stroke="url(#g181)"/><path d="M493 303.5l39.1-48.5-5 6.6-39.1 44.1z" fill="url(#g141)" stroke="url(#g141)"/><path d="M433.3 386.1l39.9-73.3-4.9 2.4-40 76.5z" fill="url(#g101)" stroke="url(#g101)"/><path d="M378.5 307l34.8 98.3-5 4-34.7-100.2z" fill="url(#g61)" stroke="url(#g61)"/><path d="M318.2 410.2l40.7-94.9-4.9 2-40.7 94.6z" fill="url(#g21)" stroke="url(#g21)"/><path d="M604 252.6l42.4-162-5.1 9.1-42.3 157.3z" fill="url(#g222)" stroke="url(#g222)"/><path d="M547.3 234.2l36.8 35.2-5 3.8-36.8-31.7z" fill="url(#g182)" stroke="url(#g182)"/><path d="M488 305.7l39.1-44.1-5.1 6.3-38.9 40.1z" fill="url(#g142)" stroke="url(#g142)"/><path d="M428.3 391.7l40-76.5-4.9 2.3-40.1 79z" fill="url(#g102)" stroke="url(#g102)"/><path d="M373.6 309.1l34.7 100.2-5 3.8-34.6-102z" fill="url(#g62)" stroke="url(#g62)"/><path d="M313.3 411.9l40.7-94.6-5 2-40.6 94.4z" fill="url(#g22)" stroke="url(#g22)"/><path d="M599 257l42.3-157.3-5.1 9.3-42.2 152.3z" fill="url(#g223)" stroke="url(#g223)"/><path d="M542.3 241.5l36.8 31.7-5 3.6-36.9-28.5z" fill="url(#g183)" stroke="url(#g183)"/><path d="M483.1 308l38.9-40.1-5 5.7-38.8 36.8z" fill="url(#g143)" stroke="url(#g143)"/><path d="M423.3 396.5l40.1-79-4.9 2.3-40.2 81.2z" fill="url(#g103)" stroke="url(#g103)"/><path d="M368.7 311.1l34.6 102-4.9 3.4-34.6-103.3z" fill="url(#g63)" stroke="url(#g63)"/><path d="M308.4 413.7l40.6-94.4-4.9 2.1-40.6 94z" fill="url(#g23)" stroke="url(#g23)"/><path d="M656.7 73.1l30.6 248.6-4.9 2-30.9-242z" fill="url(#g264)" stroke="url(#g264)"/><path d="M594 261.3l42.2-152.3-5.2 9.6-42 146.8z" fill="url(#g224)" stroke="url(#g224)"/><path d="M537.2 248.3l36.9 28.5-5 3.4-37-25.2z" fill="url(#g184)" stroke="url(#g184)"/><path d="M478.2 310.4l38.8-36.8-5 5.2-38.8 34z" fill="url(#g144)" stroke="url(#g144)"/><path d="M418.3 401l40.2-81.2-5 2.4-40.2 83.1z" fill="url(#g104)" stroke="url(#g104)"/><path d="M363.8 313.2l34.6 103.3-5 3.2-34.5-104.4z" fill="url(#g64)" stroke="url(#g64)"/><path d="M303.5 415.4l40.6-94-4.9 2.1-40.6 93.7z" fill="url(#g24)" stroke="url(#g24)"/><path d="M651.5 81.7l30.9 242-5 2-31-235.1z" fill="url(#g265)" stroke="url(#g265)"/><path d="M589 265.4l42-146.8-5.1 9.8-41.8 141z" fill="url(#g225)" stroke="url(#g225)"/><path d="M532.1 255l37 25.2-4.9 3.4-37.1-22z" fill="url(#g185)" stroke="url(#g185)"/><path d="M473.2 312.8l38.8-34-5 4.4-38.7 32z" fill="url(#g145)" stroke="url(#g145)"/><path d="M413.3 405.3l40.2-83.1-4.9 2.4-40.3 84.7z" fill="url(#g105)" stroke="url(#g105)"/><path d="M358.9 315.3l34.5 104.4-4.9 2.7-34.5-105.1z" fill="url(#g65)" stroke="url(#g65)"/><path d="M298.6 417.2l40.6-93.7-4.9 2.1-40.6 93.3z" fill="url(#g25)" stroke="url(#g25)"/><path d="M646.4 90.6l31 235.1-4.9 1.9-31.2-227.9z" fill="url(#g266)" stroke="url(#g266)"/><path d="M584.1 269.4l41.8-141-5.2 10-41.6 134.8z" fill="url(#g226)" stroke="url(#g226)"/><path d="M527.1 261.6l37.1 22-5 3.3-37.2-19z" fill="url(#g186)" stroke="url(#g186)"/><path d="M468.3 315.2l38.7-32-5 3.6-38.6 30.7z" fill="url(#g146)" stroke="url(#g146)"/><path d="M408.3 409.3l40.3-84.7-4.9 2.4-40.4 86.1z" fill="url(#g106)" stroke="url(#g106)"/><path d="M354 317.3l34.5 105.1-4.9 2.5-34.6-105.6z" fill="url(#g66)" stroke="url(#g66)"/><path d="M293.7 418.9l40.6-93.3-4.9 2-40.6 93.1z" fill="url(#g26)" stroke="url(#g26)"/><path d="M641.3 99.7l31.2 227.9-4.9 1.9-31.4-220.5z" fill="url(#g267)" stroke="url(#g267)"/><path d="M579.1 273.2l41.6-134.8-5.1 10.4-41.5 128z" fill="url(#g227)" stroke="url(#g227)"/><path d="M522 267.9l37.2 19-4.9 3.2-37.3-16.5z" fill="url(#g187)" stroke="url(#g187)"/><path d="M463.4 317.5l38.6-30.7-4.9 2.9-38.6 30.1z" fill="url(#g147)" stroke="url(#g147)"/><path d="M403.3 413.1l40.4-86.1-4.9 2.3-40.4 87.2z" fill="url(#g107)" stroke="url(#g107)"/><path d="M349 319.3l34.6 105.6-5 2.5-34.5-106z" fill="url(#g67)" stroke="url(#g67)"/><path d="M288.8 420.7l40.6-93.1-4.9 2-40.6 92.8z" fill="url(#g27)" stroke="url(#g27)"/><path d="M687.3 321.7l37.4 13.6-4.9 1.8-37.4-13.4z" fill="url(#g308)" stroke="url(#g308)"/><path d="M636.2 109l31.4 220.5-4.9 1.9-31.7-212.8z" fill="url(#g268)" stroke="url(#g268)"/><path d="M574.1 276.8l41.5-128-5.2 10.9-41.3 120.5z" fill="url(#g228)" stroke="url(#g228)"/><path d="M517 273.6l37.3 16.5-5 3.1-37.3-14.4z" fill="url(#g188)" stroke="url(#g188)"/><path d="M458.5 319.8l38.6-30.1-4.9 2.7-38.7 29.8z" fill="url(#g148)" stroke="url(#g148)"/><path d="M398.4 416.5l40.4-87.2-5 2-40.4 88.4z" fill="url(#g108)" stroke="url(#g108)"/><path d="M344.1 321.4l34.5 106-4.9 2.4-34.5-106.3z" fill="url(#g68)" stroke="url(#g68)"/><path d="M283.9 422.4l40.6-92.8-4.9 1.8-40.6 92.8z" fill="url(#g28)" stroke="url(#g28)"/><path d="M682.4 323.7l37.4 13.4-4.9 1.7-37.5-13.1z" fill="url(#g309)" stroke="url(#g309)"/><path d="M631 118.6l31.7 212.8-5 1.9-31.8-204.9z" fill="url(#g269)" stroke="url(#g269)"/><path d="M569.1 280.2l41.3-120.5-5.2 11.5-41 112.4z" fill="url(#g229)" stroke="url(#g229)"/><path d="M512 278.8l37.3 14.4-4.9 3-37.4-13z" fill="url(#g189)" stroke="url(#g189)"/><path d="M453.5 322.2l38.7-29.8-5 2.5-38.6 29.7z" fill="url(#g149)" stroke="url(#g149)"/><path d="M393.4 419.7l40.4-88.4-4.9 1.9-40.4 89.2z" fill="url(#g109)" stroke="url(#g109)"/><path d="M339.2 323.5l34.5 106.3-4.9 2.3-34.5-106.5z" fill="url(#g69)" stroke="url(#g69)"/><path d="M279 424.2l40.6-92.8-4.9 1.8-40.6 92.7z" fill="url(#g29)" stroke="url(#g29)"/><path d="M677.4 325.7l37.5 13.1-5 1.8-37.4-13z" fill="url(#g310)" stroke="url(#g310)"/><path d="M625.9 128.4l31.8 204.9-4.9 1.8-32.1-196.7z" fill="url(#g270)" stroke="url(#g270)"/><path d="M564.2 283.6l41-112.4-5.2 11.6-40.8 104.1z" fill="url(#g230)" stroke="url(#g230)"/><path d="M507 283.2l37.4 13-5 2.9-37.4-12.3z" fill="url(#g190)" stroke="url(#g190)"/><path d="M448.6 324.6l38.6-29.7-4.9 2.5-38.6 29.6z" fill="url(#g150)" stroke="url(#g150)"/><path d="M388.5 422.4l40.4-89.2-4.9 1.8-40.4 89.9z" fill="url(#g110)" stroke="url(#g110)"/><path d="M334.3 325.6l34.5 106.5-4.9 2.2-34.5-106.7z" fill="url(#g70)" stroke="url(#g70)"/><path d="M274.1 425.9l40.6-92.7-4.9 1.7-40.6 92.8z" fill="url(#g30)" stroke="url(#g30)"/><path d="M672.5 327.6l37.4 13-4.9 1.7-37.4-12.8z" fill="url(#g311)" stroke="url(#g311)"/><path d="M620.7 138.4l32.1 196.7-4.9 1.8-32.3-188.1z" fill="url(#g271)" stroke="url(#g271)"/><path d="M559.2 286.9l40.8-104.1-5.2 11.6-40.5 95.7z" fill="url(#g231)" stroke="url(#g231)"/><path d="M502 286.8l37.4 12.3-4.9 2.8-37.4-12.2z" fill="url(#g191)" stroke="url(#g191)"/><path d="M443.7 327l38.6-29.6-4.9 2.5-38.6 29.4z" fill="url(#g151)" stroke="url(#g151)"/><path d="M383.6 424.9l40.4-89.9-4.9 1.7-40.5 90.7z" fill="url(#g111)" stroke="url(#g111)"/><path d="M329.4 327.6l34.5 106.7-5 2.1-34.4-106.8z" fill="url(#g71)" stroke="url(#g71)"/><path d="M269.2 427.7l40.6-92.8-4.9 1.8-40.6 92.7z" fill="url(#g31)" stroke="url(#g31)"/><path d="M667.6 329.5l37.4 12.8-4.9 1.8-37.4-12.7z" fill="url(#g312)" stroke="url(#g312)"/><path d="M615.6 148.8l32.3 188.1-4.9 1.7-32.6-178.9z" fill="url(#g272)" stroke="url(#g272)"/><path d="M554.3 290.1l40.5-95.7-5.2 11.4-40.3 87.4z" fill="url(#g232)" stroke="url(#g232)"/><path d="M497.1 289.7l37.4 12.2-5 2.7-37.3-12.2z" fill="url(#g192)" stroke="url(#g192)"/><path d="M438.8 329.3l38.6-29.4-5 2.8-38.6 28.6z" fill="url(#g152)" stroke="url(#g152)"/><path d="M378.6 427.4l40.5-90.7-4.9 1.8-40.5 91.3z" fill="url(#g112)" stroke="url(#g112)"/><path d="M324.5 329.6l34.4 106.8-4.9 1.9-34.4-106.9z" fill="url(#g72)" stroke="url(#g72)"/><path d="M264.3 429.4l40.6-92.7-4.9 1.7-40.6 92.8z" fill="url(#g32)" stroke="url(#g32)"/><path d="M662.7 331.4l37.4 12.7-4.9 1.8-37.5-12.6z" fill="url(#g313)" stroke="url(#g313)"/><path d="M610.4 159.7l32.6 178.9-4.9 1.8-32.9-169.2z" fill="url(#g273)" stroke="url(#g273)"/><path d="M549.3 293.2l40.3-87.4-5.2 10.9-40 79.5z" fill="url(#g233)" stroke="url(#g233)"/><path d="M492.2 292.4l37.3 12.2-4.9 2.6-37.4-12.3z" fill="url(#g193)" stroke="url(#g193)"/><path d="M433.8 331.3l38.6-28.6-4.9 3.1-38.6 27.4z" fill="url(#g153)" stroke="url(#g153)"/><path d="M373.7 429.8l40.5-91.3-4.9 1.7-40.5 91.9z" fill="url(#g113)" stroke="url(#g113)"/><path d="M319.6 331.4l34.4 106.9-4.9 1.7-34.4-106.8z" fill="url(#g73)" stroke="url(#g73)"/><path d="M259.4 431.2l40.6-92.8-4.9 1.8-40.6 92.7z" fill="url(#g33)" stroke="url(#g33)"/><path d="M657.7 333.3l37.5 12.6-5 1.7-37.4-12.5z" fill="url(#g314)" stroke="url(#g314)"/><path d="M605.2 171.2l32.9 169.2-5 1.7-33.1-159.3z" fill="url(#g274)" stroke="url(#g274)"/><path d="M544.4 296.2l40-79.5-5.1 10.2-39.9 72.2z" fill="url(#g234)" stroke="url(#g234)"/><path d="M487.2 294.9l37.4 12.3-4.9 2.7-37.4-12.5z" fill="url(#g194)" stroke="url(#g194)"/><path d="M428.9 333.2l38.6-27.4-5 3.8-38.5 25.4z" fill="url(#g154)" stroke="url(#g154)"/><path d="M368.8 432.1l40.5-91.9-4.9 1.8-40.5 92.3z" fill="url(#g114)" stroke="url(#g114)"/><path d="M314.7 333.2l34.4 106.8-4.9 1.8-34.4-106.9z" fill="url(#g74)" stroke="url(#g74)"/><path d="M254.5 432.9l40.6-92.7-4.9 1.7-40.6 92.8z" fill="url(#g34)" stroke="url(#g34)"/><path d="M652.8 335.1l37.4 12.5-4.9 1.7-37.4-12.4z" fill="url(#g315)" stroke="url(#g315)"/><path d="M600 182.8l33.1 159.3-4.9 1.8-33.4-149.5z" fill="url(#g275)" stroke="url(#g275)"/><path d="M539.4 299.1l39.9-72.2-5.2 10-39.6 65z" fill="url(#g235)" stroke="url(#g235)"/><path d="M482.3 297.4l37.4 12.5-5 2.6-37.3-12.6z" fill="url(#g195)" stroke="url(#g195)"/><path d="M424 335l38.5-25.4-5 4.7-38.4 22.4z" fill="url(#g155)" stroke="url(#g155)"/><path d="M363.9 434.3l40.5-92.3-4.9 1.8-40.6 92.6z" fill="url(#g115)" stroke="url(#g115)"/><path d="M309.8 334.9l34.4 106.9-4.9 1.8-34.4-106.9z" fill="url(#g75)" stroke="url(#g75)"/><path d="M249.6 434.7l40.6-92.8-4.9 1.8-40.6 92.7z" fill="url(#g35)" stroke="url(#g35)"/><path d="M647.9 336.9l37.4 12.4-4.9 1.7-37.4-12.4z" fill="url(#g316)" stroke="url(#g316)"/><path d="M594.8 194.4l33.4 149.5-4.9 1.7-33.7-139.8z" fill="url(#g276)" stroke="url(#g276)"/><path d="M534.5 301.9l39.6-65-5.1 9.8-39.5 57.9z" fill="url(#g236)" stroke="url(#g236)"/><path d="M477.4 299.9l37.3 12.6-4.9 2.8-37.4-12.6z" fill="url(#g196)" stroke="url(#g196)"/><path d="M419.1 336.7l38.4-22.4-5 5.5-38.3 18.7z" fill="url(#g156)" stroke="url(#g156)"/><path d="M358.9 436.4l40.6-92.6-4.9 1.7-40.6 92.8z" fill="url(#g116)" stroke="url(#g116)"/><path d="M304.9 336.7l34.4 106.9-4.9 1.7-34.4-106.9z" fill="url(#g76)" stroke="url(#g76)"/><path d="M244.7 436.4l40.6-92.7-4.9 1.7-40.6 92.8z" fill="url(#g36)" stroke="url(#g36)"/><path d="M643 338.6l37.4 12.4-4.9 1.5-37.4-12.1z" fill="url(#g317)" stroke="url(#g317)"/><path d="M589.6 205.8l33.7 139.8-4.9 1.8-34-130.7z" fill="url(#g277)" stroke="url(#g277)"/><path d="M529.5 304.6l39.5-57.9-5.2 9.6-39.2 50.9z" fill="url(#g237)" stroke="url(#g237)"/><path d="M472.4 302.7l37.4 12.6-5 3-37.3-12.5z" fill="url(#g197)" stroke="url(#g197)"/><path d="M414.2 338.5l38.3-18.7-5 6-38.2 14.4z" fill="url(#g157)" stroke="url(#g157)"/><path d="M354 438.3l40.6-92.8-4.9 1.8-40.6 92.7z" fill="url(#g117)" stroke="url(#g117)"/><path d="M300 338.4l34.4 106.9-4.9 1.8-34.4-106.9z" fill="url(#g77)" stroke="url(#g77)"/><path d="M239.8 438.2l40.6-92.8-4.9 1.8-40.6 92.7z" fill="url(#g37)" stroke="url(#g37)"/><path d="M638.1 340.4l37.4 12.1-4.9 1.5-37.5-11.9z" fill="url(#g318)" stroke="url(#g318)"/><path d="M584.4 216.7l34 130.7-4.9 1.8-34.2-122.3z" fill="url(#g278)" stroke="url(#g278)"/><path d="M524.6 307.2l39.2-50.9-5.1 9.2-39 44.4z" fill="url(#g238)" stroke="url(#g238)"/><path d="M467.5 305.8l37.3 12.5-4.9 3.3-37.4-12z" fill="url(#g198)" stroke="url(#g198)"/><path d="M409.3 340.2l38.2-14.4-5.1 6.3-38 9.9z" fill="url(#g158)" stroke="url(#g158)"/><path d="M349.1 440l40.6-92.7-4.9 2.2-40.6 92.3z" fill="url(#g118)" stroke="url(#g118)"/><path d="M295.1 340.2l34.4 106.9-4.9 1.7-34.4-106.9z" fill="url(#g78)" stroke="url(#g78)"/><path d="M234.9 439.9l40.6-92.7-4.9 1.8-40.6 92.7z" fill="url(#g38)" stroke="url(#g38)"/><path d="M633.1 342.1l37.5 11.9-4.9 1.4-37.5-11.5z" fill="url(#g319)" stroke="url(#g319)"/><path d="M579.3 226.9l34.2 122.3-5 2-34.4-114.3z" fill="url(#g279)" stroke="url(#g279)"/><path d="M519.7 309.9l39-44.4-5.1 8.9-38.9 38.1z" fill="url(#g239)" stroke="url(#g239)"/><path d="M462.5 309.6l37.4 12-5 3.6-37.4-10.9z" fill="url(#g199)" stroke="url(#g199)"/><path d="M404.4 342l38-9.9-5 6.7-37.9 5z" fill="url(#g159)" stroke="url(#g159)"/><path d="M344.2 441.8l40.6-92.3-5 2.4-40.5 91.7z" fill="url(#g119)" stroke="url(#g119)"/><path d="M290.2 341.9l34.4 106.9-4.9 1.8-34.4-106.9z" fill="url(#g79)" stroke="url(#g79)"/><path d="M230 441.7l40.6-92.7-4.9 1.7-40.6 92.7z" fill="url(#g39)" stroke="url(#g39)"/><path d="M628.2 343.9l37.5 11.5-5 1.4-37.4-11.2z" fill="url(#g320)" stroke="url(#g320)"/><path d="M574.1 236.9l34.4 114.3-4.9 2.3-34.6-106.8z" fill="url(#g280)" stroke="url(#g280)"/><path d="M514.7 312.5l38.9-38.1-5.1 8.5-38.7 32.4z" fill="url(#g240)" stroke="url(#g240)"/><path d="M457.5 314.3l37.4 10.9-5 3.8-37.4-9.2z" fill="url(#g200)" stroke="url(#g200)"/><path d="M399.5 343.8l37.9-5-5.1 6.7-37.7 0z" fill="url(#g160)" stroke="url(#g160)"/><path d="M339.3 443.6l40.5-91.7-4.9 2.4-40.5 91z" fill="url(#g120)" stroke="url(#g120)"/><path d="M285.3 343.7l34.4 106.9-4.9 1.7-34.4-106.9z" fill="url(#g80)" stroke="url(#g80)"/><path d="M225.1 443.4l40.6-92.7-4.9 1.8-40.6 92.7z" fill="url(#g40)" stroke="url(#g40)"/><path d="M623.3 345.6l37.4 11.2-4.9 1.5-37.4-10.9z" fill="url(#g321)" stroke="url(#g321)"/><path d="M569 246.7l34.6 106.8-4.9 2.5-34.9-99.7z" fill="url(#g281)" stroke="url(#g281)"/><path d="M509.8 315.3l38.7-32.4-5.1 8-38.6 27.4z" fill="url(#g241)" stroke="url(#g241)"/><path d="M452.5 319.8l37.4 9.2-4.9 4-37.5-7.2z" fill="url(#g201)" stroke="url(#g201)"/><path d="M394.6 345.5l37.7 0-5.1 6.8-37.5-5z" fill="url(#g161)" stroke="url(#g161)"/><path d="M334.4 445.3l40.5-91-4.9 2.5-40.5 90.3z" fill="url(#g121)" stroke="url(#g121)"/><path d="M280.4 345.4l34.4 106.9-4.9 1.8-34.4-106.9z" fill="url(#g81)" stroke="url(#g81)"/><path d="M220.2 445.2l40.6-92.7-4.9 1.7-40.6 92.7z" fill="url(#g41)" stroke="url(#g41)"/><path d="M618.4 347.4l37.4 10.9-4.9 1.5-37.4-10.6z" fill="url(#g322)" stroke="url(#g322)"/><path d="M563.8 256.3l34.9 99.7-5 2.5-35-93z" fill="url(#g282)" stroke="url(#g282)"/><path d="M504.8 318.3l38.6-27.4-5.1 7.4-38.4 23.3z" fill="url(#g242)" stroke="url(#g242)"/><path d="M447.5 325.8l37.5 7.2-5 3.9-37.6-4.8z" fill="url(#g202)" stroke="url(#g202)"/><path d="M389.7 347.3l37.5 5-5 7.6-37.4-10.4z" fill="url(#g162)" stroke="url(#g162)"/><path d="M329.5 447.1l40.5-90.3-4.9 2.4-40.5 89.6z" fill="url(#g122)" stroke="url(#g122)"/><path d="M275.5 347.2l34.4 106.9-4.9 1.7-34.4-106.8z" fill="url(#g82)" stroke="url(#g82)"/><path d="M215.3 446.9l40.6-92.7-4.9 1.8-40.6 92.7z" fill="url(#g42)" stroke="url(#g42)"/><path d="M613.5 349.2l37.4 10.6-4.9 1.4-37.5-10z" fill="url(#g323)" stroke="url(#g323)"/><path d="M558.7 265.5l35 93-4.9 2.4-35.2-86.5z" fill="url(#g283)" stroke="url(#g283)"/><path d="M499.9 321.6l38.4-23.3-5.1 7.1-38.3 19.8z" fill="url(#g243)" stroke="url(#g243)"/><path d="M442.4 332.1l37.6 4.8-5 3.9-37.6-2z" fill="url(#g203)" stroke="url(#g203)"/><path d="M384.8 349.5l37.4 10.4-5.1 8.1-37.3-16.1z" fill="url(#g163)" stroke="url(#g163)"/><path d="M324.6 448.8l40.5-89.6-4.9 2.1-40.5 89.3z" fill="url(#g123)" stroke="url(#g123)"/><path d="M270.6 349l34.4 106.8-4.9 1.8-34.4-106.9z" fill="url(#g83)" stroke="url(#g83)"/><path d="M210.4 448.7l40.6-92.7-4.9 1.7-40.6 92.7z" fill="url(#g43)" stroke="url(#g43)"/><path d="M608.5 351.2l37.5 10-4.9 1.4-37.5-9.1z" fill="url(#g324)" stroke="url(#g324)"/><path d="M553.6 274.4l35.2 86.5-4.9 2.2-35.4-80.2z" fill="url(#g284)" stroke="url(#g284)"/><path d="M494.9 325.2l38.3-19.8-5 6.8-38.3 16.8z" fill="url(#g244)" stroke="url(#g244)"/><path d="M437.4 338.8l37.6 2-4.9 3.7-37.8 1z" fill="url(#g204)" stroke="url(#g204)"/><path d="M379.8 351.9l37.3 16.1-5.1 8.5-37.1-22.2z" fill="url(#g164)" stroke="url(#g164)"/><path d="M319.7 450.6l40.5-89.3-4.9 1.9-40.5 89.1z" fill="url(#g124)" stroke="url(#g124)"/><path d="M265.7 350.7l34.4 106.9-4.9 1.7-34.4-106.8z" fill="url(#g84)" stroke="url(#g84)"/><path d="M603.6 353.5l37.5 9.1-4.9 1.5-37.5-8.1z" fill="url(#g325)" stroke="url(#g325)"/><path d="M548.5 282.9l35.4 80.2-5 2-35.5-74.2z" fill="url(#g285)" stroke="url(#g285)"/><path d="M489.9 329l38.3-16.8-5.1 6.6-38.1 14.2z" fill="url(#g245)" stroke="url(#g245)"/><path d="M432.3 345.5l37.8-1-5 3.5-37.9 4.3z" fill="url(#g205)" stroke="url(#g205)"/><path d="M374.9 354.3l37.1 22.2-5.2 8.7-36.8-28.4z" fill="url(#g165)" stroke="url(#g165)"/><path d="M314.8 452.3l40.5-89.1-5 1.7-40.4 89.2z" fill="url(#g125)" stroke="url(#g125)"/><path d="M260.8 352.5l34.4 106.8-4.9 1.8-34.4-106.9z" fill="url(#g85)" stroke="url(#g85)"/><path d="M598.7 356l37.5 8.1-4.9 1.4-37.6-7z" fill="url(#g326)" stroke="url(#g326)"/><path d="M543.4 290.9l35.5 74.2-4.9 1.7-35.7-68.5z" fill="url(#g286)" stroke="url(#g286)"/><path d="M485 333l38.1-14.2-5 6.4-38.1 11.7z" fill="url(#g246)" stroke="url(#g246)"/><path d="M427.2 352.3l37.9-4.3-5 3.4-37.9 8.5z" fill="url(#g206)" stroke="url(#g206)"/><path d="M370 356.8l36.8 28.4-5.1 8.7-36.6-34.7z" fill="url(#g166)" stroke="url(#g166)"/><path d="M309.9 454.1l40.4-89.2-4.9 1.8-40.4 89.1z" fill="url(#g126)" stroke="url(#g126)"/><path d="M255.9 354.2l34.4 106.9-4.9 1.7-34.4-106.8z" fill="url(#g86)" stroke="url(#g86)"/><path d="M593.7 358.5l37.6 7-4.9 1.5-37.6-6.1z" fill="url(#g327)" stroke="url(#g327)"/><path d="M538.3 298.3l35.7 68.5-4.9 1.8-35.9-63.2z" fill="url(#g287)" stroke="url(#g287)"/><path d="M480 336.9l38.1-11.7-5.1 6.3-38 9.3z" fill="url(#g247)" stroke="url(#g247)"/><path d="M422.2 359.9l37.9-8.5-4.9 3.3-38.1 13.3z" fill="url(#g207)" stroke="url(#g207)"/><path d="M365.1 359.2l36.6 34.7-5.1 8.4-36.4-41z" fill="url(#g167)" stroke="url(#g167)"/><path d="M305 455.8l40.4-89.1-4.9 1.7-40.4 89.2z" fill="url(#g127)" stroke="url(#g127)"/><path d="M251 356l34.4 106.8-4.9 1.8-34.4-106.9z" fill="url(#g87)" stroke="url(#g87)"/><path d="M588.8 360.9l37.6 6.1-4.9 1.6-37.6-5.5z" fill="url(#g328)" stroke="url(#g328)"/><path d="M533.2 305.4l35.9 63.2-4.9 1.7-36-58.1z" fill="url(#g288)" stroke="url(#g288)"/><path d="M475 340.8l38-9.3-5 6.4-37.9 6.6z" fill="url(#g248)" stroke="url(#g248)"/><path d="M417.1 368l38.1-13.3-5 3.3-38.2 18.5z" fill="url(#g208)" stroke="url(#g208)"/><path d="M360.2 361.3l36.4 41-5.1 8.1-36.2-47.2z" fill="url(#g168)" stroke="url(#g168)"/><path d="M300.1 457.6l40.4-89.2-4.9 1.8-40.4 89.1z" fill="url(#g128)" stroke="url(#g128)"/><path d="M583.9 363.1l37.6 5.5-5 1.7-37.6-5.2z" fill="url(#g329)" stroke="url(#g329)"/><path d="M528.2 312.2l36 58.1-4.9 1.8-36.2-53.3z" fill="url(#g289)" stroke="url(#g289)"/><path d="M470.1 344.5l37.9-6.6-5.1 6.4-37.8 3.7z" fill="url(#g249)" stroke="url(#g249)"/><path d="M412 376.5l38.2-18.5-4.9 3.2-38.5 24z" fill="url(#g209)" stroke="url(#g209)"/><path d="M355.3 363.2l36.2 47.2-5.1 7.9-36.1-53.4z" fill="url(#g169)" stroke="url(#g169)"/><path d="M295.2 459.3l40.4-89.1-4.9 1.7-40.4 89.2z" fill="url(#g129)" stroke="url(#g129)"/><path d="M578.9 365.1l37.6 5.2-4.9 1.8-37.6-5.3z" fill="url(#g330)" stroke="url(#g330)"/><path d="M523.1 318.8l36.2 53.3-4.9 1.7-36.3-48.6z" fill="url(#g290)" stroke="url(#g290)"/><path d="M465.1 348l37.8-3.7-5 6.3-37.8 .8z" fill="url(#g250)" stroke="url(#g250)"/><path d="M406.8 385.2l38.5-24-5 3.2-38.6 29.5z" fill="url(#g210)" stroke="url(#g210)"/><path d="M350.3 364.9l36.1 53.4-5.1 7.8-35.9-59.4z" fill="url(#g170)" stroke="url(#g170)"/><path d="M290.3 461.1l40.4-89.2-4.9 1.8-40.4 89.1z" fill="url(#g130)" stroke="url(#g130)"/><path d="M574 366.8l37.6 5.3-4.9 1.7-37.6-5.2z" fill="url(#g331)" stroke="url(#g331)"/><path d="M518.1 325.2l36.3 48.6-4.9 1.8-36.5-44.1z" fill="url(#g291)" stroke="url(#g291)"/><path d="M460.1 351.4l37.8-.8-5.1 6.2-37.6-2.1z" fill="url(#g251)" stroke="url(#g251)"/><path d="M401.7 393.9l38.6-29.5-4.9 3-38.8 34.9z" fill="url(#g211)" stroke="url(#g211)"/><path d="M345.4 366.7l35.9 59.4-5 7.7-35.8-65.4z" fill="url(#g171)" stroke="url(#g171)"/><path d="M285.4 462.8l40.4-89.1-4.8 1.7-40.5 89.2z" fill="url(#g131)" stroke="url(#g131)"/><path d="M569.1 368.6l37.6 5.2-4.9 1.8-37.6-5.3z" fill="url(#g332)" stroke="url(#g332)"/><path d="M513 331.5l36.5 44.1-5 1.7-36.5-39.4z" fill="url(#g292)" stroke="url(#g292)"/><path d="M455.2 354.7l37.6 2.1-5 6.2-37.6-5z" fill="url(#g252)" stroke="url(#g252)"/><path d="M396.6 402.3l38.8-34.9-4.9 3-39 40z" fill="url(#g212)" stroke="url(#g212)"/><path d="M340.5 368.4l35.8 65.4-5.1 7.7-35.6-71.3z" fill="url(#g172)" stroke="url(#g172)"/><path d="M564.2 370.3l37.6 5.3-4.9 1.7-37.6-5.2z" fill="url(#g333)" stroke="url(#g333)"/><path d="M508 337.9l36.5 39.4-4.9 1.9-36.7-34.9z" fill="url(#g293)" stroke="url(#g293)"/><path d="M450.2 358l37.6 5-5 6.1-37.5-7.9z" fill="url(#g253)" stroke="url(#g253)"/><path d="M391.5 410.4l39-40-5 2.9-39.1 45z" fill="url(#g213)" stroke="url(#g213)"/><path d="M335.6 370.2l35.6 71.3-5.1 7.6-35.4-77.2z" fill="url(#g173)" stroke="url(#g173)"/><path d="M559.3 372.1l37.6 5.2-4.9 1.8-37.6-5.3z" fill="url(#g334)" stroke="url(#g334)"/><path d="M502.9 344.3l36.7 34.9-4.9 2.1-36.8-30.7z" fill="url(#g294)" stroke="url(#g294)"/><path d="M445.3 361.2l37.5 7.9-5.1 6.2-37.4-10.9z" fill="url(#g254)" stroke="url(#g254)"/><path d="M386.4 418.3l39.1-45-4.9 2.9-39.3 49.9z" fill="url(#g214)" stroke="url(#g214)"/><path d="M330.7 371.9l35.4 77.2-5.1 7.6-35.2-83z" fill="url(#g174)" stroke="url(#g174)"/><path d="M554.4 373.8l37.6 5.3-5 1.7-37.5-5.2z" fill="url(#g335)" stroke="url(#g335)"/><path d="M497.9 350.6l36.8 30.7-4.9 2.4-37-26.9z" fill="url(#g295)" stroke="url(#g295)"/><path d="M440.3 364.4l37.4 10.9-5 6.1-37.3-14z" fill="url(#g255)" stroke="url(#g255)"/><path d="M381.3 426.1l39.3-49.9-5 2.8-39.3 54.8z" fill="url(#g215)" stroke="url(#g215)"/><path d="M325.8 373.7l35.2 83-5.1 7.4-34.9-88.7z" fill="url(#g175)" stroke="url(#g175)"/><path d="M549.5 375.6l37.5 5.2-4.9 1.8-37.6-5.3z" fill="url(#g336)" stroke="url(#g336)"/><path d="M492.8 356.8l37 26.9-5 2.5-37-23.2z" fill="url(#g296)" stroke="url(#g296)"/><path d="M435.4 367.4l37.3 14-5 6.2-37.2-17.2z" fill="url(#g256)" stroke="url(#g256)"/><path d="M376.3 433.8l39.3-54.8-4.9 2.7-39.5 59.8z" fill="url(#g216)" stroke="url(#g216)"/><path d="M544.5 377.3l37.6 5.3-4.9 1.7-37.6-5.1z" fill="url(#g337)" stroke="url(#g337)"/><path d="M487.8 363l37 23.2-4.9 2.4-37.1-19.5z" fill="url(#g297)" stroke="url(#g297)"/><path d="M430.5 370.4l37.2 17.2-5.1 6.2-37.1-20.5z" fill="url(#g257)" stroke="url(#g257)"/><path d="M371.2 441.5l39.5-59.8-4.9 2.7-39.7 64.7z" fill="url(#g217)" stroke="url(#g217)"/><path d="M539.6 379.2l37.6 5.1-4.9 1.5-37.6-4.5z" fill="url(#g338)" stroke="url(#g338)"/><path d="M482.8 369.1l37.1 19.5-4.9 2.4-37.3-15.7z" fill="url(#g298)" stroke="url(#g298)"/><path d="M425.5 373.3l37.1 20.5-5 6.2-37-23.8z" fill="url(#g258)" stroke="url(#g258)"/><path d="M366.1 449.1l39.7-64.7-5 2.6-39.8 69.7z" fill="url(#g218)" stroke="url(#g218)"/><path d="M534.7 381.3l37.6 4.5-4.9 1.5-37.6-3.6z" fill="url(#g339)" stroke="url(#g339)"/><path d="M477.7 375.3l37.3 15.7-4.9 2.2-37.4-11.8z" fill="url(#g299)" stroke="url(#g299)"/><path d="M420.6 376.2l37 23.8-5.1 6.2-36.9-27.2z" fill="url(#g259)" stroke="url(#g259)"/><path d="M361 456.7l39.8-69.7-4.9 2.5-40 74.6z" fill="url(#g219)" stroke="url(#g219)"/><path d="M529.8 383.7l37.6 3.6-4.9 1.4-37.7-2.5z" fill="url(#g340)" stroke="url(#g340)"/><path d="M472.7 381.4l37.4 11.8-4.9 1.8-37.5-7.4z" fill="url(#g300)" stroke="url(#g300)"/><path d="M415.6 379l36.9 27.2-5 6.2-36.8-30.7z" fill="url(#g260)" stroke="url(#g260)"/><path d="M524.8 386.2l37.7 2.5-4.9 1.4-37.7-1.5z" fill="url(#g341)" stroke="url(#g341)"/><path d="M467.7 387.6l37.5 7.4-5 1.7-37.6-2.9z" fill="url(#g301)" stroke="url(#g301)"/><path d="M410.7 381.7l36.8 30.7-5 6.2-36.7-34.2z" fill="url(#g261)" stroke="url(#g261)"/><path d="M519.9 388.6l37.7 1.5-4.9 1.4-37.7-.5z" fill="url(#g342)" stroke="url(#g342)"/><path d="M462.6 393.8l37.6 2.9-4.9 1.8-37.7 1.5z" fill="url(#g302)" stroke="url(#g302)"/><path d="M405.8 384.4l36.7 34.2-5.1 6.2-36.6-37.8z" fill="url(#g262)" stroke="url(#g262)"/><path d="M515 391l37.7 .5-4.9 1.6-37.7 .1z" fill="url(#g343)" stroke="url(#g343)"/><path d="M457.6 400l37.7-1.5-4.9 1.7-37.9 6z" fill="url(#g303)" stroke="url(#g303)"/><path d="M400.8 387l36.6 37.8-5 6.3-36.5-41.6z" fill="url(#g263)" stroke="url(#g263)"/><path d="M510.1 393.2l37.7-.1-4.9 1.7-37.7 .2z" fill="url(#g344)" stroke="url(#g344)"/><path d="M452.5 406.2l37.9-6-4.9 1.8-38 10.4z" fill="url(#g304)" stroke="url(#g304)"/><path d="M505.2 395l37.7-.2-4.9 1.7-37.8 .2z" fill="url(#g345)" stroke="url(#g345)"/><path d="M447.5 412.4l38-10.4-4.9 1.8-38.1 14.8z" fill="url(#g305)" stroke="url(#g305)"/><path d="M500.2 396.7l37.8-.2-4.9 1.8-37.8 .2z" fill="url(#g346)" stroke="url(#g346)"/><path d="M442.5 418.6l38.1-14.8-4.9 1.7-38.3 19.3z" fill="url(#g306)" stroke="url(#g306)"/><path d="M495.3 398.5l37.8-.2-4.9 1.7-37.8 .2z" fill="url(#g347)" stroke="url(#g347)"/><path d="M437.4 424.8l38.3-19.3-4.9 1.8-38.4 23.8z" fill="url(#g307)" stroke="url(#g307)"/><path d="M490.4 400.2l37.8-.2-5 1.8-37.7 .2z" fill="url(#g348)" stroke="url(#g348)"/><path d="M485.5 402l37.7-.2-4.9 1.7-37.7 .3z" fill="url(#g349)" stroke="url(#g349)"/><path d="M480.6 403.8l37.7-.3-4.9 1.8-37.7 .2z" fill="url(#g350)" stroke="url(#g350)"/><path d="M475.7 405.5l37.7-.2-4.9 1.7-37.7 .3z" fill="url(#g351)" stroke="url(#g351)"/></g>
<g stroke="#000" stroke-width="1.6" stroke-dasharray="4 3.5" fill="none"><line x1="421.1" y1="380.6" x2="432" y2="17.9"/><line x1="421.1" y1="380.6" x2="205.3" y2="457.7"/><line x1="421.1" y1="380.6" x2="721.4" y2="451.7"/></g>
<line x1="200.2" y1="443.6" x2="205.7" y2="443.6" stroke="#000" stroke-width="1.6"/><line x1="202.4" y1="373" x2="207.9" y2="373" stroke="#000" stroke-width="1.6"/><line x1="204.7" y1="302.5" x2="210.2" y2="302.5" stroke="#000" stroke-width="1.6"/><line x1="206.9" y1="232" x2="212.4" y2="232" stroke="#000" stroke-width="1.6"/><line x1="209.1" y1="161.6" x2="214.6" y2="161.6" stroke="#000" stroke-width="1.6"/><line x1="250.2" y1="468.3" x2="245.5" y2="470" stroke="#000" stroke-width="1.4"/><line x1="325.1" y1="486.1" x2="320.4" y2="487.8" stroke="#000" stroke-width="1.4"/><line x1="400" y1="503.8" x2="395.3" y2="505.5" stroke="#000" stroke-width="1.4"/><line x1="474.9" y1="521.6" x2="470.2" y2="523.3" stroke="#000" stroke-width="1.4"/><line x1="721.4" y1="451.7" x2="726.3" y2="452.8" stroke="#000" stroke-width="1.4"/><line x1="649.2" y1="477.4" x2="654" y2="478.5" stroke="#000" stroke-width="1.4"/><line x1="577" y1="503.1" x2="581.9" y2="504.2" stroke="#000" stroke-width="1.4"/><line x1="504.9" y1="528.7" x2="509.8" y2="529.9" stroke="#000" stroke-width="1.4"/>
<g font-family="DejaVu Sans, sans-serif" font-size="11" fill="#111" stroke="#111" stroke-width="0.25"><text x="194.3" y="441.8" text-anchor="end">1.55</text><text x="196.5" y="371.2" text-anchor="end">1.6</text><text x="198.7" y="300.7" text-anchor="end">1.65</text><text x="201" y="230.2" text-anchor="end">1.7</text><text x="203.2" y="159.8" text-anchor="end">1.75</text><text x="247.8" y="489.3" text-anchor="end">0.5</text><text x="322.7" y="507.1" text-anchor="end">1</text><text x="397.6" y="524.8" text-anchor="end">1.5</text><text x="472.5" y="542.6" text-anchor="end">2</text><text x="722.4" y="472.5">0.5</text><text x="650.2" y="498.2">1</text><text x="578" y="523.9">1.5</text></g>
<text x="342.6" y="529.3" transform="rotate(16 342.6 529.3)" text-anchor="middle" dominant-baseline="central" font-family="Liberation Sans, Arial, sans-serif" font-size="35">Depth</text>
<text x="650.2" y="522.3" transform="rotate(-18.5 650.2 522.3)" text-anchor="middle" dominant-baseline="central" font-family="Liberation Sans, Arial, sans-serif" font-size="35">TiBase</text>
<text x="188.3" y="45.2" font-family="Liberation Sans, Arial, sans-serif" font-weight="bold" font-size="35">a</text>
</g>
<clipPath id="cb"><rect x="743.3" y="9.5" width="599.2" height="547.5"/></clipPath>
<g clip-path="url(#cb)">
<g stroke-linecap="square"><line x1="971.9" y1="384" x2="982.1" y2="29.4" stroke="#c6c6c6" stroke-width="1"/><line x1="971.9" y1="384" x2="1263.3" y2="451.7" stroke="#c6c6c6" stroke-width="1"/><line x1="929.5" y1="399.2" x2="939.8" y2="44.5" stroke="#c6c6c6" stroke-width="1"/><line x1="929.5" y1="399.2" x2="1221.1" y2="466.9" stroke="#c6c6c6" stroke-width="1"/><line x1="887.1" y1="414.4" x2="897.5" y2="59.6" stroke="#c6c6c6" stroke-width="1"/><line x1="887.1" y1="414.4" x2="1179" y2="482" stroke="#c6c6c6" stroke-width="1"/><line x1="844.7" y1="429.6" x2="855.1" y2="74.8" stroke="#c6c6c6" stroke-width="1"/><line x1="844.7" y1="429.6" x2="1136.8" y2="497.2" stroke="#c6c6c6" stroke-width="1"/><line x1="1058.2" y1="379" x2="1068.1" y2="24.7" stroke="#c6c6c6" stroke-width="1"/><line x1="1058.2" y1="379" x2="846.3" y2="455" stroke="#c6c6c6" stroke-width="1"/><line x1="1131.1" y1="396" x2="1140.9" y2="42" stroke="#c6c6c6" stroke-width="1"/><line x1="1131.1" y1="396" x2="919.6" y2="471.9" stroke="#c6c6c6" stroke-width="1"/><line x1="1203.9" y1="412.9" x2="1213.5" y2="59.4" stroke="#c6c6c6" stroke-width="1"/><line x1="1203.9" y1="412.9" x2="992.6" y2="488.8" stroke="#c6c6c6" stroke-width="1"/><line x1="1276.5" y1="429.9" x2="1286" y2="76.7" stroke="#c6c6c6" stroke-width="1"/><line x1="1276.5" y1="429.9" x2="1065.5" y2="505.6" stroke="#c6c6c6" stroke-width="1"/><line x1="802.8" y1="426.7" x2="1014.8" y2="350.7" stroke="#c6c6c6" stroke-width="1"/><line x1="1014.8" y1="350.7" x2="1305.9" y2="418.6" stroke="#c6c6c6" stroke-width="1"/><line x1="803.9" y1="390.5" x2="1015.9" y2="314.6" stroke="#c6c6c6" stroke-width="1"/><line x1="1015.9" y1="314.6" x2="1306.9" y2="382.7" stroke="#c6c6c6" stroke-width="1"/><line x1="805" y1="354.4" x2="1016.9" y2="278.5" stroke="#c6c6c6" stroke-width="1"/><line x1="1016.9" y1="278.5" x2="1307.9" y2="346.7" stroke="#c6c6c6" stroke-width="1"/><line x1="806" y1="318.3" x2="1017.9" y2="242.4" stroke="#c6c6c6" stroke-width="1"/><line x1="1017.9" y1="242.4" x2="1308.8" y2="310.8" stroke="#c6c6c6" stroke-width="1"/><line x1="807.1" y1="282.2" x2="1018.9" y2="206.3" stroke="#c6c6c6" stroke-width="1"/><line x1="1018.9" y1="206.3" x2="1309.8" y2="274.8" stroke="#c6c6c6" stroke-width="1"/><line x1="808.2" y1="246.1" x2="1020" y2="170.2" stroke="#c6c6c6" stroke-width="1"/><line x1="1020" y1="170.2" x2="1310.8" y2="238.9" stroke="#c6c6c6" stroke-width="1"/><line x1="809.2" y1="210" x2="1021" y2="134.2" stroke="#c6c6c6" stroke-width="1"/><line x1="1021" y1="134.2" x2="1311.7" y2="203" stroke="#c6c6c6" stroke-width="1"/><line x1="810.3" y1="173.9" x2="1022" y2="98.1" stroke="#c6c6c6" stroke-width="1"/><line x1="1022" y1="98.1" x2="1312.7" y2="167.1" stroke="#c6c6c6" stroke-width="1"/><line x1="811.4" y1="137.8" x2="1023" y2="62.1" stroke="#c6c6c6" stroke-width="1"/><line x1="1023" y1="62.1" x2="1313.7" y2="131.3" stroke="#c6c6c6" stroke-width="1"/><line x1="812.4" y1="101.8" x2="1024" y2="26.1" stroke="#c6c6c6" stroke-width="1"/><line x1="1024" y1="26.1" x2="1314.6" y2="95.4" stroke="#c6c6c6" stroke-width="1"/><line x1="802.3" y1="444.8" x2="812.8" y2="89.9" stroke="#c6c6c6" stroke-width="1"/><line x1="812.8" y1="89.9" x2="1024.4" y2="14.2" stroke="#c6c6c6" stroke-width="1"/><line x1="1024.4" y1="14.2" x2="1314.9" y2="83.6" stroke="#c6c6c6" stroke-width="1"/><line x1="1314.9" y1="83.6" x2="1305.5" y2="436.6" stroke="#c6c6c6" stroke-width="1"/><line x1="802.3" y1="444.8" x2="1094.6" y2="512.3" stroke="#c6c6c6" stroke-width="1"/><line x1="1094.6" y1="512.3" x2="1305.5" y2="436.6" stroke="#c6c6c6" stroke-width="1"/></g>
<g stroke="#000" stroke-linecap="round"><line x1="1014.3" y1="368.8" x2="1024.4" y2="14.2" stroke-width="4.4"/><line x1="1014.3" y1="368.8" x2="802.3" y2="444.8" stroke-width="5.2"/><line x1="1014.3" y1="368.8" x2="1305.5" y2="436.6" stroke-width="5.2"/></g>
<g class="s"><path d="M1014.6 358.1l.4-2.4-212 76-.4 2.4z" color="#0018b2"/><path d="M1015 355.7l.4-2.5-212 76-.4 2.5z" color="#001db2"/><path d="M1015.4 353.2l.3-2.4-212 76-.3 2.4z" color="#0022b2"/><path d="M1015.7 350.8l.4-2.5-212 76-.4 2.5z" color="#0027b2"/><path d="M1016.1 348.3l.3-2.4-211.9 75.9-.4 2.5z" color="#002cb2"/><path d="M1016.4 345.9l.4-2.5-212 76-.3 2.4z" color="#0031b2"/><path d="M1016.8 343.4l.4-2.4-212 75.9-.4 2.5z" color="#0036b2"/><path d="M1017.2 341l.3-2.5-211.9 76-.4 2.4z" color="#003bb2"/><path d="M1017.5 338.5l.4-2.5-212 76-.3 2.5z" color="#0040b2"/><path d="M1017.9 336l.4-2.4-212 76-.4 2.4z" color="#0045b2"/><path d="M1018.3 333.6l.4-2.1-212 76-.4 2.1z" color="#004ab2"/><path d="M1018.7 331.5l.4-2.1-211.9 76-.5 2.1z" color="#004eb2"/><path d="M1019.1 329.4l.4-2.1-211.9 76-.4 2.1z" color="#0053b2"/><path d="M1019.5 327.3l.5-2-212 75.9-.4 2.1z" color="#0057b2"/><path d="M1020 325.3l.4-2.1-211.9 75.9-.5 2.1z" color="#005bb2"/><path d="M1020.4 323.2l.4-2.1-211.9 76-.4 2z" color="#0060b2"/><path d="M1020.8 321.1l.5-2.1-212 76-.4 2.1z" color="#0064b2"/><path d="M1021.3 319l.4-2.1-211.9 76-.5 2.1z" color="#0068b2"/><path d="M1021.7 316.9l.4-2-211.9 75.9-.4 2.1z" color="#006db2"/><path d="M1022.1 314.9l.4-2.1-211.9 75.9-.4 2.1z" color="#0071b2"/><path d="M1022.5 312.8l.5-2.1-212 75.9-.4 2.1z" color="#0075b2"/><path d="M1023 310.7l.4-2.1-211.9 76-.5 2z" color="#007ab2"/><path d="M1023.4 308.6l.4-2.1-211.9 76-.4 2.1z" color="#007eb2"/><path d="M1023.8 306.5l.4-2.3-211.9 76-.4 2.3z" color="#0082b2"/><path d="M1024.2 304.2l.4-2.1-211.9 75.9-.4 2.2z" color="#0087b1"/><path d="M1024.6 302.1l.4-2.2-211.9 75.9-.4 2.2z" color="#008bb1"/><path d="M1025 299.9l.3-2.1-211.9 75.9-.3 2.1z" color="#0090b1"/><path d="M1025.3 297.8l.4-2.2-211.9 75.9-.4 2.2z" color="#0094b1"/><path d="M1025.7 295.6l.3-2.1-211.9 75.9-.3 2.1z" color="#0099b1"/><path d="M1026 293.5l.4-2.2-211.9 75.9-.4 2.2z" color="#009db1"/><path d="M1026.4 291.3l.3-2.1-211.8 75.9-.4 2.1z" color="#00a1b1"/><path d="M1026.7 289.2l.4-2.2-211.9 75.9-.3 2.2z" color="#00a6b1"/><path d="M1027.1 287l.3-2.1-211.8 75.9-.4 2.1z" color="#00aab1"/><path d="M1027.4 284.9l.4-2.2-211.9 75.9-.3 2.2z" color="#00afb1"/><path d="M1027.8 282.7l.4-2.1-211.9 75.9-.4 2.1z" color="#00b1af"/><path d="M1028.2 280.6l.3-2.2-211.8 75.9-.4 2.2z" color="#00b0ab"/><path d="M1028.5 278.4l.4-2.1-211.9 75.9-.3 2.1z" color="#00b0a6"/><path d="M1028.9 276.3l.3-2.2-211.8 75.9-.4 2.2z" color="#00b0a2"/><path d="M1029.2 274.1l.4-2.1-211.9 75.9-.3 2.1z" color="#00af9d"/><path d="M1029.6 272l.3-2.2-211.8 75.9-.4 2.2z" color="#00af99"/><path d="M1029.9 269.8l.4-2.1-211.9 75.9-.3 2.1z" color="#00af94"/><path d="M1030.3 267.7l.3-2.1-211.8 75.9-.4 2.1z" color="#00ae90"/><path d="M1030.6 265.6l.4-2.1-211.8 75.8-.4 2.2z" color="#00ae8b"/><path d="M1031 263.5l.3-2.2-211.8 75.9-.3 2.1z" color="#00ad87"/><path d="M1031.3 261.3l.4-2.1-211.8 75.9-.4 2.1z" color="#00ad83"/><path d="M1031.7 259.2l.4-2.1-211.9 75.9-.3 2.1z" color="#00ad7e"/><path d="M1032.1 257.1l.3-2.1-211.8 75.8-.4 2.2z" color="#00ac7a"/><path d="M1032.4 255l.4-2.2-211.8 75.9-.4 2.1z" color="#00ac75"/><path d="M1032.8 252.8l.3-2.1-211.8 75.9-.3 2.1z" color="#00ab71"/><path d="M1033.1 250.7l.4-2.1-211.8 75.8-.4 2.2z" color="#00ab6d"/><path d="M1033.5 248.6l.3-2.2-211.8 75.9-.3 2.1z" color="#00aa68"/><path d="M1033.8 246.4l.4-2.1-211.8 75.9-.4 2.1z" color="#00aa64"/><path d="M1034.2 244.3l.3-2.1-211.8 75.9-.3 2.1z" color="#00aa5f"/><path d="M1034.5 242.2l.4-2.1-211.8 75.8-.4 2.2z" color="#00a95b"/><path d="M1034.9 240.1l.3-2.2-211.7 75.9-.4 2.1z" color="#00a957"/><path d="M1035.2 237.9l.4-2.1-211.8 75.9-.3 2.1z" color="#00a852"/><path d="M1035.6 235.8l.3-2.1-211.7 75.8-.4 2.2z" color="#00a84e"/><path d="M1035.9 233.7l.4-2.2-211.8 75.9-.3 2.1z" color="#00a849"/><path d="M1036.3 231.5l.4-2.1-211.8 75.8-.4 2.2z" color="#00a745"/><path d="M1036.7 229.4l.3-2.2-211.8 75.9-.3 2.1z" color="#00a741"/><path d="M1037 227.2l.4-2.1-211.8 75.8-.4 2.2z" color="#00a63c"/><path d="M1037.4 225.1l.3-2.2-211.7 75.9-.4 2.1z" color="#00a638"/><path d="M1037.7 222.9l.4-2.1-211.8 75.8-.3 2.2z" color="#00a533"/><path d="M1038.1 220.8l.3-2.2-211.7 75.9-.4 2.1z" color="#00a52f"/><path d="M1038.4 218.6l.4-2.1-211.8 75.8-.3 2.2z" color="#00a42a"/><path d="M1038.8 216.5l.3-2.2-211.7 75.9-.4 2.1z" color="#00a426"/><path d="M1039.1 214.3l.4-2.1-211.7 75.8-.4 2.2z" color="#00a422"/><path d="M1039.5 212.2l.4-2.2-211.8 75.9-.3 2.1z" color="#00a31d"/><path d="M1039.9 210l.3-2.1-211.7 75.8-.4 2.2z" color="#00a319"/><path d="M1040.2 207.9l.4-2.1-211.8 75.8-.3 2.1z" color="#00a215"/><path d="M1040.6 205.8l.3-2.2-211.7 75.8-.4 2.2z" color="#00a210"/><path d="M1040.9 203.6l.4-2.1-211.8 75.8-.3 2.1z" color="#00a10c"/><path d="M1041.3 201.5l.3-2.1-211.7 75.8-.4 2.1z" color="#00a108"/><path d="M1041.6 199.4l.4-2.2-211.7 75.9-.4 2.1z" color="#00a003"/><path d="M1042 197.2l.3-2.1-211.7 75.8-.3 2.2z" color="#01a000"/><path d="M1042.3 195.1l.4-2.1-211.7 75.8-.4 2.1z" color="#05a000"/><path d="M1042.7 193l.3-2.1-211.7 75.8-.3 2.1z" color="#0aa000"/><path d="M1043 190.9l.4-2.1-211.7 75.8-.4 2.1z" color="#0ea000"/><path d="M1043.4 188.8l.3-2.1-211.7 75.8-.3 2.1z" color="#12a100"/><path d="M1043.7 186.7l.4-2.2-211.7 75.8-.4 2.2z" color="#16a100"/><path d="M1044.1 184.5l.4-2.1-211.7 75.8-.4 2.1z" color="#1ba100"/><path d="M1044.5 182.4l.3-2.1-211.7 75.8-.3 2.1z" color="#1fa100"/><path d="M1044.8 180.3l.4-2.1-211.7 75.8-.4 2.1z" color="#23a100"/><path d="M1045.2 178.2l.6-2.1-211.7 75.7-.6 2.2z" color="#27a100"/><path d="M1045.8 176.1l.9-2-211.7 75.8-.9 1.9z" color="#2ba100"/><path d="M1046.7 174.1l.8-2-211.6 75.8-.9 2z" color="#2fa000"/><path d="M1047.5 172.1l.9-2-211.7 75.8-.8 2z" color="#33a000"/><path d="M1048.4 170.1l.9-2-211.7 75.8-.9 2z" color="#379f00"/><path d="M1049.3 168.1l.8-2-211.6 75.8-.9 2z" color="#3b9e00"/><path d="M1050.1 166.1l.9-1.9-211.7 75.7-.8 2z" color="#3e9d00"/><path d="M1051 164.2l.9-2-211.7 75.8-.9 1.9z" color="#419b00"/><path d="M1051.9 162.2l.9-2.1-211.6 75.8-1 2.1z" color="#449900"/><path d="M1052.8 160.1l.9-2-211.6 75.7-.9 2.1z" color="#479700"/><path d="M1053.7 158.1l1-2-211.6 75.7-1 2z" color="#499300"/><path d="M1054.7 156.1l.9-2.1-211.6 75.8-.9 2z" color="#4a8e00"/><path d="M1055.6 154l.9-2-211.6 75.8-.9 2z" color="#4a8700"/><path d="M1056.5 152l1-2-211.6 75.7-1 2.1z" color="#487d00"/><path d="M1057.5 150l.9-2-211.6 75.7-.9 2z" color="#497a00"/><path d="M1058.4 148l1.1 2.4-211.6 75.7-1.1-2.4z" color="#447200"/><path d="M1059.5 150.4l1 2.4-211.6 75.8-1-2.5z" color="#6ab900"/><path d="M1060.5 152.8l1 2.5-211.6 75.7-1-2.4z" color="#6fcb00"/><path d="M1061.5 155.3l.9 2.4-211.6 75.7-.9-2.4z" color="#6dcf00"/><path d="M1062.4 157.7l1 2.4-211.6 75.8-1-2.5z" color="#68d100"/><path d="M1063.4 160.1l.9 2.4-211.6 75.8-.9-2.4z" color="#63d100"/><path d="M1064.3 162.5l1 2.5-211.6 75.7-1-2.4z" color="#5ed000"/><path d="M1065.3 165l.9 2.4-211.5 75.8-1-2.5z" color="#58d000"/><path d="M1066.2 167.4l1 2.4-211.6 75.8-.9-2.4z" color="#53cf00"/><path d="M1067.2 169.8l.7 2.4-211.5 75.7-.8-2.3z" color="#4dcf00"/><path d="M1067.9 172.2l.4 2.4-211.6 75.8-.3-2.5z" color="#48ce00"/><path d="M1068.3 174.6l.4 2.4-211.6 75.8-.4-2.4z" color="#42cd00"/><path d="M1068.7 177l.4 2.4-211.6 75.8-.4-2.4z" color="#3ccd00"/><path d="M1069.1 179.4l.3 2.4-211.5 75.8-.4-2.4z" color="#37cc00"/><path d="M1069.4 181.8l.4 2.5-211.6 75.7-.3-2.4z" color="#31cc00"/><path d="M1069.8 184.3l.4 2.4-211.6 75.7-.4-2.4z" color="#2bcb00"/><path d="M1070.2 186.7l.4 2.4-211.6 75.8-.4-2.5z" color="#26cb00"/><path d="M1070.6 189.1l.3 2.4-211.6 75.8-.3-2.4z" color="#20cb00"/><path d="M1070.9 191.5l.4 2.4-211.6 75.8-.4-2.4z" color="#1aca00"/><path d="M1071.3 193.9l.4 2.4-211.6 75.8-.4-2.4z" color="#15ca00"/><path d="M1071.7 196.3l.3 2.4-211.5 75.8-.4-2.4z" color="#0fc900"/><path d="M1072 198.7l.4 2.5-211.6 75.7-.3-2.4z" color="#09c900"/><path d="M1072.4 201.2l.4 2.4-211.6 75.7-.4-2.4z" color="#04c800"/><path d="M1072.8 203.6l.4 2.4-211.6 75.8-.4-2.5z" color="#00c802"/><path d="M1073.2 206l.3 2.4-211.6 75.8-.3-2.4z" color="#00c808"/><path d="M1073.5 208.4l.3 2.6-211.6 75.7-.3-2.5z" color="#00c90d"/><path d="M1073.8 211l.3 2.5-211.6 75.8-.3-2.6z" color="#00c914"/><path d="M1074.1 213.5l.3 2.6-211.6 75.8-.3-2.6z" color="#00ca1a"/><path d="M1074.4 216.1l.3 2.6-211.6 75.8-.3-2.6z" color="#00ca20"/><path d="M1074.7 218.7l.3 2.5-211.6 75.8-.3-2.5z" color="#00cb26"/><path d="M1075 221.2l.3 2.6-211.6 75.8-.3-2.6z" color="#00cb2c"/><path d="M1075.3 223.8l.3 2.6-211.6 75.8-.3-2.6z" color="#00cc32"/><path d="M1075.6 226.4l.3 2.5-211.6 75.8-.3-2.5z" color="#00cc38"/><path d="M1075.9 228.9l.3 2.6-211.6 75.8-.3-2.6z" color="#00cc3e"/><path d="M1076.2 231.5l.3 2.6-211.6 75.8-.3-2.6z" color="#00cd44"/><path d="M1076.5 234.1l.3 2.5-211.6 75.8-.3-2.5z" color="#00cd4a"/><path d="M1076.8 236.6l.3 2.6-211.6 75.8-.3-2.6z" color="#00ce50"/><path d="M1077.1 239.2l.3 2.6-211.6 75.8-.3-2.6z" color="#00ce56"/><path d="M1077.4 241.8l.3 2.5-211.6 75.8-.3-2.5z" color="#00cf5c"/><path d="M1077.7 244.3l.3 2.6-211.7 75.8-.2-2.6z" color="#00cf62"/><path d="M1078 246.9l.3 2.6-211.7 75.8-.3-2.6z" color="#00d068"/><path d="M1078.3 249.5l.3 2.5-211.7 75.8-.3-2.5z" color="#00d06e"/><path d="M1078.6 252l.2 2.6-211.6 75.8-.3-2.6z" color="#00d174"/><path d="M1078.8 254.6l.3 2.6-211.6 75.8-.3-2.6z" color="#00d17b"/><path d="M1079.1 257.2l.3 2.5-211.6 75.8-.3-2.5z" color="#00d281"/><path d="M1079.4 259.7l.3 2.3-211.7 75.9-.2-2.4z" color="#00d286"/><path d="M1079.7 262l.2 2.4-211.6 75.8-.3-2.3z" color="#00d28c"/><path d="M1079.9 264.4l.2 2.3-211.6 75.8-.2-2.3z" color="#00d391"/><path d="M1080.1 266.7l.3 2.3-211.7 75.9-.2-2.4z" color="#00d397"/><path d="M1080.4 269l.2 2.4-211.7 75.8-.2-2.3z" color="#00d49c"/><path d="M1080.6 271.4l.2 2.3-211.6 75.8-.3-2.3z" color="#00d4a2"/><path d="M1080.8 273.7l.2 2.3-211.6 75.9-.2-2.4z" color="#00d5a8"/><path d="M1081 276l.3 2.3-211.7 75.9-.2-2.3z" color="#00d5ad"/><path d="M1081.3 278.3l.2 2.4-211.6 75.8-.3-2.3z" color="#00d6b3"/><path d="M1081.5 280.7l.2 2.3-211.6 75.8-.2-2.3z" color="#00d6b8"/><path d="M1081.7 283l.2 2.3-211.6 75.9-.2-2.4z" color="#00d6be"/><path d="M1081.9 285.3l.3 2.4-211.7 75.8-.2-2.3z" color="#00d7c3"/><path d="M1082.2 287.7l.2 2.3-211.6 75.8-.3-2.3z" color="#00d7c9"/><path d="M1082.4 290l.2 2.3-211.6 75.9-.2-2.4z" color="#00d8ce"/><path d="M1082.6 292.3l.3 2.3-211.7 75.9-.2-2.3z" color="#00d8d4"/><path d="M1082.9 294.6l.2 2.4-211.7 75.8-.2-2.3z" color="#00d8d9"/><path d="M1083.1 297l.2 2.3-211.6 75.9-.3-2.4z" color="#00d3d9"/><path d="M1083.3 299.3l.2 2.3-211.6 75.9-.2-2.3z" color="#00cdd9"/><path d="M1083.5 301.6l.3 2.4-211.7 75.8-.2-2.3z" color="#00c8d9"/><path d="M1083.8 304l.2 2.3-211.6 75.9-.3-2.4z" color="#00c2d9"/><path d="M1084 306.3l.2 2.3-211.6 75.9-.2-2.3z" color="#00bdd9"/><path d="M1084.2 308.6l.3 2.3-211.7 75.9-.2-2.3z" color="#00b7d9"/><path d="M1084.5 310.9l.2 2.4-211.7 75.8-.2-2.3z" color="#00b2d9"/><path d="M1084.7 313.3l.2 2.3-211.6 75.9-.3-2.4z" color="#00acd9"/><path d="M1084.9 315.6l.4 2.5-211.7 75.8-.3-2.4z" color="#00a7d9"/><path d="M1085.3 318.1l.4 2.4-211.7 75.9-.4-2.5z" color="#00a1d9"/><path d="M1085.7 320.5l.3 2.5-211.6 75.9-.4-2.5z" color="#009bda"/><path d="M1086 323l.4 2.5-211.7 75.8-.3-2.4z" color="#0095da"/><path d="M1086.4 325.5l.4 2.4-211.7 75.9-.4-2.5z" color="#0090da"/><path d="M1086.8 327.9l.3 2.5-211.6 75.9-.4-2.5z" color="#008ada"/><path d="M1087.1 330.4l.4 2.5-211.6 75.9-.4-2.5z" color="#0084da"/><path d="M1087.5 332.9l.4 2.4-211.7 75.9-.3-2.4z" color="#007ed9"/><path d="M1087.9 335.3l.4 2.5-211.7 75.9-.4-2.5z" color="#0077d8"/><path d="M1088.3 337.8l.3 2.5-211.6 75.9-.4-2.5z" color="#006fd2"/><path d="M1088.6 340.3l.4 2.4-211.7 75.9-.3-2.4z" color="#0060c0"/><path d="M1089 342.7l.4 2.5-211.7 75.9-.4-2.5z" color="#003e83"/><path d="M1089.4 345.2l.4-2.2-211.7 75.9-.4 2.2z" color="#002b5c"/><path d="M1089.8 343l.4-2.2-211.6 75.8-.5 2.3z" color="#003060"/><path d="M1090.2 340.8l.5-2.3-211.7 75.9-.4 2.2z" color="#003565"/><path d="M1090.7 338.5l.4-2.2-211.7 75.9-.4 2.2z" color="#003a69"/><path d="M1091.1 336.3l.4-2.2-211.6 75.9-.5 2.2z" color="#003f6d"/><path d="M1091.5 334.1l.5-2.2-211.7 75.9-.4 2.2z" color="#004471"/><path d="M1092 331.9l.4-2.2-211.7 75.8-.4 2.3z" color="#004975"/><path d="M1092.4 329.7l.4-2.3-211.6 75.9-.5 2.2z" color="#004f78"/><path d="M1092.8 327.4l.4-2.2-211.6 75.9-.4 2.2z" color="#00547b"/><path d="M1093.2 325.2l.5-2.2-211.7 75.9-.4 2.2z" color="#00597e"/><path d="M1093.7 323l.4-2.2-211.6 75.8-.5 2.3z" color="#005e81"/><path d="M1094.1 320.8l.4-2.2-211.6 75.8-.4 2.2z" color="#006483"/><path d="M1094.5 318.6l.5-2.3-211.7 75.9-.4 2.2z" color="#006986"/><path d="M1095 316.3l.4-2.2-211.6 75.9-.5 2.2z" color="#006e88"/><path d="M1095.4 314.1l.4-2.2-211.6 75.9-.4 2.2z" color="#00748a"/><path d="M1095.8 311.9l.4-2.2-211.6 75.8-.4 2.3z" color="#00798c"/><path d="M1096.2 309.7l.5-2.2-211.6 75.8-.5 2.2z" color="#007e8e"/><path d="M1096.7 307.5l.4-2.2-211.6 75.8-.4 2.2z" color="#008390"/><path d="M1097.1 305.3l.4-2.3-211.6 75.9-.4 2.2z" color="#008991"/><path d="M1097.5 303l.5-2.2-211.6 75.9-.5 2.2z" color="#008e93"/><path d="M1098 300.8l.4-2.4-211.6 75.8-.4 2.5z" color="#009394"/><path d="M1098.4 298.4l.4-2.5-211.6 75.9-.4 2.4z" color="#009592"/><path d="M1098.8 295.9l.5-2.4-211.6 75.8-.5 2.5z" color="#00968f"/><path d="M1099.3 293.5l.4-2.5-211.6 75.9-.4 2.4z" color="#00978c"/><path d="M1099.7 291l.4-2.4-211.5 75.8-.5 2.5z" color="#009888"/><path d="M1100.1 288.6l.5-2.4-211.6 75.8-.4 2.4z" color="#009885"/><path d="M1100.6 286.2l.4-2.5-211.6 75.8-.4 2.5z" color="#009981"/><path d="M1101 283.7l.4-2.4-211.5 75.8-.5 2.4z" color="#009a7e"/><path d="M1101.4 281.3l.5-2.5-211.6 75.8-.4 2.5z" color="#009a7a"/><path d="M1101.9 278.8l.4-2.4-211.5 75.8-.5 2.4z" color="#009b76"/><path d="M1102.3 276.4l.4-2.5-211.5 75.8-.4 2.5z" color="#009b72"/><path d="M1102.7 273.9l.5-2.4-211.6 75.8-.4 2.4z" color="#009b6e"/><path d="M1103.2 271.5l.4-2.4-211.5 75.8-.5 2.4z" color="#009c6a"/><path d="M1103.6 269.1l.4-2.5-211.5 75.8-.4 2.5z" color="#009c66"/><path d="M1104 266.6l.5-2.4-211.5 75.8-.5 2.4z" color="#009c62"/><path d="M1104.5 264.2l.4-2.5-211.5 75.8-.4 2.5z" color="#009c5d"/><path d="M1104.9 261.7l.5-2.4-211.6 75.8-.4 2.4z" color="#009d59"/><path d="M1105.4 259.3l.4-2.5-211.5 75.8-.5 2.5z" color="#009d55"/><path d="M1105.8 256.8l.4-2.4-211.5 75.8-.4 2.4z" color="#009d50"/><path d="M1106.2 254.4l.5-2.3-211.5 75.8-.5 2.3z" color="#009d4c"/><path d="M1106.7 252.1l.4-2.3-211.5 75.8-.4 2.3z" color="#009d48"/><path d="M1107.1 249.8l.4-2.2-211.5 75.7-.4 2.3z" color="#009d44"/><path d="M1107.5 247.6l.4-2.3-211.4 75.8-.5 2.2z" color="#009d3f"/><path d="M1107.9 245.3l.5-2.3-211.5 75.8-.4 2.3z" color="#009d3b"/><path d="M1108.4 243l.4-2.3-211.5 75.8-.4 2.3z" color="#009d37"/><path d="M1108.8 240.7l.4-2.2-211.4 75.7-.5 2.3z" color="#009d33"/><path d="M1109.2 238.5l.5-2.3-211.5 75.8-.4 2.2z" color="#009d2e"/><path d="M1109.7 236.2l.4-2.3-211.5 75.8-.4 2.3z" color="#009d2a"/><path d="M1110.1 233.9l.4-2.2-211.4 75.7-.5 2.3z" color="#009d26"/><path d="M1110.5 231.7l.5-2.3-211.5 75.8-.4 2.2z" color="#009d21"/><path d="M1111 229.4l.4-2.3-211.5 75.8-.4 2.3z" color="#009d1d"/><path d="M1111.4 227.1l.4-2.2-211.4 75.7-.5 2.3z" color="#009d18"/><path d="M1111.8 224.9l.4-2.3-211.4 75.7-.4 2.3z" color="#009d14"/><path d="M1112.2 222.6l.5-2.3-211.5 75.8-.4 2.2z" color="#009d0f"/><path d="M1112.7 220.3l.4-2.2-211.4 75.7-.5 2.3z" color="#009d0b"/><path d="M1113.1 218.1l.4-2.3-211.4 75.7-.4 2.3z" color="#009d07"/><path d="M1113.5 215.8l.5-2.3-211.5 75.8-.4 2.2z" color="#009c02"/><path d="M1114 213.5l.4-2.3-211.4 75.8-.5 2.3z" color="#039d00"/><path d="M1114.4 211.2l.4-2.2-211.4 75.7-.4 2.3z" color="#079d00"/><path d="M1114.8 209l.5-2.1-211.4 75.7-.5 2.1z" color="#0b9e00"/><path d="M1115.3 206.9l.6-2.3-211.4 75.7-.6 2.3z" color="#109e00"/><path d="M1115.9 204.6l.6-2.3-211.4 75.7-.6 2.3z" color="#159f00"/><path d="M1116.5 202.3l.6-2.4-211.5 75.8-.5 2.3z" color="#19a000"/><path d="M1117.1 199.9l.5-2.3-211.4 75.8-.6 2.3z" color="#1ea000"/><path d="M1117.6 197.6l.6-2.3-211.4 75.7-.6 2.4z" color="#23a100"/><path d="M1118.2 195.3l.6-2.3-211.4 75.7-.6 2.3z" color="#28a100"/><path d="M1118.8 193l.6-2.3-211.4 75.7-.6 2.3z" color="#2ca200"/><path d="M1119.4 190.7l.5-2.3-211.3 75.7-.6 2.3z" color="#31a300"/><path d="M1119.9 188.4l.6-2.3-211.4 75.7-.5 2.3z" color="#36a300"/><path d="M1120.5 186.1l.6-2.3-211.4 75.7-.6 2.3z" color="#3ba400"/><path d="M1121.1 183.8l.6-2.3-211.4 75.7-.6 2.3z" color="#40a400"/><path d="M1121.7 181.5l.5-2.3-211.3 75.7-.6 2.3z" color="#44a500"/><path d="M1122.2 179.2l.6-2.3-211.3 75.6-.6 2.4z" color="#49a500"/><path d="M1122.8 176.9l.6-2.4-211.3 75.7-.6 2.3z" color="#4ea600"/><path d="M1123.4 174.5l.9-2.1-211.4 75.7-.8 2.1z" color="#53a600"/><path d="M1124.3 172.4l.8-2-211.3 75.7-.9 2z" color="#57a700"/><path d="M1125.1 170.4l.9-1.9-211.3 75.6-.9 2z" color="#5ca700"/><path d="M1126 168.5l.9-2-211.4 75.7-.8 1.9z" color="#60a800"/><path d="M1126.9 166.5l.8-2-211.3 75.7-.9 2z" color="#64a800"/><path d="M1127.7 164.5l.9-2-211.3 75.7-.9 2z" color="#69a900"/><path d="M1128.6 162.5l.8-2-211.3 75.7-.8 2z" color="#6daa00"/><path d="M1129.4 160.5l.9-1.9-211.3 75.6-.9 2z" color="#72aa00"/><path d="M1130.3 158.6l2.7-1.6-211.3 75.7-2.7 1.5z" color="#76aa00"/><path d="M1133 157l2.8-1.5-211.3 75.7-2.8 1.5z" color="#7aaa00"/><path d="M1135.8 155.5l2.8-1.4-211.2 75.6-2.9 1.5z" color="#7da900"/><path d="M1138.6 154.1l2.8-1.5-211.2 75.6-2.8 1.5z" color="#81a900"/><path d="M1141.4 152.6l2.9-1.5-211.3 75.7-2.8 1.4z" color="#84a800"/><path d="M1144.3 151.1l2.8-1.5-211.2 75.7-2.9 1.5z" color="#87a700"/><path d="M1147.1 149.6l2.8-1.4-211.2 75.6-2.8 1.5z" color="#89a500"/><path d="M1149.9 148.2l2.9-1.5-211.2 75.6-2.9 1.5z" color="#8ba300"/><path d="M1152.8 146.7l2.9-1.5-211.2 75.6-2.9 1.5z" color="#8b9f00"/><path d="M1155.7 145.2l2.9-1.5-211.2 75.6-2.9 1.5z" color="#899900"/><path d="M1158.6 143.7l2.9-1.5-211.2 75.6-2.9 1.5z" color="#848f00"/><path d="M1161.5 142.2l2.9-1.5-211.2 75.6-2.9 1.5z" color="#777e00"/><path d="M1164.4 140.7l2.9-1.5-211.1 75.6-3 1.5z" color="#5f6200"/><path d="M1167.3 139.2l3.5 3-211.1 75.6-3.5-3z" color="#888d00"/><path d="M1170.8 142.2l3 2.8-211.1 75.6-3-2.8z" color="#b1bc00"/><path d="M1173.8 145l3 2.9-211.1 75.6-3-2.9z" color="#bac900"/><path d="M1176.8 147.9l2.3 2.7-211.1 75.6-2.3-2.7z" color="#b9ce00"/><path d="M1179.1 150.6l2.1 2.7-211.1 75.6-2.1-2.7z" color="#b5ce00"/><path d="M1181.2 153.3l2.1 2.7-211 75.6-2.2-2.7z" color="#b0ce00"/><path d="M1183.3 156l2.2 2.7-211.1 75.6-2.1-2.7z" color="#a9cb00"/><path d="M1185.5 158.7l2.1 2.7-211.1 75.6-2.1-2.7z" color="#a0c700"/><path d="M1187.6 161.4l3.4 2.2-211 75.6-3.5-2.2z" color="#93ba00"/><path d="M1191 163.6l3.5 1-211 75.6-3.5-1z" color="#749500"/><path d="M1194.5 164.6l3.5 1-211 75.6-3.5-1z" color="#3c4d00"/><path d="M1198 165.6l3.5 1-211 75.6-3.5-1z" color="#688500"/><path d="M1201.5 166.6l2.6-1.6-211 75.6-2.6 1.6z" color="#7c9e00"/><path d="M1204.1 165l1-1.9-211 75.6-1 1.9z" color="#809e00"/><path d="M1205.1 163.1l1-1.9-211 75.6-1 1.9z" color="#839d00"/><path d="M1206.1 161.2l1-1.9-211 75.6-1 1.9z" color="#869d00"/><path d="M1207.1 159.3l1-1.9-211 75.6-1 1.9z" color="#899c00"/><path d="M1208.1 157.4l1-1.9-211 75.6-1 1.9z" color="#8d9c00"/><path d="M1209.1 155.5l1-1.9-211 75.6-1 1.9z" color="#8f9b00"/><path d="M1210.1 153.6l1-1.9-211 75.6-1 1.9z" color="#929b00"/><path d="M1211.1 151.7l1-1.9-211 75.6-1 1.9z" color="#959a00"/><path d="M1212.1 149.8l1-1.9-211 75.6-1 1.9z" color="#989900"/><path d="M1213.1 147.9l1-1.9-210.9 75.6-1.1 1.9z" color="#989600"/><path d="M1214.1 146l1-1.9-210.9 75.6-1 1.9z" color="#979100"/><path d="M1215.1 144.1l1-1.9-210.9 75.6-1 1.9z" color="#958c00"/><path d="M1216.1 142.2l1-1.9-210.9 75.6-1 1.9z" color="#948700"/><path d="M1217.1 140.3l.8-2-210.9 75.6-.8 2z" color="#938200"/><path d="M1217.9 138.3l.8-2-210.9 75.5-.8 2.1z" color="#917e00"/><path d="M1218.7 136.3l.8-2.1-211 75.5-.7 2.1z" color="#907900"/><path d="M1219.5 134.2l.7-2.1-210.9 75.6-.8 2z" color="#8f7400"/><path d="M1220.2 132.1l.8-2-210.9 75.5-.8 2.1z" color="#8d6f00"/><path d="M1221 130.1l.8-2.1-210.9 75.5-.8 2.1z" color="#8c6b00"/><path d="M1221.8 128l.8-2.1-210.9 75.6-.8 2z" color="#8a6600"/><path d="M1222.6 125.9l.8-2-210.9 75.5-.8 2.1z" color="#886100"/><path d="M1223.4 123.9l.8-2.1-210.9 75.5-.8 2.1z" color="#865c00"/><path d="M1224.2 121.8l.8-2-210.9 75.5-.8 2z" color="#855800"/><path d="M1225 119.8l.7-2.1-210.8 75.5-.8 2.1z" color="#825300"/><path d="M1225.7 117.7l.8-2.1-210.8 75.5-.8 2.1z" color="#804e00"/><path d="M1226.5 115.6l.8-2-210.8 75.5-.8 2z" color="#7e4a00"/><path d="M1227.3 113.6l.8-2.1-210.8 75.5-.8 2.1z" color="#7c4500"/><path d="M1228.1 111.5l.8-2.1-210.9 75.5-.7 2.1z" color="#794100"/><path d="M1228.9 109.4l.8-2-210.9 75.5-.8 2z" color="#763c00"/><path d="M1229.7 107.4l.8-2.1-210.9 75.5-.8 2.1z" color="#733800"/><path d="M1230.5 105.3l.8-2-210.9 75.4-.8 2.1z" color="#703400"/><path d="M1231.3 103.3l.7-2.1-210.9 75.4-.7 2.1z" color="#6e3000"/><path d="M1232 101.2l.7-2.2-210.8 75.5-.8 2.1z" color="#6b2b00"/><path d="M1232.7 99l.7-2.1-210.8 75.5-.7 2.1z" color="#672800"/><path d="M1233.4 96.9l.7-2.1-210.8 75.5-.7 2.1z" color="#642400"/><path d="M1234.1 94.8l.7-2.1-210.8 75.4-.7 2.2z" color="#612000"/><path d="M1234.8 92.7l.7-2.1-210.8 75.4-.7 2.1z" color="#5d1d00"/><path d="M1235.5 90.6l.8-2.2-210.8 75.5-.8 2.1z" color="#5a1900"/><path d="M1236.3 88.4l.7-2.1-210.8 75.5-.7 2.1z" color="#561600"/><path d="M1237 86.3l.7-2.1-210.8 75.5-.7 2.1z" color="#531300"/><path d="M1237.7 84.2l.7-2.1-210.8 75.4-.7 2.2z" color="#4f1000"/><path d="M1238.4 82.1l.7-2.1-210.8 75.4-.7 2.1z" color="#4f0e00"/><path d="M1239.1 80l.7-2.2-210.7 75.5-.8 2.1z" color="#540d00"/><path d="M1239.8 77.8l.7-2.1-210.7 75.5-.7 2.1z" color="#590b00"/><path d="M1240.5 75.7l.8-2.1-210.8 75.5-.7 2.1z" color="#5f0900"/><path d="M1241.3 73.6l.7-2.1-210.8 75.4-.7 2.2z" color="#640700"/><path d="M1242 71.5l.7-2.1-210.8 75.4-.7 2.1z" color="#690500"/><path d="M1242.7 69.4l1.3 2.5-210.7 75.5-1.4-2.6z" color="#a40800"/><path d="M1244 71.9l.6 2.4-210.8 75.5-.5-2.4z" color="#cf0f00"/><path d="M1244.6 74.3l.6 2.4-210.8 75.5-.6-2.4z" color="#d61500"/><path d="M1245.2 76.7l.6 2.4-210.8 75.5-.6-2.4z" color="#d81b00"/><path d="M1245.8 79.1l.6 2.4-210.8 75.5-.6-2.4z" color="#d92000"/><path d="M1246.4 81.5l.6 2.4-210.8 75.5-.6-2.4z" color="#da2600"/><path d="M1247 83.9l.5 2.4-210.7 75.5-.6-2.4z" color="#da2b00"/><path d="M1247.5 86.3l.6 2.4-210.7 75.5-.6-2.4z" color="#da3100"/><path d="M1248.1 88.7l.6 2.4-210.7 75.5-.6-2.4z" color="#da3700"/><path d="M1248.7 91.1l.6 2.3-210.8 75.4-.5-2.2z" color="#da3c00"/><path d="M1249.3 93.4l.4 2.3-210.7 75.5-.5-2.4z" color="#da4100"/><path d="M1249.7 95.7l.4 2.4-210.7 75.4-.4-2.3z" color="#da4700"/><path d="M1250.1 98.1l.5 2.3-210.8 75.5-.4-2.4z" color="#da4c00"/><path d="M1250.6 100.4l.4 2.4-210.7 75.4-.5-2.3z" color="#da5200"/><path d="M1251 102.8l.5 2.3-210.8 75.5-.4-2.4z" color="#da5700"/><path d="M1251.5 105.1l.4 2.4-210.7 75.4-.5-2.3z" color="#da5d00"/><path d="M1251.9 107.5l.5 2.3-210.8 75.5-.4-2.4z" color="#da6200"/><path d="M1252.4 109.8l.4 2.3-210.7 75.5-.5-2.3z" color="#d96800"/><path d="M1252.8 112.1l.5 2.4-210.8 75.4-.4-2.3z" color="#d96d00"/><path d="M1253.3 114.5l.4 2.3-210.7 75.5-.5-2.4z" color="#d97300"/><path d="M1253.7 116.8l.5 2.4-210.8 75.4-.4-2.3z" color="#d97800"/><path d="M1254.2 119.2l.4 2.3-210.7 75.5-.5-2.4z" color="#d97d00"/><path d="M1254.6 121.5l.5 2.4-210.8 75.4-.4-2.3z" color="#d98300"/><path d="M1255.1 123.9l.4 2.3-210.7 75.5-.5-2.4z" color="#d98800"/><path d="M1255.5 126.2l.6 2.5-210.8 75.5-.5-2.5z" color="#d98e00"/><path d="M1256.1 128.7l.6 2.5-210.8 75.5-.6-2.5z" color="#d99400"/><path d="M1256.7 131.2l.6 2.5-210.8 75.5-.6-2.5z" color="#d99a00"/><path d="M1257.3 133.7l.6 2.6-210.8 75.4-.6-2.5z" color="#daa000"/><path d="M1257.9 136.3l.5 2.5-210.7 75.4-.6-2.5z" color="#daa500"/><path d="M1258.4 138.8l.6 2.5-210.7 75.5-.6-2.6z" color="#daab00"/><path d="M1259 141.3l.6 2.5-210.7 75.5-.6-2.5z" color="#dab100"/><path d="M1259.6 143.8l.6 2.5-210.7 75.5-.6-2.5z" color="#dab700"/><path d="M1260.2 146.3l.6 2.5-210.8 75.5-.5-2.5z" color="#dabd00"/><path d="M1260.8 148.8l.6 2.5-210.8 75.5-.6-2.5z" color="#dac300"/><path d="M1261.4 151.3l.6 2.6-210.8 75.4-.6-2.5z" color="#dac800"/><path d="M1262 153.9l.6 2.5-210.8 75.5-.6-2.6z" color="#dace00"/><path d="M1262.6 156.4l.6 2.5-210.8 75.5-.6-2.5z" color="#dad400"/><path d="M1263.2 158.9l.5 2.5-210.7 75.5-.6-2.5z" color="#dada00"/><path d="M1263.7 161.4l.6 2.5-210.7 75.5-.6-2.5z" color="#d4d900"/><path d="M1264.3 163.9l1.1 2.5-210.7 75.5-1.1-2.5z" color="#ced900"/><path d="M1265.4 166.4l1.1 2.4-210.7 75.5-1.1-2.4z" color="#c9d900"/><path d="M1266.5 168.8l1.1 2.4-210.7 75.5-1.1-2.4z" color="#c3d800"/><path d="M1267.6 171.2l1.1 2.4-210.7 75.5-1.1-2.4z" color="#bed700"/><path d="M1268.7 173.6l1.1 2.4-210.7 75.5-1.1-2.4z" color="#b9d700"/><path d="M1269.8 176l1.1 2.4-210.7 75.5-1.1-2.4z" color="#b3d600"/><path d="M1270.9 178.4l2.4 2.7-210.8 75.5-2.3-2.7z" color="#acd400"/><path d="M1273.3 181.1l3.4 2.7-210.7 75.5-3.5-2.7z" color="#a3ce00"/><path d="M1276.7 183.8l3.4 2.6-210.7 75.5-3.4-2.6z" color="#93be00"/><path d="M1280.1 186.4l3.5 1.1-210.7 75.5-3.5-1.1z" color="#7ea600"/><path d="M1283.6 187.5l3.5 1.1-210.7 75.5-3.5-1.1z" color="#6d9000"/><path d="M1287.1 188.6l3.4 1.1-210.6 75.5-3.5-1.1z" color="#638300"/><path d="M1290.5 189.7l3.5 1.1-210.7 75.5-3.4-1.1z" color="#5d7c00"/><path d="M1294 190.8l3.5 1.1-210.7 75.5-3.5-1.1z" color="#5a7800"/><path d="M1297.5 191.9l3.5 .9-210.6 75.5-3.6-.9z" color="#577500"/><path d="M1301 192.8l3.5 .9-210.6 75.5-3.5-.9z" color="#557200"/><path d="M1304.5 193.7l3.5 1-210.7 75.4-3.4-.9z" color="#547000"/><path d="M1308 194.7l3.5 .9-210.6 75.4-3.6-.9z" color="#537000"/><path d="M1311.5 195.6l.4 .1-210.6 75.5-.4-.2z" color="#537000"/></g>
<g stroke="#000" stroke-width="1.6" stroke-dasharray="4 3.5" fill="none"><line x1="1014.3" y1="368.8" x2="1024.4" y2="14.2"/><line x1="1014.3" y1="368.8" x2="802.3" y2="444.8"/><line x1="1014.3" y1="368.8" x2="1305.5" y2="436.6"/></g>
<line x1="797.3" y1="426.7" x2="802.8" y2="426.7" stroke="#000" stroke-width="1.6"/><line x1="798.4" y1="390.5" x2="803.9" y2="390.5" stroke="#000" stroke-width="1.6"/><line x1="799.5" y1="354.4" x2="805" y2="354.4" stroke="#000" stroke-width="1.6"/><line x1="800.5" y1="318.3" x2="806" y2="318.3" stroke="#000" stroke-width="1.6"/><line x1="801.6" y1="282.2" x2="807.1" y2="282.2" stroke="#000" stroke-width="1.6"/><line x1="802.7" y1="246.1" x2="808.2" y2="246.1" stroke="#000" stroke-width="1.6"/><line x1="803.7" y1="210" x2="809.2" y2="210" stroke="#000" stroke-width="1.6"/><line x1="804.8" y1="173.9" x2="810.3" y2="173.9" stroke="#000" stroke-width="1.6"/><line x1="805.9" y1="137.8" x2="811.4" y2="137.8" stroke="#000" stroke-width="1.6"/><line x1="806.9" y1="101.8" x2="812.4" y2="101.8" stroke="#000" stroke-width="1.6"/><line x1="846.3" y1="455" x2="841.6" y2="456.6" stroke="#000" stroke-width="1.4"/><line x1="919.6" y1="471.9" x2="914.8" y2="473.6" stroke="#000" stroke-width="1.4"/><line x1="992.6" y1="488.8" x2="987.9" y2="490.4" stroke="#000" stroke-width="1.4"/><line x1="1065.5" y1="505.6" x2="1060.8" y2="507.3" stroke="#000" stroke-width="1.4"/><line x1="1305.5" y1="436.6" x2="1310.3" y2="437.8" stroke="#000" stroke-width="1.4"/><line x1="1263.3" y1="451.7" x2="1268.2" y2="452.9" stroke="#000" stroke-width="1.4"/><line x1="1221.1" y1="466.9" x2="1226" y2="468" stroke="#000" stroke-width="1.4"/><line x1="1179" y1="482" x2="1183.8" y2="483.2" stroke="#000" stroke-width="1.4"/><line x1="1136.8" y1="497.2" x2="1141.7" y2="498.3" stroke="#000" stroke-width="1.4"/><line x1="1094.6" y1="512.3" x2="1099.5" y2="513.4" stroke="#000" stroke-width="1.4"/>
<g font-family="DejaVu Sans, sans-serif" font-size="11" fill="#111" stroke="#111" stroke-width="0.25"><text x="791.8" y="424.7" text-anchor="end">1.56</text><text x="792.9" y="388.5" text-anchor="end">1.57</text><text x="794" y="352.4" text-anchor="end">1.58</text><text x="795" y="316.3" text-anchor="end">1.59</text><text x="796.1" y="280.2" text-anchor="end">1.6</text><text x="797.1" y="244.1" text-anchor="end">1.61</text><text x="798.2" y="208" text-anchor="end">1.62</text><text x="799.3" y="171.9" text-anchor="end">1.63</text><text x="800.3" y="135.8" text-anchor="end">1.64</text><text x="801.4" y="99.8" text-anchor="end">1.65</text><text x="843.3" y="474.7" text-anchor="end">0.5</text><text x="916.5" y="491.6" text-anchor="end">1</text><text x="989.6" y="508.5" text-anchor="end">1.5</text><text x="1062.5" y="525.3" text-anchor="end">2</text><text x="1306.2" y="457.6">90</text><text x="1264" y="472.7">100</text><text x="1221.8" y="487.9">110</text><text x="1179.7" y="503">120</text><text x="1137.5" y="518.2">130</text><text x="1095.3" y="533.3">140</text></g>
<text x="932.6" y="517.5" transform="rotate(16 932.6 517.5)" text-anchor="middle" dominant-baseline="central" font-family="Liberation Sans, Arial, sans-serif" font-size="35">Depth</text>
<text x="1225.5" y="511.9" transform="rotate(-18.5 1225.5 511.9)" text-anchor="middle" dominant-baseline="central" font-family="Liberation Sans, Arial, sans-serif" font-size="35">Taper</text>
<text x="773" y="44" font-family="Liberation Sans, Arial, sans-serif" font-weight="bold" font-size="35">b</text>
</g>
<clipPath id="cc"><rect x="1347" y="9.5" width="646.3" height="547.5"/></clipPath>
<g clip-path="url(#cc)">
<g stroke-linecap="square"><line x1="1590.2" y1="368.4" x2="1595.4" y2="46.9" stroke="#c6c6c6" stroke-width="1"/><line x1="1590.2" y1="368.4" x2="1842.3" y2="440.4" stroke="#c6c6c6" stroke-width="1"/><line x1="1545" y1="383.6" x2="1550.4" y2="61.8" stroke="#c6c6c6" stroke-width="1"/><line x1="1545" y1="383.6" x2="1797.4" y2="455.6" stroke="#c6c6c6" stroke-width="1"/><line x1="1499.8" y1="398.8" x2="1505.3" y2="76.6" stroke="#c6c6c6" stroke-width="1"/><line x1="1499.8" y1="398.8" x2="1752.4" y2="470.9" stroke="#c6c6c6" stroke-width="1"/><line x1="1454.5" y1="414" x2="1460.2" y2="91.5" stroke="#c6c6c6" stroke-width="1"/><line x1="1454.5" y1="414" x2="1707.3" y2="486.1" stroke="#c6c6c6" stroke-width="1"/><line x1="1719.3" y1="377.3" x2="1723.9" y2="56.1" stroke="#c6c6c6" stroke-width="1"/><line x1="1719.3" y1="377.3" x2="1493.5" y2="453.3" stroke="#c6c6c6" stroke-width="1"/><line x1="1803.3" y1="401.2" x2="1807.6" y2="80.1" stroke="#c6c6c6" stroke-width="1"/><line x1="1803.3" y1="401.2" x2="1577.8" y2="477.4" stroke="#c6c6c6" stroke-width="1"/><line x1="1410.7" y1="341.1" x2="1636.7" y2="265.6" stroke="#c6c6c6" stroke-width="1"/><line x1="1636.7" y1="265.6" x2="1888.3" y2="337.5" stroke="#c6c6c6" stroke-width="1"/><line x1="1412.7" y1="231.2" x2="1638.4" y2="156.4" stroke="#c6c6c6" stroke-width="1"/><line x1="1638.4" y1="156.4" x2="1889.6" y2="228.2" stroke="#c6c6c6" stroke-width="1"/><line x1="1414.7" y1="121.7" x2="1640" y2="47.4" stroke="#c6c6c6" stroke-width="1"/><line x1="1640" y1="47.4" x2="1890.9" y2="119.2" stroke="#c6c6c6" stroke-width="1"/><line x1="1409" y1="429.2" x2="1415" y2="106.4" stroke="#c6c6c6" stroke-width="1"/><line x1="1415" y1="106.4" x2="1640.3" y2="32.2" stroke="#c6c6c6" stroke-width="1"/><line x1="1640.3" y1="32.2" x2="1891.1" y2="104" stroke="#c6c6c6" stroke-width="1"/><line x1="1891.1" y1="104" x2="1887.2" y2="425.2" stroke="#c6c6c6" stroke-width="1"/><line x1="1409" y1="429.2" x2="1662.2" y2="501.4" stroke="#c6c6c6" stroke-width="1"/><line x1="1662.2" y1="501.4" x2="1887.2" y2="425.2" stroke="#c6c6c6" stroke-width="1"/></g>
<g stroke="#000" stroke-linecap="round"><line x1="1635.3" y1="353.3" x2="1640.3" y2="32.2" stroke-width="4.4"/><line x1="1635.3" y1="353.3" x2="1409" y2="429.2" stroke-width="5.2"/><line x1="1635.3" y1="353.3" x2="1887.2" y2="425.2" stroke-width="5.2"/></g>
<g class="s"><path d="M1640.3 32.2l3.1 1.2-225.3 74.2-3.1-1.2z" color="#8c0000"/><path d="M1643.4 33.4l3 1.3-225.3 74.2-3-1.3z" color="#990100"/><path d="M1646.4 34.7l3.1 1.5-225.3 74.2-3.1-1.5z" color="#a20200"/><path d="M1649.5 36.2l3 1.6-225.3 74.2-3-1.6z" color="#a80400"/><path d="M1652.5 37.8l3.1 1.7-225.3 74.3-3.1-1.8z" color="#b40600"/><path d="M1655.6 39.5l3 2.2-225.2 74.2-3.1-2.1z" color="#c70900"/><path d="M1658.6 41.7l2.6 2.7-225.2 74.2-2.6-2.7z" color="#e10f00"/><path d="M1661.2 44.4l1.7 2.4-225.2 74.3-1.7-2.5z" color="#eb1500"/><path d="M1662.9 46.8l1.3 2.3-225.2 74.3-1.3-2.3z" color="#ee1b00"/><path d="M1664.2 49.1l1.3 2.3-225.3 74.3-1.2-2.3z" color="#ef2100"/><path d="M1665.5 51.4l1.1 2.3-225.2 74.3-1.2-2.3z" color="#ef2700"/><path d="M1666.6 53.7l1.2 2.3-225.2 74.3-1.2-2.3z" color="#ef2d00"/><path d="M1667.8 56l1.1 2.3-225.2 74.4-1.1-2.4z" color="#ef3300"/><path d="M1668.9 58.3l1.2 2.3-225.2 74.4-1.2-2.3z" color="#ef3800"/><path d="M1670.1 60.6l1.2 2.3-225.3 74.4-1.1-2.3z" color="#ef3e00"/><path d="M1671.3 62.9l1.1 2.3-225.3 74.4-1.1-2.3z" color="#f04400"/><path d="M1672.4 65.2l1 2.2-225.2 74.4-1.1-2.2z" color="#f04a00"/><path d="M1673.4 67.4l1 2.3-225.2 74.4-1-2.3z" color="#f05000"/><path d="M1674.4 69.7l1 2.2-225.2 74.4-1-2.2z" color="#f05600"/><path d="M1675.4 71.9l1 2.3-225.2 74.4-1-2.3z" color="#f05c00"/><path d="M1676.4 74.2l1 2.3-225.3 74.4-.9-2.3z" color="#f06200"/><path d="M1677.4 76.5l.9 2.3-225.2 74.5-1-2.4z" color="#f06800"/><path d="M1678.3 78.8l.9 2.3-225.2 74.4-.9-2.2z" color="#f06e00"/><path d="M1679.2 81.1l1 2.2-225.3 74.4-.9-2.2z" color="#f07400"/><path d="M1680.2 83.3l.9 2.2-225.3 74.5-.9-2.3z" color="#f07a00"/><path d="M1681.1 85.5l.9 2.3-225.2 74.5-1-2.3z" color="#f08000"/><path d="M1682 87.8l.9 2.3-225.2 74.5-.9-2.3z" color="#f08600"/><path d="M1682.9 90.1l.8 2.2-225.2 74.5-.8-2.2z" color="#f08c00"/><path d="M1683.7 92.3l.9 2.2-225.2 74.5-.9-2.2z" color="#f09200"/><path d="M1684.6 94.5l.8 2.3-225.2 74.5-.8-2.3z" color="#f19800"/><path d="M1685.4 96.8l.9 2.3-225.2 74.5-.9-2.3z" color="#f19e00"/><path d="M1686.3 99.1l.8 2.3-225.2 74.5-.8-2.3z" color="#f1a400"/><path d="M1687.1 101.4l.8 2.1-225.2 74.6-.8-2.2z" color="#f1aa00"/><path d="M1687.9 103.5l.8 2.2-225.2 74.6-.8-2.2z" color="#f1b000"/><path d="M1688.7 105.7l.8 2.2-225.2 74.5-.8-2.1z" color="#f1b600"/><path d="M1689.5 107.9l.8 2.1-225.3 74.6-.7-2.2z" color="#f1bb00"/><path d="M1690.3 110l.8 2.2-225.3 74.6-.8-2.2z" color="#f1c100"/><path d="M1691.1 112.2l.8 2.3-225.2 74.6-.9-2.3z" color="#f1c700"/><path d="M1691.9 114.5l.9 2.3-225.3 74.6-.8-2.3z" color="#f1cd00"/><path d="M1692.8 116.8l.8 2.2-225.2 74.7-.9-2.3z" color="#f1d300"/><path d="M1693.6 119l.9 2.3-225.3 74.7-.8-2.3z" color="#f1d900"/><path d="M1694.5 121.3l.8 2.3-225.2 74.7-.9-2.3z" color="#f1df00"/><path d="M1695.3 123.6l.9 2.3-225.3 74.7-.8-2.3z" color="#f1e600"/><path d="M1696.2 125.9l.8 2.3-225.2 74.7-.9-2.3z" color="#f1ec00"/><path d="M1697 128.2l.9 2.3-225.3 74.7-.8-2.3z" color="#eff000"/><path d="M1697.9 130.5l.8 2.3-225.2 74.7-.9-2.3z" color="#e9f000"/><path d="M1698.7 132.8l.9 2.2-225.3 74.8-.8-2.3z" color="#e3ef00"/><path d="M1699.6 135l.8 2.3-225.2 74.8-.9-2.3z" color="#ddef00"/><path d="M1700.4 137.3l.9 2.3-225.3 74.7-.8-2.2z" color="#d7ee00"/><path d="M1701.3 139.6l.8 2.2-225.2 74.8-.9-2.3z" color="#d1ee00"/><path d="M1702.1 141.8l.9 2.3-225.3 74.8-.8-2.3z" color="#cbee00"/><path d="M1703 144.1l.8 2.3-225.3 74.7-.8-2.2z" color="#c5ed00"/><path d="M1703.8 146.4l.9 2.2-225.3 74.8-.9-2.3z" color="#bfed00"/><path d="M1704.7 148.6l.8 2.2-225.3 74.8-.8-2.2z" color="#b9ec00"/><path d="M1705.5 150.8l.9 2.2-225.3 74.9-.9-2.3z" color="#b3ec00"/><path d="M1706.4 153l.8 2.2-225.3 74.9-.8-2.2z" color="#adeb00"/><path d="M1707.2 155.2l.9 2.2-225.3 74.9-.9-2.2z" color="#a7eb00"/><path d="M1708.1 157.4l.8 2.2-225.3 74.9-.8-2.2z" color="#a1ea00"/><path d="M1708.9 159.6l.9 2.2-225.3 74.9-.9-2.2z" color="#9cea00"/><path d="M1709.8 161.8l.8 2.2-225.3 74.9-.8-2.2z" color="#96e900"/><path d="M1710.6 164l.9 2.2-225.3 74.9-.9-2.2z" color="#90e900"/><path d="M1711.5 166.2l.8 2.2-225.3 74.9-.8-2.2z" color="#8ae800"/><path d="M1712.3 168.4l.9 2.2-225.3 74.9-.9-2.2z" color="#84e800"/><path d="M1713.2 170.6l.8 2.2-225.3 75-.8-2.3z" color="#7ee800"/><path d="M1714 172.8l.9 2.3-225.3 74.9-.9-2.2z" color="#78e700"/><path d="M1714.9 175.1l.8 2.2-225.3 75-.8-2.3z" color="#72e700"/><path d="M1715.7 177.3l.9 2.3-225.3 75-.9-2.3z" color="#6ce600"/><path d="M1716.6 179.6l.8 2.2-225.3 75-.8-2.2z" color="#66e600"/><path d="M1717.4 181.8l.8 2.3-225.3 74.9-.8-2.2z" color="#60e500"/><path d="M1718.2 184.1l.7 2.2-225.3 75-.7-2.3z" color="#5ae500"/><path d="M1718.9 186.3l.8 2.3-225.3 75-.8-2.3z" color="#54e400"/><path d="M1719.7 188.6l.8 2.2-225.3 75-.8-2.2z" color="#4ee400"/><path d="M1720.5 190.8l.8 2.2-225.3 75.1-.8-2.3z" color="#48e300"/><path d="M1721.3 193l.8 2.2-225.3 75.1-.8-2.2z" color="#42e300"/><path d="M1722.1 195.2l.8 2.3-225.3 75.1-.8-2.3z" color="#3ce200"/><path d="M1722.9 197.5l.9 2.3-225.3 75-.9-2.2z" color="#36e200"/><path d="M1723.8 199.8l.9 2.3-225.3 75-.9-2.3z" color="#30e100"/><path d="M1724.7 202.1l1 2.3-225.3 75.1-1-2.4z" color="#2ae100"/><path d="M1725.7 204.4l1 2.3-225.3 75.1-1-2.3z" color="#24e000"/><path d="M1726.7 206.7l1.1 2.3-225.3 75.1-1.1-2.3z" color="#1edf00"/><path d="M1727.8 209l1.1 2.4-225.3 75.1-1.1-2.4z" color="#18df00"/><path d="M1728.9 211.4l1.1 2.3-225.3 75.1-1.1-2.3z" color="#12de00"/><path d="M1730 213.7l1.2 2.3-225.3 75.2-1.2-2.4z" color="#0cde00"/><path d="M1731.2 216l1.2 2.4-225.3 75.2-1.2-2.4z" color="#06dd00"/><path d="M1732.4 218.4l1.3 2.4-225.3 75.1-1.3-2.3z" color="#00dc00"/><path d="M1733.7 220.8l1.5 2.3-225.3 75.2-1.5-2.4z" color="#00db06"/><path d="M1735.2 223.1l1.9 2.5-225.3 75.2-1.9-2.5z" color="#00d80b"/><path d="M1737.1 225.6l2.6 2.8-225.3 75.2-2.6-2.8z" color="#00d110"/><path d="M1739.7 228.4l2.9 2.7-225.3 75.3-2.9-2.8z" color="#00cc15"/><path d="M1742.6 231.1l3 2.4-225.3 75.2-3-2.3z" color="#00c018"/><path d="M1745.6 233.5l3 1.5-225.3 75.3-3-1.6z" color="#009b16"/><path d="M1748.6 235l3.1 .9-225.3 75.2-3.1-.8z" color="#006a0f"/><path d="M1751.7 235.9l3 .8-225.2 75.2-3.1-.8z" color="#00610e"/><path d="M1754.7 236.7l3 .7-225.2 75.3-3-.8z" color="#00600e"/><path d="M1757.7 237.4l3.1 .8-225.2 75.3-3.1-.8z" color="#00610e"/><path d="M1760.8 238.2l3 .9-225.2 75.2-3-.8z" color="#00650e"/><path d="M1763.8 239.1l3 .9-225.1 75.2-3.1-.9z" color="#006c0f"/><path d="M1766.8 240l3 .9-225.1 75.3-3-1z" color="#007310"/><path d="M1769.8 240.9l3.1 1.1-225.2 75.3-3-1.1z" color="#007912"/><path d="M1772.9 242l3 1.2-225.1 75.3-3.1-1.2z" color="#007f13"/><path d="M1775.9 243.2l3 1.2-225.1 75.3-3-1.2z" color="#008715"/><path d="M1778.9 244.4l3 1.9-225.1 75.3-3-1.9z" color="#00b21d"/><path d="M1781.9 246.3l3 2.9-225.1 75.3-3-2.9z" color="#00cd25"/><path d="M1784.9 249.2l2.5 2.6-225.1 75.3-2.5-2.6z" color="#00d42c"/><path d="M1787.4 251.8l2.4 2.6-225.1 75.4-2.4-2.7z" color="#00d532"/><path d="M1789.8 254.4l2.3 2.7-225 75.4-2.4-2.7z" color="#00d637"/><path d="M1792.1 257.1l2.2 2.6-225.1 75.4-2.1-2.6z" color="#00da3e"/><path d="M1794.3 259.7l1.9 2.5-225.1 75.4-1.9-2.5z" color="#00dc44"/><path d="M1796.2 262.2l1.8 2.5-225.1 75.4-1.8-2.5z" color="#00dd4a"/><path d="M1798 264.7l1.7 2.4-225 75.4-1.8-2.4z" color="#00df50"/><path d="M1799.7 267.1l1.7 2.4-225.1 75.5-1.6-2.5z" color="#00e056"/><path d="M1801.4 269.5l1.6 2.5-225.1 75.4-1.6-2.4z" color="#00e15c"/><path d="M1803 272l1.5 2.4-225 75.5-1.6-2.5z" color="#00e262"/><path d="M1804.5 274.4l1.5 2.5-225 75.4-1.5-2.4z" color="#00e368"/><path d="M1806 276.9l1.4 2.4-225 75.4-1.4-2.4z" color="#00e46e"/><path d="M1807.4 279.3l1.4 2.3-225.1 75.5-1.3-2.4z" color="#00e574"/><path d="M1808.8 281.6l1.3 2.4-225 75.5-1.4-2.4z" color="#00e57a"/><path d="M1810.1 284l1.3 2.3-225 75.5-1.3-2.3z" color="#00e680"/><path d="M1811.4 286.3l1.3 2.4-225 75.5-1.3-2.4z" color="#00e686"/><path d="M1812.7 288.7l1.3 2.4-225 75.5-1.3-2.4z" color="#00e78c"/><path d="M1814 291.1l1.3 2.3-225.1 75.5-1.2-2.3z" color="#00e892"/><path d="M1815.3 293.4l1.2 2.3-225 75.6-1.3-2.4z" color="#00e898"/><path d="M1816.5 295.7l1.2 2.4-225 75.6-1.2-2.4z" color="#00e99e"/><path d="M1817.7 298.1l1.2 2.3-225.1 75.6-1.1-2.3z" color="#00e9a4"/><path d="M1818.9 300.4l1.2 2.4-225.1 75.5-1.2-2.3z" color="#00eaaa"/><path d="M1820.1 302.8l1.1 2.2-225.1 75.6-1.1-2.3z" color="#00ebb0"/><path d="M1821.2 305l1.1 2.3-225.1 75.6-1.1-2.3z" color="#00ebb6"/><path d="M1822.3 307.3l1.1 2.3-225.1 75.7-1.1-2.4z" color="#00ecbc"/><path d="M1823.4 309.6l1.1 2.4-225.1 75.6-1.1-2.3z" color="#00ecc2"/><path d="M1824.5 312l1 2.3-225 75.6-1.1-2.3z" color="#00edc8"/><path d="M1825.5 314.3l1.1 2.3-225.1 75.7-1-2.4z" color="#00edce"/><path d="M1826.6 316.6l.9 2.3-225 75.7-1-2.3z" color="#00eed4"/><path d="M1827.5 318.9l1 2.3-225 75.7-1-2.3z" color="#00eeda"/><path d="M1828.5 321.2l1 2.3-225 75.7-1-2.3z" color="#00efe0"/><path d="M1829.5 323.5l1 2.3-225.1 75.7-.9-2.3z" color="#00efe6"/><path d="M1830.5 325.8l1 2.4-225.1 75.7-1-2.4z" color="#00f0ec"/><path d="M1831.5 328.2l.9 2.3-225 75.7-1-2.3z" color="#00eef0"/><path d="M1832.4 330.5l1 2.3-225 75.8-1-2.4z" color="#00e8f0"/><path d="M1833.4 332.8l1 2.3-225 75.8-1-2.3z" color="#00e2f0"/><path d="M1834.4 335.1l1 2.3-225.1 75.8-.9-2.3z" color="#00dcf0"/><path d="M1835.4 337.4l1 2.3-225.1 75.8-1-2.3z" color="#00d6f0"/><path d="M1836.4 339.7l.9 2.3-225 75.8-1-2.3z" color="#00d0f0"/><path d="M1837.3 342l1 2.2-225 75.8-1-2.2z" color="#00caf0"/><path d="M1838.3 344.2l1 2.3-225 75.8-1-2.3z" color="#00c4f0"/><path d="M1839.3 346.5l1 2.3-225.1 75.8-.9-2.3z" color="#00bef0"/><path d="M1840.3 348.8l1 2.2-225.1 75.9-1-2.3z" color="#00b8f0"/><path d="M1841.3 351l.9 2.3-225 75.9-1-2.3z" color="#00b2f0"/><path d="M1842.2 353.3l1 2.3-225 75.9-1-2.3z" color="#00acf0"/><path d="M1843.2 355.6l1 2.3-225 75.8-1-2.2z" color="#00a7f0"/><path d="M1844.2 357.9l1 2.2-225.1 75.9-.9-2.3z" color="#00a1f0"/><path d="M1845.2 360.1l1 2.3-225.1 75.9-1-2.3z" color="#009bf0"/><path d="M1846.2 362.4l.9 2.4-225 75.9-1-2.4z" color="#0095f0"/><path d="M1847.1 364.8l1 2.2-225.1 75.9-.9-2.2z" color="#008ff0"/><path d="M1848.1 367l.9 2.3-225.1 75.9-.9-2.3z" color="#0089f0"/><path d="M1849 369.3l.9 2.3-225.1 76-.9-2.4z" color="#0083f0"/><path d="M1849.9 371.6l.9 2.3-225 76-1-2.3z" color="#007df0"/><path d="M1850.8 373.9l.9 2.3-225 76-.9-2.3z" color="#0077f0"/><path d="M1851.7 376.2l1 2.3-225.1 76-.9-2.3z" color="#0071f0"/><path d="M1852.7 378.5l.9 2.2-225.1 76-.9-2.2z" color="#006bf0"/><path d="M1853.6 380.7l1 2.3-225.1 76-1-2.3z" color="#0065f0"/><path d="M1854.6 383l1 2.3-225.1 76-1-2.3z" color="#005ff0"/><path d="M1855.6 385.3l1.1 2.3-225.1 76.1-1.1-2.4z" color="#0058f0"/><path d="M1856.7 387.6l1.2 2.4-225 76.1-1.3-2.4z" color="#0052ef"/><path d="M1857.9 390l1.3 2.3-225.1 76.1-1.2-2.3z" color="#004cef"/><path d="M1859.2 392.3l1.3 2.3-225.1 76.1-1.3-2.3z" color="#0046ef"/><path d="M1860.5 394.6l1.3 2.4-225 76.1-1.4-2.4z" color="#0041ee"/><path d="M1861.8 397l1.5 2.4-225.1 76.1-1.4-2.4z" color="#003bee"/><path d="M1863.3 399.4l1.5 2.4-225.1 76.1-1.5-2.4z" color="#0035ed"/><path d="M1864.8 401.8l1.7 2.5-225.1 76.1-1.7-2.5z" color="#002fec"/><path d="M1866.5 404.3l1.8 2.4-225.1 76.2-1.8-2.5z" color="#0029ea"/><path d="M1868.3 406.7l2 2.6-225 76.2-2.1-2.6z" color="#0023e8"/><path d="M1870.3 409.3l2.3 2.6-225.1 76.2-2.2-2.6z" color="#001de5"/><path d="M1872.6 411.9l2.5 2.7-225 76.2-2.6-2.7z" color="#0017e1"/><path d="M1875.1 414.6l3 2.7-225 76.2-3-2.7z" color="#0011da"/><path d="M1878.1 417.3l3 2.5-225 76.2-3-2.5z" color="#000cd2"/><path d="M1881.1 419.8l3 2.1-225 76.2-3-2.1z" color="#0007c4"/><path d="M1884.1 421.9l3 1.7-225 76.2-3-1.7z" color="#0004b0"/><path d="M1887.1 423.6l.1 0-225 76.2-.1 0z" color="#0003a6"/></g>
<g stroke="#000" stroke-width="1.6" stroke-dasharray="4 3.5" fill="none"><line x1="1635.3" y1="353.3" x2="1640.3" y2="32.2"/><line x1="1635.3" y1="353.3" x2="1409" y2="429.2"/><line x1="1635.3" y1="353.3" x2="1887.2" y2="425.2"/></g>
<line x1="1405.2" y1="341.1" x2="1410.7" y2="341.1" stroke="#000" stroke-width="1.6"/><line x1="1407.2" y1="231.2" x2="1412.7" y2="231.2" stroke="#000" stroke-width="1.6"/><line x1="1409.2" y1="121.7" x2="1414.7" y2="121.7" stroke="#000" stroke-width="1.6"/><line x1="1409" y1="429.2" x2="1404.3" y2="430.8" stroke="#000" stroke-width="1.4"/><line x1="1493.5" y1="453.3" x2="1488.7" y2="454.9" stroke="#000" stroke-width="1.4"/><line x1="1577.8" y1="477.4" x2="1573.1" y2="479" stroke="#000" stroke-width="1.4"/><line x1="1662.2" y1="501.4" x2="1657.4" y2="503" stroke="#000" stroke-width="1.4"/><line x1="1887.2" y1="425.2" x2="1892" y2="426.6" stroke="#000" stroke-width="1.4"/><line x1="1842.3" y1="440.4" x2="1847.2" y2="441.8" stroke="#000" stroke-width="1.4"/><line x1="1797.4" y1="455.6" x2="1802.2" y2="457" stroke="#000" stroke-width="1.4"/><line x1="1752.4" y1="470.9" x2="1757.2" y2="472.2" stroke="#000" stroke-width="1.4"/><line x1="1707.3" y1="486.1" x2="1712.2" y2="487.5" stroke="#000" stroke-width="1.4"/><line x1="1662.2" y1="501.4" x2="1667" y2="502.8" stroke="#000" stroke-width="1.4"/>
<g font-family="DejaVu Sans, sans-serif" font-size="16.5" fill="#111" stroke="#111" stroke-width="0.35"><text x="1393.8" y="340.6" text-anchor="end">1.6</text><text x="1395.8" y="230.7" text-anchor="end">1.65</text><text x="1397.9" y="121.2" text-anchor="end">1.7</text><text x="1405.4" y="459.2" text-anchor="end">0.5</text><text x="1489.8" y="483.3" text-anchor="end">1</text><text x="1574.2" y="507.4" text-anchor="end">1.5</text><text x="1658.5" y="531.4" text-anchor="end">2</text><text x="1890.5" y="458.7">90</text><text x="1845.7" y="473.9">100</text><text x="1800.8" y="489.1">110</text><text x="1755.8" y="504.4">120</text><text x="1710.7" y="519.6">130</text><text x="1665.5" y="534.9">140</text></g>
<text x="1508.5" y="520.8" transform="rotate(16 1508.5 520.8)" text-anchor="middle" dominant-baseline="central" font-family="Liberation Sans, Arial, sans-serif" font-size="35">TiBase</text>
<text x="1822.7" y="510.3" transform="rotate(-18.5 1822.7 510.3)" text-anchor="middle" dominant-baseline="central" font-family="Liberation Sans, Arial, sans-serif" font-size="35">Taper</text>
<text x="1363" y="42.5" font-family="Liberation Sans, Arial, sans-serif" font-weight="bold" font-size="35">c</text>
</g>
<clipPath id="cd"><rect x="166.4" y="561" width="572.6" height="547.0"/></clipPath>
<g clip-path="url(#cd)">
<g stroke-linecap="square"><line x1="375.2" y1="930.7" x2="379.5" y2="599" stroke="#c6c6c6" stroke-width="1"/><line x1="375.2" y1="930.7" x2="618.9" y2="1000.5" stroke="#c6c6c6" stroke-width="1"/><line x1="297" y1="953.1" x2="301.2" y2="621.1" stroke="#c6c6c6" stroke-width="1"/><line x1="297" y1="953.1" x2="541.1" y2="1023" stroke="#c6c6c6" stroke-width="1"/><line x1="489.7" y1="918.8" x2="494.3" y2="587.6" stroke="#c6c6c6" stroke-width="1"/><line x1="489.7" y1="918.8" x2="255.3" y2="986.1" stroke="#c6c6c6" stroke-width="1"/><line x1="550.6" y1="936.2" x2="555.2" y2="605.2" stroke="#c6c6c6" stroke-width="1"/><line x1="550.6" y1="936.2" x2="316.5" y2="1003.6" stroke="#c6c6c6" stroke-width="1"/><line x1="611.4" y1="953.7" x2="616.1" y2="622.7" stroke="#c6c6c6" stroke-width="1"/><line x1="611.4" y1="953.7" x2="377.6" y2="1021.1" stroke="#c6c6c6" stroke-width="1"/><line x1="672.1" y1="971.1" x2="677" y2="640.3" stroke="#c6c6c6" stroke-width="1"/><line x1="672.1" y1="971.1" x2="438.7" y2="1038.6" stroke="#c6c6c6" stroke-width="1"/><line x1="219" y1="942.4" x2="453.7" y2="875.2" stroke="#c6c6c6" stroke-width="1"/><line x1="453.7" y1="875.2" x2="696.9" y2="945" stroke="#c6c6c6" stroke-width="1"/><line x1="220.1" y1="854" x2="454.9" y2="787.1" stroke="#c6c6c6" stroke-width="1"/><line x1="454.9" y1="787.1" x2="698.2" y2="857" stroke="#c6c6c6" stroke-width="1"/><line x1="221.2" y1="765.4" x2="456" y2="698.9" stroke="#c6c6c6" stroke-width="1"/><line x1="456" y1="698.9" x2="699.6" y2="769" stroke="#c6c6c6" stroke-width="1"/><line x1="222.2" y1="676.8" x2="457.2" y2="610.6" stroke="#c6c6c6" stroke-width="1"/><line x1="457.2" y1="610.6" x2="700.9" y2="680.8" stroke="#c6c6c6" stroke-width="1"/><line x1="218.6" y1="975.6" x2="222.7" y2="643.1" stroke="#c6c6c6" stroke-width="1"/><line x1="222.7" y1="643.1" x2="457.7" y2="577.1" stroke="#c6c6c6" stroke-width="1"/><line x1="457.7" y1="577.1" x2="701.4" y2="647.3" stroke="#c6c6c6" stroke-width="1"/><line x1="701.4" y1="647.3" x2="696.4" y2="978" stroke="#c6c6c6" stroke-width="1"/><line x1="218.6" y1="975.6" x2="463.1" y2="1045.6" stroke="#c6c6c6" stroke-width="1"/><line x1="463.1" y1="1045.6" x2="696.4" y2="978" stroke="#c6c6c6" stroke-width="1"/></g>
<g stroke="#000" stroke-linecap="round"><line x1="453.2" y1="908.3" x2="457.7" y2="577.1" stroke-width="4.4"/><line x1="453.2" y1="908.3" x2="218.6" y2="975.6" stroke-width="5.2"/><line x1="453.2" y1="908.3" x2="696.4" y2="978" stroke-width="5.2"/></g>
<g class="s"><path d="M453.2 908.3l4.4 1.2-6.5 1.9-4.4-1.4z" color="#00006d"/><path d="M457.6 909.5l4.3 1.3-6.5 1.9-4.3-1.3z" color="#00006c"/><path d="M446.7 910l4.4 1.4-6.5 1.9-4.4-1.3z" color="#000074"/><path d="M461.9 910.8l4.4 1.2-6.5 1.9-4.4-1.2z" color="#00006c"/><path d="M451.1 911.4l4.3 1.3-6.5 1.8-4.3-1.2z" color="#00006c"/><path d="M466.3 912l4.3 1.3-6.5 1.8-4.3-1.2z" color="#00006c"/><path d="M440.2 912l4.4 1.3-6.5 1.8-4.4-1.2z" color="#00006c"/><path d="M455.4 912.7l4.4 1.2-6.5 1.9-4.4-1.3z" color="#00006c"/><path d="M470.6 913.3l4.4 1.2-6.5 1.9-4.4-1.3z" color="#00006c"/><path d="M444.6 913.3l4.3 1.2-6.5 1.9-4.3-1.3z" color="#00006c"/><path d="M459.8 913.9l4.3 1.2-6.5 1.9-4.3-1.2z" color="#00006c"/><path d="M433.7 913.9l4.4 1.2-6.5 1.9-4.3-1.2z" color="#00006c"/><path d="M475 914.5l4.3 1.3-6.5 1.8-4.3-1.2z" color="#00006c"/><path d="M448.9 914.5l4.4 1.3-6.5 1.8-4.4-1.2z" color="#00006c"/><path d="M464.1 915.1l4.4 1.3-6.5 1.9-4.4-1.3z" color="#00006c"/><path d="M438.1 915.1l4.3 1.3-6.4 1.8-4.4-1.2z" color="#00006c"/><path d="M479.3 915.8l4.4 1.2-6.5 1.9-4.4-1.3z" color="#00006c"/><path d="M453.3 915.8l4.3 1.2-6.5 1.9-4.3-1.3z" color="#00006c"/><path d="M427.3 915.8l4.3 1.2-6.5 1.9-4.3-1.3z" color="#00006c"/><path d="M468.5 916.4l4.3 1.2-6.5 1.9-4.3-1.2z" color="#00006c"/><path d="M442.4 916.4l4.4 1.2-6.5 1.9-4.3-1.3z" color="#00006c"/><path d="M483.7 917l4.3 1.3-6.5 1.8-4.3-1.2z" color="#00006c"/><path d="M457.6 917l4.4 1.3-6.5 1.8-4.4-1.2z" color="#00006c"/><path d="M431.6 917l4.4 1.2-6.5 1.9-4.4-1.2z" color="#00006c"/><path d="M472.8 917.6l4.4 1.3-6.5 1.9-4.4-1.3z" color="#00006c"/><path d="M446.8 917.6l4.3 1.3-6.4 1.4-4.4-.8z" color="#000056"/><path d="M488 918.3l4.3 1.2-6.4 1.9-4.4-1.3z" color="#00006c"/><path d="M420.8 917.6l4.3 1.3-6.5 1.5-4.3-.9z" color="#00005b"/><path d="M462 918.3l4.3 1.2-6.5 1.4-4.3-.8z" color="#000055"/><path d="M436 918.2l4.3 1.3-6.5 1.1-4.3-.5z" color="#000053"/><path d="M477.2 918.9l4.3 1.2-6.5 1.9-4.3-1.2z" color="#00006c"/><path d="M451.1 918.9l4.4 1.2-6.5 .1-4.3 .1z" color="#000175"/><path d="M492.3 919.5l4.4 1.3-6.5 1.8-4.3-1.2z" color="#00006c"/><path d="M425.1 918.9l4.4 1.2-6.5 .8-4.4-.5z" color="#00005d"/><path d="M466.3 919.5l4.4 1.3-6.5-.3-4.4 .4z" color="#000180"/><path d="M440.3 919.5l4.4 .8-6.5 .2-4.4 .1z" color="#000181"/><path d="M481.5 920.1l4.4 1.3-6.5 .3-4.4 .3z" color="#000171"/><path d="M414.3 919.5l4.3 .9-6.5-.2-4.3-1z" color="#00027f"/><path d="M455.5 920.1l4.3 .8-6.4-1.2-4.4 .5z" color="#0003a1"/><path d="M496.7 920.8l4.3 1.2-6.4 .9-4.4-.3z" color="#000059"/><path d="M429.5 920.1l4.3 .5-6.5 .3-4.3 0z" color="#000286"/><path d="M470.7 920.8l4.3 1.2-6.4-2.3-4.4 .8z" color="#0003aa"/><path d="M444.7 920.3l4.3-.1-6.4-.2-4.4 .5z" color="#0004a5"/><path d="M485.9 921.4l4.3 1.2-6.4-2.2-4.4 1.3z" color="#0003ad"/><path d="M418.6 920.4l4.4 .5-6.5-.2-4.4-.5z" color="#000391"/><path d="M459.8 920.9l4.4-.4-6.4-1.6-4.4 .8z" color="#0007bf"/><path d="M501 922l4.4 1.3-6.4-2.5-4.4 2.1z" color="#0003b3"/><path d="M433.8 920.6l4.4-.1-6.5 .1-4.4 .3z" color="#00049e"/><path d="M475 922l4.4-.3-6.4-3.1-4.4 1.1z" color="#0008cd"/><path d="M407.8 919.2l4.3 1-6.4-1.5-4.4-1.2z" color="#000796"/><path d="M449 920.2l4.4-.5-6.5-.6-4.3 .9z" color="#0008b3"/><path d="M490.2 922.6l4.4 .3-6.4-4.2-4.4 1.7z" color="#0008d0"/><path d="M423 920.9l4.3 0-6.4-.3-4.4 .1z" color="#0005a0"/><path d="M464.2 920.5l4.4-.8-6.4-1.9-4.4 1.1z" color="#000cc8"/><path d="M505.4 923.3l4.3-.2-6.3-4.7-4.4 2.4z" color="#0009da"/><path d="M438.2 920.5l4.4-.5-6.5-.2-4.4 .8z" color="#0008ac"/><path d="M479.4 921.7l4.4-1.3-6.4-3.3-4.4 1.5z" color="#000ed8"/><path d="M412.1 920.2l4.4 .5-6.5-1.4-4.3-.6z" color="#0009a5"/><path d="M453.4 919.7l4.4-.8-6.5-.9-4.4 1.1z" color="#000dbe"/><path d="M494.6 922.9l4.4-2.1-6.4-4.1-4.4 2z" color="#0010e3"/><path d="M427.3 920.9l4.4-.3-6.5-.4-4.3 .4z" color="#0009ac"/><path d="M468.6 919.7l4.4-1.1-6.5-2.2-4.3 1.4z" color="#0012cf"/><path d="M401.3 917.5l4.4 1.2-6.4-3.3-4.4-1.4z" color="#0011a3"/><path d="M509.7 923.1l4.5-3.2-6.4-4.3-4.4 2.8z" color="#0114e9"/><path d="M442.6 920l4.3-.9-6.4-.4-4.4 1.1z" color="#000db6"/><path d="M483.8 920.4l4.4-1.7-6.5-3.3-4.3 1.7z" color="#0016dc"/><path d="M416.5 920.7l4.4-.1-6.5-1.3-4.4 0z" color="#000cb1"/><path d="M457.8 918.9l4.4-1.1-6.5-1.2-4.4 1.4z" color="#0014c6"/><path d="M499 920.8l4.4-2.4-6.4-3.9-4.4 2.2z" color="#011ae4"/><path d="M431.7 920.6l4.4-.8-6.5-.5-4.4 .9z" color="#000db6"/><path d="M473 918.6l4.4-1.5-6.5-2.3-4.4 1.6z" color="#001ad4"/><path d="M405.7 918.7l4.3 .6-6.4-3-4.3-.9z" color="#0012b1"/><path d="M514.2 919.9l4.4-3.4-6.4-3.9-4.4 3z" color="#0120e8"/><path d="M446.9 919.1l4.4-1.1-6.4-.7-4.4 1.4z" color="#0013bf"/><path d="M488.2 918.7l4.4-2-6.5-3.3-4.4 2z" color="#001edf"/><path d="M420.9 920.6l4.3-.4-6.4-1.3-4.4 .4z" color="#0010bb"/><path d="M462.2 917.8l4.3-1.4-6.4-1.5-4.4 1.7z" color="#001bcd"/><path d="M394.9 914l4.4 1.4-6.5-5.4-4.3-1.8z" color="#001eab"/><path d="M503.4 918.4l4.4-2.8-6.4-3.7-4.4 2.6z" color="#0124e5"/><path d="M436.1 919.8l4.4-1.1-6.5-.6-4.4 1.2z" color="#0013be"/><path d="M477.4 917.1l4.3-1.7-6.4-2.6-4.4 2z" color="#0022d8"/><path d="M410 919.3l4.4 0-6.4-2.7-4.4-.3z" color="#0015bd"/><path d="M518.6 916.5l4.4-3.7-6.4-3.4-4.4 3.2z" color="#012de7"/><path d="M451.3 918l4.4-1.4-6.5-1-4.3 1.7z" color="#001ac6"/><path d="M492.6 916.7l4.4-2.2-6.5-3.4-4.4 2.3z" color="#0028e1"/><path d="M425.2 920.2l4.4-.9-6.4-1.2-4.4 .8z" color="#0015c2"/><path d="M466.5 916.4l4.4-1.6-6.4-1.8-4.4 1.9z" color="#0023d2"/><path d="M399.3 915.4l4.3 .9-6.4-5.1-4.4-1.2z" color="#0020b7"/><path d="M507.8 915.6l4.4-3-6.4-3.5-4.4 2.8z" color="#012fe5"/><path d="M440.5 918.7l4.4-1.4-6.5-.8-4.4 1.6z" color="#001ac4"/><path d="M481.7 915.4l4.4-2-6.4-2.7-4.4 2.1z" color="#002bdb"/><path d="M414.4 919.3l4.4-.4-6.5-2.5-4.3 .2z" color="#001ac5"/><path d="M523 912.8l4.4-3.8-6.4-3.1-4.4 3.5z" color="#0139e5"/><path d="M455.7 916.6l4.4-1.7-6.5-1.2-4.4 1.9z" color="#0022cc"/><path d="M388.5 908.2l4.3 1.8-6.3-7.8-4.4-2.2z" color="#0031af"/><path d="M497 914.5l4.4-2.6-6.5-3.3-4.4 2.5z" color="#0032e2"/><path d="M429.6 919.3l4.4-1.2-6.4-1.2-4.4 1.2z" color="#001bc7"/><path d="M470.9 914.8l4.4-2-6.4-2-4.4 2.2z" color="#002cd5"/><path d="M403.6 916.3l4.4 .3-6.4-4.7-4.4-.7z" color="#0023c1"/><path d="M512.2 912.6l4.4-3.2-6.4-3.3-4.4 3z" color="#013be5"/><path d="M444.9 917.3l4.3-1.7-6.4-.9-4.4 1.8z" color="#0021c9"/><path d="M486.1 913.4l4.4-2.3-6.4-2.8-4.4 2.4z" color="#0034dd"/><path d="M418.8 918.9l4.4-.8-6.5-2.4-4.4 .7z" color="#001fcc"/><path d="M527.4 909l4.4-3.8-6.4-2.8-4.4 3.5z" color="#0046e3"/><path d="M460.1 914.9l4.4-1.9-6.5-1.5-4.4 2.2z" color="#002bd0"/><path d="M392.8 910l4.4 1.2-6.4-7.4-4.3-1.6z" color="#0033b8"/><path d="M501.4 911.9l4.4-2.8-6.5-3.1-4.4 2.6z" color="#003de2"/><path d="M434 918.1l4.4-1.6-6.5-1.2-4.3 1.6z" color="#0022cb"/><path d="M475.3 912.8l4.4-2.1-6.4-2.2-4.4 2.3z" color="#0035d9"/><path d="M408 916.6l4.3-.2-6.4-4.4-4.3-.1z" color="#0027ca"/><path d="M516.6 909.4l4.4-3.5-6.4-3-4.4 3.2z" color="#0047e4"/><path d="M449.2 915.6l4.4-1.9-6.4-1.1-4.4 2.1z" color="#002acd"/><path d="M382.1 900l4.4 2.2-6.4-10.7-4.3-2.5z" color="#004ab2"/><path d="M490.5 911.1l4.4-2.5-6.4-2.8-4.4 2.5z" color="#003fdf"/><path d="M423.2 918.1l4.4-1.2-6.5-2.3-4.4 1.1z" color="#0025d0"/><path d="M531.8 905.2l4.4-3.8-6.4-2.6-4.4 3.6z" color="#0053e2"/><path d="M464.5 913l4.4-2.2-6.5-1.6-4.4 2.3z" color="#0035d4"/><path d="M397.2 911.2l4.4 .7-6.4-7-4.4-1.1z" color="#0036c1"/><path d="M505.8 909.1l4.4-3-6.5-3-4.4 2.9z" color="#0048e2"/><path d="M438.4 916.5l4.4-1.8-6.5-1.3-4.4 1.9z" color="#002acf"/><path d="M479.7 910.7l4.4-2.4-6.4-2.3-4.4 2.5z" color="#003fdb"/><path d="M412.3 916.4l4.4-.7-6.4-4-4.4 .3z" color="#002dd1"/><path d="M521 905.9l4.4-3.5-6.4-2.8-4.4 3.3z" color="#0053e3"/><path d="M453.6 913.7l4.4-2.2-6.4-1.3-4.4 2.4z" color="#0033d1"/><path d="M386.5 902.2l4.3 1.6-6.3-10.3-4.4-2z" color="#004bb8"/><path d="M494.9 908.6l4.4-2.6-6.4-2.9-4.4 2.7z" color="#0049e0"/><path d="M427.6 916.9l4.3-1.6-6.4-2.1-4.4 1.4z" color="#002cd3"/><path d="M536.2 901.4l4.4-3.8-6.4-2.5-4.4 3.7z" color="#0060e1"/><path d="M468.9 910.8l4.4-2.3-6.5-1.9-4.4 2.6z" color="#003fd7"/><path d="M401.6 911.9l4.3 .1-6.4-6.4-4.3-.7z" color="#0039c9"/><path d="M510.2 906.1l4.4-3.2-6.5-2.8-4.4 3z" color="#0054e2"/><path d="M442.8 914.7l4.4-2.1-6.5-1.4-4.4 2.2z" color="#0032d1"/><path d="M375.8 889l4.3 2.5-6.3-13.7-4.3-2.8z" color="#006ab4"/><path d="M484.1 908.3l4.4-2.5-6.4-2.5-4.4 2.7z" color="#004add"/><path d="M416.7 915.7l4.4-1.1-6.4-3.6-4.4 .7z" color="#0033d6"/><path d="M525.4 902.4l4.4-3.6-6.4-2.6-4.4 3.4z" color="#0060e2"/><path d="M458 911.5l4.4-2.3-6.4-1.5-4.4 2.5z" color="#003dd4"/><path d="M390.8 903.8l4.4 1.1-6.4-9.7-4.3-1.7z" color="#004dbe"/><path d="M499.3 906l4.4-2.9-6.4-2.8-4.4 2.8z" color="#0055e1"/><path d="M431.9 915.3l4.4-1.9-6.4-2-4.4 1.8z" color="#0034d5"/><path d="M540.6 897.6l4.5-3.6-6.5-2.5-4.4 3.6z" color="#006de0"/><path d="M473.3 908.5l4.4-2.5-6.5-2.1-4.4 2.7z" color="#0049d9"/><path d="M405.9 912l4.4-.3-6.4-5.9-4.4-.2z" color="#003ecf"/><path d="M514.6 902.9l4.4-3.3-6.4-2.7-4.5 3.2z" color="#0060e2"/><path d="M447.2 912.6l4.4-2.4-6.5-1.5-4.4 2.5z" color="#003cd3"/><path d="M380.1 891.5l4.4 2-6.3-13.2-4.4-2.5z" color="#006ab8"/><path d="M488.5 905.8l4.4-2.7-6.4-2.5-4.4 2.7z" color="#0055de"/><path d="M421.1 914.6l4.4-1.4-6.4-3.4-4.4 1.2z" color="#003ad9"/><path d="M529.8 898.8l4.4-3.7-6.4-2.4-4.4 3.5z" color="#006ce1"/><path d="M462.4 909.2l4.4-2.6-6.4-1.6-4.4 2.7z" color="#0048d6"/><path d="M395.2 904.9l4.3 .7-6.3-9.1-4.4-1.3z" color="#0050c4"/><path d="M503.7 903.1l4.4-3-6.4-2.8-4.4 3z" color="#0060e1"/><path d="M436.3 913.4l4.4-2.2-6.4-1.9-4.4 2.1z" color="#003dd7"/><path d="M545.1 894l4.4-3.3-6.5-2.6-4.4 3.4z" color="#007ae0"/><path d="M369.5 875l4.3 2.8-6.3-15.9-4.3-2.9z" color="#0090b5"/><path d="M477.7 906l4.4-2.7-6.5-2.1-4.4 2.7z" color="#0054db"/><path d="M410.3 911.7l4.4-.7-6.4-5.5-4.4 .3z" color="#0044d5"/><path d="M519 899.6l4.4-3.4-6.4-2.6-4.4 3.3z" color="#006ce1"/><path d="M451.6 910.2l4.4-2.5-6.5-1.6-4.4 2.6z" color="#0046d5"/><path d="M384.5 893.5l4.3 1.7-6.3-12.7-4.3-2.2z" color="#006abb"/><path d="M492.9 903.1l4.4-2.8-6.4-2.6-4.4 2.9z" color="#0060df"/><path d="M425.5 913.2l4.4-1.8-6.4-3.1-4.4 1.5z" color="#0041db"/><path d="M534.2 895.1l4.4-3.6-6.4-2.3-4.4 3.5z" color="#0079e0"/><path d="M466.8 906.6l4.4-2.7-6.4-1.8-4.4 2.9z" color="#0053d8"/><path d="M399.5 905.6l4.4 .2-6.4-8.4-4.3-.9z" color="#0053ca"/><path d="M508.1 900.1l4.5-3.2-6.5-2.7-4.4 3.1z" color="#006be0"/><path d="M440.7 911.2l4.4-2.5-6.4-1.8-4.4 2.4z" color="#0046d7"/><path d="M549.5 890.7l4.4-3.1-6.4-2.6-4.5 3.1z" color="#0086e0"/><path d="M373.8 877.8l4.4 2.5-6.3-15.4-4.4-3z" color="#008db6"/><path d="M482.1 903.3l4.4-2.7-6.4-2.3-4.5 2.9z" color="#005fdc"/><path d="M414.7 911l4.4-1.2-6.4-4.9-4.4 .6z" color="#004ad9"/><path d="M523.4 896.2l4.4-3.5-6.4-2.5-4.4 3.4z" color="#0078e0"/><path d="M456 907.7l4.4-2.7-6.5-1.7-4.4 2.8z" color="#0051d6"/><path d="M388.8 895.2l4.4 1.3-6.4-11.9-4.3-2.1z" color="#006abe"/><path d="M497.3 900.3l4.4-3-6.4-2.6-4.4 3z" color="#006bdf"/><path d="M429.9 911.4l4.4-2.1-6.4-2.8-4.4 1.8z" color="#004adc"/><path d="M538.6 891.5l4.4-3.4-6.4-2.3-4.4 3.4z" color="#0085df"/><path d="M363.2 859l4.3 2.9-6.2-16.7-4.4-3z" color="#00b5b3"/><path d="M471.2 903.9l4.4-2.7-6.4-2-4.4 2.9z" color="#005eda"/><path d="M403.9 905.8l4.4-.3-6.4-7.6-4.4-.5z" color="#0057cf"/><path d="M512.6 896.9l4.4-3.3-6.5-2.5-4.4 3.1z" color="#0077e0"/><path d="M445.1 908.7l4.4-2.6-6.4-1.7-4.4 2.5z" color="#0050d8"/><path d="M553.9 887.6l4.4-2.6-6.4-2.8-4.4 2.8z" color="#0091df"/><path d="M378.2 880.3l4.3 2.2-6.3-14.7-4.3-2.9z" color="#008ab7"/><path d="M486.5 900.6l4.4-2.9-6.4-2.3-4.4 2.9z" color="#006bdd"/><path d="M419.1 909.8l4.4-1.5-6.5-4.3-4.3 .9z" color="#0051dc"/><path d="M527.8 892.7l4.4-3.5-6.4-2.3-4.4 3.3z" color="#0084df"/><path d="M460.4 905l4.4-2.9-6.4-1.6-4.5 2.8z" color="#005cd8"/><path d="M393.2 896.5l4.3 .9-6.3-11-4.4-1.8z" color="#006cc2"/><path d="M501.7 897.3l4.4-3.1-6.4-2.4-4.4 2.9z" color="#0077df"/><path d="M434.3 909.3l4.4-2.4-6.5-2.4-4.3 2z" color="#0053dc"/><path d="M543 888.1l4.5-3.1-6.5-2.3-4.4 3.1z" color="#0090de"/><path d="M367.5 861.9l4.4 3-6.3-16.5-4.3-3.2z" color="#00b2b3"/><path d="M475.6 901.2l4.5-2.9-6.5-2-4.4 2.9z" color="#0069db"/><path d="M408.3 905.5l4.4-.6-6.4-6.8-4.4-.2z" color="#005cd3"/><path d="M517 893.6l4.4-3.4-6.4-2.3-4.5 3.2z" color="#0083df"/><path d="M449.5 906.1l4.4-2.8-6.4-1.7-4.4 2.8z" color="#005ad8"/><path d="M558.3 885l4.4-2.1-6.4-3-4.4 2.3z" color="#009ade"/><path d="M382.5 882.5l4.3 2.1-6.3-14-4.3-2.8z" color="#0088b7"/><path d="M490.9 897.7l4.4-3-6.4-2.3-4.4 3z" color="#0076de"/><path d="M423.5 908.3l4.4-1.8-6.5-3.8-4.4 1.3z" color="#0059de"/><path d="M532.2 889.2l4.4-3.4-6.4-2.1-4.4 3.2z" color="#008fdd"/><path d="M356.9 842.2l4.4 3-6.3-16.6-4.4-2.9z" color="#00b28a"/><path d="M464.8 902.1l4.4-2.9-6.4-1.7-4.4 3z" color="#0067d9"/><path d="M397.5 897.4l4.4 .5-6.4-10-4.3-1.5z" color="#006ec5"/><path d="M506.1 894.2l4.4-3.1-6.4-2.4-4.4 3.1z" color="#0082df"/><path d="M438.7 906.9l4.4-2.5-6.5-2.2-4.4 2.3z" color="#005cdb"/><path d="M547.5 885l4.4-2.8-6.5-2.3-4.4 2.8z" color="#009bdd"/><path d="M371.9 864.9l4.3 2.9-6.3-15.9-4.3-3.5z" color="#00abb1"/><path d="M480.1 898.3l4.4-2.9-6.5-2.1-4.4 3z" color="#0075db"/><path d="M412.7 904.9l4.3-.9-6.4-6-4.3 .1z" color="#0062d7"/><path d="M521.4 890.2l4.4-3.3-6.4-2.1-4.4 3.1z" color="#008ede"/><path d="M453.9 903.3l4.5-2.8-6.5-1.7-4.4 2.8z" color="#0065d8"/><path d="M562.7 882.9l4.3-1.6-6.4-3.1-4.3 1.7z" color="#00a0da"/><path d="M386.8 884.6l4.4 1.8-6.3-13-4.4-2.8z" color="#0086b8"/><path d="M495.3 894.7l4.4-2.9-6.4-2.3-4.4 2.9z" color="#0081dd"/><path d="M427.9 906.5l4.3-2-6.4-3.3-4.4 1.5z" color="#0061de"/><path d="M536.6 885.8l4.4-3.1-6.4-2-4.4 3z" color="#009adc"/><path d="M361.3 845.2l4.3 3.2-6.3-16.3-4.3-3.5z" color="#00ad8a"/><path d="M469.2 899.2l4.4-2.9-6.4-1.8-4.4 3z" color="#0072d9"/><path d="M401.9 897.9l4.4 .2-6.4-9-4.4-1.2z" color="#0070c8"/><path d="M510.5 891.1l4.5-3.2-6.5-2.2-4.4 3z" color="#008dde"/><path d="M443.1 904.4l4.4-2.8-6.4-1.9-4.5 2.5z" color="#0065da"/><path d="M551.9 882.2l4.4-2.3-6.5-2.3-4.4 2.3z" color="#00a3db"/><path d="M376.2 867.8l4.3 2.8-6.3-15-4.3-3.7z" color="#00a5af"/><path d="M484.5 895.4l4.4-3-6.5-2.1-4.4 3z" color="#0080dc"/><path d="M417 904l4.4-1.3-6.4-5.2-4.4 .5z" color="#0069da"/><path d="M525.8 886.9l4.4-3.2-6.4-1.9-4.4 3z" color="#0098dc"/><path d="M350.6 825.7l4.4 2.9-6.3-15.3-4.4-2.7z" color="#00ae63"/><path d="M458.4 900.5l4.4-3-6.5-1.6-4.4 2.9z" color="#0070d8"/><path d="M567 881.3l4.4-.9-6.4-3.3-4.4 1.1z" color="#00a2d4"/><path d="M391.2 886.4l4.3 1.5-6.3-11.8-4.3-2.7z" color="#0084b8"/><path d="M499.7 891.8l4.4-3.1-6.4-2.2-4.4 3z" color="#008cdd"/><path d="M432.2 904.5l4.4-2.3-6.4-2.8-4.4 1.8z" color="#0069de"/><path d="M541 882.7l4.4-2.8-6.4-1.9-4.4 2.7z" color="#00a3da"/><path d="M365.6 848.4l4.3 3.5-6.3-15.8-4.3-4z" color="#00a88b"/><path d="M473.6 896.3l4.4-3-6.4-1.8-4.4 3z" color="#007ed9"/><path d="M406.3 898.1l4.3-.1-6.3-7.9-4.4-1z" color="#0074cb"/><path d="M515 887.9l4.4-3.1-6.5-2-4.4 2.9z" color="#0098dc"/><path d="M447.5 901.6l4.4-2.8-6.4-1.7-4.4 2.6z" color="#006fd9"/><path d="M556.3 879.9l4.3-1.7-6.4-2.4-4.4 1.8z" color="#00a9d7"/><path d="M380.5 870.6l4.4 2.8-6.3-14-4.4-3.8z" color="#009fad"/><path d="M488.9 892.4l4.4-2.9-6.5-2.1-4.4 2.9z" color="#008bdb"/><path d="M421.4 902.7l4.4-1.5-6.4-4.4-4.4 .7z" color="#0070dc"/><path d="M530.2 883.7l4.4-3-6.4-1.8-4.4 2.9z" color="#00a2da"/><path d="M355 828.6l4.3 3.5-6.3-15.1-4.3-3.7z" color="#00a562"/><path d="M462.8 897.5l4.4-3-6.5-1.6-4.4 3z" color="#007bd8"/><path d="M571.4 880.4l4.4-.2-6.4-3.5-4.4 .4z" color="#009ec9"/><path d="M395.5 887.9l4.4 1.2-6.3-10.6-4.4-2.4z" color="#0083b9"/><path d="M504.1 888.7l4.4-3-6.4-2-4.4 2.8z" color="#0097dc"/><path d="M436.6 902.2l4.5-2.5-6.5-2.3-4.4 2z" color="#0071dc"/><path d="M545.4 879.9l4.4-2.3-6.4-1.9-4.4 2.3z" color="#00abd7"/><path d="M369.9 851.9l4.3 3.7-6.2-15-4.4-4.5z" color="#00a38c"/><path d="M478 893.3l4.4-3-6.4-1.8-4.4 3z" color="#0089d9"/><path d="M410.6 898l4.4-.5-6.4-6.7-4.3-.7z" color="#0078ce"/><path d="M519.4 884.8l4.4-3-6.5-1.8-4.4 2.8z" color="#00a1da"/><path d="M344.3 810.6l4.4 2.7-6.3-12.7-4.4-2.4z" color="#00a940"/><path d="M451.9 898.8l4.4-2.9-6.4-1.6-4.4 2.8z" color="#0079d7"/><path d="M560.6 878.2l4.4-1.1-6.4-2.5-4.4 1.2z" color="#00acd1"/><path d="M384.9 873.4l4.3 2.7-6.3-12.8-4.3-3.9z" color="#0099ab"/><path d="M493.3 889.5l4.4-3-6.5-1.9-4.4 2.8z" color="#0096db"/><path d="M425.8 901.2l4.4-1.8-6.4-3.6-4.4 1z" color="#0077dc"/><path d="M534.6 880.7l4.4-2.7-6.4-1.6-4.4 2.5z" color="#00abd7"/><path d="M359.3 832.1l4.3 4-6.3-14.7-4.3-4.4z" color="#009c62"/><path d="M467.2 894.5l4.4-3-6.5-1.6-4.4 3z" color="#0086d7"/><path d="M575.8 880.2l4.3 .6-6.4-3.6-4.3-.5z" color="#0094b9"/><path d="M399.9 889.1l4.4 1-6.4-9.3-4.3-2.3z" color="#0083bb"/><path d="M508.5 885.7l4.4-2.9-6.4-1.9-4.4 2.8z" color="#00a0da"/><path d="M441.1 899.7l4.4-2.6-6.5-1.9-4.4 2.2z" color="#0079da"/><path d="M549.8 877.6l4.4-1.8-6.4-1.9-4.4 1.8z" color="#00b1d4"/><path d="M374.2 855.6l4.4 3.8-6.3-14-4.3-4.8z" color="#009e8d"/><path d="M482.4 890.3l4.4-2.9-6.4-1.8-4.4 2.9z" color="#0093d9"/><path d="M415 897.5l4.4-.7-6.4-5.6-4.4-.4z" color="#007dd1"/><path d="M523.8 881.8l4.4-2.9-6.5-1.5-4.4 2.6z" color="#00aad7"/><path d="M348.7 813.3l4.3 3.7-6.3-12.8-4.3-3.6z" color="#009b3e"/><path d="M456.3 895.9l4.4-3-6.4-1.4-4.4 2.8z" color="#0083d6"/><path d="M565 877.1l4.4-.4-6.4-2.6-4.4 .5z" color="#00a8c7"/><path d="M389.2 876.1l4.4 2.4-6.4-11.4-4.3-3.8z" color="#0093a9"/><path d="M497.7 886.5l4.4-2.8-6.4-1.9-4.5 2.8z" color="#009fda"/><path d="M430.2 899.4l4.4-2-6.4-2.9-4.4 1.3z" color="#007edb"/><path d="M539 878l4.4-2.3-6.4-1.5-4.4 2.2z" color="#00b2d4"/><path d="M363.6 836.1l4.4 4.5-6.4-14.1-4.3-5.1z" color="#009563"/><path d="M471.6 891.5l4.4-3-6.5-1.5-4.4 2.9z" color="#0090d7"/><path d="M580.1 880.8l4.4 1.3-6.4-3.7-4.4-1.2z" color="#0087a8"/><path d="M404.3 890.1l4.3 .7-6.4-8-4.3-2z" color="#0084bc"/><path d="M512.9 882.8l4.4-2.8-6.4-1.7-4.4 2.6z" color="#00a9d8"/><path d="M338 798.2l4.4 2.4-6.4-9.4-4.4-1.9z" color="#00a424"/><path d="M445.5 897.1l4.4-2.8-6.5-1.5-4.4 2.4z" color="#0082d7"/><path d="M554.2 875.8l4.4-1.2-6.4-2-4.4 1.3z" color="#00b3ce"/><path d="M378.6 859.4l4.3 3.9-6.3-13-4.3-4.9z" color="#009a8e"/><path d="M486.8 887.4l4.4-2.8-6.4-1.8-4.4 2.8z" color="#009ed8"/><path d="M419.4 896.8l4.4-1-6.4-4.6-4.4 0z" color="#0082d3"/><path d="M528.2 878.9l4.4-2.5-6.5-1.4-4.4 2.4z" color="#00b1d4"/><path d="M353 817l4.3 4.4-6.3-12.6-4.3-4.6z" color="#008f3e"/><path d="M460.7 892.9l4.4-3-6.4-1.2-4.4 2.8z" color="#008cd5"/><path d="M569.4 876.7l4.3 .5-6.4-2.8-4.3-.3z" color="#009db6"/><path d="M393.6 878.5l4.3 2.3-6.3-10.1-4.4-3.6z" color="#008ea7"/><path d="M502.1 883.7l4.4-2.8-6.4-1.6-4.4 2.5z" color="#00a8d8"/><path d="M434.6 897.4l4.4-2.2-6.4-2.2-4.4 1.5z" color="#0084d9"/><path d="M543.4 875.7l4.4-1.8-6.4-1.5-4.4 1.8z" color="#00b6d0"/><path d="M368 840.6l4.3 4.8-6.3-13.3-4.4-5.6z" color="#008d64"/><path d="M476 888.5l4.4-2.9-6.5-1.5-4.4 2.9z" color="#009ad6"/><path d="M584.5 882.1l4.3 1.9-6.4-3.9-4.3-1.7z" color="#007b99"/><path d="M408.6 890.8l4.4 .4-6.4-6.6-4.4-1.8z" color="#0085be"/><path d="M517.3 880l4.4-2.6-6.4-1.5-4.4 2.4z" color="#00b1d5"/><path d="M342.4 800.6l4.3 3.6-6.4-9.6-4.3-3.4z" color="#008f22"/><path d="M449.9 894.3l4.4-2.8-6.5-1.2-4.4 2.5z" color="#008ad4"/><path d="M558.6 874.6l4.4-.5-6.5-2-4.3 .5z" color="#00afc4"/><path d="M382.9 863.3l4.3 3.8-6.3-11.7-4.3-5.1z" color="#009590"/><path d="M491.2 884.6l4.5-2.8-6.5-1.6-4.4 2.6z" color="#00a7d7"/><path d="M423.8 895.8l4.4-1.3-6.5-3.5-4.3 .2z" color="#0088d4"/><path d="M532.6 876.4l4.4-2.2-6.5-1.3-4.4 2.1z" color="#00b7d1"/><path d="M357.3 821.4l4.3 5.1-6.3-12.2-4.3-5.5z" color="#00843f"/><path d="M465.1 889.9l4.4-2.9-6.4-1.2-4.4 2.9z" color="#0096d4"/><path d="M573.7 877.2l4.4 1.2-6.4-3-4.4-1z" color="#008fa5"/><path d="M397.9 880.8l4.3 2-6.3-8.6-4.3-3.5z" color="#008aa5"/><path d="M506.5 880.9l4.4-2.6-6.4-1.5-4.4 2.5z" color="#00b1d6"/><path d="M331.6 789.3l4.4 1.9-6.4-6.2-4.4-1.4z" color="#009e10"/><path d="M439 895.2l4.4-2.4-6.4-1.6-4.4 1.8z" color="#008ad5"/><path d="M547.8 873.9l4.4-1.3-6.5-1.4-4.3 1.2z" color="#00b8ca"/><path d="M372.3 845.4l4.3 4.9-6.3-12.3-4.3-5.9z" color="#008665"/><path d="M480.4 885.6l4.4-2.8-6.4-1.4-4.5 2.7z" color="#00a4d5"/><path d="M588.8 884l4.4 2.2-6.4-4-4.4-2.1z" color="#00718f"/><path d="M413 891.2l4.4 0-6.4-5.2-4.4-1.4z" color="#0087c0"/><path d="M521.7 877.4l4.4-2.4-6.4-1.3-4.4 2.2z" color="#00b8d2"/><path d="M346.7 804.2l4.3 4.6-6.4-9.6-4.3-4.6z" color="#007d22"/><path d="M454.3 891.5l4.4-2.8-6.5-1-4.4 2.6z" color="#0092d2"/><path d="M563 874.1l4.3 .3-6.4-2.2-4.4-.1z" color="#00a4b4"/><path d="M387.2 867.1l4.4 3.6-6.4-10.3-4.3-5z" color="#009191"/><path d="M495.7 881.8l4.4-2.5-6.5-1.6-4.4 2.5z" color="#00b0d5"/><path d="M428.2 894.5l4.4-1.5-6.5-2.6-4.4 .6z" color="#008dd4"/><path d="M537 874.2l4.4-1.8-6.5-1.2-4.4 1.7z" color="#00bccd"/><path d="M361.6 826.5l4.4 5.6-6.4-11.7-4.3-6.1z" color="#007a41"/><path d="M469.5 887l4.4-2.9-6.4-1.1-4.4 2.8z" color="#00a0d2"/><path d="M578.1 878.4l4.3 1.7-6.4-3.2-4.3-1.5z" color="#008296"/><path d="M402.2 882.8l4.4 1.8-6.4-7.3-4.3-3.1z" color="#0086a5"/><path d="M510.9 878.3l4.4-2.4-6.4-1.3-4.4 2.2z" color="#00b8d3"/><path d="M336 791.2l4.3 3.4-6.4-6.5-4.3-3.1z" color="#00810f"/><path d="M443.4 892.8l4.4-2.5-6.4-1.1-4.4 2z" color="#0090d1"/><path d="M552.2 872.6l4.3-.5-6.4-1.6-4.4 .7z" color="#00b5c1"/><path d="M376.6 850.3l4.3 5.1-6.4-11.2-4.2-6.2z" color="#007f66"/><path d="M484.8 882.8l4.4-2.6-6.4-1.4-4.4 2.6z" color="#00add4"/><path d="M593.2 886.2l4.3 2.5-6.4-4.2-4.3-2.3z" color="#006b8a"/><path d="M417.4 891.2l4.3-.2-6.4-4-4.3-1z" color="#008bc2"/><path d="M526.1 875l4.4-2.1-6.4-1.1-4.4 1.9z" color="#00bdcf"/><path d="M351 808.8l4.3 5.5-6.4-9.5-4.3-5.6z" color="#006e24"/><path d="M458.7 888.7l4.4-2.9-6.5-.7-4.4 2.6z" color="#009bcf"/><path d="M567.3 874.4l4.4 1-6.4-2.4-4.4-.8z" color="#0097a4"/><path d="M391.6 870.7l4.3 3.5-6.4-8.9-4.3-4.9z" color="#00888d"/><path d="M500.1 879.3l4.4-2.5-6.5-1.4-4.4 2.3z" color="#00b8d4"/><path d="M325.2 783.6l4.4 1.4-6.5-3.5-4.4-1z" color="#009703"/><path d="M432.6 893l4.4-1.8-6.5-1.7-4.4 .9z" color="#0091d1"/><path d="M541.4 872.4l4.3-1.2-6.4-1.2-4.4 1.2z" color="#00bdc7"/><path d="M366 832.1l4.3 5.9-6.4-10.9-4.3-6.7z" color="#007042"/><path d="M473.9 884.1l4.5-2.7-6.5-1-4.4 2.6z" color="#00a9d1"/><path d="M582.4 880.1l4.4 2.1-6.4-3.4-4.4-1.9z" color="#00798d"/><path d="M406.6 884.6l4.4 1.4-6.5-5.8-4.3-2.9z" color="#0084a4"/><path d="M515.3 875.9l4.4-2.2-6.5-1.2-4.3 2.1z" color="#00bed0"/><path d="M340.3 794.6l4.3 4.6-6.4-6.8-4.3-4.3z" color="#006910"/><path d="M447.8 890.3l4.4-2.6-6.4-.6-4.4 2.1z" color="#0096cd"/><path d="M556.5 872.1l4.4 .1-6.4-1.7-4.4 0z" color="#00acb4"/><path d="M380.9 855.4l4.3 5-6.4-10-4.3-6.2z" color="#007967"/><path d="M489.2 880.2l4.4-2.5-6.4-1.3-4.4 2.4z" color="#00b6d3"/><path d="M597.5 888.7l4.3 2.6-6.4-4.4-4.3-2.4z" color="#006989"/><path d="M421.7 891l4.4-.6-6.4-2.8-4.4-.6z" color="#008ec4"/><path d="M530.5 872.9l4.4-1.7-6.4-1.1-4.4 1.7z" color="#00c1cb"/><path d="M355.3 814.3l4.3 6.1-6.4-9.1-4.3-6.5z" color="#006225"/><path d="M463.1 885.8l4.4-2.8-6.5-.6-4.4 2.7z" color="#00a3ce"/><path d="M571.7 875.4l4.3 1.5-6.4-2.6-4.3-1.3z" color="#008b97"/><path d="M395.9 874.2l4.3 3.1-6.4-7.4-4.3-4.6z" color="#008089"/><path d="M504.5 876.8l4.4-2.2-6.5-1.3-4.4 2.1z" color="#00bfd2"/><path d="M329.6 785l4.3 3.1-6.5-3.9-4.3-2.7z" color="#006f03"/><path d="M437 891.2l4.4-2-6.5-.9-4.4 1.2z" color="#0094cc"/><path d="M545.7 871.2l4.4-.7-6.4-1.3-4.4 .8z" color="#00bcc0"/><path d="M370.3 838l4.2 6.2-6.3-10-4.3-7.1z" color="#006844"/><path d="M478.4 881.4l4.4-2.6-6.5-1-4.4 2.6z" color="#00b2d1"/><path d="M586.8 882.2l4.3 2.3-6.4-3.6-4.3-2.1z" color="#007488"/><path d="M411 886l4.3 1-6.4-4.4-4.4-2.4z" color="#0083a5"/><path d="M519.7 873.7l4.4-1.9-6.5-1.1-4.4 1.8z" color="#00c4cd"/><path d="M344.6 799.2l4.3 5.6-6.4-6.8-4.3-5.6z" color="#005711"/><path d="M452.2 887.7l4.4-2.6-6.4-.4-4.4 2.4z" color="#009dca"/><path d="M560.9 872.2l4.4 .8-6.5-2-4.3-.5z" color="#00a1a7"/><path d="M385.2 860.4l4.3 4.9-6.4-8.7-4.3-6.2z" color="#007267"/><path d="M493.6 877.7l4.4-2.3-6.4-1.3-4.4 2.3z" color="#00bed2"/><path d="M601.8 891.3l4.3 2.6-6.4-4.7-4.3-2.3z" color="#006a8d"/><path d="M318.7 780.5l4.4 1-6.5-1.3-4.4-.6z" color="#058a00"/><path d="M426.1 890.4l4.4-.9-6.5-1.7-4.3-.2z" color="#0092c4"/><path d="M534.9 871.2l4.4-1.2-6.4-1.2-4.4 1.3z" color="#00c4c6"/><path d="M359.6 820.4l4.3 6.7-6.4-8.7-4.3-7.1z" color="#005727"/><path d="M467.5 883l4.4-2.6-6.5-.7-4.4 2.7z" color="#00accd"/><path d="M576 876.9l4.4 1.9-6.4-2.9-4.4-1.6z" color="#00838e"/><path d="M400.2 877.3l4.3 2.9-6.4-6-4.3-4.3z" color="#007885"/><path d="M508.9 874.6l4.3-2.1-6.4-1.2-4.4 2z" color="#00c6d0"/><path d="M333.9 788.1l4.3 4.3-6.4-4.1-4.4-4.1z" color="#005105"/><path d="M441.4 889.2l4.4-2.1-6.5-.4-4.4 1.6z" color="#0098c7"/><path d="M550.1 870.5l4.4 0-6.5-1.6-4.3 .3z" color="#00b6b6"/><path d="M374.5 844.2l4.3 6.2-6.3-9-4.3-7.2z" color="#006045"/><path d="M482.8 878.8l4.4-2.4-6.5-1.1-4.4 2.5z" color="#00bcd0"/><path d="M591.1 884.5l4.3 2.4-6.4-3.9-4.3-2.1z" color="#007289"/><path d="M415.3 887l4.4 .6-6.5-3.1-4.3-1.9z" color="#0084a7"/><path d="M524.1 871.8l4.4-1.7-6.5-1.1-4.4 1.7z" color="#00c8cb"/><path d="M348.9 804.8l4.3 6.5-6.4-6.8-4.3-6.5z" color="#004913"/><path d="M456.6 885.1l4.4-2.7-6.4-.2-4.4 2.5z" color="#00a4c8"/><path d="M565.3 873l4.3 1.3-6.4-2.4-4.4-.9z" color="#00979c"/><path d="M389.5 865.3l4.3 4.6-6.4-7.3-4.3-6z" color="#006c67"/><path d="M498 875.4l4.4-2.1-6.4-1.3-4.4 2.1z" color="#00c6d1"/><path d="M606.1 893.9l4.4 2.4-6.4-5-4.4-2.1z" color="#006e95"/><path d="M323.1 781.5l4.3 2.7-6.4-1.7-4.4-2.3z" color="#035700"/><path d="M430.5 889.5l4.4-1.2-6.5-.9-4.4 .4z" color="#0094c2"/><path d="M539.3 870l4.4-.8-6.5-1.3-4.3 .9z" color="#00c1bf"/><path d="M363.9 827.1l4.3 7.1-6.4-8.2-4.3-7.6z" color="#004e28"/><path d="M471.9 880.4l4.4-2.6-6.5-.8-4.4 2.7z" color="#00b6cd"/><path d="M580.4 878.8l4.3 2.1-6.4-3.2-4.3-1.8z" color="#007e8b"/><path d="M404.5 880.2l4.4 2.4-6.4-4.6-4.4-3.8z" color="#007383"/><path d="M513.2 872.5l4.4-1.8-6.4-1.3-4.4 1.9z" color="#00ccce"/><path d="M338.2 792.4l4.3 5.6-6.4-4.4-4.3-5.3z" color="#005509"/><path d="M445.8 887.1l4.4-2.4-6.5 .1-4.4 1.9z" color="#009cc3"/><path d="M554.5 870.5l4.3 .5-6.4-1.9-4.4-.2z" color="#00acab"/><path d="M378.8 850.4l4.3 6.2-6.3-8-4.3-7.2z" color="#005845"/><path d="M487.2 876.4l4.4-2.3-6.5-1.2-4.4 2.4z" color="#00c5d1"/><path d="M595.4 886.9l4.3 2.3-6.3-4.1-4.4-2.1z" color="#00758e"/><path d="M312.2 779.6l4.4 .6-6.5 .5-4.4-.5z" color="#077300"/><path d="M419.7 887.6l4.3 .2-6.4-2-4.4-1.3z" color="#0088ab"/><path d="M528.5 870.1l4.4-1.3-6.5-1.2-4.4 1.4z" color="#00c7c3"/><path d="M353.2 811.3l4.3 7.1-6.4-6.6-4.3-7.3z" color="#00561c"/><path d="M461 882.4l4.4-2.7-6.4-.2-4.4 2.7z" color="#00adc7"/><path d="M569.6 874.3l4.4 1.6-6.5-2.7-4.3-1.3z" color="#009095"/><path d="M393.8 869.9l4.3 4.3-6.4-6-4.3-5.6z" color="#006766"/><path d="M502.4 873.3l4.4-2-6.4-1.4-4.4 2.1z" color="#00ced0"/><path d="M610.5 896.3l4.3 2.1-6.4-5.4-4.3-1.7z" color="#0075a1"/><path d="M327.4 784.2l4.4 4.1-6.5-2-4.3-3.8z" color="#016000"/><path d="M434.9 888.3l4.4-1.6-6.5-.1-4.4 .8z" color="#0097be"/><path d="M543.7 869.2l4.3-.3-6.4-1.5-4.4 .5z" color="#00bbb4"/><path d="M368.2 834.2l4.3 7.2-6.4-7.6-4.3-7.8z" color="#004f2e"/><path d="M476.3 877.8l4.4-2.5-6.4-.9-4.5 2.6z" color="#00c1ce"/><path d="M584.7 880.9l4.3 2.1-6.4-3.4-4.3-1.9z" color="#007e8c"/><path d="M408.9 882.6l4.3 1.9-6.4-3.3-4.3-3.2z" color="#007183"/><path d="M517.6 870.7l4.4-1.7-6.4-1.3-4.4 1.7z" color="#00ccc7"/><path d="M342.5 798l4.3 6.5-6.4-4.6-4.3-6.3z" color="#006711"/><path d="M450.2 884.7l4.4-2.5-6.5 .2-4.4 2.4z" color="#00a3c1"/><path d="M558.8 871l4.4 .9-6.4-2.2-4.4-.6z" color="#00a4a1"/><path d="M383.1 856.6l4.3 6-6.4-6.9-4.2-7.1z" color="#005245"/><path d="M491.6 874.1l4.4-2.1-6.5-1.4-4.4 2.3z" color="#00cfd1"/><path d="M599.7 889.2l4.4 2.1-6.4-4.4-4.3-1.8z" color="#007c98"/><path d="M316.6 780.2l4.4 2.3-6.5 .2-4.4-2z" color="#065c00"/><path d="M424 887.8l4.4-.4-6.4-.9-4.4-.7z" color="#008cae"/><path d="M532.9 868.8l4.3-.9-6.4-1.4-4.4 1.1z" color="#00c4bb"/><path d="M357.5 818.4l4.3 7.6-6.4-6.4-4.3-7.8z" color="#006127"/><path d="M465.4 879.7l4.4-2.7-6.4-.4-4.4 2.9z" color="#00b8c9"/><path d="M574 875.9l4.3 1.8-6.4-3-4.4-1.5z" color="#008d92"/><path d="M398.1 874.2l4.4 3.8-6.5-4.7-4.3-5.1z" color="#005f63"/><path d="M506.8 871.3l4.4-1.9-6.4-1.5-4.4 2z" color="#00d0ca"/><path d="M614.8 898.4l4.3 1.7-6.3-6-4.4-1.1z" color="#007fb0"/><path d="M331.8 788.3l4.3 5.3-6.5-2.3-4.3-5z" color="#007905"/><path d="M439.3 886.7l4.4-1.9-6.5 .3-4.4 1.5z" color="#009abb"/><path d="M548 868.9l4.4 .2-6.4-1.9-4.4 .2z" color="#00b5ac"/><path d="M372.5 841.4l4.3 7.2-6.5-6.8-4.2-8z" color="#00583b"/><path d="M480.7 875.3l4.4-2.4-6.4-1.2-4.4 2.7z" color="#00ccd0"/><path d="M589 883l4.4 2.1-6.4-3.7-4.4-1.8z" color="#008292"/><path d="M305.7 780.2l4.4 .5-6.5 1.7-4.4-.5z" color="#065800"/><path d="M413.2 884.5l4.4 1.3-6.5-2-4.3-2.6z" color="#007286"/><path d="M522 869l4.4-1.4-6.4-1.4-4.4 1.5z" color="#00cbbf"/><path d="M346.8 804.5l4.3 7.3-6.4-4.6-4.3-7.3z" color="#00741b"/><path d="M454.6 882.2l4.4-2.7-6.5 .2-4.4 2.7z" color="#00acc1"/><path d="M563.2 871.9l4.3 1.3-6.4-2.6-4.3-.9z" color="#009f9c"/><path d="M387.4 862.6l4.3 5.6-6.4-5.7-4.3-6.8z" color="#004c44"/><path d="M496 872l4.4-2.1-6.5-1.6-4.4 2.3z" color="#00d2cc"/><path d="M604.1 891.3l4.3 1.7-6.4-4.7-4.3-1.4z" color="#0085a5"/><path d="M321 782.5l4.3 3.8-6.5-.1-4.3-3.5z" color="#068c00"/><path d="M428.4 887.4l4.4-.8-6.5-.1-4.3 0z" color="#0090b0"/><path d="M537.2 867.9l4.4-.5-6.4-1.7-4.4 .8z" color="#00c1b4"/><path d="M361.8 826l4.3 7.8-6.4-6-4.3-8.2z" color="#006b34"/><path d="M469.8 877l4.5-2.6-6.5-.7-4.4 2.9z" color="#00c5cc"/><path d="M578.3 877.7l4.3 1.9-6.4-3.3-4.3-1.6z" color="#008d93"/><path d="M402.5 878l4.3 3.2-6.4-3.4-4.4-4.5z" color="#005a60"/><path d="M511.2 869.4l4.4-1.7-6.5-1.6-4.3 1.8z" color="#00cfc3"/><path d="M619.1 900.1l4.4 1.2-6.4-6.6-4.3-.6z" color="#0089be"/><path d="M336.1 793.6l4.3 6.3-6.5-2.4-4.3-6.2z" color="#00880d"/><path d="M443.7 884.8l4.4-2.4-6.5 .7-4.4 2z" color="#00a0b9"/><path d="M552.4 869.1l4.4 .6-6.5-2.3-4.3-.2z" color="#00b0a5"/><path d="M376.8 848.6l4.2 7.1-6.4-6-4.3-7.9z" color="#006148"/><path d="M485.1 872.9l4.4-2.3-6.4-1.5-4.4 2.6z" color="#00d2cd"/><path d="M593.4 885.1l4.3 1.8-6.4-3.9-4.3-1.6z" color="#00899b"/><path d="M310.1 780.7l4.4 2-6.6 1.7-4.3-2z" color="#0a8700"/><path d="M417.6 885.8l4.4 .7-6.5-1-4.4-1.7z" color="#00788e"/><path d="M526.4 867.6l4.4-1.1-6.4-1.7-4.4 1.4z" color="#00cab9"/><path d="M351.1 811.8l4.3 7.8-6.5-4.6-4.2-7.8z" color="#007d27"/><path d="M459 879.5l4.4-2.9-6.5 0-4.4 3.1z" color="#00b9c4"/><path d="M567.5 873.2l4.4 1.5-6.4-3-4.4-1.1z" color="#009d99"/><path d="M391.7 868.2l4.3 5.1-6.4-4.6-4.3-6.2z" color="#00524e"/><path d="M500.4 869.9l4.4-2-6.5-1.8-4.4 2.2z" color="#00d3c5"/><path d="M608.4 893l4.4 1.1-6.4-4.9-4.4-.9z" color="#0092b5"/><path d="M325.3 786.3l4.3 5-6.5-.3-4.3-4.8z" color="#00a000"/><path d="M432.8 886.6l4.4-1.5-6.5 .5-4.4 .9z" color="#0096b1"/><path d="M541.6 867.4l4.4-.2-6.4-2.1-4.4 .6z" color="#00bfad"/><path d="M366.1 833.8l4.2 8-6.4-5.6-4.2-8.4z" color="#007341"/><path d="M474.3 874.4l4.4-2.7-6.5-1.1-4.4 3.1z" color="#00d0cd"/><path d="M582.6 879.6l4.4 1.8-6.4-3.5-4.4-1.6z" color="#009197"/><path d="M299.2 781.9l4.4 .5-6.6 2.5-4.3-.9z" color="#065600"/><path d="M406.8 881.2l4.3 2.6-6.4-2.3-4.3-3.7z" color="#005862"/><path d="M515.6 867.7l4.4-1.5-6.5-1.9-4.4 1.8z" color="#00d0bc"/><path d="M623.5 901.3l4.3 .8-6.3-7.3-4.4-.1z" color="#0092c9"/><path d="M340.4 799.9l4.3 7.3-6.5-2.8-4.3-6.9z" color="#009218"/><path d="M448.1 882.4l4.4-2.7-6.5 .7-4.4 2.7z" color="#00aabc"/><path d="M556.8 869.7l4.3 .9-6.4-2.8-4.4-.4z" color="#00aca0"/><path d="M381 855.7l4.3 6.8-6.4-5.2-4.3-7.6z" color="#006854"/><path d="M489.5 870.6l4.4-2.3-6.4-1.8-4.4 2.6z" color="#00d5c7"/><path d="M597.7 886.9l4.3 1.4-6.3-4-4.4-1.3z" color="#0093a7"/><path d="M314.5 782.7l4.3 3.5-6.5 1.6-4.4-3.4z" color="#0ab600"/><path d="M422 886.5l4.3 0-6.4-.1-4.4-.9z" color="#008299"/><path d="M530.8 866.5l4.4-.8-6.5-2.1-4.3 1.2z" color="#00c9b3"/><path d="M355.4 819.6l4.3 8.2-6.5-4.5-4.3-8.3z" color="#008434"/><path d="M463.4 876.6l4.4-2.9-6.5-.5-4.4 3.4z" color="#00c8ca"/><path d="M571.9 874.7l4.3 1.6-6.4-3.3-4.3-1.3z" color="#009d99"/><path d="M396 873.3l4.4 4.5-6.5-3.5-4.3-5.6z" color="#005756"/><path d="M504.8 867.9l4.3-1.8-6.4-2.2-4.4 2.2z" color="#00d4bf"/><path d="M612.8 894.1l4.3 .6-6.4-5.2-4.3-.3z" color="#009ec3"/><path d="M329.6 791.3l4.3 6.2-6.5-.7-4.3-5.8z" color="#00aa09"/><path d="M437.2 885.1l4.4-2-6.5 .8-4.4 1.7z" color="#009db3"/><path d="M546 867.2l4.3 .2-6.4-2.6-4.3 .3z" color="#00bca8"/><path d="M370.3 841.8l4.3 7.9-6.4-5.1-4.3-8.4z" color="#00794f"/><path d="M478.7 871.7l4.4-2.6-6.5-1.6-4.4 3.1z" color="#00d4c7"/><path d="M587 881.4l4.3 1.6-6.4-3.7-4.3-1.4z" color="#00979e"/><path d="M303.6 782.4l4.3 2-6.5 2.7-4.4-2.2z" color="#0cac00"/><path d="M411.1 883.8l4.4 1.7-6.5-1.2-4.3-2.8z" color="#005e6a"/><path d="M520 866.2l4.4-1.4-6.5-2.3-4.4 1.8z" color="#00d1b6"/><path d="M627.8 902.1l4.4 .3-6.4-8-4.3 .4z" color="#009bd1"/><path d="M344.7 807.2l4.2 7.8-6.4-2.9-4.3-7.7z" color="#009825"/><path d="M452.5 879.7l4.4-3.1-6.5 .4-4.4 3.4z" color="#00b9c1"/><path d="M561.1 870.6l4.4 1.1-6.4-3.2-4.4-.7z" color="#00aa9d"/><path d="M385.3 862.5l4.3 6.2-6.4-4.3-4.3-7.1z" color="#006d60"/><path d="M493.9 868.3l4.4-2.2-6.4-2.3-4.4 2.7z" color="#00d7c0"/><path d="M602 888.3l4.4 .9-6.4-4.1-4.3-.8z" color="#00a0b5"/><path d="M318.8 786.2l4.3 4.8-6.5 1.3-4.3-4.5z" color="#04c600"/><path d="M426.3 886.5l4.4-.9-6.5 .6-4.3 .2z" color="#008ea4"/><path d="M535.2 865.7l4.4-.6-6.5-2.6-4.4 1.1z" color="#00c9ae"/><path d="M359.7 827.8l4.2 8.4-6.4-4.4-4.3-8.5z" color="#008a42"/><path d="M467.8 873.7l4.4-3.1-6.5-1-4.4 3.6z" color="#00d0c7"/><path d="M576.2 876.3l4.4 1.6-6.4-3.6-4.4-1.3z" color="#009f9c"/><path d="M292.7 784l4.3 .9-6.5 3.2-4.4-1.5z" color="#088400"/><path d="M400.4 877.8l4.3 3.7-6.5-2.4-4.3-4.8z" color="#005256"/><path d="M509.1 866.1l4.4-1.8-6.4-2.6-4.4 2.2z" color="#00d6b8"/><path d="M617.1 894.7l4.4 .1-6.4-5.4-4.4 .1z" color="#00a9cd"/><path d="M333.9 797.5l4.3 6.9-6.5-.9-4.3-6.7z" color="#00af15"/><path d="M441.6 883.1l4.4-2.7-6.5 .9-4.4 2.6z" color="#00a9b8"/><path d="M550.3 867.4l4.4 .4-6.4-3-4.4 0z" color="#00baa3"/><path d="M374.6 849.7l4.3 7.6-6.4-4.6-4.3-8.1z" color="#007e5c"/><path d="M483.1 869.1l4.4-2.6-6.5-2.3-4.4 3.3z" color="#00d8c1"/><path d="M591.3 883l4.4 1.3-6.4-3.8-4.4-1.2z" color="#009fa8"/><path d="M307.9 784.4l4.4 3.4-6.6 2.7-4.3-3.4z" color="#0bd600"/><path d="M415.5 885.5l4.4 .9-6.5-.3-4.4-1.8z" color="#006d7c"/><path d="M524.4 864.8l4.3-1.2-6.4-2.7-4.4 1.6z" color="#00d2b1"/><path d="M632.2 902.4l4.3-.2-6.3-8.6-4.4 .8z" color="#00a4d8"/><path d="M348.9 815l4.3 8.3-6.4-3-4.3-8.2z" color="#009c33"/><path d="M456.9 876.6l4.4-3.4-6.5-.1-4.4 3.9z" color="#00c8c5"/><path d="M565.5 871.7l4.3 1.3-6.4-3.6-4.3-.9z" color="#00a89b"/><path d="M389.6 868.7l4.3 5.6-6.4-3.4-4.3-6.5z" color="#007068"/><path d="M498.3 866.1l4.4-2.2-6.4-2.8-4.4 2.7z" color="#00dab9"/><path d="M606.4 889.2l4.3 .3-6.3-4.1-4.4-.3z" color="#00acc1"/><path d="M323.1 791l4.3 5.8-6.5 1-4.3-5.5z" color="#00cb07"/><path d="M430.7 885.6l4.4-1.7-6.5 1-4.4 1.3z" color="#009aad"/><path d="M539.6 865.1l4.3-.3-6.4-3.1-4.4 .8z" color="#00c8a8"/><path d="M363.9 836.2l4.3 8.4-6.4-4.2-4.3-8.6z" color="#008d51"/><path d="M472.2 870.6l4.4-3.1-6.4-1.8-4.5 3.9z" color="#00d6c1"/><path d="M580.6 877.9l4.3 1.4-6.4-3.7-4.3-1.3z" color="#00a3a0"/><path d="M297 784.9l4.4 2.2-6.6 3.6-4.3-2.6z" color="#0bcc00"/><path d="M404.7 881.5l4.3 2.8-6.4-1.4-4.4-3.8z" color="#00474d"/><path d="M513.5 864.3l4.4-1.8-6.4-2.9-4.4 2.1z" color="#00d8b2"/><path d="M621.5 894.8l4.3-.4-6.3-5.7-4.4 .7z" color="#00b4d5"/><path d="M338.2 804.4l4.3 7.7-6.5-1.2-4.3-7.4z" color="#00b123"/><path d="M446 880.4l4.4-3.4-6.5 .7-4.4 3.6z" color="#00b9be"/><path d="M554.7 867.8l4.4 .7-6.4-3.5-4.4-.2z" color="#00b79f"/><path d="M378.9 857.3l4.3 7.1-6.5-4-4.2-7.7z" color="#008168"/><path d="M487.5 866.5l4.4-2.7-6.5-2.9-4.4 3.3z" color="#00dcba"/><path d="M595.7 884.3l4.3 .8-6.4-3.7-4.3-.9z" color="#00aab3"/><path d="M312.3 787.8l4.3 4.5-6.5 2.7-4.4-4.5z" color="#03e300"/><path d="M419.9 886.4l4.3-.2-6.5 .4-4.3-.5z" color="#008394"/><path d="M528.7 863.6l4.4-1.1-6.4-3.1-4.4 1.5z" color="#00d3ab"/><path d="M636.5 902.2l4.4-.5-6.3-9.3-4.4 1.2z" color="#00addd"/><path d="M353.2 823.3l4.3 8.5-6.5-3-4.2-8.5z" color="#009e42"/><path d="M461.3 873.2l4.4-3.6-6.4-.9-4.5 4.4z" color="#00cec0"/><path d="M569.8 873l4.4 1.3-6.4-3.9-4.4-1z" color="#00a89b"/><path d="M286.1 786.6l4.4 1.5-6.6 3.7-4.3-2.3z" color="#08b500"/><path d="M393.9 874.3l4.3 4.8-6.4-2.6-4.3-5.6z" color="#006f6d"/><path d="M502.7 863.9l4.4-2.2-6.4-3.3-4.4 2.7z" color="#00dcb2"/><path d="M610.7 889.5l4.4-.1-6.4-4.1-4.3 .1z" color="#00b7cb"/><path d="M327.4 796.8l4.3 6.7-6.5 .7-4.3-6.4z" color="#00cc14"/><path d="M435.1 883.9l4.4-2.6-6.5 1.1-4.4 2.5z" color="#00a8b5"/><path d="M543.9 864.8l4.4 0-6.4-3.6-4.4 .5z" color="#00c7a3"/><path d="M368.2 844.6l4.3 8.1-6.5-3.8-4.2-8.5z" color="#00905e"/><path d="M476.6 867.5l4.4-3.3-6.4-2.6-4.4 4.1z" color="#00dbba"/><path d="M584.9 879.3l4.4 1.2-6.4-3.7-4.4-1.2z" color="#00a8a6"/><path d="M301.4 787.1l4.3 3.4-6.5 3.8-4.4-3.6z" color="#08ec00"/><path d="M409 884.3l4.4 1.8-6.5-.6-4.3-2.6z" color="#00575f"/><path d="M517.9 862.5l4.4-1.6-6.4-3.5-4.4 2.2z" color="#00d9ab"/><path d="M625.8 894.4l4.4-.8-6.3-5.8-4.4 .9z" color="#00bedb"/><path d="M342.5 812.1l4.3 8.2-6.5-1.5-4.3-7.9z" color="#00b231"/><path d="M450.4 877l4.4-3.9-6.4 .1-4.5 4.5z" color="#00c5bf"/><path d="M559.1 868.5l4.3 .9-6.4-4-4.3-.4z" color="#00b59c"/><path d="M383.2 864.4l4.3 6.5-6.5-3.3-4.3-7.2z" color="#008271"/><path d="M491.9 863.8l4.4-2.7-6.4-3.5-4.5 3.3z" color="#00e0b2"/><path d="M600 885.1l4.4 .3-6.4-3.5-4.4-.5z" color="#00b5bc"/><path d="M316.6 792.3l4.3 5.5-6.5 2.5-4.3-5.3z" color="#00e608"/><path d="M424.2 886.2l4.4-1.3-6.5 .9-4.4 .8z" color="#0097a7"/><path d="M533.1 862.5l4.4-.8-6.4-3.7-4.4 1.4z" color="#00d3a5"/><path d="M640.9 901.7l4.4-1-6.3-9.8-4.4 1.5z" color="#00b6e1"/><path d="M357.5 831.8l4.3 8.6-6.5-3-4.3-8.6z" color="#009f50"/><path d="M465.7 869.6l4.5-3.9-6.5-1.7-4.4 4.7z" color="#00d5b9"/><path d="M574.2 874.3l4.3 1.3-6.4-4-4.3-1.2z" color="#00a99b"/><path d="M290.5 788.1l4.3 2.6-6.5 4.2-4.4-3.1z" color="#07e500"/><path d="M398.2 879.1l4.4 3.8-6.5-1.7-4.3-4.7z" color="#006567"/><path d="M507.1 861.7l4.4-2.1-6.4-3.9-4.4 2.7z" color="#00deaa"/><path d="M615.1 889.4l4.4-.7-6.4-3.9-4.4 .5z" color="#00c1d1"/><path d="M331.7 803.5l4.3 7.4-6.5 .4-4.3-7.1z" color="#00cb22"/><path d="M439.5 881.3l4.4-3.6-6.5 .9-4.4 3.8z" color="#00b9bc"/><path d="M548.3 864.8l4.4 .2-6.4-4.1-4.4 .3z" color="#00c49e"/><path d="M372.5 852.7l4.2 7.7-6.4-3.4-4.3-8.1z" color="#00916b"/><path d="M481 864.2l4.4-3.3-6.4-3.5-4.4 4.2z" color="#01e0b2"/><path d="M589.3 880.5l4.3 .9-6.4-3.6-4.3-1z" color="#00afac"/><path d="M305.7 790.5l4.4 4.5-6.6 3.8-4.3-4.5z" color="#00f601"/><path d="M413.4 886.1l4.3 .5-6.4 .2-4.4-1.3z" color="#007480"/><path d="M522.3 860.9l4.4-1.5-6.4-4.1-4.4 2.1z" color="#00dba4"/><path d="M630.2 893.6l4.4-1.2-6.4-5.9-4.3 1.3z" color="#00c8df"/><path d="M346.8 820.3l4.2 8.5-6.4-1.7-4.3-8.3z" color="#00b241"/><path d="M454.8 873.1l4.5-4.4-6.5-.5-4.4 5z" color="#00ccb8"/><path d="M563.4 869.4l4.4 1-6.4-4.2-4.4-.8z" color="#00b298"/><path d="M279.6 789.5l4.3 2.3-6.5 4.1-4.4-3.1z" color="#05da00"/><path d="M387.5 870.9l4.3 5.6-6.5-2.6-4.3-6.3z" color="#008077"/><path d="M496.3 861.1l4.4-2.7-6.4-4.2-4.4 3.4z" color="#01e2a9"/><path d="M604.4 885.4l4.3-.1-6.4-3.1-4.3-.3z" color="#00bdc3"/><path d="M320.9 797.8l4.3 6.4-6.5 2.2-4.3-6.1z" color="#00e515"/><path d="M428.6 884.9l4.4-2.5-6.5 1.1-4.4 2.3z" color="#00a8b3"/><path d="M537.5 861.7l4.4-.5-6.4-4.3-4.4 1.1z" color="#00d19f"/><path d="M645.3 900.7l4.4-1.3-6.3-10.2-4.4 1.7z" color="#01c0e4"/><path d="M361.8 840.4l4.2 8.5-6.4-3-4.3-8.5z" color="#00a05e"/><path d="M470.2 865.7l4.4-4.1-6.4-2.6-4.5 5z" color="#00dbb0"/><path d="M578.5 875.6l4.4 1.2-6.4-4-4.4-1.2z" color="#00aa9c"/><path d="M294.8 790.7l4.4 3.6-6.6 4.5-4.3-3.9z" color="#01fa00"/><path d="M402.6 882.9l4.3 2.6-6.5-.9-4.3-3.4z" color="#004d52"/><path d="M511.5 859.6l4.4-2.2-6.4-4.4-4.4 2.7z" color="#01e0a2"/><path d="M619.5 888.7l4.4-.9-6.4-3.7-4.4 .7z" color="#00cad5"/><path d="M336 810.9l4.3 7.9-6.5 0-4.3-7.5z" color="#00c932"/><path d="M443.9 877.7l4.5-4.5-6.5 .6-4.5 4.8z" color="#00c2b9"/><path d="M552.7 865l4.3 .4-6.4-4.5-4.3 0z" color="#00c199"/><path d="M376.7 860.4l4.3 7.2-6.4-3.1-4.3-7.5z" color="#009175"/><path d="M485.4 860.9l4.5-3.3-6.4-4.4-4.5 4.2z" color="#01e4a7"/><path d="M593.6 881.4l4.4 .5-6.4-3.2-4.4-.9z" color="#00b4b0"/><path d="M310.1 795l4.3 5.3-6.6 3.7-4.3-5.2z" color="#00f90d"/><path d="M417.7 886.6l4.4-.8-6.5 .8-4.3 .2z" color="#0093a0"/><path d="M526.7 859.4l4.4-1.4-6.4-4.6-4.4 1.9z" color="#00db9d"/><path d="M634.6 892.4l4.4-1.5-6.4-6-4.4 1.6z" color="#00d2e2"/><path d="M351 828.8l4.3 8.6-6.5-1.9-4.2-8.4z" color="#00b150"/><path d="M459.3 868.7l4.4-4.7-6.4-1.4-4.5 5.6z" color="#00d2af"/><path d="M567.8 870.4l4.3 1.2-6.4-4.5-4.3-.9z" color="#00b096"/><path d="M283.9 791.8l4.4 3.1-6.6 4.7-4.3-3.7z" color="#00f500"/><path d="M391.8 876.5l4.3 4.7-6.5-2-4.3-5.3z" color="#007976"/><path d="M500.7 858.4l4.4-2.7-6.4-5-4.4 3.5z" color="#01e49f"/><path d="M608.7 885.3l4.4-.5-6.4-2.7-4.4 .1z" color="#00c5c7"/><path d="M325.2 804.2l4.3 7.1-6.5 1.8-4.3-6.7z" color="#00e224"/><path d="M433 882.4l4.4-3.8-6.4 1.2-4.5 3.7z" color="#00b9ba"/><path d="M541.9 861.2l4.4-.3-6.4-4.9-4.4 .9z" color="#00cf98"/><path d="M649.7 899.4l4.3-1.8-6.2-10.3-4.4 1.9z" color="#01cbe7"/><path d="M366 848.9l4.3 8.1-6.5-2.9-4.2-8.2z" color="#009f6b"/><path d="M474.6 861.6l4.4-4.2-6.4-3.6-4.4 5.2z" color="#01e0a5"/><path d="M582.9 876.8l4.3 1-6.4-3.8-4.3-1.2z" color="#00ab9d"/><path d="M299.2 794.3l4.3 4.5-6.6 4.6-4.3-4.6z" color="#01ff09"/><path d="M406.9 885.5l4.4 1.3-6.5-.2-4.4-2z" color="#00636a"/><path d="M515.9 857.4l4.4-2.1-6.4-5-4.4 2.7z" color="#01e199"/><path d="M623.9 887.8l4.3-1.3-6.4-3.5-4.3 1.1z" color="#00d2d8"/><path d="M340.3 818.8l4.3 8.3-6.5-.4-4.3-7.9z" color="#00c641"/><path d="M448.4 873.2l4.4-5-6.5-.1-4.4 5.7z" color="#00c8b1"/><path d="M557 865.4l4.4 .8-6.4-5-4.4-.3z" color="#00bd94"/><path d="M273 792.8l4.4 3.1-6.6 4.3-4.3-3.9z" color="#00f000"/><path d="M381 867.6l4.3 6.3-6.4-2.6-4.3-6.8z" color="#008d7b"/><path d="M489.9 857.6l4.4-3.4-6.4-5.3-4.4 4.3z" color="#01e79c"/><path d="M598 881.9l4.3 .3-6.4-2.8-4.3-.7z" color="#00b7b1"/><path d="M314.4 800.3l4.3 6.1-6.6 3.4-4.3-5.8z" color="#00f81b"/><path d="M422.1 885.8l4.4-2.3-6.5 1.2-4.4 1.9z" color="#00a9b1"/><path d="M531.1 858l4.4-1.1-6.4-5.3-4.4 1.8z" color="#00da95"/><path d="M639 890.9l4.4-1.7-6.4-6-4.4 1.7z" color="#01dce4"/><path d="M355.3 837.4l4.3 8.5-6.5-2.1-4.3-8.3z" color="#00af5e"/><path d="M463.7 864l4.5-5-6.5-2.3-4.4 5.9z" color="#00d8a4"/><path d="M572.1 871.6l4.4 1.2-6.4-4.5-4.4-1.2z" color="#00ad93"/><path d="M288.3 794.9l4.3 3.9-6.6 5-4.3-4.2z" color="#01ff09"/><path d="M396.1 881.2l4.3 3.4-6.4-1.3-4.4-4.1z" color="#006667"/><path d="M505.1 855.7l4.4-2.7-6.4-5.7-4.4 3.4z" color="#01e595"/><path d="M613.1 884.8l4.4-.7-6.4-2.3-4.4 .3z" color="#00c8c7"/><path d="M329.5 811.3l4.3 7.5-6.5 1.4-4.3-7.1z" color="#00df34"/><path d="M437.4 878.6l4.5-4.8-6.5 .9-4.4 5.1z" color="#00bfb4"/><path d="M546.3 860.9l4.3 0-6.4-5.4-4.3 .5z" color="#00cb91"/><path d="M654 897.6l4.4-2.1-6.3-10.4-4.3 2.2z" color="#01d6e9"/><path d="M370.3 857l4.3 7.5-6.5-2.7-4.3-7.7z" color="#009d76"/><path d="M479 857.4l4.5-4.2-6.5-4.6-4.4 5.2z" color="#01e598"/><path d="M587.2 877.8l4.4 .9-6.4-3.4-4.4-1.3z" color="#00ab9d"/><path d="M303.5 798.8l4.3 5.2-6.5 4.5-4.4-5.1z" color="#01ff16"/><path d="M411.3 886.8l4.3-.2-6.5 .4-4.3-.4z" color="#008d95"/><path d="M520.3 855.3l4.4-1.9-6.4-5.7-4.4 2.6z" color="#01e190"/><path d="M628.2 886.5l4.4-1.6-6.4-3.1-4.4 1.2z" color="#00d9d8"/><path d="M344.6 827.1l4.2 8.4-6.5-.8-4.2-8z" color="#00c251"/><path d="M452.8 868.2l4.5-5.6-6.5-.7-4.5 6.2z" color="#00cda5"/><path d="M561.4 866.2l4.3 .9-6.4-5.2-4.3-.7z" color="#00b88e"/><path d="M277.4 795.9l4.3 3.7-6.6 4.9-4.3-4.3z" color="#01ff09"/><path d="M385.3 873.9l4.3 5.3-6.4-2.1-4.3-5.8z" color="#00867c"/><path d="M494.3 854.2l4.4-3.5-6.4-6-4.4 4.2z" color="#02e88f"/><path d="M602.3 882.2l4.4-.1-6.4-2.2-4.4-.5z" color="#00b8b0"/><path d="M318.7 806.4l4.3 6.7-6.6 3-4.3-6.3z" color="#00f52a"/><path d="M426.5 883.5l4.5-3.7-6.5 1.3-4.5 3.6z" color="#00b9b8"/><path d="M535.5 856.9l4.4-.9-6.4-5.8-4.4 1.4z" color="#00d78d"/><path d="M643.4 889.2l4.4-1.9-6.4-5.9-4.4 1.8z" color="#01e5e6"/><path d="M359.6 845.9l4.2 8.2-6.4-2.2-4.3-8.1z" color="#00ac6b"/><path d="M468.2 859l4.4-5.2-6.4-3.3-4.5 6.2z" color="#00dd96"/><path d="M576.5 872.8l4.3 1.2-6.4-4.3-4.3-1.4z" color="#00a990"/><path d="M292.6 798.8l4.3 4.6-6.5 5.1-4.4-4.7z" color="#01ff14"/><path d="M400.4 884.6l4.4 2-6.5-.6-4.3-2.7z" color="#005355"/><path d="M509.5 853l4.4-2.7-6.4-6.3-4.4 3.3z" color="#02e689"/><path d="M617.5 884.1l4.3-1.1-6.4-1.7-4.3 .5z" color="#00c7c2"/><path d="M333.8 818.8l4.3 7.9-6.6 .9-4.2-7.4z" color="#00da44"/><path d="M441.9 873.8l4.4-5.7-6.5 .6-4.4 6z" color="#00c3a9"/><path d="M550.6 860.9l4.4 .3-6.4-5.8-4.4 .1z" color="#00c68b"/><path d="M658.4 895.5l4.4-2.4-6.3-10.2-4.4 2.2z" color="#01e1eb"/><path d="M266.5 796.3l4.3 3.9-6.6 4.5-4.3-4.7z" color="#00fb08"/><path d="M374.6 864.5l4.3 6.8-6.5-2.4-4.3-7.1z" color="#00987d"/><path d="M483.5 853.2l4.4-4.3-6.4-5.6-4.5 5.3z" color="#02e78a"/><path d="M591.6 878.7l4.3 .7-6.4-2.9-4.3-1.2z" color="#00aa9b"/><path d="M307.8 804l4.3 5.8-6.5 4.2-4.3-5.5z" color="#01ff23"/><path d="M415.6 886.6l4.4-1.9-6.5 1-4.4 1.3z" color="#00a9af"/><path d="M524.7 853.4l4.4-1.8-6.4-6.3-4.4 2.4z" color="#01e086"/><path d="M632.6 884.9l4.4-1.7-6.4-2.7-4.4 1.3z" color="#00d8d0"/><path d="M348.8 835.5l4.3 8.3-6.5-1-4.3-8.1z" color="#00be5f"/><path d="M457.3 862.6l4.4-5.9-6.4-1.6-4.5 6.8z" color="#00d297"/><path d="M565.7 867.1l4.4 1.2-6.4-5.4-4.4-1z" color="#00b289"/><path d="M281.7 799.6l4.3 4.2-6.5 5.2-4.4-4.5z" color="#01ff14"/><path d="M389.6 879.2l4.4 4.1-6.5-1.5-4.3-4.7z" color="#007773"/><path d="M498.7 850.7l4.4-3.4-6.4-6.8-4.4 4.2z" color="#02e982"/><path d="M606.7 882.1l4.4-.3-6.5-1.5-4.3-.4z" color="#00b6ac"/><path d="M323 813.1l4.3 7.1-6.6 2.6-4.3-6.7z" color="#00f039"/><path d="M431 879.8l4.4-5.1-6.5 1.5-4.4 4.9z" color="#00bcb0"/><path d="M539.9 856l4.3-.5-6.3-6.4-4.4 1.1z" color="#00d385"/><path d="M647.8 887.3l4.3-2.2-6.3-5.5-4.4 1.8z" color="#01e5de"/><path d="M363.8 854.1l4.3 7.7-6.4-2.1-4.3-7.8z" color="#00a876"/><path d="M472.6 853.8l4.4-5.2-6.4-4.3-4.4 6.2z" color="#01e186"/><path d="M580.8 874l4.4 1.3-6.4-4.1-4.4-1.5z" color="#00a58c"/><path d="M296.9 803.4l4.4 5.1-6.6 5-4.3-5z" color="#02ff21"/><path d="M404.8 886.6l4.3 .4-6.4 .2-4.4-1.2z" color="#008085"/><path d="M513.9 850.3l4.4-2.6-6.4-7-4.4 3.3z" color="#02e57d"/><path d="M621.8 883l4.4-1.2-6.4-1.1-4.4 .6z" color="#00c4ba"/><path d="M338.1 826.7l4.2 8-6.5 .5-4.3-7.6z" color="#00d553"/><path d="M446.3 868.1l4.5-6.2-6.5 .1-4.5 6.7z" color="#00c79c"/><path d="M555 861.2l4.3 .7-6.3-6.2-4.4-.3z" color="#00c084"/><path d="M662.8 893.1l4.4-2.8-6.3-9.7-4.4 2.3z" color="#01ecec"/><path d="M270.8 800.2l4.3 4.3-6.6 4.9-4.3-4.7z" color="#01ff13"/><path d="M378.9 871.3l4.3 5.8-6.5-2-4.3-6.2z" color="#00907f"/><path d="M487.9 848.9l4.4-4.2-6.4-6.5-4.4 5.1z" color="#03e97b"/><path d="M595.9 879.4l4.4 .5-6.4-2.2-4.4-1.2z" color="#00a798"/><path d="M312.1 809.8l4.3 6.3-6.5 3.9-4.3-6z" color="#00ff32"/><path d="M420 884.7l4.5-3.6-6.5 1.5-4.5 3.1z" color="#00b7b5"/><path d="M529.1 851.6l4.4-1.4-6.4-7-4.4 2.1z" color="#01dd7c"/><path d="M637 883.2l4.4-1.8-6.4-2.3-4.4 1.4z" color="#00d6c7"/><path d="M353.1 843.8l4.3 8.1-6.5-1.3-4.3-7.8z" color="#00b96c"/><path d="M461.7 856.7l4.5-6.2-6.5-2.3-4.4 6.9z" color="#00d687"/><path d="M570.1 868.3l4.3 1.4-6.4-5.3-4.3-1.5z" color="#00ab84"/><path d="M286 803.8l4.4 4.7-6.6 5.3-4.3-4.8z" color="#02ff20"/><path d="M394 883.3l4.3 2.7-6.5-.8-4.3-3.4z" color="#005858"/><path d="M503.1 847.3l4.4-3.3-6.3-7.6-4.5 4.1z" color="#03e974"/><path d="M611.1 881.8l4.3-.5-6.4-.7-4.4-.3z" color="#00b0a4"/><path d="M327.3 820.2l4.2 7.4-6.5 2.1-4.3-6.9z" color="#00ea49"/><path d="M435.4 874.7l4.4-6-6.5 1.4-4.4 6.1z" color="#00bda2"/><path d="M544.2 855.5l4.4-.1-6.4-7-4.3 .7z" color="#00ce7d"/><path d="M652.1 885.1l4.4-2.2-6.3-5.2-4.4 1.9z" color="#01e5d4"/><path d="M259.9 800l4.3 4.7-6.6 4.4-4.3-5.2z" color="#01ff0f"/><path d="M368.1 861.8l4.3 7.1-6.5-2.1-4.2-7.1z" color="#00a27d"/><path d="M477 848.6l4.5-5.3-6.4-5.1-4.5 6.1z" color="#02e476"/><path d="M585.2 875.3l4.3 1.2-6.4-3.5-4.3-1.8z" color="#00a088"/><path d="M301.3 808.5l4.3 5.5-6.6 4.8-4.3-5.3z" color="#01ff2e"/><path d="M409.1 887l4.4-1.3-6.5 .8-4.3 .7z" color="#00a6aa"/><path d="M518.3 847.7l4.4-2.4-6.3-7.6-4.5 3z" color="#01e472"/><path d="M626.2 881.8l4.4-1.3-6.4-.5-4.4 .7z" color="#00beaf"/><path d="M342.3 834.7l4.3 8.1-6.5 0-4.3-7.6z" color="#00ce62"/><path d="M450.8 861.9l4.5-6.8-6.5-.4-4.5 7.3z" color="#00ca8b"/><path d="M559.3 861.9l4.4 1-6.4-6.4-4.3-.8z" color="#00b87e"/><path d="M667.2 890.3l4.4-3.1-6.3-8.8-4.4 2.2z" color="#02ede2"/><path d="M275.1 804.5l4.4 4.5-6.6 5.2-4.4-4.8z" color="#01ff1f"/><path d="M383.2 877.1l4.3 4.7-6.5-1.6-4.3-5.1z" color="#008379"/><path d="M492.3 844.7l4.4-4.2-6.3-7.2-4.5 4.9z" color="#03ea6b"/><path d="M600.3 879.9l4.3 .4-6.4-1.5-4.3-1.1z" color="#00a192"/><path d="M316.4 816.1l4.3 6.7-6.5 3.4-4.3-6.2z" color="#00fd41"/><path d="M424.5 881.1l4.4-4.9-6.5 1.8-4.4 4.6z" color="#00b7ab"/><path d="M533.5 850.2l4.4-1.1-6.4-7.6-4.4 1.7z" color="#00da73"/><path d="M641.4 881.4l4.4-1.8-6.4-1.9-4.4 1.4z" color="#00d2bd"/><path d="M357.4 851.9l4.3 7.8-6.5-1.6-4.3-7.5z" color="#00b376"/><path d="M466.2 850.5l4.4-6.2-6.4-3.1-4.5 7z" color="#00da75"/><path d="M574.4 869.7l4.4 1.5-6.4-5-4.4-1.8z" color="#00a37e"/><path d="M290.4 808.5l4.3 5-6.6 5.2-4.3-4.9z" color="#02ff2d"/><path d="M398.3 886l4.4 1.2-6.5-.2-4.4-1.8z" color="#006f70"/><path d="M507.5 844l4.4-3.3-6.3-8.2-4.4 3.9z" color="#03e866"/><path d="M615.4 881.3l4.4-.6-6.4 0-4.4-.1z" color="#00a799"/><path d="M331.5 827.6l4.3 7.6-6.5 1.5-4.3-7z" color="#00e358"/><path d="M439.8 868.7l4.5-6.7-6.5 1.3-4.5 6.8z" color="#00be92"/><path d="M548.6 855.4l4.4 .3-6.4-7.4-4.4 .1z" color="#00c876"/><path d="M656.5 882.9l4.4-2.3-6.3-4.6-4.4 1.7z" color="#01e3ca"/><path d="M264.2 804.7l4.3 4.7-6.5 4.8-4.4-5.1z" color="#01ff1d"/><path d="M372.4 868.9l4.3 6.2-6.5-1.9-4.3-6.4z" color="#009980"/><path d="M481.5 843.3l4.4-5.1-6.4-5.9-4.4 5.9z" color="#02e664"/><path d="M589.5 876.5l4.4 1.2-6.5-2.9-4.3-1.8z" color="#009983"/><path d="M305.6 814l4.3 6-6.6 4.3-4.3-5.5z" color="#01ff3c"/><path d="M413.5 885.7l4.5-3.1-6.6 1.5-4.4 2.4z" color="#00b4b1"/><path d="M522.7 845.3l4.4-2.1-6.3-8.3-4.4 2.8z" color="#01e166"/><path d="M630.6 880.5l4.4-1.4-6.5 .2-4.3 .7z" color="#00b5a2"/><path d="M346.6 842.8l4.3 7.8-6.5-.4-4.3-7.4z" color="#00c76e"/><path d="M455.3 855.1l4.4-6.9-6.4-.9-4.5 7.4z" color="#00cc79"/><path d="M563.7 862.9l4.3 1.5-6.3-6.5-4.4-1.4z" color="#00af77"/><path d="M671.6 887.2l4.4-3.4-6.3-7.7-4.4 2.3z" color="#02edd7"/><path d="M279.5 809l4.3 4.8-6.6 5.2-4.3-4.8z" color="#02ff2c"/><path d="M387.5 881.8l4.3 3.4-6.5-1.1-4.3-3.9z" color="#006965"/><path d="M496.7 840.5l4.5-4.1-6.4-7.8-4.4 4.7z" color="#03e95b"/><path d="M604.6 880.3l4.4 .3-6.4-.7-4.4-1.1z" color="#009788"/><path d="M320.7 822.8l4.3 6.9-6.5 2.8-4.3-6.3z" color="#00f64f"/><path d="M428.9 876.2l4.4-6.1-6.5 2.2-4.4 5.7z" color="#00b69c"/><path d="M537.9 849.1l4.3-.7-6.3-8.2-4.4 1.3z" color="#00d56a"/><path d="M645.8 879.6l4.4-1.9-6.4-1.3-4.4 1.3z" color="#00cdb2"/><path d="M253.3 803.9l4.3 5.2-6.5 4.4-4.3-5.5z" color="#01ff17"/><path d="M361.7 859.7l4.2 7.1-6.4-1.6-4.3-7.1z" color="#00ab7d"/><path d="M470.6 844.3l4.5-6.1-6.4-3.8-4.5 6.8z" color="#01dc61"/><path d="M578.8 871.2l4.3 1.8-6.4-4.7-4.3-2.1z" color="#009b79"/><path d="M294.7 813.5l4.3 5.3-6.6 5-4.3-5.1z" color="#02ff3a"/><path d="M402.7 887.2l4.3-.7-6.5 .6-4.3-.1z" color="#009f9f"/><path d="M511.9 840.7l4.5-3-6.4-8.9-4.4 3.7z" color="#02e658"/><path d="M619.8 880.7l4.4-.7-6.5 .8-4.3-.1z" color="#009a8b"/><path d="M335.8 835.2l4.3 7.6-6.5 .9-4.3-7z" color="#00db65"/><path d="M444.3 862l4.5-7.3-6.5 1.2-4.5 7.4z" color="#00be80"/><path d="M553 855.7l4.3 .8-6.3-7.8-4.4-.4z" color="#00bf6f"/><path d="M660.9 880.6l4.4-2.2-6.4-4.1-4.3 1.7z" color="#00e0bf"/><path d="M268.5 809.4l4.4 4.8-6.6 4.9-4.3-4.9z" color="#01ff2a"/><path d="M376.7 875.1l4.3 5.1-6.5-1.6-4.3-5.4z" color="#008b7c"/><path d="M485.9 838.2l4.5-4.9-6.4-6.5-4.5 5.5z" color="#03e752"/><path d="M593.9 877.7l4.3 1.1-6.4-2.1-4.4-1.9z" color="#00907c"/><path d="M309.9 820l4.3 6.2-6.6 3.8-4.3-5.7z" color="#01ff4a"/><path d="M418 882.6l4.4-4.6-6.5 2.2-4.5 3.9z" color="#00b3a6"/><path d="M527.1 843.2l4.4-1.7-6.3-9-4.4 2.4z" color="#01de5b"/><path d="M635 879.1l4.4-1.4-6.5 .8-4.4 .8z" color="#00aa94"/><path d="M350.9 850.6l4.3 7.5-6.5-.7-4.3-7.2z" color="#00bf77"/><path d="M459.7 848.2l4.5-7-6.5-1.4-4.4 7.5z" color="#00ce65"/><path d="M568 864.4l4.4 1.8-6.4-6.4-4.3-1.9z" color="#00a672"/><path d="M676 883.8l4.5-3.7-6.4-6.2-4.4 2.2z" color="#02eccb"/><path d="M283.8 813.8l4.3 4.9-6.6 5.2-4.3-4.9z" color="#02ff38"/><path d="M391.8 885.2l4.4 1.8-6.5-.5-4.4-2.4z" color="#005b5a"/><path d="M501.2 836.4l4.4-3.9-6.4-8.4-4.4 4.5z" color="#03e84b"/><path d="M609 880.6l4.4 .1-6.5 .3-4.3-1.1z" color="#008a7b"/><path d="M325 829.7l4.3 7-6.5 2.2-4.3-6.4z" color="#00ee5d"/><path d="M433.3 870.1l4.5-6.8-6.5 2.6-4.5 6.4z" color="#00b38a"/><path d="M542.2 848.4l4.4-.1-6.3-8.8-4.4 .7z" color="#00ce62"/><path d="M650.2 877.7l4.4-1.7-6.5-.8-4.3 1.2z" color="#00c6a5"/><path d="M257.6 809.1l4.4 5.1-6.6 4.5-4.3-5.2z" color="#01ff25"/><path d="M365.9 866.8l4.3 6.4-6.4-1.7-4.3-6.3z" color="#00a17f"/><path d="M475.1 838.2l4.4-5.9-6.4-4.3-4.4 6.4z" color="#01de4e"/><path d="M583.1 873l4.3 1.8-6.3-4.1-4.4-2.4z" color="#009274"/><path d="M299 818.8l4.3 5.5-6.6 4.6-4.3-5.1z" color="#01ff46"/><path d="M407 886.5l4.4-2.4-6.5 1.3-4.4 1.7z" color="#00b0ab"/><path d="M516.4 837.7l4.4-2.8-6.4-9.5-4.4 3.4z" color="#02e44a"/><path d="M624.2 880l4.3-.7-6.4 1.5-4.4 0z" color="#008979"/><path d="M340.1 842.8l4.3 7.4-6.5 .4-4.3-6.9z" color="#00d270"/><path d="M448.8 854.7l4.5-7.4-6.5 1.1-4.5 7.5z" color="#00be6c"/><path d="M557.3 856.5l4.4 1.4-6.4-8.1-4.3-1.1z" color="#00b669"/><path d="M665.3 878.4l4.4-2.3-6.4-3.2-4.4 1.4z" color="#00dbb4"/><path d="M272.9 814.2l4.3 4.8-6.6 4.9-4.3-4.8z" color="#01ff36"/><path d="M381 880.2l4.3 3.9-6.4-1.3-4.4-4.2z" color="#00756c"/><path d="M490.4 833.3l4.4-4.7-6.4-7-4.4 5.2z" color="#03e740"/><path d="M598.2 878.8l4.4 1.1-6.5-1.3-4.3-1.9z" color="#008572"/><path d="M314.2 826.2l4.3 6.3-6.6 3.3-4.3-5.8z" color="#00fe56"/><path d="M422.4 878l4.4-5.7-6.5 2.9-4.4 5z" color="#00af96"/><path d="M531.5 841.5l4.4-1.3-6.3-9.7-4.4 2z" color="#01d950"/><path d="M639.4 877.7l4.4-1.3-6.5 1.4-4.4 .7z" color="#009c84"/><path d="M246.8 808l4.3 5.5-6.6 4.1-4.3-5.4z" color="#01ff1f"/><path d="M355.2 858.1l4.3 7.1-6.5-1.2-4.3-6.6z" color="#00b47d"/><path d="M464.2 841.2l4.5-6.8-6.5-1.8-4.5 7.2z" color="#00cf50"/><path d="M572.4 866.2l4.3 2.1-6.3-6.2-4.4-2.3z" color="#009d6d"/><path d="M680.5 880.1l4.4-4-6.4-4.2-4.4 2z" color="#01e8bd"/><path d="M288.1 818.7l4.3 5.1-6.5 4.8-4.4-4.7z" color="#01ff44"/><path d="M396.2 887l4.3 .1-6.4 .2-4.4-.8z" color="#008f8c"/><path d="M505.6 832.5l4.4-3.7-6.3-9-4.5 4.3z" color="#03e73b"/><path d="M613.4 880.7l4.3 .1-6.4 1.1-4.4-.9z" color="#00786a"/><path d="M329.3 836.7l4.3 7-6.5 1.5-4.3-6.3z" color="#00e568"/><path d="M437.8 863.3l4.5-7.4-6.5 3-4.5 7z" color="#00b077"/><path d="M546.6 848.3l4.4 .4-6.4-9.4-4.3 .2z" color="#00c75b"/><path d="M654.6 876l4.3-1.7-6.4-.2-4.4 1.1z" color="#00bc98"/><path d="M262 814.2l4.3 4.9-6.6 4.4-4.3-4.8z" color="#01ff32"/><path d="M370.2 873.2l4.3 5.4-6.4-1.6-4.3-5.5z" color="#00927c"/><path d="M479.5 832.3l4.5-5.5-6.4-4.8-4.5 6z" color="#01df3b"/><path d="M587.4 874.8l4.4 1.9-6.4-3.4-4.3-2.6z" color="#00896e"/><path d="M303.3 824.3l4.3 5.7-6.5 4.1-4.4-5.2z" color="#01ff52"/><path d="M411.4 884.1l4.5-3.9-6.5 2.2-4.5 3z" color="#00afa2"/><path d="M520.8 834.9l4.4-2.4-6.4-10.3-4.4 3.2z" color="#02e03d"/><path d="M628.5 879.3l4.4-.8-6.5 2.3-4.3 0z" color="#007666"/><path d="M344.4 850.2l4.3 7.2-6.5-.2-4.3-6.6z" color="#00c777"/><path d="M453.3 847.3l4.4-7.5-6.5 1.1-4.4 7.5z" color="#00bc58"/><path d="M561.7 857.9l4.3 1.9-6.3-8.3-4.4-1.7z" color="#00ac64"/><path d="M669.7 876.1l4.4-2.2-6.4-2.1-4.4 1.1z" color="#00d4a6"/><path d="M277.2 819l4.3 4.9-6.5 4.7-4.4-4.7z" color="#01ff41"/><path d="M385.3 884.1l4.4 2.4-6.5-.7-4.3-3z" color="#004d49"/><path d="M494.8 828.6l4.4-4.5-6.3-7.4-4.5 4.9z" color="#03e62f"/><path d="M602.6 879.9l4.3 1.1-6.4-.5-4.4-1.9z" color="#007666"/><path d="M318.5 832.5l4.3 6.4-6.6 2.6-4.3-5.7z" color="#00f562"/><path d="M426.8 872.3l4.5-6.4-6.5 3.5-4.5 5.8z" color="#00a984"/><path d="M535.9 840.2l4.4-.7-6.3-10.5-4.4 1.5z" color="#00d447"/><path d="M643.8 876.4l4.3-1.2-6.4 1.9-4.4 .7z" color="#008c73"/><path d="M251.1 813.5l4.3 5.2-6.6 3.8-4.3-4.9z" color="#00ff2c"/><path d="M359.5 865.2l4.3 6.3-6.5-1.4-4.3-6.1z" color="#00a77e"/><path d="M468.7 834.4l4.4-6.4-6.4-2-4.5 6.6z" color="#00d03c"/><path d="M576.7 868.3l4.4 2.4-6.4-5.9-4.3-2.7z" color="#009469"/><path d="M684.9 876.1l4.4-4.2-6.4-1.8-4.4 1.8z" color="#00dea9"/><path d="M292.4 823.8l4.3 5.1-6.5 4.5-4.3-4.8z" color="#01ff4f"/><path d="M400.5 887.1l4.4-1.7-6.5 1.1-4.3 .8z" color="#00aaa4"/><path d="M510 828.8l4.4-3.4-6.3-9.7-4.4 4.1z" color="#03e52c"/><path d="M617.7 880.8l4.4 0-6.5 2-4.3-.9z" color="#006256"/><path d="M333.6 843.7l4.3 6.9-6.5 .8-4.3-6.2z" color="#00d971"/><path d="M442.3 855.9l4.5-7.5-6.6 3.4-4.4 7.1z" color="#00ab62"/><path d="M551 848.7l4.3 1.1-6.3-10-4.4-.5z" color="#00be55"/><path d="M658.9 874.3l4.4-1.4-6.4 .4-4.4 .8z" color="#00b089"/><path d="M266.3 819.1l4.3 4.8-6.5 4.3-4.4-4.7z" color="#01ff3d"/><path d="M374.5 878.6l4.4 4.2-6.5-1.4-4.3-4.4z" color="#007c6e"/><path d="M484 826.8l4.4-5.2-6.4-5-4.4 5.4z" color="#02df28"/><path d="M591.8 876.7l4.3 1.9-6.4-2.7-4.3-2.6z" color="#007f67"/><path d="M307.6 830l4.3 5.8-6.5 3.4-4.3-5.1z" color="#00ff5d"/><path d="M415.9 880.2l4.4-5-6.5 3.1-4.4 4.1z" color="#00a993"/><path d="M525.2 832.5l4.4-2-6.3-11.1-4.5 2.8z" color="#01dd31"/><path d="M632.9 878.5l4.4-.7-6.5 3-4.4 0z" color="#006354"/><path d="M240.2 812.2l4.3 5.4-6.6 3.6-4.3-4.7z" color="#00fe26"/><path d="M348.7 857.4l4.3 6.6-6.5-.6-4.3-6.2z" color="#00ba7b"/><path d="M457.7 839.8l4.5-7.2-6.5 1.2-4.5 7.1z" color="#00ba43"/><path d="M566 859.8l4.4 2.3-6.4-8.3-4.3-2.3z" color="#00a460"/><path d="M674.1 873.9l4.4-2-6.4-.9-4.4 .8z" color="#00c897"/><path d="M281.5 823.9l4.4 4.7-6.6 4.4-4.3-4.4z" color="#01ff4c"/><path d="M389.7 886.5l4.4 .8-6.5-.1-4.4-1.4z" color="#007c77"/><path d="M499.2 824.1l4.5-4.3-6.4-7.9-4.4 4.8z" color="#03e51e"/><path d="M606.9 881l4.4 .9-6.5 .5-4.3-1.9z" color="#006457"/><path d="M322.8 838.9l4.3 6.3-6.5 1.9-4.4-5.6z" color="#00ea6b"/><path d="M431.3 865.9l4.5-7-6.6 4.3-4.4 6.2z" color="#00a170"/><path d="M540.3 839.5l4.3-.2-6.3-11.3-4.3 1z" color="#00cd40"/><path d="M648.1 875.2l4.4-1.1-6.5 2.5-4.3 .5z" color="#007b62"/><path d="M255.4 818.7l4.3 4.8-6.5 3.7-4.4-4.7z" color="#00fb36"/><path d="M363.8 871.5l4.3 5.5-6.5-1.5-4.3-5.4z" color="#009679"/><path d="M473.1 828l4.5-6-6.5-1.9-4.4 5.9z" color="#00cf28"/><path d="M581.1 870.7l4.3 2.6-6.4-5.5-4.3-3z" color="#008c66"/><path d="M689.3 871.9l4.4-4.5-6.4 1.1-4.4 1.6z" color="#00c68d"/><path d="M296.7 828.9l4.4 5.2-6.6 3.9-4.3-4.6z" color="#00ff59"/><path d="M404.9 885.4l4.5-3-6.6 1.9-4.4 2.2z" color="#00ab9f"/><path d="M514.4 825.4l4.4-3.2-6.3-10.4-4.4 3.9z" color="#03e21d"/><path d="M622.1 880.8l4.3 0-6.4 2.8-4.4-.8z" color="#004d43"/><path d="M337.9 850.6l4.3 6.6-6.5 .2-4.3-6z" color="#00cb76"/><path d="M446.8 848.4l4.4-7.5-6.5 3.9-4.5 7z" color="#00a44e"/><path d="M555.3 849.8l4.4 1.7-6.3-10.5-4.4-1.2z" color="#00b551"/><path d="M663.3 872.9l4.4-1.1-6.4 1-4.4 .5z" color="#009f77"/><path d="M270.6 823.9l4.4 4.7-6.6 3.9-4.3-4.3z" color="#00ff47"/><path d="M378.9 882.8l4.3 3-6.5-1.1-4.3-3.3z" color="#005851"/><path d="M488.4 821.6l4.5-4.9-6.4-5.2-4.5 5.1z" color="#02de16"/><path d="M596.1 878.6l4.4 1.9-6.5-1.9-4.3-2.7z" color="#00745f"/><path d="M311.9 835.8l4.3 5.7-6.5 2.7-4.3-5z" color="#00f666"/><path d="M420.3 875.2l4.5-5.8-6.6 4.1-4.4 4.8z" color="#00a080"/><path d="M529.6 830.5l4.4-1.5-6.3-12.1-4.4 2.5z" color="#01d827"/><path d="M637.3 877.8l4.4-.7-6.5 3.6-4.4 .1z" color="#005143"/><path d="M244.5 817.6l4.3 4.9-6.5 3.2-4.4-4.5z" color="#00f52f"/><path d="M353 864l4.3 6.1-6.5-1-4.3-5.7z" color="#00aa7b"/><path d="M462.2 832.6l4.5-6.6-6.5 1.4-4.5 6.4z" color="#00b630"/><path d="M570.4 862.1l4.3 2.7-6.4-8.3-4.3-2.7z" color="#009c5e"/><path d="M678.5 871.9l4.4-1.8-6.5 .5-4.3 .4z" color="#00b382"/><path d="M285.9 828.6l4.3 4.8-6.6 3.9-4.3-4.3z" color="#00ff55"/><path d="M394.1 887.3l4.3-.8-6.5 .6-4.3 .1z" color="#00a199"/><path d="M503.7 819.8l4.4-4.1-6.4-8.4-4.4 4.6z" color="#04e40d"/><path d="M611.3 881.9l4.3 .9-6.5 1.3-4.3-1.7z" color="#005045"/><path d="M327.1 845.2l4.3 6.2-6.5 1.2-4.3-5.5z" color="#00dc71"/><path d="M435.8 858.9l4.4-7.1-6.5 5.1-4.5 6.3z" color="#00985b"/><path d="M544.6 839.3l4.4 .5-6.3-12.2-4.4 .4z" color="#00c63a"/><path d="M652.5 874.1l4.4-.8-6.5 2.9-4.4 .4z" color="#006951"/><path d="M259.7 823.5l4.4 4.7-6.6 3.3-4.3-4.3z" color="#00f53f"/><path d="M368.1 877l4.3 4.4-6.5-1.5-4.3-4.4z" color="#007f6c"/><path d="M477.6 822l4.4-5.4-6.4-1.9-4.5 5.4z" color="#00ce16"/><path d="M585.4 873.3l4.3 2.6-6.4-5-4.3-3.1z" color="#008563"/><path d="M693.7 867.4l4.5-4.7-6.5 4.5-4.4 1.3z" color="#009563"/><path d="M301.1 834.1l4.3 5.1-6.6 3.3-4.3-4.5z" color="#00fc61"/><path d="M409.4 882.4l4.4-4.1-6.5 2.9-4.5 3.1z" color="#00a490"/><path d="M518.8 822.2l4.5-2.8-6.4-11.3-4.4 3.7z" color="#02e00f"/><path d="M626.4 880.8l4.4 0-6.5 3.5-4.3-.7z" color="#006354"/><path d="M233.6 816.5l4.3 4.7-6.5 3.2-4.4-3.7z" color="#00f72b"/><path d="M342.2 857.2l4.3 6.2-6.5-.4-4.3-5.6z" color="#00bb77"/><path d="M451.2 840.9l4.5-7.1-6.5 4.6-4.5 6.4z" color="#009b3a"/><path d="M559.7 851.5l4.3 2.3-6.3-11-4.3-1.8z" color="#00ae4e"/><path d="M667.7 871.8l4.4-.8-6.5 1.7-4.3 .1z" color="#008763"/><path d="M275 828.6l4.3 4.4-6.6 3.6-4.3-4.1z" color="#00fb4f"/><path d="M383.2 885.8l4.4 1.4-6.5-.6-4.4-1.9z" color="#006d66"/><path d="M492.9 816.7l4.4-4.8-6.4-5.4-4.4 5z" color="#02de04"/><path d="M600.5 880.5l4.3 1.9-6.4-1.2-4.4-2.6z" color="#006756"/><path d="M316.2 841.5l4.4 5.6-6.6 2.1-4.3-5z" color="#00e96c"/><path d="M424.8 869.4l4.4-6.2-6.5 5.1-4.5 5.2z" color="#00956b"/><path d="M534 829l4.3-1-6.2-13.2-4.4 2.1z" color="#00d31d"/><path d="M641.7 877.1l4.3-.5-6.5 4-4.3 .1z" color="#005847"/><path d="M248.8 822.5l4.4 4.7-6.6 2.6-4.3-4.1z" color="#00e836"/><path d="M357.3 870.1l4.3 5.4-6.5-1.4-4.3-5z" color="#009674"/><path d="M466.7 826l4.4-5.9-6.5 1.8-4.4 5.5z" color="#00b01d"/><path d="M574.7 864.8l4.3 3-6.3-8.3-4.4-3z" color="#00965d"/><path d="M682.9 870.1l4.4-1.6-6.5 2.2-4.4-.1z" color="#008e63"/><path d="M290.2 833.4l4.3 4.6-6.6 3.4-4.3-4.1z" color="#00fb5c"/><path d="M398.4 886.5l4.4-2.2-6.5 1.6-4.4 1.2z" color="#00a89b"/><path d="M508.1 815.7l4.4-3.9-6.3-8.9-4.5 4.4z" color="#0ae404"/><path d="M615.6 882.8l4.4 .8-6.5 2.1-4.4-1.6z" color="#006155"/><path d="M331.4 851.4l4.3 6-6.5 .5-4.3-5.3z" color="#00cb73"/><path d="M440.2 851.8l4.5-7-6.6 6.1-4.4 6z" color="#008c47"/><path d="M549 839.8l4.4 1.2-6.3-13.1-4.4-.3z" color="#00bf35"/><path d="M656.9 873.3l4.4-.5-6.5 3.2-4.4 .2z" color="#005640"/><path d="M264.1 828.2l4.3 4.3-6.6 2.9-4.3-3.9z" color="#00ed46"/><path d="M372.4 881.4l4.3 3.3-6.4-1.3-4.4-3.5z" color="#005c51"/><path d="M482 816.6l4.5-5.1-6.5-1.8-4.4 5z" color="#00cb04"/><path d="M589.7 875.9l4.3 2.7-6.4-4.4-4.3-3.3z" color="#007e60"/><path d="M305.4 839.2l4.3 5-6.5 2.6-4.4-4.3z" color="#00f067"/><path d="M413.8 878.3l4.4-4.8-6.5 4-4.4 3.7z" color="#00997d"/><path d="M523.3 819.4l4.4-2.5-6.3-12.3-4.5 3.5z" color="#02dc02"/><path d="M630.8 880.8l4.4-.1-6.5 4.1-4.4-.5z" color="#007563"/><path d="M237.9 821.2l4.4 4.5-6.6 2.2-4.3-3.5z" color="#00df2e"/><path d="M346.5 863.4l4.3 5.7-6.5-1-4.3-5.1z" color="#00a774"/><path d="M455.7 833.8l4.5-6.4-6.6 5.3-4.4 5.7z" color="#008e27"/><path d="M564 853.8l4.3 2.7-6.3-11.4-4.3-2.3z" color="#00a84e"/><path d="M672.1 871l4.3-.4-6.4 2.3-4.4-.2z" color="#00684a"/><path d="M279.3 833l4.3 4.3-6.5 3.1-4.4-3.8z" color="#00f255"/><path d="M387.6 887.2l4.3-.1-6.4 .1-4.4-.6z" color="#00978c"/><path d="M497.3 811.9l4.4-4.6-6.4-5.6-4.4 4.8z" color="#11df02"/><path d="M604.8 882.4l4.3 1.7-6.4-.3-4.3-2.6z" color="#00594c"/><path d="M320.6 847.1l4.3 5.5-6.6 1.3-4.3-4.7z" color="#00d86e"/><path d="M429.2 863.2l4.5-6.3-6.6 6.3-4.4 5.1z" color="#008756"/><path d="M538.3 828l4.4-.4-6.2-14.4-4.4 1.6z" color="#00ce16"/><path d="M646 876.6l4.4-.4-6.5 4.4-4.4 0z" color="#006953"/><path d="M253.2 827.2l4.3 4.3-6.5 2-4.4-3.7z" color="#00d93b"/><path d="M361.6 875.5l4.3 4.4-6.5-1.5-4.3-4.3z" color="#007c64"/><path d="M471.1 820.1l4.5-5.4-6.5 2.4-4.5 4.8z" color="#00a70e"/><path d="M579 867.8l4.3 3.1-6.3-8-4.3-3.4z" color="#00915d"/><path d="M687.3 868.5l4.4-1.3-6.5 4.1-4.4-.6z" color="#005338"/><path d="M294.5 838l4.3 4.5-6.5 2.8-4.4-3.9z" color="#00f061"/><path d="M402.8 884.3l4.5-3.1-6.6 2.6-4.4 2.1z" color="#00a18e"/><path d="M512.5 811.8l4.4-3.7-6.3-9.7-4.4 4.5z" color="#1ae503"/><path d="M620 883.6l4.3 .7-6.5 2.8-4.3-1.4z" color="#007868"/><path d="M227 820.7l4.4 3.7-6.6 2.5-4.3-1.9z" color="#00db2a"/><path d="M335.7 857.4l4.3 5.6-6.5-.2-4.3-4.9z" color="#00b771"/><path d="M444.7 844.8l4.5-6.4-6.6 7.1-4.5 5.4z" color="#007b33"/><path d="M553.4 841l4.3 1.8-6.3-14.1-4.3-.8z" color="#00b933"/><path d="M661.3 872.8l4.3-.1-6.5 3.4-4.3-.1z" color="#00563f"/><path d="M268.4 832.5l4.3 4.1-6.5 2.5-4.4-3.7z" color="#00e14a"/><path d="M376.7 884.7l4.4 1.9-6.5-1-4.3-2.2z" color="#00665b"/><path d="M486.5 811.5l4.4-5-6.4-1.6-4.5 4.8z" color="#0ccb00"/><path d="M594 878.6l4.4 2.6-6.4-3.8-4.4-3.2z" color="#00775d"/><path d="M309.7 844.2l4.3 5-6.5 1.8-4.3-4.2z" color="#00e069"/><path d="M418.2 873.5l4.5-5.2-6.6 5.3-4.4 3.9z" color="#008b68"/><path d="M527.7 816.9l4.4-2.1-6.3-13.5-4.4 3.3z" color="#0dda01"/><path d="M635.2 880.7l4.3-.1-6.5 4.6-4.3-.4z" color="#00826c"/><path d="M242.3 825.7l4.3 4.1-6.5 1.3-4.4-3.2z" color="#00c22e"/><path d="M350.8 869.1l4.3 5-6.5-1.4-4.3-4.6z" color="#00906a"/><path d="M460.2 827.4l4.4-5.5-6.5 6.3-4.5 4.5z" color="#007a17"/><path d="M568.3 856.5l4.4 3-6.3-11.6-4.4-2.8z" color="#00a34e"/><path d="M676.4 870.6l4.4 .1-6.5 3-4.3-.8z" color="#00563c"/><path d="M283.6 837.3l4.3 4.1-6.5 2.6-4.3-3.6z" color="#00e658"/><path d="M391.9 887.1l4.4-1.2-6.5 .9-4.3 .4z" color="#00a596"/><path d="M501.7 807.3l4.5-4.4-6.4-6.1-4.5 4.9z" color="#23e202"/><path d="M609.1 884.1l4.4 1.6-6.5 .4-4.3-2.3z" color="#004c41"/><path d="M324.9 852.6l4.3 5.3-6.5 .5-4.4-4.5z" color="#00c46d"/><path d="M433.7 856.9l4.4-6-6.5 7.5-4.5 4.8z" color="#007542"/><path d="M542.7 827.6l4.4 .3-6.3-15.8-4.3 1.1z" color="#00c810"/><path d="M650.4 876.2l4.4-.2-6.5 4.6-4.4 0z" color="#00775c"/><path d="M257.5 831.5l4.3 3.9-6.5 1.6-4.3-3.5z" color="#00c53c"/><path d="M365.9 879.9l4.4 3.5-6.5-1.7-4.4-3.3z" color="#00594b"/><path d="M475.6 814.7l4.4-5-6.5 3-4.4 4.4z" color="#009d00"/><path d="M583.3 870.9l4.3 3.3-6.3-7.8-4.3-3.5z" color="#008d5e"/><path d="M298.8 842.5l4.4 4.3-6.6 2.2-4.3-3.7z" color="#00e062"/><path d="M407.3 881.2l4.4-3.7-6.5 3.7-4.5 2.6z" color="#00957c"/><path d="M516.9 808.1l4.5-3.5-6.4-10.7-4.4 4.5z" color="#29e603"/><path d="M624.3 884.3l4.4 .5-6.5 3.5-4.4-1.2z" color="#008674"/><path d="M231.4 824.4l4.3 3.5-6.5 1-4.4-2z" color="#00a824"/><path d="M340 863l4.3 5.1-6.5-.8-4.3-4.5z" color="#009f69"/><path d="M449.2 838.4l4.4-5.7-6.6 8.4-4.4 4.4z" color="#006421"/><path d="M557.7 842.8l4.3 2.3-6.2-14.9-4.4-1.5z" color="#00b433"/><path d="M665.6 872.7l4.4 .2-6.5 3.6-4.4-.4z" color="#007051"/><path d="M272.7 836.6l4.4 3.8-6.6 2-4.3-3.3z" color="#00d14c"/><path d="M381.1 886.6l4.4 .6-6.5-.6-4.4-1z" color="#008e80"/><path d="M490.9 806.5l4.4-4.8-6.4-1.5-4.4 4.7z" color="#1ccb00"/><path d="M598.4 881.2l4.3 2.6-6.4-3.1-4.3-3.3z" color="#00715b"/><path d="M314 849.2l4.3 4.7-6.5 1.1-4.3-4z" color="#00cc67"/><path d="M422.7 868.3l4.4-5.1-6.6 6.5-4.4 3.9z" color="#007853"/><path d="M532.1 814.8l4.4-1.6-6.3-14.9-4.4 3z" color="#17d801"/><path d="M639.5 880.6l4.4 0-6.5 4.9-4.4-.3z" color="#008870"/><path d="M246.6 829.8l4.4 3.7-6.6 .5-4.3-2.9z" color="#00a12b"/><path d="M355.1 874.1l4.3 4.3-6.4-1.7-4.4-4z" color="#007359"/><path d="M464.6 821.9l4.5-4.8-6.6 7.3-4.4 3.8z" color="#00640c"/><path d="M572.7 859.5l4.3 3.4-6.3-11.9-4.3-3.1z" color="#009f50"/><path d="M680.8 870.7l4.4 .6-6.5 3.7-4.4-1.3z" color="#008f63"/><path d="M287.9 841.4l4.4 3.9-6.6 2.1-4.3-3.4z" color="#00d558"/><path d="M396.3 885.9l4.4-2.1-6.5 1.8-4.4 1.2z" color="#00a38f"/><path d="M506.2 802.9l4.4-4.5-6.4-6.6-4.4 5z" color="#35e503"/><path d="M613.5 885.7l4.3 1.4-6.4 1.2-4.4-2.2z" color="#005e51"/><path d="M329.2 857.9l4.3 4.9-6.5-.2-4.3-4.2z" color="#00ab66"/><path d="M438.1 850.9l4.5-5.4-6.6 8.8-4.4 4.1z" color="#005e2d"/><path d="M547.1 827.9l4.3 .8-6.2-17.2-4.4 .6z" color="#00c30c"/><path d="M654.8 876l4.3 .1-6.5 4.5-4.3 0z" color="#008162"/><path d="M261.8 835.4l4.4 3.7-6.6 1-4.3-3.1z" color="#00af3a"/><path d="M370.3 883.4l4.3 2.2-6.5-1.5-4.3-2.4z" color="#006557"/><path d="M480 809.7l4.5-4.8-6.6 3.6-4.4 4.2z" color="#0b9500"/><path d="M587.6 874.2l4.4 3.2-6.4-7.3-4.3-3.7z" color="#00895f"/><path d="M303.2 846.8l4.3 4.2-6.5 1.5-4.4-3.5z" color="#00cc60"/><path d="M411.7 877.5l4.4-3.9-6.5 4.8-4.4 2.8z" color="#008467"/><path d="M521.4 804.6l4.4-3.3-6.3-12-4.5 4.6z" color="#38e603"/><path d="M628.7 884.8l4.3 .4-6.5 4-4.3-.9z" color="#008d79"/><path d="M235.7 827.9l4.4 3.2-6.5-.3-4.4-1.9z" color="#00711a"/><path d="M344.3 868.1l4.3 4.6-6.4-1.3-4.4-4.1z" color="#00845c"/><path d="M453.6 832.7l4.5-4.5-6.7 9.7-4.4 3.2z" color="#004b14"/><path d="M562 845.1l4.4 2.8-6.3-15.8-4.3-1.9z" color="#00af33"/><path d="M670 872.9l4.3 .8-6.5 3.5-4.3-.7z" color="#008962"/><path d="M277.1 840.4l4.3 3.6-6.5 1.5-4.4-3.1z" color="#00bd4a"/><path d="M385.5 887.2l4.3-.4-6.5 0-4.3-.2z" color="#00a491"/><path d="M495.3 801.7l4.5-4.9-6.5-1.6-4.4 5z" color="#2ccd00"/><path d="M602.7 883.8l4.3 2.3-6.4-2.4-4.3-3z" color="#006c58"/><path d="M318.3 853.9l4.4 4.5-6.5 .4-4.4-3.8z" color="#00b361"/><path d="M427.1 863.2l4.5-4.8-6.6 7.8-4.5 3.5z" color="#00613c"/><path d="M536.5 813.2l4.3-1.1-6.2-16.7-4.4 2.9z" color="#1fd501"/><path d="M643.9 880.6l4.4 0-6.6 5-4.3-.1z" color="#008a6f"/><path d="M251 833.5l4.3 3.5-6.5-.2-4.4-2.8z" color="#008025"/><path d="M359.4 878.4l4.4 3.3-6.5-1.8-4.3-3.2z" color="#004f3f"/><path d="M469.1 817.1l4.4-4.4-6.6 8.4-4.4 3.3z" color="#005004"/><path d="M577 862.9l4.3 3.5-6.3-11.9-4.3-3.5z" color="#009c52"/><path d="M292.3 845.3l4.3 3.7-6.5 1.5-4.4-3.1z" color="#00c055"/><path d="M400.7 883.8l4.5-2.6-6.6 2.7-4.4 1.7z" color="#00977f"/><path d="M510.6 798.4l4.4-4.5-6.3-7.5-4.5 5.4z" color="#48e803"/><path d="M617.8 887.1l4.4 1.2-6.5 1.8-4.3-1.8z" color="#006b5d"/><path d="M333.5 862.8l4.3 4.5-6.5-.9-4.3-3.8z" color="#008f5b"/><path d="M442.6 845.5l4.4-4.4-6.6 10.2-4.4 3z" color="#005624"/><path d="M551.4 828.7l4.4 1.5-6.2-18.7-4.4 0z" color="#00be0a"/><path d="M659.1 876.1l4.4 .4-6.5 4.3-4.4-.2z" color="#008765"/><path d="M266.2 839.1l4.3 3.3-6.5 .6-4.4-2.9z" color="#009635"/><path d="M374.6 885.6l4.4 1-6.5-1.2-4.4-1.3z" color="#008a77"/><path d="M484.5 804.9l4.4-4.7-6.5 4-4.5 4.3z" color="#158f00"/><path d="M592 877.4l4.3 3.3-6.4-6.9-4.3-3.7z" color="#008761"/><path d="M307.5 851l4.3 4-6.5 .8-4.3-3.3z" color="#00b359"/><path d="M416.1 873.6l4.4-3.9-6.5 6-4.4 2.7z" color="#006e50"/><path d="M525.8 801.3l4.4-3-6.3-13.6-4.4 4.6z" color="#46e703"/><path d="M633 885.2l4.4 .3-6.5 4.3-4.4-.6z" color="#008c77"/><path d="M240.1 831.1l4.3 2.9-6.5-1.3-4.3-1.9z" color="#004b12"/><path d="M348.6 872.7l4.4 4-6.5-1.8-4.3-3.5z" color="#006449"/><path d="M458.1 828.2l4.4-3.8-6.6 11.1-4.5 2.4z" color="#007016"/><path d="M566.4 847.9l4.3 3.1-6.2-16.5-4.4-2.4z" color="#00ac35"/><path d="M674.3 873.7l4.4 1.3-6.5 3.3-4.4-1.1z" color="#00a072"/><path d="M281.4 844l4.3 3.4-6.5 1-4.3-2.9z" color="#00a644"/><path d="M389.8 886.8l4.4-1.2-6.5 .7-4.4 .5z" color="#00a791"/><path d="M499.8 796.8l4.4-5-6.4-1.9-4.5 5.3z" color="#3dcf00"/><path d="M607 886.1l4.4 2.2-6.5-1.7-4.3-2.9z" color="#006756"/><path d="M322.7 858.4l4.3 4.2-6.5-.4-4.3-3.4z" color="#009656"/><path d="M431.6 858.4l4.4-4.1-6.6 9.2-4.4 2.7z" color="#00522e"/><path d="M540.8 812.1l4.4-.6-6.2-18.5-4.4 2.4z" color="#27d200"/><path d="M648.3 880.6l4.3 0-6.5 4.9-4.4 .1z" color="#00876b"/><path d="M255.3 837l4.3 3.1-6.5-.8-4.3-2.5z" color="#00611e"/><path d="M363.8 881.7l4.3 2.4-6.4-1.9-4.4-2.3z" color="#006956"/><path d="M473.5 812.7l4.4-4.2-6.6 9.5-4.4 3.1z" color="#014d00"/><path d="M581.3 866.4l4.3 3.7-6.3-11.9-4.3-3.7z" color="#009955"/><path d="M296.6 849l4.4 3.5-6.6 .9-4.3-2.9z" color="#00a64d"/><path d="M405.2 881.2l4.4-2.8-6.6 3.8-4.4 1.7z" color="#00846b"/><path d="M515 793.9l4.5-4.6-6.4-8.6-4.4 5.7z" color="#5bec04"/><path d="M622.2 888.3l4.3 .9-6.5 2.4-4.3-1.5z" color="#007162"/><path d="M337.8 867.3l4.4 4.1-6.5-1.5-4.4-3.5z" color="#00714b"/><path d="M447 841.1l4.4-3.2-6.6 11.7-4.4 1.7z" color="#008530"/><path d="M555.8 830.2l4.3 1.9-6.1-20.1-4.4-.5z" color="#00ba09"/><path d="M663.5 876.5l4.3 .7-6.5 3.8-4.3-.2z" color="#008864"/><path d="M270.5 842.4l4.4 3.1-6.5 .1-4.4-2.6z" color="#007b2e"/><path d="M379 886.6l4.3 .2-6.4-.8-4.4-.6z" color="#00a18a"/><path d="M488.9 800.2l4.4-5-6.5 4.4-4.4 4.6z" color="#208d00"/><path d="M596.3 880.7l4.3 3-6.4-6.3-4.3-3.6z" color="#008663"/><path d="M311.8 855l4.4 3.8-6.5 0-4.4-3z" color="#00954f"/><path d="M420.5 869.7l4.5-3.5-6.6 7.4-4.4 2.1z" color="#005137"/><path d="M530.2 798.3l4.4-2.9-6.2-15.5-4.5 4.8z" color="#54e602"/><path d="M637.4 885.5l4.3 .1-6.5 4.5-4.3-.3z" color="#00846f"/><path d="M244.4 834l4.4 2.8-6.5-2.2-4.4-1.9z" color="#00631a"/><path d="M353 876.7l4.3 3.2-6.5-2.1-4.3-2.9z" color="#00533f"/><path d="M462.5 824.4l4.4-3.3-6.6 12.5-4.4 1.9z" color="#008914"/><path d="M570.7 851l4.3 3.5-6.2-17-4.3-3z" color="#00a938"/><path d="M285.7 847.4l4.4 3.1-6.5 .4-4.4-2.5z" color="#008b3c"/><path d="M394.2 885.6l4.4-1.7-6.5 1.5-4.4 .9z" color="#00a087"/><path d="M504.2 791.8l4.5-5.4-6.5-2.5-4.4 6z" color="#50d400"/><path d="M611.4 888.3l4.3 1.8-6.4-1-4.4-2.5z" color="#006455"/><path d="M327 862.6l4.3 3.8-6.5-1-4.3-3.2z" color="#007748"/><path d="M436 854.3l4.4-3-6.6 10.7-4.4 1.5z" color="#008242"/><path d="M545.2 811.5l4.4 0-6.2-20.4-4.4 1.9z" color="#2cce00"/><path d="M652.6 880.6l4.4 .2-6.5 4.4-4.4 .3z" color="#007d61"/><path d="M259.6 840.1l4.4 2.9-6.5-1.3-4.4-2.4z" color="#004b19"/><path d="M368.1 884.1l4.4 1.3-6.5-1.7-4.3-1.5z" color="#008a72"/><path d="M477.9 808.5l4.5-4.3-6.7 10.4-4.4 3.4z" color="#075800"/><path d="M585.6 870.1l4.3 3.7-6.3-11.7-4.3-3.9z" color="#009859"/><path d="M301 852.5l4.3 3.3-6.5 .2-4.4-2.6z" color="#008943"/><path d="M409.6 878.4l4.4-2.7-6.6 4.9-4.4 1.6z" color="#006c52"/><path d="M519.5 789.3l4.4-4.6-6.3-10.3-4.5 6.3z" color="#70f005"/><path d="M626.5 889.2l4.4 .6-6.5 2.9-4.4-1.1z" color="#006e60"/><path d="M342.2 871.4l4.3 3.5-6.5-2-4.3-3z" color="#005037"/><path d="M451.4 837.9l4.5-2.4-6.7 13.3-4.4 .8z" color="#00a836"/><path d="M560.1 832.1l4.4 2.4-6.2-21.3-4.3-1.2z" color="#00b609"/><path d="M667.8 877.2l4.4 1.1-6.5 3-4.4-.3z" color="#008360"/><path d="M274.9 845.5l4.3 2.9-6.5-.4-4.3-2.4z" color="#006026"/><path d="M383.3 886.8l4.4-.5-6.5-.3-4.3 0z" color="#00a98f"/><path d="M493.3 795.2l4.5-5.3-6.6 4.4-4.4 5.3z" color="#2b9000"/><path d="M600.6 883.7l4.3 2.9-6.3-5.7-4.4-3.5z" color="#008566"/><path d="M316.2 858.8l4.3 3.4-6.5-.6-4.3-2.8z" color="#007541"/><path d="M425 866.2l4.4-2.7-6.6 8.7-4.4 1.4z" color="#007047"/><path d="M534.6 795.4l4.4-2.4-6.2-17.6-4.4 4.5z" color="#60e302"/><path d="M641.7 885.6l4.4-.1-6.5 4.4-4.4 .2z" color="#007661"/><path d="M248.8 836.8l4.3 2.5-6.4-2.8-4.4-1.9z" color="#007420"/><path d="M357.3 879.9l4.4 2.3-6.5-2.2-4.4-2.2z" color="#007157"/><path d="M466.9 821.1l4.4-3.1-6.6 13.9-4.4 1.7z" color="#00960f"/><path d="M575 854.5l4.3 3.7-6.2-17.4-4.3-3.3z" color="#00a63b"/><path d="M290.1 850.5l4.3 2.9-6.5-.1-4.3-2.4z" color="#006e32"/><path d="M398.6 883.9l4.4-1.7-6.5 2.2-4.4 1z" color="#009176"/><path d="M508.7 786.4l4.4-5.7-6.4-3.5-4.5 6.7z" color="#66da01"/><path d="M615.7 890.1l4.3 1.5-6.4-.3-4.3-2.2z" color="#006456"/><path d="M331.3 866.4l4.4 3.5-6.5-1.6-4.4-2.9z" color="#005736"/><path d="M440.4 851.3l4.4-1.7-6.6 12.2-4.4 .2z" color="#00b355"/><path d="M549.6 811.5l4.4 .5-6.2-22.2-4.4 1.3z" color="#30c900"/><path d="M657 880.8l4.3 .2-6.5 3.8-4.3 .4z" color="#006b51"/><path d="M264 843l4.4 2.6-6.5-1.7-4.4-2.2z" color="#005c20"/><path d="M372.5 885.4l4.4 .6-6.5-1.5-4.4-.8z" color="#009f83"/><path d="M482.4 804.2l4.4-4.6-6.6 11.1-4.5 3.9z" color="#0e5900"/><path d="M589.9 873.8l4.3 3.6-6.2-11.3-4.4-4z" color="#00975d"/><path d="M305.3 855.8l4.4 3-6.6-.4-4.3-2.4z" color="#006a36"/><path d="M414 875.7l4.4-2.1-6.6 5.9-4.4 1.1z" color="#004b37"/><path d="M523.9 784.7l4.5-4.8-6.3-12.1-4.5 6.6z" color="#86f406"/><path d="M630.9 889.8l4.3 .3-6.5 3.1-4.3-.5z" color="#006255"/><path d="M346.5 874.9l4.3 2.9-6.4-2.3-4.4-2.6z" color="#006045"/><path d="M455.9 835.5l4.4-1.9-6.7 14.9-4.4 .3z" color="#00bc36"/><path d="M564.5 834.5l4.3 3-6.1-22.5-4.4-1.8z" color="#00b20b"/><path d="M279.2 848.4l4.4 2.5-6.5-.8-4.4-2.1z" color="#004a1f"/><path d="M387.7 886.3l4.4-.9-6.5 .3-4.4 .3z" color="#00a88b"/><path d="M497.8 789.9l4.4-6-6.5 4.2-4.5 6.2z" color="#3b9700"/><path d="M604.9 886.6l4.4 2.5-6.4-4.9-4.3-3.3z" color="#00866a"/><path d="M320.5 862.2l4.3 3.2-6.4-1.2-4.4-2.6z" color="#005531"/><path d="M429.4 863.5l4.4-1.5-6.6 10-4.4 .2z" color="#00a765"/><path d="M539 793l4.4-1.9-6.2-19.8-4.4 4.1z" color="#6be001"/><path d="M646.1 885.5l4.4-.3-6.5 4.1-4.4 .6z" color="#00604d"/><path d="M253.1 839.3l4.4 2.4-6.5-3.4-4.3-1.8z" color="#008024"/><path d="M361.7 882.2l4.3 1.5-6.5-2.2-4.3-1.5z" color="#008c6d"/><path d="M471.3 818l4.4-3.4-6.6 15.2-4.4 2.1z" color="#009908"/><path d="M579.3 858.2l4.3 3.9-6.2-17.5-4.3-3.8z" color="#00a43f"/><path d="M294.4 853.4l4.4 2.6-6.5-.6-4.4-2.1z" color="#005226"/><path d="M403 882.2l4.4-1.6-6.5 3.1-4.4 .7z" color="#007a5f"/><path d="M513.1 780.7l4.5-6.3-6.4-4.8-4.5 7.6z" color="#7fe101"/><path d="M620 891.6l4.4 1.1-6.5 .3-4.3-1.7z" color="#006759"/><path d="M335.7 869.9l4.3 3-6.5-2.1-4.3-2.5z" color="#00593a"/><path d="M444.8 849.6l4.4-.8-6.7 13.8-4.3-.8z" color="#00d360"/><path d="M554 812l4.3 1.2-6.1-24-4.4 .6z" color="#32c500"/><path d="M661.3 881l4.4 .3-6.5 2.8-4.4 .7z" color="#004c39"/><path d="M268.4 845.6l4.3 2.4-6.5-2.1-4.3-2z" color="#006b27"/><path d="M376.9 886l4.3 0-6.4-1.1-4.4-.4z" color="#00aa8a"/><path d="M486.8 799.6l4.4-5.3-6.6 11.7-4.4 4.7z" color="#135300"/><path d="M594.2 877.4l4.4 3.5-6.3-10.7-4.3-4.1z" color="#009661"/><path d="M309.7 858.8l4.3 2.8-6.5-1-4.4-2.2z" color="#004b27"/><path d="M418.4 873.6l4.4-1.4-6.6 7-4.4 .3z" color="#00825b"/><path d="M528.4 779.9l4.4-4.5-6.3-14.3-4.4 6.7z" color="#9af506"/><path d="M635.2 890.1l4.4-.2-6.5 3.3-4.4 0z" color="#004f43"/><path d="M350.8 877.8l4.4 2.2-6.5-2.5-4.3-2z" color="#007a59"/><path d="M460.3 833.6l4.4-1.7-6.8 16.4-4.3 .2z" color="#00c333"/><path d="M568.8 837.5l4.3 3.3-6.1-23.2-4.3-2.6z" color="#00af0e"/><path d="M283.6 850.9l4.3 2.4-6.5-1.2-4.3-2z" color="#005c27"/><path d="M392.1 885.4l4.4-1-6.5 .9-4.4 .4z" color="#009e80"/><path d="M502.2 783.9l4.5-6.7-6.5 3.6-4.5 7.3z" color="#4ea100"/><path d="M609.3 889.1l4.3 2.2-6.4-4.2-4.3-2.9z" color="#00886d"/><path d="M324.8 865.4l4.4 2.9-6.5-1.8-4.3-2.3z" color="#005834"/><path d="M433.8 862l4.4-.2-6.7 11.4-4.3-1.2z" color="#00d980"/><path d="M543.4 791.1l4.4-1.3-6.2-22-4.4 3.5z" color="#73dc01"/><path d="M650.5 885.2l4.3-.4-6.4 3.4-4.4 1.1z" color="#005341"/><path d="M257.5 841.7l4.4 2.2-6.5-3.8-4.4-1.8z" color="#008928"/><path d="M366 883.7l4.4 .8-6.5-2-4.4-1z" color="#009f7c"/><path d="M475.7 814.6l4.5-3.9-6.7 16.3-4.4 2.8z" color="#019400"/><path d="M583.6 862.1l4.4 4-6.3-17.4-4.3-4.1z" color="#00a244"/><path d="M298.8 856l4.3 2.4-6.4-1.1-4.4-1.9z" color="#00572a"/><path d="M407.4 880.6l4.4-1.1-6.5 3.9-4.4 .3z" color="#005843"/><path d="M517.6 774.4l4.5-6.6-6.4-6.7-4.5 8.5z" color="#9cea02"/><path d="M624.4 892.7l4.3 .5-6.4 .9-4.4-1.1z" color="#006d5e"/><path d="M340 872.9l4.4 2.6-6.5-2.5-4.4-2.2z" color="#00704a"/><path d="M449.2 848.8l4.4-.3-6.7 15.3-4.4-1.2z" color="#00e164"/><path d="M558.3 813.2l4.4 1.8-6.1-25.5-4.4-.3z" color="#33c000"/><path d="M272.7 848l4.4 2.1-6.5-2.4-4.4-1.8z" color="#00772c"/><path d="M381.2 886l4.4-.3-6.5-.7-4.3-.1z" color="#00ac8a"/><path d="M491.2 794.3l4.5-6.2-6.6 11.9-4.5 6z" color="#174a00"/><path d="M598.6 880.9l4.3 3.3-6.3-10-4.3-4z" color="#009665"/><path d="M314 861.6l4.4 2.6-6.5-1.6-4.4-2z" color="#005d32"/><path d="M422.8 872.2l4.4-.2-6.6 8.1-4.4-.9z" color="#00c184"/><path d="M532.8 775.4l4.4-4.1-6.2-16.6-4.5 6.4z" color="#acf305"/><path d="M639.6 889.9l4.4-.6-6.5 3.2-4.4 .7z" color="#005c4c"/><path d="M355.2 880l4.3 1.5-6.4-2.6-4.4-1.4z" color="#00916a"/><path d="M464.7 831.9l4.4-2.1-6.8 17.8-4.4 .7z" color="#00c02c"/><path d="M573.1 840.8l4.3 3.8-6.1-23.8-4.3-3.2z" color="#00ab12"/><path d="M287.9 853.3l4.4 2.1-6.5-1.6-4.4-1.7z" color="#006b2f"/><path d="M396.5 884.4l4.4-.7-6.5 1.4-4.4 .2z" color="#008e6f"/><path d="M506.7 777.2l4.5-7.6-6.5 2.4-4.5 8.8z" color="#67af00"/><path d="M613.6 891.3l4.3 1.7-6.4-3.3-4.3-2.6z" color="#008c72"/><path d="M329.2 868.3l4.3 2.5-6.4-2.3-4.4-2z" color="#006d42"/><path d="M438.2 861.8l4.3 .8-6.6 12.7-4.4-2.1z" color="#00f58f"/><path d="M547.8 789.8l4.4-.6-6.1-24-4.5 2.6z" color="#78d600"/><path d="M654.8 884.8l4.4-.7-6.5 2.5-4.3 1.6z" color="#007055"/><path d="M261.9 843.9l4.3 2-6.4-4.1-4.4-1.7z" color="#008f2b"/><path d="M370.4 884.5l4.4 .4-6.5-1.9-4.4-.5z" color="#00a983"/><path d="M480.2 810.7l4.4-4.7-6.7 17.1-4.4 3.9z" color="#0a8900"/><path d="M588 866.1l4.3 4.1-6.2-17-4.4-4.5z" color="#009f49"/><path d="M303.1 858.4l4.4 2.2-6.5-1.5-4.3-1.8z" color="#006933"/><path d="M411.8 879.5l4.4-.3-6.5 4.6-4.4-.4z" color="#007758"/><path d="M522.1 767.8l4.4-6.7-6.3-8.7-4.5 8.7z" color="#bbf304"/><path d="M628.7 893.2l4.4 0-6.5 1.4-4.3-.5z" color="#007765"/><path d="M344.4 875.5l4.3 2-6.4-2.8-4.4-1.7z" color="#008559"/><path d="M453.6 848.5l4.3-.2-6.7 16.8-4.3-1.3z" color="#00e363"/><path d="M562.7 815l4.3 2.6-6.1-26.8-4.3-1.3z" color="#31bb00"/><path d="M277.1 850.1l4.3 2-6.4-2.7-4.4-1.7z" color="#008131"/><path d="M385.6 885.7l4.4-.4-6.5-.4-4.4 .1z" color="#00a883"/><path d="M495.7 788.1l4.5-7.3-6.7 11.6-4.4 7.6z" color="#255900"/><path d="M602.9 884.2l4.3 2.9-6.3-9-4.3-3.9z" color="#009569"/><path d="M318.4 864.2l4.3 2.3-6.5-2.1-4.3-1.8z" color="#00703d"/><path d="M427.2 872l4.3 1.2-6.6 9-4.3-2.1z" color="#00f6a7"/><path d="M537.2 771.3l4.4-3.5-6.2-18.9-4.4 5.8z" color="#baf003"/><path d="M644 889.3l4.4-1.1-6.5 3-4.4 1.3z" color="#00725b"/><path d="M359.5 881.5l4.4 1-6.4-2.6-4.4-1z" color="#00a075"/><path d="M469.1 829.8l4.4-2.8-6.8 19.1-4.4 1.5z" color="#00b723"/><path d="M577.4 844.6l4.3 4.1-6.1-23.9-4.3-4z" color="#00a717"/><path d="M292.3 855.4l4.4 1.9-6.5-1.9-4.4-1.6z" color="#007935"/><path d="M400.9 883.7l4.4-.3-6.5 1.8-4.4-.1z" color="#007358"/><path d="M511.2 769.6l4.5-8.5-6.5 1-4.5 9.9z" color="#86bd00"/><path d="M617.9 893l4.4 1.1-6.4-2.3-4.4-2.1z" color="#009178"/><path d="M333.5 870.8l4.4 2.2-6.5-2.7-4.3-1.8z" color="#007f4e"/><path d="M442.5 862.6l4.4 1.2-6.7 14.1-4.3-2.6z" color="#00ff96"/><path d="M552.2 789.2l4.4 .3-6.2-25.9-4.3 1.6z" color="#7bd000"/><path d="M266.2 845.9l4.4 1.8-6.5-4.2-4.3-1.7z" color="#00942e"/><path d="M374.8 884.9l4.3 .1-6.4-1.6-4.4-.4z" color="#00ad84"/><path d="M484.6 806l4.5-6-6.8 17.7-4.4 5.4z" color="#127900"/><path d="M592.3 870.2l4.3 4-6.2-16.2-4.3-4.8z" color="#009d4d"/><path d="M307.5 860.6l4.4 2-6.5-2-4.4-1.5z" color="#00783c"/><path d="M416.2 879.2l4.4 .9-6.6 5.1-4.3-1.4z" color="#00c18d"/><path d="M526.5 761.1l4.5-6.4-6.3-11-4.5 8.7z" color="#dbfb06"/><path d="M633.1 893.2l4.4-.7-6.5 1.8-4.4 .3z" color="#00826c"/><path d="M348.7 877.5l4.4 1.4-6.5-2.9-4.3-1.3z" color="#009666"/><path d="M457.9 848.3l4.4-.7-6.7 18.3-4.4-.8z" color="#00dd5e"/><path d="M567 817.6l4.3 3.2-6.1-27.7-4.3-2.3z" color="#2db500"/><path d="M281.4 852.1l4.4 1.7-6.5-2.8-4.3-1.6z" color="#008935"/><path d="M390 885.3l4.4-.2-6.5 0-4.4-.2z" color="#009e79"/><path d="M500.2 780.8l4.5-8.8-6.7 11-4.5 9.4z" color="#396c00"/><path d="M607.2 887.1l4.3 2.6-6.3-7.8-4.3-3.8z" color="#00956d"/><path d="M322.7 866.5l4.4 2-6.5-2.5-4.4-1.6z" color="#008047"/><path d="M431.5 873.2l4.4 2.1-6.6 10-4.4-3.1z" color="#01ffbb"/><path d="M541.6 767.8l4.5-2.6-6.2-21.2-4.5 4.9z" color="#c4ea01"/><path d="M648.4 888.2l4.3-1.6-6.4 2.4-4.4 2.2z" color="#00896a"/><path d="M363.9 882.5l4.4 .5-6.5-2.4-4.3-.7z" color="#00a97b"/><path d="M473.5 827l4.4-3.9-6.8 20.2-4.4 2.8z" color="#00a718"/><path d="M581.7 848.7l4.4 4.5-6.2-23.6-4.3-4.8z" color="#00a31d"/><path d="M296.7 857.3l4.3 1.8-6.5-2.3-4.3-1.4z" color="#00843b"/><path d="M405.3 883.4l4.4 .4-6.6 2.2-4.3-.8z" color="#004b39"/><path d="M515.7 761.1l4.5-8.7-6.5-.9-4.5 10.6z" color="#a9cb00"/><path d="M622.3 894.1l4.3 .5-6.4-1.3-4.3-1.5z" color="#00987d"/><path d="M337.9 873l4.4 1.7-6.5-2.9-4.4-1.5z" color="#008f59"/><path d="M446.9 863.8l4.3 1.3-6.6 15.3-4.4-2.5z" color="#00fe98"/><path d="M556.6 789.5l4.3 1.3-6.1-27.5-4.4 .3z" color="#7ac900"/><path d="M270.6 847.7l4.4 1.7-6.5-4.3-4.4-1.6z" color="#009730"/><path d="M379.1 885l4.4-.1-6.5-1.3-4.3-.2z" color="#00ad82"/><path d="M489.1 800l4.4-7.6-6.7 17.9-4.5 7.4z" color="#196400"/><path d="M596.6 874.2l4.3 3.9-6.3-15-4.2-5.1z" color="#009a52"/><path d="M311.9 862.6l4.3 1.8-6.5-2.3-4.3-1.5z" color="#008543"/><path d="M420.6 880.1l4.3 2.1-6.5 5.7-4.4-2.7z" color="#00fbb9"/><path d="M531 754.7l4.4-5.8-6.2-13.3-4.5 8.1z" color="#f7ff07"/><path d="M637.5 892.5l4.4-1.3-6.5 2.1-4.4 1z" color="#008c72"/><path d="M353.1 878.9l4.4 1-6.5-2.8-4.4-1.1z" color="#00a26e"/><path d="M462.3 847.6l4.4-1.5-6.7 19.6-4.4 .2z" color="#00d054"/><path d="M571.3 820.8l4.3 4-6-28.1-4.4-3.6z" color="#26ae00"/><path d="M285.8 853.8l4.4 1.6-6.5-3-4.4-1.4z" color="#009038"/><path d="M394.4 885.1l4.4 .1-6.5 .3-4.4-.4z" color="#008d6a"/><path d="M504.7 772l4.5-9.9-6.6 9.9-4.6 11z" color="#527d00"/><path d="M611.5 889.7l4.4 2.1-6.4-6.4-4.3-3.5z" color="#009570"/><path d="M327.1 868.5l4.3 1.8-6.4-2.9-4.4-1.4z" color="#008d4f"/><path d="M435.9 875.3l4.3 2.6-6.6 10.9-4.3-3.5z" color="#01ffc7"/><path d="M546.1 765.2l4.3-1.6-6.1-23.3-4.4 3.7z" color="#c9e301"/><path d="M368.3 883l4.4 .4-6.5-2.3-4.4-.5z" color="#00ae7d"/><path d="M477.9 823.1l4.4-5.4-6.7 20.9-4.5 4.7z" color="#00920a"/><path d="M586.1 853.2l4.3 4.8-6.2-22.8-4.3-5.6z" color="#009f23"/><path d="M301 859.1l4.4 1.5-6.5-2.5-4.4-1.3z" color="#008d3f"/><path d="M409.7 883.8l4.3 1.4-6.5 2.5-4.4-1.7z" color="#008e6b"/><path d="M520.2 752.4l4.5-8.7-6.5-2.9-4.5 10.7z" color="#cfd900"/><path d="M626.6 894.6l4.4-.3-6.4-.2-4.4-.8z" color="#009d81"/><path d="M342.3 874.7l4.3 1.3-6.4-3-4.4-1.2z" color="#009b61"/><path d="M451.2 865.1l4.4 .8-6.7 16.5-4.3-2z" color="#00f694"/><path d="M560.9 790.8l4.3 2.3-6-28.6-4.4-1.2z" color="#75c200"/><path d="M275 849.4l4.3 1.6-6.4-4.3-4.4-1.6z" color="#009a31"/><path d="M383.5 884.9l4.4 .2-6.5-1.2-4.4-.3z" color="#00a87c"/><path d="M493.5 792.4l4.5-9.4-6.7 17.7-4.5 9.6z" color="#1d4d00"/><path d="M600.9 878.1l4.3 3.8-6.3-13.4-4.3-5.4z" color="#009655"/><path d="M316.2 864.4l4.4 1.6-6.5-2.7-4.4-1.2z" color="#008f48"/><path d="M424.9 882.2l4.4 3.1-6.6 6-4.3-3.4z" color="#01ffd1"/><path d="M535.4 748.9l4.5-4.9-6.3-15.7-4.4 7.3z" color="#fef106"/><path d="M641.9 891.2l4.4-2.2-6.5 2.3-4.4 2z" color="#009675"/><path d="M357.5 879.9l4.3 .7-6.4-2.8-4.4-.7z" color="#00aa73"/><path d="M466.7 846.1l4.4-2.8-6.7 20.6-4.4 1.8z" color="#00bc45"/><path d="M575.6 824.8l4.3 4.8-6-28-4.3-4.9z" color="#1ea700"/><path d="M290.2 855.4l4.3 1.4-6.4-3-4.4-1.4z" color="#00953a"/><path d="M398.8 885.2l4.3 .8-6.5 .4-4.3-.9z" color="#007456"/><path d="M509.2 762.1l4.5-10.6-6.6 8.5-4.5 12z" color="#708c00"/><path d="M615.9 891.8l4.3 1.5-6.4-4.7-4.3-3.2z" color="#009572"/><path d="M331.4 870.3l4.4 1.5-6.5-3.1-4.3-1.3z" color="#009856"/><path d="M440.2 877.9l4.4 2.5-6.7 11.8-4.3-3.4z" color="#01ffcb"/><path d="M550.4 763.6l4.4-.3-6.1-25.1-4.4 2.1z" color="#c9da00"/><path d="M372.7 883.4l4.3 .2-6.4-2.1-4.4-.4z" color="#00af7c"/><path d="M482.3 817.7l4.5-7.4-6.7 21.5-4.5 6.8z" color="#037a00"/><path d="M590.4 858l4.2 5.1-6.1-21.4-4.3-6.5z" color="#00982a"/><path d="M305.4 860.6l4.3 1.5-6.4-2.8-4.4-1.2z" color="#009443"/><path d="M414 885.2l4.4 2.7-6.6 2.5-4.3-2.7z" color="#00c697"/><path d="M524.7 743.7l4.5-8.1-6.4-5.2-4.6 10.4z" color="#e6d401"/><path d="M631 894.3l4.4-1-6.5 .9-4.3-.1z" color="#009d7e"/><path d="M346.6 876l4.4 1.1-6.5-3.2-4.3-.9z" color="#00a466"/><path d="M455.6 865.9l4.4-.2-6.7 17.6-4.4-.9z" color="#00e589"/><path d="M565.2 793.1l4.4 3.6-6.1-29.4-4.3-2.8z" color="#6db800"/><path d="M279.3 851l4.4 1.4-6.5-4.2-4.3-1.5z" color="#009c32"/><path d="M387.9 885.1l4.4 .4-6.5-1.1-4.4-.5z" color="#009e73"/><path d="M498 783l4.6-11-6.7 17-4.6 11.7z" color="#2c5600"/><path d="M605.2 881.9l4.3 3.5-6.3-11.3-4.3-5.6z" color="#008f58"/><path d="M320.6 866l4.4 1.4-6.5-2.9-4.4-1.2z" color="#00984d"/><path d="M429.3 885.3l4.3 3.5-6.6 6.3-4.3-3.8z" color="#02ffe0"/><path d="M539.9 744l4.4-3.7-6.2-17.9-4.5 5.9z" color="#f6d503"/><path d="M361.8 880.6l4.4 .5-6.5-2.7-4.3-.6z" color="#00af75"/><path d="M471.1 843.3l4.5-4.7-6.8 21.7-4.4 3.6z" color="#00a433"/><path d="M579.9 829.6l4.3 5.6-6.1-27.3-4.2-6.3z" color="#149e00"/><path d="M294.5 856.8l4.4 1.3-6.5-3.1-4.3-1.2z" color="#00993c"/><path d="M403.1 886l4.4 1.7-6.5 .3-4.4-1.6z" color="#00523d"/><path d="M513.7 751.5l4.5-10.7-6.5 6.8-4.6 12.4z" color="#919a00"/><path d="M620.2 893.3l4.4 .8-6.4-2.6-4.4-2.9z" color="#009371"/><path d="M335.8 871.8l4.4 1.2-6.5-3.3-4.4-1z" color="#00a05a"/><path d="M444.6 880.4l4.3 2-6.6 12.6-4.4-2.8z" color="#00ffc8"/><path d="M554.8 763.3l4.4 1.2-6.1-26.6-4.4 .3z" color="#c3cf00"/><path d="M377 883.6l4.4 .3-6.5-2.1-4.3-.3z" color="#00ae79"/><path d="M486.8 810.3l4.5-9.6-6.7 21.5-4.5 9.6z" color="#0e6100"/><path d="M594.6 863.1l4.3 5.4-6.1-19.5-4.3-7.3z" color="#009031"/><path d="M309.7 862.1l4.4 1.2-6.5-2.9-4.3-1.1z" color="#009a45"/><path d="M418.4 887.9l4.3 3.4-6.5 2.4-4.4-3.3z" color="#00dcac"/><path d="M529.2 735.6l4.4-7.3-6.3-7.4-4.5 9.5z" color="#f2c102"/><path d="M635.4 893.3l4.4-2-6.5 2.2-4.4 .7z" color="#009675"/><path d="M351 877.1l4.4 .7-6.5-3.1-4.4-.8z" color="#00ab69"/><path d="M460 865.7l4.4-1.8-6.7 18.8-4.4 .6z" color="#00cc76"/><path d="M569.6 796.7l4.3 4.9-6.1-29.5-4.3-4.8z" color="#61ad00"/><path d="M283.7 852.4l4.4 1.4-6.5-4.1-4.4-1.5z" color="#009d33"/><path d="M392.3 885.5l4.3 .9-6.4-1.2-4.4-.8z" color="#009068"/><path d="M502.6 772l4.5-12-6.7 16-4.5 13z" color="#436400"/><path d="M609.5 885.4l4.3 3.2-6.3-8.8-4.3-5.7z" color="#008657"/><path d="M325 867.4l4.3 1.3-6.4-3.2-4.4-1z" color="#009e50"/><path d="M433.6 888.8l4.3 3.4-6.6 6.7-4.3-3.8z" color="#02ffe9"/><path d="M544.3 740.3l4.4-2.1-6.2-19.9-4.4 4.1z" color="#eabc01"/><path d="M366.2 881.1l4.4 .4-6.5-2.7-4.4-.4z" color="#00b174"/><path d="M475.6 838.6l4.5-6.8-6.8 22.3-4.5 6.2z" color="#00871f"/><path d="M584.2 835.2l4.3 6.5-6.1-25.8-4.3-8z" color="#099300"/><path d="M298.9 858.1l4.4 1.2-6.5-3.2-4.4-1.1z" color="#009d3d"/><path d="M407.5 887.7l4.3 2.7-6.5-.1-4.3-2.3z" color="#006b51"/><path d="M518.2 740.8l4.6-10.4-6.6 4.9-4.5 12.3z" color="#a79800"/><path d="M624.6 894.1l4.3 .1-6.4-.3-4.3-2.4z" color="#008a6b"/><path d="M340.2 873l4.3 .9-6.4-3.3-4.4-.9z" color="#00a65d"/><path d="M448.9 882.4l4.4 .9-6.7 13.5-4.3-1.8z" color="#00f7ba"/><path d="M559.2 764.5l4.3 2.8-6.1-27.5-4.3-1.9z" color="#b6c200"/><path d="M381.4 883.9l4.4 .5-6.5-2.1-4.4-.5z" color="#00a974"/><path d="M491.3 800.7l4.6-11.7-6.8 21.3-4.5 11.9z" color="#174d00"/><path d="M598.9 868.5l4.3 5.6-6.2-16.8-4.2-8.3z" color="#008536"/><path d="M314.1 863.3l4.4 1.2-6.5-3.1-4.4-1z" color="#009f47"/><path d="M422.7 891.3l4.3 3.8-6.5 2.3-4.3-3.7z" color="#00e0b5"/><path d="M533.6 728.3l4.5-5.9-6.4-9.6-4.4 8.1z" color="#fbaf05"/><path d="M355.4 877.8l4.3 .6-6.4-3.1-4.4-.6z" color="#00af6b"/><path d="M464.4 863.9l4.4-3.6-6.7 19.7-4.4 2.7z" color="#00ad5d"/><path d="M573.9 801.6l4.2 6.3-6-28.9-4.3-6.9z" color="#51a000"/><path d="M288.1 853.8l4.3 1.2-6.4-3.9-4.4-1.4z" color="#009e34"/><path d="M396.6 886.4l4.4 1.6-6.5-1.5-4.3-1.3z" color="#007e5b"/><path d="M507.1 760l4.6-12.4-6.7 14.6-4.6 13.8z" color="#5c6f00"/><path d="M613.8 888.6l4.4 2.9-6.4-5.7-4.3-6z" color="#007550"/><path d="M329.3 868.7l4.4 1-6.5-3.2-4.3-1z" color="#00a352"/><path d="M437.9 892.2l4.4 2.8-6.6 7.1-4.4-3.2z" color="#01ffe9"/><path d="M548.7 738.2l4.4-.3-6.2-21.6-4.4 2z" color="#dca800"/><path d="M370.6 881.5l4.3 .3-6.4-2.6-4.4-.4z" color="#00b173"/><path d="M480.1 831.8l4.5-9.6-6.8 22.8-4.5 9.1z" color="#006a0c"/><path d="M588.5 841.7l4.3 7.3-6.2-23.6-4.2-9.5z" color="#008504"/><path d="M303.3 859.3l4.3 1.1-6.4-3.2-4.4-1.1z" color="#009f3e"/><path d="M411.8 890.4l4.4 3.3-6.5-.4-4.4-3z" color="#007a5f"/><path d="M522.8 730.4l4.5-9.5-6.6 2.8-4.5 11.6z" color="#b48900"/><path d="M628.9 894.2l4.4-.7-6.5 2.3-4.3-1.9z" color="#006d55"/><path d="M344.5 873.9l4.4 .8-6.5-3.3-4.3-.8z" color="#00ab5f"/><path d="M453.3 883.3l4.4-.6-6.7 14.3-4.4-.2z" color="#00d69f"/><path d="M563.5 767.3l4.3 4.8-6.1-27.9-4.3-4.4z" color="#a3b300"/><path d="M385.8 884.4l4.4 .8-6.5-2.3-4.4-.6z" color="#00a26e"/><path d="M495.9 789l4.5-13-6.7 20.7-4.6 13.6z" color="#265100"/><path d="M603.2 874.1l4.3 5.7-6.3-13.2-4.2-9.3z" color="#007437"/><path d="M318.5 864.5l4.4 1-6.5-3.2-4.4-.9z" color="#00a248"/><path d="M427 895.1l4.3 3.8-6.5 2.2-4.3-3.7z" color="#00dcb8"/><path d="M538.1 722.4l4.4-4.1-6.3-11.7-4.5 6.2z" color="#fb9905"/><path d="M359.7 878.4l4.4 .4-6.5-3.1-4.3-.4z" color="#00b26b"/><path d="M468.8 860.3l4.5-6.2-6.8 20.6-4.4 5.3z" color="#008b41"/><path d="M578.1 807.9l4.3 8-6.1-27.6-4.2-9.3z" color="#3e9000"/><path d="M292.4 855l4.4 1.1-6.5-3.6-4.3-1.4z" color="#009f34"/><path d="M401 888l4.3 2.3-6.4-1.9-4.4-1.9z" color="#006b4e"/><path d="M511.7 747.6l4.5-12.3-6.6 13.1-4.6 13.8z" color="#787800"/><path d="M618.2 891.5l4.3 2.4-6.4-2.1-4.3-6z" color="#00533c"/><path d="M333.7 869.7l4.4 .9-6.5-3.3-4.4-.8z" color="#00a754"/><path d="M442.3 895l4.3 1.8-6.6 7.5-4.3-2.2z" color="#00ffd9"/><path d="M553.1 737.9l4.3 1.9-6.1-22.8-4.4-.7z" color="#ca9700"/><path d="M374.9 881.8l4.4 .5-6.4-2.8-4.4-.3z" color="#00b070"/><path d="M484.6 822.2l4.5-11.9-6.8 23-4.5 11.7z" color="#035300"/><path d="M592.8 849l4.2 8.3-6.2-20.5-4.2-11.4z" color="#00750f"/><path d="M307.6 860.4l4.4 1-6.5-3.2-4.3-1z" color="#00a13f"/><path d="M416.2 893.7l4.3 3.7-6.5-.9-4.3-3.2z" color="#00775f"/><path d="M527.3 720.9l4.4-8.1-6.4 .7-4.6 10.2z" color="#c27a00"/><path d="M348.9 874.7l4.4 .6-6.5-3.3-4.4-.6z" color="#00ae60"/><path d="M457.7 882.7l4.4-2.7-6.7 15.2-4.4 1.8z" color="#00ac7b"/><path d="M567.8 772.1l4.3 6.9-6.1-27.6-4.3-7.2z" color="#8aa000"/><path d="M390.2 885.2l4.3 1.3-6.4-2.6-4.4-1z" color="#009968"/><path d="M500.4 776l4.6-13.8-6.8 19.9-4.5 14.6z" color="#3a5a00"/><path d="M607.5 879.8l4.3 6-6.3-9-4.3-10.2z" color="#005931"/><path d="M322.9 865.5l4.3 1-6.4-3.3-4.4-.9z" color="#00a549"/><path d="M431.3 898.9l4.4 3.2-6.5 2.2-4.4-3.2z" color="#00cfb3"/><path d="M542.5 718.3l4.4-2-6.3-13.5-4.4 3.8z" color="#ee8102"/><path d="M364.1 878.8l4.4 .4-6.5-3.1-4.4-.4z" color="#00b36a"/><path d="M473.3 854.1l4.5-9.1-6.8 21.3-4.5 8.4z" color="#006926"/><path d="M582.4 815.9l4.2 9.5-6.1-25.3-4.2-11.8z" color="#287c00"/><path d="M296.8 856.1l4.4 1.1-6.5-3.5-4.4-1.2z" color="#009f34"/><path d="M405.3 890.3l4.4 3-6.5-2.5-4.3-2.4z" color="#00644a"/><path d="M516.2 735.3l4.5-11.6-6.6 11.4-4.5 13.3z" color="#7f6a00"/><path d="M622.5 893.9l4.3 1.9-6.5 2.2-4.2-6.2z" color="#00a179"/><path d="M338.1 870.6l4.3 .8-6.4-3.3-4.4-.8z" color="#00aa54"/><path d="M446.6 896.8l4.4 .2-6.6 8.1-4.4-.8z" color="#00ceae"/><path d="M557.4 739.8l4.3 4.4-6.1-23.6-4.3-3.6z" color="#b38900"/><path d="M379.3 882.3l4.4 .6-6.5-2.9-4.3-.5z" color="#00ad6d"/><path d="M489.1 810.3l4.6-13.6-6.8 22.9-4.6 13.7z" color="#104900"/><path d="M597 857.3l4.2 9.3-6.2-16.5-4.2-13.3z" color="#005e17"/><path d="M312 861.4l4.4 .9-6.5-3.1-4.4-1z" color="#00a33f"/><path d="M420.5 897.4l4.3 3.7-6.4-1.4-4.4-3.2z" color="#006755"/><path d="M531.7 712.8l4.5-6.2-6.4-1.4-4.5 8.3z" color="#d16b00"/><path d="M353.3 875.3l4.3 .4-6.4-3.1-4.4-.6z" color="#00b160"/><path d="M462.1 880l4.4-5.3-6.7 16.1-4.4 4.4z" color="#008054"/><path d="M572.1 779l4.2 9.3-6.1-26.6-4.2-10.3z" color="#6b8900"/><path d="M394.5 886.5l4.4 1.9-6.5-3.1-4.3-1.4z" color="#008f61"/><path d="M505 762.2l4.6-13.8-6.8 18.8-4.6 14.9z" color="#506100"/><path d="M611.8 885.8l4.3 6-6.4-3.8-4.2-11.2z" color="#00734a"/><path d="M327.2 866.5l4.4 .8-6.5-3.2-4.3-.9z" color="#00a749"/><path d="M435.7 902.1l4.3 2.2-6.5 2.3-4.3-2.3z" color="#00af9b"/><path d="M546.9 716.3l4.4 .7-6.3-15.1-4.4 .9z" color="#d56c00"/><path d="M368.5 879.2l4.4 .3-6.5-3-4.4-.4z" color="#00b368"/><path d="M477.8 845l4.5-11.7-6.8 21.9-4.5 11.1z" color="#005112"/><path d="M586.6 825.4l4.2 11.4-6.1-22.1-4.2-14.6z" color="#136400"/><path d="M301.2 857.2l4.3 1-6.4-3.3-4.4-1.2z" color="#009f34"/><path d="M409.7 893.3l4.3 3.2-6.4-3.1-4.4-2.6z" color="#00684f"/><path d="M520.7 723.7l4.6-10.2-6.6 9.5-4.6 12.1z" color="#845a00"/><path d="M342.4 871.4l4.4 .6-6.4-3.2-4.4-.7z" color="#00ac54"/><path d="M451 897l4.4-1.8-6.6 8.8-4.4 1.1z" color="#008b73"/><path d="M561.7 744.2l4.3 7.2-6.1-23.7-4.3-7.1z" color="#997d00"/><path d="M383.7 882.9l4.4 1-6.5-3.3-4.4-.6z" color="#00aa69"/><path d="M493.7 796.7l4.5-14.6-6.8 22.6-4.5 14.9z" color="#225200"/><path d="M601.2 866.6l4.3 10.2-6.3-11.3-4.2-15.4z" color="#005821"/><path d="M316.4 862.3l4.4 .9-6.5-3.1-4.4-.9z" color="#00a43e"/><path d="M424.8 901.1l4.4 3.2-6.5-1.7-4.3-2.9z" color="#004c40"/><path d="M536.2 706.6l4.4-3.8-6.4-3.3-4.4 5.7z" color="#e06000"/><path d="M357.6 875.7l4.4 .4-6.4-3.1-4.4-.4z" color="#00b25f"/><path d="M466.5 874.7l4.5-8.4-6.7 17.1-4.5 7.4z" color="#005933"/><path d="M576.3 788.3l4.2 11.8-6.1-24.7-4.2-13.7z" color="#4a6f00"/><path d="M398.9 888.4l4.3 2.4-6.4-3.9-4.4-1.6z" color="#008c60"/><path d="M509.6 748.4l4.5-13.3-6.7 17.5-4.6 14.6z" color="#666500"/><path d="M616.1 891.8l4.2 6.2-6.4 2.3-4.2-12.3z" color="#00cb94"/><path d="M331.6 867.3l4.4 .8-6.5-3.2-4.4-.8z" color="#00a748"/><path d="M440 904.3l4.4 .8-6.5 2.6-4.4-1.1z" color="#006c60"/><path d="M551.3 717l4.3 3.6-6.2-16.1-4.4-2.6z" color="#b15a00"/><path d="M372.9 879.5l4.3 .5-6.4-3.2-4.4-.3z" color="#00b366"/><path d="M482.3 833.3l4.6-13.7-6.8 22.3-4.6 13.3z" color="#004b03"/><path d="M590.8 836.8l4.2 13.3-6.2-17.9-4.1-17.5z" color="#024700"/><path d="M305.5 858.2l4.4 1-6.5-3.1-4.3-1.2z" color="#00a033"/><path d="M414 896.5l4.4 3.2-6.5-3.8-4.3-2.5z" color="#007359"/><path d="M525.3 713.5l4.5-8.3-6.6 7.7-4.5 10.1z" color="#874900"/><path d="M346.8 872l4.4 .6-6.5-3.2-4.3-.6z" color="#00ad53"/><path d="M455.4 895.2l4.4-4.4-6.6 9.8-4.4 3.4z" color="#005240"/><path d="M566 751.4l4.2 10.3-6.1-23-4.2-11z" color="#7b7000"/><path d="M388.1 883.9l4.3 1.4-6.4-3.9-4.4-.8z" color="#00a566"/><path d="M498.2 782.1l4.6-14.9-6.8 22-4.6 15.5z" color="#355700"/><path d="M605.5 876.8l4.2 11.2-6.4-5.1-4.1-17.4z" color="#00934e"/><path d="M320.8 863.2l4.3 .9-6.4-3.1-4.4-.9z" color="#00a33d"/><path d="M429.2 904.3l4.3 2.3-6.5-1.9-4.3-2.1z" color="#006b5c"/><path d="M540.6 702.8l4.4-.9-6.4-5-4.4 2.6z" color="#e05400"/><path d="M362 876.1l4.4 .4-6.5-3.1-4.3-.4z" color="#00b35d"/><path d="M471 866.3l4.5-11.1-6.7 18.1-4.5 10.1z" color="#004f23"/><path d="M580.5 800.1l4.2 14.6-6.1-21.7-4.2-17.6z" color="#295100"/><path d="M403.2 890.8l4.4 2.6-6.5-4.7-4.3-1.8z" color="#008e63"/><path d="M514.1 735.1l4.6-12.1-6.7 16.2-4.6 13.4z" color="#665400"/><path d="M336 868.1l4.4 .7-6.5-3-4.4-.9z" color="#00a747"/><path d="M444.4 905.1l4.4-1.1-6.5 3.1-4.4 .6z" color="#006d5f"/><path d="M555.6 720.6l4.3 7.1-6.2-16.7-4.3-6.5z" color="#874b00"/><path d="M377.2 880l4.4 .6-6.4-3.4-4.4-.4z" color="#00b264"/><path d="M486.9 819.6l4.5-14.9-6.7 22.6-4.6 14.6z" color="#0c5100"/><path d="M595 850.1l4.2 15.4-6.3-12.5-4.1-20.8z" color="#007515"/><path d="M309.9 859.2l4.4 .9-6.5-3-4.4-1z" color="#009f33"/><path d="M418.4 899.7l4.3 2.9-6.4-4.4-4.4-2.3z" color="#008267"/><path d="M529.8 705.2l4.4-5.7-6.5 5.8-4.5 7.6z" color="#873a00"/><path d="M351.2 872.6l4.4 .4-6.5-2.9-4.4-.7z" color="#00ae52"/><path d="M459.8 890.8l4.5-7.4-6.6 10.9-4.5 6.3z" color="#006245"/><path d="M570.2 761.7l4.2 13.7-6.1-21.5-4.2-15.2z" color="#575b00"/><path d="M392.4 885.3l4.4 1.6-6.5-4.5-4.3-1z" color="#00a465"/><path d="M502.8 767.2l4.6-14.6-6.8 21.3-4.6 15.3z" color="#475a00"/><path d="M609.7 888l4.2 12.3-6.5 2.4-4.1-19.8z" color="#00d796"/><path d="M325.1 864.1l4.4 .8-6.5-2.9-4.3-1z" color="#00a23c"/><path d="M433.5 906.6l4.4 1.1-6.5-1.8-4.4-1.2z" color="#009380"/><path d="M545 701.9l4.4 2.6-6.4-6.5-4.4-1.1z" color="#a73c00"/><path d="M366.4 876.5l4.4 .3-6.5-3.1-4.4-.3z" color="#00b35c"/><path d="M475.5 855.2l4.6-13.3-6.8 19.1-4.5 12.3z" color="#005719"/><path d="M584.7 814.7l4.1 17.5-6.2-17.6-4-21.6z" color="#1f6600"/><path d="M407.6 893.4l4.3 2.5-6.4-5.3-4.4-1.9z" color="#009469"/><path d="M518.7 723l4.5-10.1-6.7 14.5-4.5 11.8z" color="#634100"/><path d="M340.4 868.8l4.3 .6-6.4-2.8-4.4-.8z" color="#00a646"/><path d="M448.8 904l4.4-3.4-6.5 4-4.4 2.5z" color="#008b74"/><path d="M559.9 727.7l4.2 11-6.2-16.7-4.2-11z" color="#5e3d00"/><path d="M381.6 880.6l4.4 .8-6.5-3.8-4.3-.4z" color="#00b162"/><path d="M491.4 804.7l4.6-15.5-6.8 22.7-4.5 15.4z" color="#1e5500"/><path d="M599.2 865.5l4.1 17.4-6.4-5.8-4-24.1z" color="#00a944"/><path d="M314.3 860.1l4.4 .9-6.5-2.7-4.4-1.2z" color="#009d32"/><path d="M422.7 902.6l4.3 2.1-6.4-4.6-4.3-1.9z" color="#009679"/><path d="M534.2 699.5l4.4-2.6-6.5 3.9-4.4 4.5z" color="#7d2c00"/><path d="M355.6 873l4.3 .4-6.4-2.8-4.4-.5z" color="#00ad50"/><path d="M464.3 883.4l4.5-10.1-6.6 12.2-4.5 8.8z" color="#006e41"/><path d="M574.4 775.4l4.2 17.6-6.2-19.1-4.1-20z" color="#4c6200"/><path d="M396.8 886.9l4.3 1.8-6.4-5.2-4.4-1.1z" color="#00a566"/><path d="M507.4 752.6l4.6-13.4-6.8 20.3-4.6 14.4z" color="#575900"/><path d="M329.5 864.9l4.4 .9-6.5-2.7-4.4-1.1z" color="#009e3a"/><path d="M437.9 907.7l4.4-.6-6.5-1.2-4.4 0z" color="#00b99e"/><path d="M549.4 704.5l4.3 6.5-6.4-7.6-4.3-5.4z" color="#592300"/><path d="M370.8 876.8l4.4 .4-6.5-3.2-4.4-.3z" color="#00b35a"/><path d="M480.1 841.9l4.6-14.6-6.8 20-4.6 13.7z" color="#005a09"/><path d="M588.8 832.2l4.1 20.8-6.3-12.4-4-26z" color="#068d00"/><path d="M411.9 895.9l4.4 2.3-6.4-5.9-4.4-1.7z" color="#009d71"/><path d="M523.2 712.9l4.5-7.6-6.7 12.8-4.5 9.3z" color="#592f00"/><path d="M344.7 869.4l4.4 .7-6.5-2.5-4.3-1z" color="#00a444"/><path d="M453.2 900.6l4.5-6.3-6.6 5.3-4.4 5z" color="#009472"/><path d="M564.1 738.7l4.2 15.2-6.3-15.9-4.1-16z" color="#644f00"/><path d="M386 881.4l4.3 1-6.4-4.3-4.4-.5z" color="#00b060"/><path d="M496 789.2l4.6-15.3-6.8 22.7-4.6 15.3z" color="#305600"/><path d="M603.3 882.9l4.1 19.8-6.5 2.2-4-27.8z" color="#00dc91"/><path d="M318.7 861l4.3 1-6.4-2.5-4.4-1.2z" color="#009830"/><path d="M427 904.7l4.4 1.2-6.4-4.6-4.4-1.2z" color="#00ad8c"/><path d="M538.6 696.9l4.4 1.1-6.5 2.3-4.4 .5z" color="#601f00"/><path d="M359.9 873.4l4.4 .3-6.4-2.5-4.4-.6z" color="#00ac4e"/><path d="M468.8 873.3l4.5-12.3-6.6 13.8-4.5 10.7z" color="#007033"/><path d="M578.6 793l4 21.6-6.2-15.7-4-25z" color="#4a8700"/><path d="M401.1 888.7l4.4 1.9-6.4-5.9-4.4-1.2z" color="#00a868"/><path d="M512 739.2l4.5-11.8-6.7 19.3-4.6 12.8z" color="#534700"/><path d="M333.9 865.8l4.4 .8-6.5-2.3-4.4-1.2z" color="#009938"/><path d="M442.3 907.1l4.4-2.5-6.5-.4-4.4 1.7z" color="#00c8a6"/><path d="M553.7 711l4.2 11-6.4-8.3-4.2-10.3z" color="#7c3b00"/><path d="M375.2 877.2l4.3 .4-6.4-3.3-4.4-.3z" color="#00b358"/><path d="M484.7 827.3l4.5-15.4-6.7 20.8-4.6 14.6z" color="#0a5a00"/><path d="M592.9 853l4 24.1-6.4-5.8-3.9-30.7z" color="#00b731"/><path d="M416.3 898.2l4.3 1.9-6.4-6.3-4.3-1.5z" color="#00a879"/><path d="M527.7 705.3l4.4-4.5-6.6 11.2-4.5 6.1z" color="#5a2700"/><path d="M349.1 870.1l4.4 .5-6.5-2.1-4.4-.9z" color="#009f41"/><path d="M457.7 894.3l4.5-8.8-6.6 7-4.5 7.1z" color="#009263"/><path d="M568.3 753.9l4.1 20-6.3-14.5-4.1-21.4z" color="#8c8b00"/><path d="M390.3 882.4l4.4 1.1-6.4-4.8-4.4-.6z" color="#00b05f"/><path d="M500.6 773.9l4.6-14.4-6.8 22.4-4.6 14.7z" color="#3f5400"/><path d="M323 862l4.4 1.1-6.5-2.1-4.3-1.5z" color="#008f2d"/><path d="M431.4 905.9l4.4 0-6.4-4.3-4.4-.3z" color="#00c49d"/><path d="M543 698l4.3 5.4-6.5 .8-4.3-3.9z" color="#da4900"/><path d="M364.3 873.7l4.4 .3-6.5-2.3-4.3-.5z" color="#00ab4c"/><path d="M473.3 861l4.6-13.7-6.7 15.3-4.5 12.2z" color="#006d1f"/><path d="M582.6 814.6l4 26-6.3-11.2-3.9-30.5z" color="#29a600"/><path d="M405.5 890.6l4.4 1.7-6.5-6.4-4.3-1.2z" color="#00ab6b"/><path d="M516.5 727.4l4.5-9.3-6.7 18.1-4.5 10.5z" color="#533a00"/><path d="M338.3 866.6l4.3 1-6.5-1.8-4.3-1.5z" color="#009034"/><path d="M446.7 904.6l4.4-5-6.5 1-4.4 3.6z" color="#00c498"/><path d="M557.9 722l4.1 16-6.3-8.5-4.2-15.8z" color="#a16400"/><path d="M379.5 877.6l4.4 .5-6.4-3.5-4.4-.3z" color="#00b355"/><path d="M489.2 811.9l4.6-15.3-6.7 21.5-4.6 14.6z" color="#1c5900"/><path d="M596.9 877.1l4 27.8-6.5 2.1-3.9-35.7z" color="#00df89"/><path d="M420.6 900.1l4.4 1.2-6.4-6.4-4.4-1.1z" color="#00b483"/><path d="M532.1 700.8l4.4-.5-6.6 9.4-4.4 2.3z" color="#a43e00"/><path d="M353.5 870.6l4.4 .6-6.5-1.6-4.4-1.1z" color="#00993e"/><path d="M462.2 885.5l4.5-10.7-6.6 8.9-4.5 8.8z" color="#008b4e"/><path d="M572.4 773.9l4 25-6.3-12-4-27.5z" color="#7fa800"/><path d="M394.7 883.5l4.4 1.2-6.4-5.3-4.4-.7z" color="#00b15f"/><path d="M505.2 759.5l4.6-12.8-6.8 21.9-4.6 13.3z" color="#484e00"/><path d="M327.4 863.1l4.4 1.2-6.5-1.5-4.4-1.8z" color="#008129"/><path d="M435.8 905.9l4.4-1.7-6.5-3.5-4.3 .9z" color="#00d6a7"/><path d="M547.3 703.4l4.2 10.3-6.4-.5-4.3-9z" color="#de5a00"/><path d="M368.7 874l4.4 .3-6.5-2.1-4.4-.5z" color="#00a849"/><path d="M477.9 847.3l4.6-14.6-6.7 17-4.6 12.9z" color="#00680b"/><path d="M586.6 840.6l3.9 30.7-6.3-5.4-3.9-36.5z" color="#00c11a"/><path d="M409.9 892.3l4.3 1.5-6.4-6.7-4.4-1.2z" color="#00b06e"/><path d="M521 718.1l4.5-6.1-6.7 16.6-4.5 7.6z" color="#704200"/><path d="M342.6 867.6l4.4 .9-6.5-1.1-4.4-1.6z" color="#00822f"/><path d="M451.1 899.6l4.5-7.1-6.5 2.9-4.5 5.2z" color="#00b680"/><path d="M562 738l4.1 21.4-6.4-8.1-4-21.8z" color="#b99a00"/><path d="M383.9 878.1l4.4 .6-6.5-3.6-4.3-.5z" color="#00b153"/><path d="M493.8 796.6l4.6-14.7-6.8 22-4.5 14.2z" color="#2b5400"/><path d="M425 901.3l4.4 .3-6.5-6-4.3-.7z" color="#00c18b"/><path d="M536.5 700.3l4.3 3.9-6.6 7.8-4.3-2.3z" color="#ff6c01"/><path d="M357.9 871.2l4.3 .5-6.5-1-4.3-1.1z" color="#009039"/><path d="M466.7 874.8l4.5-12.2-6.6 11-4.5 10.1z" color="#008136"/><path d="M576.4 798.9l3.9 30.5-6.3-8.6-3.9-33.9z" color="#4fbc00"/><path d="M399.1 884.7l4.3 1.2-6.4-5.6-4.3-.9z" color="#00b15e"/><path d="M509.8 746.7l4.5-10.5-6.8 21.1-4.5 11.3z" color="#5b5400"/><path d="M331.8 864.3l4.3 1.5-6.5-.9-4.3-2.1z" color="#006b22"/><path d="M440.2 904.2l4.4-3.6-6.4-2-4.5 2.1z" color="#00dba3"/><path d="M551.5 713.7l4.2 15.8-6.5-1.4-4.1-14.9z" color="#df7800"/><path d="M373.1 874.3l4.4 .3-6.5-1.8-4.4-.6z" color="#00a445"/><path d="M482.5 832.7l4.6-14.6-6.8 18.4-4.5 13.2z" color="#096100"/><path d="M590.5 871.3l3.9 35.7-6.5 1.8-3.7-42.9z" color="#00e180"/><path d="M414.2 893.8l4.4 1.1-6.4-6.6-4.4-1.2z" color="#00b571"/><path d="M525.5 712l4.4-2.3-6.7 15.1-4.4 3.8z" color="#a65500"/><path d="M347 868.5l4.4 1.1-6.5-.2-4.4-2z" color="#006d28"/><path d="M455.6 892.5l4.5-8.8-6.6 5-4.4 6.7z" color="#00a564"/><path d="M566.1 759.4l4 27.5-6.4-7-4-28.6z" color="#b4c900"/><path d="M388.3 878.7l4.4 .7-6.5-3.7-4.4-.6z" color="#00af50"/><path d="M498.4 781.9l4.6-13.3-6.8 22.3-4.6 13z" color="#354c00"/><path d="M429.4 901.6l4.3-.9-6.4-5.1-4.4 0z" color="#00ce91"/><path d="M540.8 704.2l4.3 9-6.6 6.2-4.3-7.4z" color="#ff8405"/><path d="M362.2 871.7l4.4 .5-6.5-.2-4.4-1.3z" color="#008233"/><path d="M471.2 862.6l4.6-12.9-6.7 13.1-4.5 10.8z" color="#00761e"/><path d="M580.3 829.4l3.9 36.5-6.4-4.1-3.8-41z" color="#00ca03"/><path d="M403.4 885.9l4.4 1.2-6.4-5.8-4.4-1z" color="#00b05e"/><path d="M514.3 736.2l4.5-7.6-6.8 20.3-4.5 8.4z" color="#775e00"/><path d="M336.1 865.8l4.4 1.6-6.5 .2-4.4-2.7z" color="#004a18"/><path d="M444.6 900.6l4.5-5.2-6.5-.1-4.4 3.3z" color="#00d08f"/><path d="M555.7 729.5l4 21.8-6.4-1.9-4.1-21.3z" color="#e1a900"/><path d="M377.5 874.6l4.3 .5-6.4-1.5-4.4-.8z" color="#009d41"/><path d="M487.1 818.1l4.5-14.2-6.7 19.8-4.6 12.8z" color="#195900"/><path d="M418.6 894.9l4.3 .7-6.4-6.3-4.3-1z" color="#00ba74"/><path d="M529.9 709.7l4.3 2.3-6.6 13.4-4.4-.6z" color="#fe7c00"/><path d="M351.4 869.6l4.3 1.1-6.5 .9-4.3-2.2z" color="#004c1c"/><path d="M460.1 883.7l4.5-10.1-6.6 7.5-4.5 7.6z" color="#009348"/><path d="M570.1 786.9l3.9 33.9-6.4-5.2-3.9-35.7z" color="#71d100"/><path d="M392.7 879.4l4.3 .9-6.4-3.8-4.4-.8z" color="#00ab4e"/><path d="M503 768.6l4.5-11.3-6.8 22.4-4.5 11.2z" color="#4e5c00"/><path d="M433.7 900.7l4.5-2.1-6.5-3.7-4.4 .7z" color="#00d893"/><path d="M545.1 713.2l4.1 14.9-6.5 4.7-4.2-13.4z" color="#ff9600"/><path d="M366.6 872.2l4.4 .6-6.5 .6-4.4-1.4z" color="#006c2a"/><path d="M475.8 849.7l4.5-13.2-6.7 15.4-4.5 10.9z" color="#006809"/><path d="M584.2 865.9l3.7 42.9-6.5 1.4-3.6-48.4z" color="#00e378"/><path d="M407.8 887.1l4.4 1.2-6.4-5.7-4.4-1.3z" color="#00af5d"/><path d="M518.8 728.6l4.4-3.8-6.8 19.2-4.4 4.9z" color="#a47300"/><path d="M340.5 867.4l4.4 2-6.6 1.5-4.3-3.3z" color="#00852e"/><path d="M449.1 895.4l4.4-6.7-6.5 2.3-4.4 4.3z" color="#00bb73"/><path d="M559.7 751.3l4 28.6-6.4-2.1-4-28.4z" color="#dde400"/><path d="M381.8 875.1l4.4 .6-6.5-1.2-4.3-.9z" color="#00933c"/><path d="M491.6 803.9l4.6-13-6.8 21-4.5 11.8z" color="#244e00"/><path d="M422.9 895.6l4.4 0-6.4-5.5-4.4-.8z" color="#00c076"/><path d="M534.2 712l4.3 7.4-6.6 11.8-4.3-5.8z" color="#ffb511"/><path d="M355.7 870.7l4.4 1.3-6.5 2.2-4.4-2.6z" color="#008030"/><path d="M464.6 873.6l4.5-10.8-6.6 10.2-4.5 8.1z" color="#00802f"/><path d="M574 820.8l3.8 41-6.5-2.5-3.7-43.7z" color="#10d400"/><path d="M397 880.3l4.4 1-6.5-3.6-4.3-1.2z" color="#00a54a"/><path d="M507.5 757.3l4.5-8.4-6.8 22.2-4.5 8.6z" color="#757800"/><path d="M438.2 898.6l4.4-3.3-6.5-1.8-4.4 1.4z" color="#00d78a"/><path d="M549.2 728.1l4.1 21.3-6.5 3.4-4.1-20z" color="#ffbf00"/><path d="M371 872.8l4.4 .8-6.6 1.4-4.3-1.6z" color="#004e1e"/><path d="M480.3 836.5l4.6-12.8-6.7 17.5-4.6 10.7z" color="#075b00"/><path d="M412.2 888.3l4.3 1-6.4-5.4-4.3-1.3z" color="#00ad5c"/><path d="M523.2 724.8l4.4 .6-6.8 17.8-4.4 .8z" color="#e79900"/><path d="M344.9 869.4l4.3 2.2-6.5 3.2-4.4-3.9z" color="#00ca49"/><path d="M453.5 888.7l4.5-7.6-6.5 5-4.5 4.9z" color="#00a256"/><path d="M563.7 779.9l3.9 35.7-6.5-1.7-3.8-36.1z" color="#8ae100"/><path d="M386.2 875.7l4.4 .8-6.5-.8-4.4-1.2z" color="#008536"/><path d="M496.2 790.9l4.5-11.2-6.8 22-4.5 10.2z" color="#375a00"/><path d="M427.3 895.6l4.4-.7-6.4-4.2-4.4-.6z" color="#00c577"/><path d="M538.5 719.4l4.2 13.4-6.6 10-4.2-11.6z" color="#ffc608"/><path d="M360.1 872l4.4 1.4-6.6 3.8-4.3-3z" color="#00be49"/><path d="M469.1 862.8l4.5-10.9-6.6 12.7-4.5 8.4z" color="#006d19"/><path d="M577.8 861.8l3.6 48.4-6.4 1.1-3.7-52z" color="#00e470"/><path d="M401.4 881.3l4.4 1.3-6.5-3.5-4.4-1.4z" color="#009c47"/><path d="M512 748.9l4.4-4.9-6.7 21.6-4.5 5.5z" color="#a19600"/><path d="M442.6 895.3l4.4-4.3-6.5 .5-4.4 2z" color="#00c777"/><path d="M553.3 749.4l4 28.4-6.5 2.3-4-27.3z" color="#f5f900"/><path d="M375.4 873.6l4.3 .9-6.5 2.4-4.4-1.9z" color="#00712c"/><path d="M484.9 823.7l4.5-11.8-6.7 19.4-4.5 9.9z" color="#124c00"/><path d="M416.5 889.3l4.4 .8-6.4-4.6-4.4-1.6z" color="#00aa5a"/><path d="M527.6 725.4l4.3 5.8-6.7 16.1-4.4-4.1z" color="#ffcf04"/><path d="M349.2 871.6l4.4 2.6-6.6 5.3-4.3-4.7z" color="#00fe63"/><path d="M458 881.1l4.5-8.1-6.6 7.7-4.4 5.4z" color="#00863a"/><path d="M567.6 815.6l3.7 43.7-6.4-.9-3.8-44.5z" color="#1ddc00"/><path d="M390.6 876.5l4.3 1.2-6.4-.4-4.4-1.6z" color="#00712d"/><path d="M500.7 779.7l4.5-8.6-6.8 22.5-4.5 8.1z" color="#587800"/><path d="M431.7 894.9l4.4-1.4-6.4-2.4-4.4-.4z" color="#00c674"/><path d="M542.7 732.8l4.1 20-6.6 8.1-4.1-18.1z" color="#ffe301"/><path d="M364.5 873.4l4.3 1.6-6.5 5.4-4.4-3.2z" color="#00ea5d"/><path d="M473.6 851.9l4.6-10.7-6.7 15.3-4.5 8.1z" color="#005808"/><path d="M405.8 882.6l4.3 1.3-6.4-2.9-4.4-1.9z" color="#009041"/><path d="M516.4 744l4.4-.8-6.7 20.7-4.4 1.7z" color="#dabf00"/><path d="M447 891l4.5-4.9-6.6 3.2-4.4 2.2z" color="#00a95b"/><path d="M557.3 777.8l3.8 36.1-6.4 1.5-3.9-35.3z" color="#96ed00"/><path d="M379.7 874.5l4.4 1.2-6.6 3.3-4.3-2.1z" color="#00a340"/><path d="M489.4 811.9l4.5-10.2-6.7 20.9-4.5 8.7z" color="#245d00"/><path d="M420.9 890.1l4.4 .6-6.5-3.3-4.3-1.9z" color="#00a356"/><path d="M531.9 731.2l4.2 11.6-6.7 14.3-4.2-9.8z" color="#ffff17"/><path d="M353.6 874.2l4.3 3-6.6 7.6-4.3-5.3z" color="#03ff79"/><path d="M462.5 873l4.5-8.4-6.6 10.7-4.5 5.4z" color="#006a24"/><path d="M571.3 859.3l3.7 52-6.5 .7-3.6-53.6z" color="#00e66b"/><path d="M394.9 877.7l4.4 1.4-6.5 .2-4.3-2z" color="#005623"/><path d="M505.2 771.1l4.5-5.5-6.8 22.7-4.5 5.3z" color="#849f00"/><path d="M436.1 893.5l4.4-2-6.5-.1-4.3-.3z" color="#00ba69"/><path d="M546.8 752.8l4 27.3-6.6 6.2-4-25.4z" color="#fcff00"/><path d="M368.8 875l4.4 1.9-6.6 7-4.3-3.5z" color="#00ff6b"/><path d="M478.2 841.2l4.5-9.9-6.7 17.7-4.5 7.5z" color="#034b00"/><path d="M410.1 883.9l4.4 1.6-6.5-2.2-4.3-2.3z" color="#007e3a"/><path d="M520.8 743.2l4.4 4.1-6.8 19.4-4.3-2.8z" color="#fff601"/><path d="M451.5 886.1l4.4-5.4-6.6 6.1-4.4 2.5z" color="#00813e"/><path d="M561.1 813.9l3.8 44.5-6.5 .9-3.7-43.9z" color="#24e200"/><path d="M384.1 875.7l4.4 1.6-6.6 4.2-4.4-2.5z" color="#00cc51"/><path d="M493.9 801.7l4.5-8.1-6.8 22.2-4.4 6.8z" color="#3e7d00"/><path d="M425.3 890.7l4.4 .4-6.5-1.7-4.4-2z" color="#00964f"/><path d="M536.1 742.8l4.1 18.1-6.6 12.1-4.2-15.9z" color="#ffff06"/><path d="M357.9 877.2l4.4 3.2-6.7 10.1-4.3-5.7z" color="#07ff8c"/><path d="M467 864.6l4.5-8.1-6.7 13.5-4.4 5.3z" color="#004f13"/><path d="M399.3 879.1l4.4 1.9-6.5 .8-4.4-2.5z" color="#006229"/><path d="M509.7 765.6l4.4-1.7-6.8 22.4-4.4 2z" color="#bad100"/><path d="M440.5 891.5l4.4-2.2-6.5 2.3-4.4-.2z" color="#009851"/><path d="M550.8 780.1l3.9 35.3-6.6 4.3-3.9-33.4z" color="#98f800"/><path d="M373.2 876.9l4.3 2.1-6.6 8.6-4.3-3.7z" color="#01ff76"/><path d="M482.7 831.3l4.5-8.7-6.8 19.9-4.4 6.5z" color="#116900"/><path d="M414.5 885.5l4.3 1.9-6.4-1.2-4.4-2.9z" color="#00632f"/><path d="M525.2 747.3l4.2 9.8-6.7 17.6-4.3-8z" color="#ffff13"/><path d="M455.9 880.7l4.5-5.4-6.7 9-4.4 2.5z" color="#005925"/><path d="M564.9 858.4l3.6 53.6-6.5 .5-3.6-53.2z" color="#00e767"/><path d="M388.5 877.3l4.3 2-6.6 5-4.3-2.8z" color="#00eb61"/><path d="M498.4 793.6l4.5-5.3-6.8 23-4.5 4.5z" color="#60a200"/><path d="M429.7 891.1l4.3 .3-6.5 .2-4.3-2.2z" color="#007940"/><path d="M540.2 760.9l4 25.4-6.6 9.7-4-23z" color="#f3ff01"/><path d="M362.3 880.4l4.3 3.5-6.7 12.6-4.3-6z" color="#08ff9a"/><path d="M471.5 856.5l4.5-7.5-6.8 16.2-4.4 4.8z" color="#005f0d"/><path d="M403.7 881l4.3 2.3-6.5 1.5-4.3-3z" color="#00923f"/><path d="M514.1 763.9l4.3 2.8-6.8 21.5-4.3-1.9z" color="#edff00"/><path d="M444.9 889.3l4.4-2.5-6.5 5-4.4-.2z" color="#005f30"/><path d="M554.7 815.4l3.7 43.9-6.5 2.4-3.8-42z" color="#24e800"/><path d="M377.5 879l4.4 2.5-6.6 10-4.4-3.9z" color="#02ff80"/><path d="M487.2 822.6l4.4-6.8-6.7 21.6-4.5 5.1z" color="#248800"/><path d="M418.8 887.4l4.4 2-6.5 .1-4.3-3.3z" color="#00592b"/><path d="M529.4 757.1l4.2 15.9-6.7 15.4-4.2-13.7z" color="#ffff11"/><path d="M460.4 875.3l4.4-5.3-6.6 11.9-4.5 2.4z" color="#005f22"/><path d="M392.8 879.3l4.4 2.5-6.6 5.8-4.4-3.3z" color="#00ff6e"/><path d="M502.9 788.3l4.4-2-6.8 23.2-4.4 1.8z" color="#85ce00"/><path d="M434 891.4l4.4 .2-6.5 2.4-4.4-2.4z" color="#00532c"/><path d="M544.2 786.3l3.9 33.4-6.5 6.9-4-30.6z" color="#8fff00"/><path d="M366.6 883.9l4.3 3.7-6.7 14.9-4.3-6z" color="#07ffa5"/><path d="M476 849l4.4-6.5-6.7 18.6-4.5 4.1z" color="#007d06"/><path d="M408 883.3l4.4 2.9-6.6 2.2-4.3-3.6z" color="#00bf56"/><path d="M518.4 766.7l4.3 8-6.8 20-4.3-6.5z" color="#ffff09"/><path d="M449.3 886.8l4.4-2.5-6.5 7.7-4.4-.2z" color="#007136"/><path d="M558.4 859.3l3.6 53.2-6.4 .5-3.7-51.3z" color="#00e865"/><path d="M381.9 881.5l4.3 2.8-6.6 11.3-4.3-4.1z" color="#02ff89"/><path d="M491.6 815.8l4.5-4.5-6.8 22.8-4.4 3.3z" color="#3aab00"/><path d="M423.2 889.4l4.3 2.2-6.5 1.7-4.3-3.8z" color="#00964c"/><path d="M533.6 773l4 23-6.6 12.6-4.1-20.2z" color="#dcff04"/><path d="M464.8 870l4.4-4.8-6.6 14.6-4.4 2.1z" color="#008326"/><path d="M397.2 881.8l4.3 3-6.6 6.5-4.3-3.7z" color="#01ff7b"/><path d="M507.3 786.3l4.3 1.9-6.8 22.8-4.3-1.5z" color="#a6fb00"/><path d="M438.4 891.6l4.4 .2-6.6 4.7-4.3-2.5z" color="#00a859"/><path d="M548.1 819.7l3.8 42-6.5 3.9-3.8-39z" color="#1ded00"/><path d="M370.9 887.6l4.4 3.9-6.8 17.1-4.3-6.1z" color="#05ffaf"/><path d="M480.4 842.5l4.5-5.1-6.8 20.6-4.4 3.1z" color="#059a00"/><path d="M412.4 886.2l4.3 3.3-6.5 3.2-4.4-4.3z" color="#00e26c"/><path d="M522.7 774.7l4.2 13.7-6.8 17.9-4.2-11.6z" color="#ffff19"/><path d="M453.7 884.3l4.5-2.4-6.7 10.5-4.3-.4z" color="#009d47"/><path d="M386.2 884.3l4.4 3.3-6.7 12.2-4.3-4.2z" color="#03ff93"/><path d="M496.1 811.3l4.4-1.8-6.8 23.4-4.4 1.2z" color="#51cf00"/><path d="M427.5 891.6l4.4 2.4-6.5 3.3-4.4-4z" color="#00d26f"/><path d="M537.6 796l4 30.6-6.6 9.3-4-27.3z" color="#7bff01"/><path d="M469.2 865.2l4.5-4.1-6.7 17-4.4 1.7z" color="#009f26"/><path d="M401.5 884.8l4.3 3.6-6.6 7-4.3-4.1z" color="#03ff8a"/><path d="M511.6 788.2l4.3 6.5-6.8 21.6-4.3-5.3z" color="#baff04"/><path d="M442.8 891.8l4.4 .2-6.6 7.1-4.4-2.6z" color="#00d973"/><path d="M551.9 861.7l3.7 51.3-6.5 .6-3.7-48z" color="#00ea66"/><path d="M375.3 891.5l4.3 4.1-6.7 18.8-4.4-5.8z" color="#04ffb9"/><path d="M484.9 837.4l4.4-3.3-6.8 22-4.4 1.9z" color="#10b700"/><path d="M416.7 889.5l4.3 3.8-6.5 4-4.3-4.6z" color="#00fc80"/><path d="M526.9 788.4l4.1 20.2-6.7 15-4.2-17.3z" color="#b8ff0a"/><path d="M458.2 881.9l4.4-2.1-6.7 13-4.4-.4z" color="#00b94e"/><path d="M390.6 887.6l4.3 3.7-6.6 12.8-4.4-4.3z" color="#04ff9e"/><path d="M500.5 809.5l4.3 1.5-6.8 23.4-4.3-1.5z" color="#62f300"/><path d="M431.9 894l4.3 2.5-6.5 5-4.3-4.2z" color="#00fc8b"/><path d="M541.6 826.6l3.8 39-6.6 5.4-3.8-35.1z" color="#0ff200"/><path d="M473.7 861.1l4.4-3.1-6.7 19.1-4.4 1z" color="#00b723"/><path d="M405.8 888.4l4.4 4.3-6.6 7.3-4.4-4.6z" color="#05ff99"/><path d="M515.9 794.7l4.2 11.6-6.7 19.6-4.3-9.6z" color="#beff16"/><path d="M447.2 892l4.3 .4-6.6 9.3-4.3-2.6z" color="#00ed7e"/><path d="M379.6 895.6l4.3 4.2-6.7 20-4.3-5.4z" color="#03ffc3"/><path d="M489.3 834.1l4.4-1.2-6.8 23-4.4 .2z" color="#1bd300"/><path d="M421 893.3l4.4 4-6.6 5.1-4.3-5.1z" color="#01ff94"/><path d="M531 808.6l4 27.3-6.7 11.3-4-23.6z" color="#5dff02"/><path d="M462.6 879.8l4.4-1.7-6.7 15.5-4.4-.8z" color="#00cc52"/><path d="M394.9 891.3l4.3 4.1-6.6 13-4.3-4.3z" color="#05ffaa"/><path d="M504.8 811l4.3 5.3-6.7 22.4-4.4-4.3z" color="#6aff02"/><path d="M436.2 896.5l4.4 2.6-6.6 6.8-4.3-4.4z" color="#01ffa0"/><path d="M545.4 865.6l3.7 48-6.5 .9-3.8-43.5z" color="#00ec6a"/><path d="M478.1 858l4.4-1.9-6.8 20.8-4.3 .2z" color="#00cc1f"/><path d="M410.2 892.7l4.3 4.6-6.6 7.6-4.3-4.9z" color="#07ffa9"/><path d="M520.1 806.3l4.2 17.3-6.7 16.7-4.2-14.4z" color="#8bff12"/><path d="M451.5 892.4l4.4 .4-6.6 11.6-4.4-2.7z" color="#00f583"/><path d="M383.9 899.8l4.4 4.3-6.8 20.5-4.3-4.8z" color="#02ffcc"/><path d="M493.7 832.9l4.3 1.5-6.8 23-4.3-1.5z" color="#21ee00"/><path d="M425.4 897.3l4.3 4.2-6.6 6.1-4.3-5.2z" color="#02ffa8"/><path d="M535 835.9l3.8 35.1-6.5 6.7-4-30.5z" color="#00f805"/><path d="M467 878.1l4.4-1-6.8 17.4-4.3-.9z" color="#00d953"/><path d="M399.2 895.4l4.4 4.6-6.7 12.8-4.3-4.4z" color="#06ffb8"/><path d="M509.1 816.3l4.3 9.6-6.8 20.6-4.2-7.8z" color="#6bff0f"/><path d="M440.6 899.1l4.3 2.6-6.6 8.5-4.3-4.3z" color="#03ffae"/><path d="M482.5 856.1l4.4-.2-6.8 21.7-4.4-.7z" color="#00de1e"/><path d="M414.5 897.3l4.3 5.1-6.6 7.7-4.3-5.2z" color="#08ffb8"/><path d="M524.3 823.6l4 23.6-6.6 12.8-4.1-19.7z" color="#38ff04"/><path d="M455.9 892.8l4.4 .8-6.7 13.5-4.3-2.7z" color="#00fa87"/><path d="M388.3 904.1l4.3 4.3-6.8 20.3-4.3-4.1z" color="#02ffd4"/><path d="M498 834.4l4.4 4.3-6.8 22.4-4.4-3.7z" color="#20ff01"/><path d="M429.7 901.5l4.3 4.4-6.6 7-4.3-5.3z" color="#05ffbb"/><path d="M538.8 871l3.8 43.5-6.5 1.1-3.8-37.9z" color="#00ef70"/><path d="M471.4 877.1l4.3-.2-6.7 19-4.4-1.4z" color="#00e555"/><path d="M403.6 900l4.3 4.9-6.7 12.2-4.3-4.3z" color="#07ffc6"/><path d="M513.4 825.9l4.2 14.4-6.8 17.7-4.2-11.5z" color="#52ff19"/><path d="M444.9 901.7l4.4 2.7-6.7 10.1-4.3-4.3z" color="#03ffb6"/><path d="M486.9 855.9l4.3 1.5-6.7 22.1-4.4-1.9z" color="#00f01f"/><path d="M418.8 902.4l4.3 5.2-6.6 7.7-4.3-5.2z" color="#08ffc8"/><path d="M528.3 847.2l4 30.5-6.6 7.7-4-25.4z" color="#01ff1f"/><path d="M460.3 893.6l4.3 .9-6.7 15.3-4.3-2.7z" color="#00fc8a"/><path d="M392.6 908.4l4.3 4.4-6.7 19.3-4.4-3.4z" color="#01ffdb"/><path d="M502.4 838.7l4.2 7.8-6.7 20.7-4.3-6.1z" color="#19ff08"/><path d="M434 905.9l4.3 4.3-6.6 7.9-4.3-5.2z" color="#07ffcd"/><path d="M475.7 876.9l4.4 .7-6.7 20-4.4-1.7z" color="#00ef57"/><path d="M407.9 904.9l4.3 5.2-6.6 11.2-4.4-4.2z" color="#08ffd4"/><path d="M517.6 840.3l4.1 19.7-6.7 13.6-4.2-15.6z" color="#0dff0a"/><path d="M449.3 904.4l4.3 2.7-6.6 11.6-4.4-4.2z" color="#02ffbc"/><path d="M491.2 857.4l4.4 3.7-6.8 21.5-4.3-3.1z" color="#01ff26"/><path d="M423.1 907.6l4.3 5.3-6.6 7.6-4.3-5.2z" color="#08ffd6"/><path d="M532.3 877.7l3.8 37.9-6.5 1.5-3.9-31.7z" color="#00f379"/><path d="M464.6 894.5l4.4 1.4-6.7 16.5-4.4-2.6z" color="#00fe8d"/><path d="M396.9 912.8l4.3 4.3-6.7 17.8-4.3-2.8z" color="#01ffe2"/><path d="M506.6 846.5l4.2 11.5-6.7 17.9-4.2-8.7z" color="#17ff20"/><path d="M438.3 910.2l4.3 4.3-6.6 8.7-4.3-5.1z" color="#08ffdc"/><path d="M480.1 877.6l4.4 1.9-6.8 20.3-4.3-2.2z" color="#00f95c"/><path d="M412.2 910.1l4.3 5.2-6.6 10.1-4.3-4.1z" color="#08ffe2"/><path d="M521.7 860l4 25.4-6.6 8.4-4.1-20.2z" color="#01ff3f"/><path d="M453.6 907.1l4.3 2.7-6.6 12.8-4.3-3.9z" color="#02ffc1"/><path d="M495.6 861.1l4.3 6.1-6.8 20-4.3-4.6z" color="#03ff37"/><path d="M427.4 912.9l4.3 5.2-6.6 7.5-4.3-5.1z" color="#08ffe4"/><path d="M469 895.9l4.4 1.7-6.8 17.4-4.3-2.6z" color="#00ff91"/><path d="M401.2 917.1l4.4 4.2-6.7 15.7-4.4-2.1z" color="#01ffe7"/><path d="M510.8 858l4.2 15.6-6.7 14-4.2-11.7z" color="#12ff44"/><path d="M442.6 914.5l4.4 4.2-6.6 9.3-4.4-4.8z" color="#07ffe7"/><path d="M484.5 879.5l4.3 3.1-6.8 19.8-4.3-2.6z" color="#00ff64"/><path d="M416.5 915.3l4.3 5.2-6.6 8.8-4.3-3.9z" color="#08ffee"/><path d="M525.7 885.4l3.9 31.7-6.5 1.8-4-25.1z" color="#00f884"/><path d="M457.9 909.8l4.4 2.6-6.7 13.7-4.3-3.5z" color="#01ffc4"/><path d="M499.9 867.2l4.2 8.7-6.7 17.5-4.3-6.2z" color="#0dff56"/><path d="M431.7 918.1l4.3 5.1-6.5 7.3-4.4-4.9z" color="#07fff0"/><path d="M473.4 897.6l4.3 2.2-6.7 17.6-4.4-2.4z" color="#00ff95"/><path d="M405.6 921.3l4.3 4.1-6.7 13.2-4.3-1.6z" color="#01ffec"/><path d="M515 873.6l4.1 20.2-6.6 8.7-4.2-14.9z" color="#03ff65"/><path d="M447 918.7l4.3 3.9-6.6 9.8-4.3-4.4z" color="#06ffef"/><path d="M488.8 882.6l4.3 4.6-6.7 18.5-4.4-3.3z" color="#01ff71"/><path d="M420.8 920.5l4.3 5.1-6.6 7.4-4.3-3.7z" color="#06fff6"/><path d="M462.3 912.4l4.3 2.6-6.6 14.2-4.4-3.1z" color="#01ffc6"/><path d="M504.1 875.9l4.2 11.7-6.6 13.7-4.3-7.9z" color="#18ff7f"/><path d="M436 923.2l4.4 4.8-6.6 7-4.3-4.5z" color="#06fffa"/><path d="M477.7 899.8l4.3 2.6-6.7 17.4-4.3-2.4z" color="#00ff9a"/><path d="M409.9 925.4l4.3 3.9-6.6 10.5-4.4-1.2z" color="#01ffee"/><path d="M519.1 893.8l4 25.1-6.5 2-4.1-18.4z" color="#00fe91"/><path d="M451.3 922.6l4.3 3.5-6.6 10.2-4.3-3.9z" color="#04fff2"/><path d="M493.1 887.2l4.3 6.2-6.7 16.2-4.3-3.9z" color="#04ff85"/><path d="M425.1 925.6l4.4 4.9-6.6 5.9-4.4-3.4z" color="#03fff9"/><path d="M466.6 915l4.4 2.4-6.7 14.4-4.3-2.6z" color="#00ffc7"/><path d="M508.3 887.6l4.2 14.9-6.6 8.7-4.2-9.9z" color="#09ff91"/><path d="M440.4 928l4.3 4.4-6.6 6.7-4.3-4.1z" color="#04ffff"/><path d="M482 902.4l4.4 3.3-6.7 16.2-4.4-2.1z" color="#00ffa1"/><path d="M414.2 929.3l4.3 3.7-6.5 7.5-4.4-.7z" color="#00ffeb"/><path d="M455.6 926.1l4.4 3.1-6.7 10.4-4.3-3.3z" color="#02fff1"/><path d="M497.4 893.4l4.3 7.9-6.7 12.9-4.3-4.6z" color="#0dffa4"/><path d="M429.5 930.5l4.3 4.5-6.6 4.4-4.3-3z" color="#01fff3"/><path d="M471 917.4l4.3 2.4-6.6 14-4.4-2z" color="#00ffc5"/><path d="M512.5 902.5l4.1 18.4-6.5 2.3-4.2-12z" color="#00ffa2"/><path d="M444.7 932.4l4.3 3.9-6.6 6.3-4.3-3.5z" color="#02ffff"/><path d="M486.4 905.7l4.3 3.9-6.7 14.3-4.3-2z" color="#01ffa9"/><path d="M418.5 933l4.4 3.4-6.6 4.5-4.3-.4z" color="#00f4da"/><path d="M460 929.2l4.3 2.6-6.6 10.2-4.4-2.4z" color="#01ffec"/><path d="M501.7 901.3l4.2 9.9-6.6 8.3-4.3-5.3z" color="#11ffbf"/><path d="M433.8 935l4.3 4.1-6.5 3-4.4-2.7z" color="#00fbe1"/><path d="M475.3 919.8l4.4 2.1-6.7 13.1-4.3-1.2z" color="#00fec2"/><path d="M449 936.3l4.3 3.3-6.5 5.8-4.4-2.8z" color="#01fffd"/><path d="M490.7 909.6l4.3 4.6-6.6 11.4-4.4-1.7z" color="#01ffb4"/><path d="M422.9 936.4l4.3 3-6.5 1.7-4.4-.2z" color="#00ad9b"/><path d="M464.3 931.8l4.4 2-6.7 9.8-4.3-1.6z" color="#00ffdf"/><path d="M505.9 911.2l4.2 12-6.5 2.4-4.3-6.1z" color="#01ffb6"/><path d="M438.1 939.1l4.3 3.5-6.5 1.7-4.3-2.2z" color="#00cbba"/><path d="M479.7 921.9l4.3 2-6.6 11.5-4.4-.4z" color="#00f3ba"/><path d="M453.3 939.6l4.4 2.4-6.6 5.4-4.3-2z" color="#00fdeb"/><path d="M495 914.2l4.3 5.3-6.6 7.6-4.3-1.5z" color="#02ffc1"/><path d="M427.2 939.4l4.4 2.7-6.5-1.1-4.4 .1z" color="#006157"/><path d="M468.7 933.8l4.3 1.2-6.6 9.2-4.4-.6z" color="#00e7c9"/><path d="M442.4 942.6l4.4 2.8-6.5 .6-4.4-1.7z" color="#00867d"/><path d="M484 923.9l4.4 1.7-6.6 9.4-4.4 .4z" color="#00e0aa"/><path d="M457.7 942l4.3 1.6-6.5 4.9-4.4-1.1z" color="#00d4c6"/><path d="M499.3 919.5l4.3 6.1-6.5 2.7-4.4-1.2z" color="#01ffbe"/><path d="M431.6 942.1l4.3 2.2-6.4-3.4-4.4 .1z" color="#009e8e"/><path d="M473 935l4.4 .4-6.6 8.2-4.4 .6z" color="#00c0a6"/><path d="M446.8 945.4l4.3 2-6.5-.3-4.3-1.1z" color="#005a54"/><path d="M488.4 925.6l4.3 1.5-6.5 6.4-4.4 1.5z" color="#00ba8b"/><path d="M462 943.6l4.4 .6-6.5 4.5-4.4-.2z" color="#00958b"/><path d="M435.9 944.3l4.4 1.7-6.4-5.4-4.4 .3z" color="#00b8a4"/><path d="M477.4 935.4l4.4-.4-6.6 6.8-4.4 1.8z" color="#008872"/><path d="M451.1 947.4l4.4 1.1-6.5-.8-4.4-.6z" color="#008a81"/><path d="M492.7 927.1l4.4 1.2-6.5 2.7-4.4 2.5z" color="#005e44"/><path d="M466.4 944.2l4.4-.6-6.5 4.1-4.4 1z" color="#004f48"/><path d="M440.3 946l4.3 1.1-6.4-6.7-4.3 .2z" color="#00c4ae"/><path d="M481.8 935l4.4-1.5-6.6 5.1-4.4 3.2z" color="#005444"/><path d="M455.5 948.5l4.4 .2-6.5-1.1-4.4 .1z" color="#00ab9f"/><path d="M470.8 943.6l4.4-1.8-6.5 3.6-4.4 2.3z" color="#007568"/><path d="M444.6 947.1l4.4 .6-6.4-7.5-4.4 .2z" color="#00cbb1"/><path d="M486.2 933.5l4.4-2.5-6.5 2.9-4.5 4.7z" color="#008b69"/><path d="M459.9 948.7l4.4-1-6.5-.9-4.4 .8z" color="#00bdad"/><path d="M475.2 941.8l4.4-3.2-6.5 3.3-4.4 3.5z" color="#00927a"/><path d="M449 947.7l4.4-.1-6.4-7.4-4.4 0z" color="#00cfb2"/><path d="M464.3 947.7l4.4-2.3-6.5-.1-4.4 1.5z" color="#00c3ac"/><path d="M479.6 938.6l4.5-4.7-6.6 2.9-4.4 5.1z" color="#00a37f"/><path d="M453.4 947.6l4.4-.8-6.4-6.4-4.4-.2z" color="#00d1b1"/><path d="M468.7 945.4l4.4-3.5-6.5 1.1-4.4 2.3z" color="#00bd9f"/><path d="M457.8 946.8l4.4-1.5-6.4-4.5-4.4-.4z" color="#00d2ae"/><path d="M473.1 941.9l4.4-5.1-6.5 3-4.4 3.2z" color="#00ad88"/><path d="M462.2 945.3l4.4-2.3-6.5-1.4-4.3-.8z" color="#00cca4"/><path d="M466.6 943l4.4-3.2-6.5 3-4.4-1.2z" color="#00a07d"/></g>
<g stroke="#000" stroke-width="1.6" stroke-dasharray="4 3.5" fill="none"><line x1="453.2" y1="908.3" x2="457.7" y2="577.1"/><line x1="453.2" y1="908.3" x2="218.6" y2="975.6"/><line x1="453.2" y1="908.3" x2="696.4" y2="978"/></g>
<line x1="213.5" y1="942.4" x2="219" y2="942.4" stroke="#000" stroke-width="1.6"/><line x1="214.6" y1="854" x2="220.1" y2="854" stroke="#000" stroke-width="1.6"/><line x1="215.7" y1="765.4" x2="221.2" y2="765.4" stroke="#000" stroke-width="1.6"/><line x1="216.7" y1="676.8" x2="222.2" y2="676.8" stroke="#000" stroke-width="1.6"/><line x1="255.3" y1="986.1" x2="250.5" y2="987.5" stroke="#000" stroke-width="1.4"/><line x1="316.5" y1="1003.6" x2="311.7" y2="1005" stroke="#000" stroke-width="1.4"/><line x1="377.6" y1="1021.1" x2="372.8" y2="1022.5" stroke="#000" stroke-width="1.4"/><line x1="438.7" y1="1038.6" x2="433.9" y2="1039.9" stroke="#000" stroke-width="1.4"/><line x1="696.4" y1="978" x2="701.2" y2="979.4" stroke="#000" stroke-width="1.4"/><line x1="618.9" y1="1000.5" x2="623.7" y2="1001.9" stroke="#000" stroke-width="1.4"/><line x1="541.1" y1="1023" x2="545.9" y2="1024.4" stroke="#000" stroke-width="1.4"/><line x1="463.1" y1="1045.6" x2="467.9" y2="1046.9" stroke="#000" stroke-width="1.4"/>
<g font-family="DejaVu Sans, sans-serif" font-size="14.2" fill="#111" stroke="#111" stroke-width="0.35"><text x="205.4" y="940.6" text-anchor="end">0.95</text><text x="206.5" y="852.2" text-anchor="end">1</text><text x="207.6" y="763.6" text-anchor="end">1.05</text><text x="208.6" y="675" text-anchor="end">1.1</text><text x="252.1" y="1009.9" text-anchor="end">0.5</text><text x="313.3" y="1027.4" text-anchor="end">1</text><text x="374.4" y="1044.9" text-anchor="end">1.5</text><text x="435.5" y="1062.4" text-anchor="end">2</text><text x="697.8" y="1004.5">0.5</text><text x="620.2" y="1027">1</text><text x="542.5" y="1049.5">1.5</text><text x="464.5" y="1072.1">2</text></g>
<text x="328.7" y="1059.5" transform="rotate(16 328.7 1059.5)" text-anchor="middle" dominant-baseline="central" font-family="Liberation Sans, Arial, sans-serif" font-size="35">Depth</text>
<text x="605.6" y="1057.0" transform="rotate(-18.5 605.6 1057.0)" text-anchor="middle" dominant-baseline="central" font-family="Liberation Sans, Arial, sans-serif" font-size="35">TiBase</text>
<text x="188.5" y="607.5" font-family="Liberation Sans, Arial, sans-serif" font-weight="bold" font-size="35">d</text>
</g>
<clipPath id="ce"><rect x="743.3" y="561" width="599.2" height="547.0"/></clipPath>
<g clip-path="url(#ce)">
<g stroke-linecap="square"><line x1="995.8" y1="936.2" x2="1000.3" y2="583.3" stroke="#c6c6c6" stroke-width="1"/><line x1="995.8" y1="936.2" x2="1255.2" y2="1010.3" stroke="#c6c6c6" stroke-width="1"/><line x1="945.9" y1="950.4" x2="950.4" y2="597.5" stroke="#c6c6c6" stroke-width="1"/><line x1="945.9" y1="950.4" x2="1205.3" y2="1024.5" stroke="#c6c6c6" stroke-width="1"/><line x1="896.1" y1="964.5" x2="900.5" y2="611.7" stroke="#c6c6c6" stroke-width="1"/><line x1="896.1" y1="964.5" x2="1155.4" y2="1038.7" stroke="#c6c6c6" stroke-width="1"/><line x1="846.2" y1="978.7" x2="850.5" y2="625.9" stroke="#c6c6c6" stroke-width="1"/><line x1="846.2" y1="978.7" x2="1105.5" y2="1052.8" stroke="#c6c6c6" stroke-width="1"/><line x1="1084.6" y1="933.1" x2="1089.2" y2="580.1" stroke="#c6c6c6" stroke-width="1"/><line x1="1084.6" y1="933.1" x2="835.2" y2="1004" stroke="#c6c6c6" stroke-width="1"/><line x1="1149.4" y1="951.7" x2="1154.1" y2="598.6" stroke="#c6c6c6" stroke-width="1"/><line x1="1149.4" y1="951.7" x2="900" y2="1022.5" stroke="#c6c6c6" stroke-width="1"/><line x1="1214.3" y1="970.2" x2="1219.1" y2="617.1" stroke="#c6c6c6" stroke-width="1"/><line x1="1214.3" y1="970.2" x2="964.8" y2="1041" stroke="#c6c6c6" stroke-width="1"/><line x1="1279.2" y1="988.7" x2="1284" y2="635.6" stroke="#c6c6c6" stroke-width="1"/><line x1="1279.2" y1="988.7" x2="1029.7" y2="1059.6" stroke="#c6c6c6" stroke-width="1"/><line x1="798.2" y1="841.8" x2="1047.6" y2="770.9" stroke="#c6c6c6" stroke-width="1"/><line x1="1047.6" y1="770.9" x2="1307.3" y2="844.9" stroke="#c6c6c6" stroke-width="1"/><line x1="800.2" y1="673.7" x2="1049.8" y2="602.7" stroke="#c6c6c6" stroke-width="1"/><line x1="1049.8" y1="602.7" x2="1309.6" y2="676.6" stroke="#c6c6c6" stroke-width="1"/><line x1="796.4" y1="992.8" x2="800.6" y2="640.1" stroke="#c6c6c6" stroke-width="1"/><line x1="800.6" y1="640.1" x2="1050.2" y2="569.1" stroke="#c6c6c6" stroke-width="1"/><line x1="1050.2" y1="569.1" x2="1310" y2="643" stroke="#c6c6c6" stroke-width="1"/><line x1="1310" y1="643" x2="1305.2" y2="996.1" stroke="#c6c6c6" stroke-width="1"/><line x1="796.4" y1="992.8" x2="1055.6" y2="1067" stroke="#c6c6c6" stroke-width="1"/><line x1="1055.6" y1="1067" x2="1305.2" y2="996.1" stroke="#c6c6c6" stroke-width="1"/></g>
<g stroke="#000" stroke-linecap="round"><line x1="1045.7" y1="922" x2="1050.2" y2="569.1" stroke-width="4.4"/><line x1="1045.7" y1="922" x2="796.4" y2="992.8" stroke-width="5.2"/><line x1="1045.7" y1="922" x2="1305.2" y2="996.1" stroke-width="5.2"/></g>
<g class="s"><path d="M1046.7 841.3l1.6-1.8-249.4 70.9-1.6 1.7z" color="#00a4b1"/><path d="M1048.3 839.5l1.6-1.7-249.4 70.9-1.6 1.7z" color="#00a8b0"/><path d="M1049.9 837.8l1.6-1.6-249.4 70.8-1.6 1.7z" color="#00abaf"/><path d="M1051.5 836.2l1.7-1.7-249.3 70.9-1.8 1.6z" color="#00aeae"/><path d="M1053.2 834.5l1.9-1.6-249.4 70.8-1.8 1.7z" color="#00ada9"/><path d="M1055.1 832.9l2-1.6-249.4 70.8-2 1.6z" color="#00aba3"/><path d="M1057.1 831.3l2.1-1.6-249.4 70.8-2.1 1.6z" color="#00a89d"/><path d="M1059.2 829.7l2.1-1.6-249.4 70.9-2.1 1.5z" color="#00a696"/><path d="M1061.3 828.1l2.3-1.5-249.4 70.9-2.3 1.5z" color="#00a28f"/><path d="M1063.6 826.6l2.5-1.5-249.4 70.9-2.5 1.5z" color="#009e88"/><path d="M1066.1 825.1l2.8-1.3-249.4 70.9-2.8 1.3z" color="#00987f"/><path d="M1068.9 823.8l3.2-1.2-249.4 70.9-3.2 1.2z" color="#008e74"/><path d="M1072.1 822.6l3.3-1.2-249.5 70.8-3.2 1.3z" color="#008166"/><path d="M1075.4 821.4l3.2-1-249.5 70.9-3.2 .9z" color="#006f56"/><path d="M1078.6 820.4l3.1-.5-249.4 70.9-3.2 .5z" color="#005842"/><path d="M1081.7 819.9l3.2 .4-249.5 70.9-3.1-.4z" color="#005e46"/><path d="M1084.9 820.3l3.1 1.1-249.5 70.8-3.1-1z" color="#007758"/><path d="M1088 821.4l3.1 1.4-249.5 70.9-3.1-1.5z" color="#00936e"/><path d="M1091.1 822.8l3.2 1.7-249.5 70.9-3.2-1.7z" color="#00a67d"/><path d="M1094.3 824.5l3.1 1.9-249.5 70.9-3.1-1.9z" color="#00b58a"/><path d="M1097.4 826.4l2.9 3-249.4 70.9-3-3z" color="#00dcab"/><path d="M1100.3 829.4l1.9 2.7-249.5 70.9-1.8-2.7z" color="#00eabc"/><path d="M1102.2 832.1l1.5 2.6-249.5 70.9-1.5-2.6z" color="#00edc4"/><path d="M1103.7 834.7l1.5 2.6-249.5 70.9-1.5-2.6z" color="#00efcb"/><path d="M1105.2 837.3l1.4 2.6-249.5 70.9-1.4-2.6z" color="#00f0d1"/><path d="M1106.6 839.9l1.4 2.5-249.5 70.9-1.4-2.5z" color="#00f0d7"/><path d="M1108 842.4l1.4 2.6-249.4 70.9-1.5-2.6z" color="#00f0dd"/><path d="M1109.4 845l1.5 2.6-249.5 70.9-1.4-2.6z" color="#00f1e3"/><path d="M1110.9 847.6l1.3 2.5-249.4 70.9-1.4-2.5z" color="#00f2e9"/><path d="M1112.2 850.1l1.3 2.6-249.4 70.9-1.3-2.6z" color="#00f3ef"/><path d="M1113.5 852.7l1.3 2.6-249.4 70.8-1.3-2.5z" color="#00f1f3"/><path d="M1114.8 855.3l1.3 2.6-249.5 70.8-1.2-2.6z" color="#00ebf3"/><path d="M1116.1 857.9l1.2 2.4-249.5 70.9-1.2-2.5z" color="#00e5f4"/><path d="M1117.3 860.3l1.2 2.5-249.4 70.9-1.3-2.5z" color="#00dff4"/><path d="M1118.5 862.8l1.3 2.6-249.5 70.9-1.2-2.6z" color="#00d9f4"/><path d="M1119.8 865.4l1.2 2.6-249.4 70.8-1.3-2.5z" color="#00d3f3"/><path d="M1121 868l1.3 2.5-249.4 70.8-1.3-2.5z" color="#00cdf3"/><path d="M1122.3 870.5l1.3 2.5-249.5 70.9-1.2-2.6z" color="#00c7f3"/><path d="M1123.6 873l1.2 2.5-249.4 70.9-1.3-2.5z" color="#00c1f3"/><path d="M1124.8 875.5l1.3 2.6-249.4 70.8-1.3-2.5z" color="#00bbf3"/><path d="M1126.1 878.1l1.3 2.5-249.5 70.9-1.2-2.6z" color="#00b5f3"/><path d="M1127.4 880.6l1.2 2.6-249.4 70.8-1.3-2.5z" color="#00aff3"/><path d="M1128.6 883.2l1.3 2.5-249.4 70.9-1.3-2.6z" color="#00a9f3"/><path d="M1129.9 885.7l1.3 2.6-249.5 70.8-1.2-2.5z" color="#00a3f3"/><path d="M1131.2 888.3l1.3 2.5-249.5 70.9-1.3-2.6z" color="#009df3"/><path d="M1132.5 890.8l1.2 2.5-249.4 70.9-1.3-2.5z" color="#0097f3"/><path d="M1133.7 893.3l1.3 2.6-249.5 70.8-1.2-2.5z" color="#0091f3"/><path d="M1135 895.9l1.3 2.6-249.5 70.8-1.3-2.6z" color="#008bf3"/><path d="M1136.3 898.5l1.2 2.6-249.4 70.8-1.3-2.6z" color="#0085f3"/><path d="M1137.5 901.1l1.3 2.5-249.4 70.9-1.3-2.6z" color="#007ff4"/><path d="M1138.8 903.6l1.3 2.6-249.5 70.9-1.2-2.6z" color="#0079f3"/><path d="M1140.1 906.2l1.2 2.6-249.4 70.8-1.3-2.5z" color="#0073f3"/><path d="M1141.3 908.8l1.3 2.5-249.4 70.9-1.3-2.6z" color="#006df3"/><path d="M1142.6 911.3l1.3 2.5-249.5 70.9-1.2-2.5z" color="#0067f3"/><path d="M1143.9 913.8l1.3 2.6-249.4 70.8-1.4-2.5z" color="#0061f3"/><path d="M1145.2 916.4l1.3 2.5-249.4 70.8-1.3-2.5z" color="#005bf3"/><path d="M1146.5 918.9l1.4 2.6-249.5 70.8-1.3-2.6z" color="#0055f3"/><path d="M1147.9 921.5l1.3 2.5-249.4 70.9-1.4-2.6z" color="#004ff3"/><path d="M1149.2 924l1.3 2.6-249.4 70.9-1.3-2.6z" color="#0049f3"/><path d="M1150.5 926.6l1.4 2.5-249.5 70.9-1.3-2.5z" color="#0043f3"/><path d="M1151.9 929.1l1.4 2.6-249.5 70.8-1.4-2.5z" color="#003df2"/><path d="M1153.3 931.7l1.5 2.6-249.4 70.8-1.6-2.6z" color="#0037f1"/><path d="M1154.8 934.3l1.7 2.6-249.4 70.8-1.7-2.6z" color="#0030ef"/><path d="M1156.5 936.9l2.1 2.8-249.4 70.8-2.1-2.8z" color="#002aeb"/><path d="M1158.6 939.7l2.2 2.7-249.4 70.9-2.2-2.8z" color="#0024e9"/><path d="M1160.8 942.4l2.4 2.8-249.5 70.9-2.3-2.8z" color="#001ee7"/><path d="M1163.2 945.2l2.9 3-249.5 70.9-2.9-3z" color="#0017df"/><path d="M1166.1 948.2l3.1 2.3-249.5 70.8-3.1-2.2z" color="#0011c6"/><path d="M1169.2 950.5l3.1 1.3-249.5 70.9-3.1-1.4z" color="#000b97"/><path d="M1172.3 951.8l3.1 1.3-249.5 70.8-3.1-1.2z" color="#000a8a"/><path d="M1175.4 953.1l3.1 1.1-249.5 70.8-3.1-1.1z" color="#000980"/><path d="M1178.5 954.2l3.1 1-249.4 70.8-3.2-1z" color="#000773"/><path d="M1181.6 955.2l3.1 .3-249.4 70.8-3.1-.3z" color="#00098b"/><path d="M1184.7 955.5l3.2-1-249.4 70.9-3.2 .9z" color="#000d9d"/><path d="M1187.9 954.5l2.7-1.4-249.5 70.8-2.6 1.5z" color="#0011a8"/><path d="M1190.6 953.1l2.3-1.5-249.5 70.8-2.3 1.5z" color="#0016ae"/><path d="M1192.9 951.6l2.1-1.6-249.4 70.9-2.2 1.5z" color="#001bb3"/><path d="M1195 950l1.7-1.6-249.5 70.8-1.6 1.7z" color="#0020b5"/><path d="M1196.7 948.4l1.4-1.8-249.5 70.8-1.4 1.8z" color="#0025b7"/><path d="M1198.1 946.6l1.2-1.9-249.4 70.9-1.3 1.8z" color="#002ab9"/><path d="M1199.3 944.7l1.2-1.8-249.5 70.8-1.1 1.9z" color="#002fba"/><path d="M1200.5 942.9l1-1.8-249.5 70.8-1 1.8z" color="#0034bb"/><path d="M1201.5 941.1l1.1-2-249.5 70.9-1.1 1.9z" color="#0038bb"/><path d="M1202.6 939.1l1.1-1.9-249.5 70.8-1.1 2z" color="#003dbc"/><path d="M1203.7 937.2l1-1.9-249.5 70.9-1 1.8z" color="#0042bd"/><path d="M1204.7 935.3l1-1.8-249.5 70.8-1 1.9z" color="#0047bd"/><path d="M1205.7 933.5l1-1.9-249.5 70.8-1 1.9z" color="#004cbe"/><path d="M1206.7 931.6l1-2-249.5 70.9-1 1.9z" color="#0051be"/><path d="M1207.7 929.6l.9-1.9-249.5 70.9-.9 1.9z" color="#0056bf"/><path d="M1208.6 927.7l1-2-249.6 70.9-.9 2z" color="#005bbf"/><path d="M1209.6 925.7l.8-1.9-249.5 70.9-.9 1.9z" color="#0060bf"/><path d="M1210.4 923.8l.9-2-249.5 70.9-.9 2z" color="#0065c0"/><path d="M1211.3 921.8l.9-2-249.5 70.8-.9 2.1z" color="#006ac0"/><path d="M1212.2 919.8l.8-2-249.5 70.9-.8 1.9z" color="#006fc0"/><path d="M1213 917.8l.8-1.9-249.5 70.8-.8 2z" color="#0073c1"/><path d="M1213.8 915.9l.8-2-249.5 70.9-.8 1.9z" color="#0078c1"/><path d="M1214.6 913.9l.8-2-249.5 70.8-.8 2.1z" color="#007dc1"/><path d="M1215.4 911.9l.8-2.1-249.5 70.9-.8 2z" color="#0082c1"/><path d="M1216.2 909.8l.8-2-249.5 70.8-.8 2.1z" color="#0087c1"/><path d="M1217 907.8l.8-2.1-249.5 70.9-.8 2z" color="#008dc1"/><path d="M1217.8 905.7l.9-2.1-249.6 70.9-.8 2.1z" color="#0092c2"/><path d="M1218.7 903.6l.7-1.9-249.5 70.9-.8 1.9z" color="#0097c2"/><path d="M1219.4 901.7l.7-1.9-249.5 70.8-.7 2z" color="#009cc2"/><path d="M1220.1 899.8l.8-1.9-249.6 70.8-.7 1.9z" color="#00a0c2"/><path d="M1220.9 897.9l.8-2.1-249.6 70.9-.8 2z" color="#00a5c2"/><path d="M1221.7 895.8l.7-2-249.5 70.9-.8 2z" color="#00aac2"/><path d="M1222.4 893.8l.8-1.9-249.6 70.9-.7 1.9z" color="#00afc2"/><path d="M1223.2 891.9l.7-2-249.5 70.9-.8 2z" color="#00b4c2"/><path d="M1223.9 889.9l.8-2-249.6 70.9-.7 2z" color="#00b9c3"/><path d="M1224.7 887.9l.7-2-249.6 70.9-.7 2z" color="#00bec3"/><path d="M1225.4 885.9l.7-2-249.5 70.9-.8 2z" color="#00c3c3"/><path d="M1226.1 883.9l.8-2.1-249.6 70.9-.7 2.1z" color="#00c2be"/><path d="M1226.9 881.8l.7-2.1-249.5 70.9-.8 2.1z" color="#00c2b9"/><path d="M1227.6 879.7l.8-2.1-249.6 70.9-.7 2.1z" color="#00c2b4"/><path d="M1228.4 877.6l.7-2.1-249.5 70.9-.8 2.1z" color="#00c1af"/><path d="M1229.1 875.5l.8-2.1-249.6 70.9-.7 2.1z" color="#00c1aa"/><path d="M1229.9 873.4l.7-1.9-249.6 70.9-.7 1.9z" color="#00c1a5"/><path d="M1230.6 871.5l.6-1.9-249.6 70.9-.6 1.9z" color="#00c0a0"/><path d="M1231.2 869.6l.7-2-249.6 70.9-.7 2z" color="#00c09c"/><path d="M1231.9 867.6l.7-1.9-249.6 70.9-.7 1.9z" color="#00c097"/><path d="M1232.6 865.7l.7-2-249.6 70.9-.7 2z" color="#00bf92"/><path d="M1233.3 863.7l.6-2-249.5 70.9-.7 2z" color="#00bf8d"/><path d="M1233.9 861.7l.7-1.9-249.6 70.9-.6 1.9z" color="#00bf89"/><path d="M1234.6 859.8l.7-2-249.6 70.9-.7 2z" color="#00be84"/><path d="M1235.3 857.8l.7-2-249.6 70.9-.7 2z" color="#00be7f"/><path d="M1236 855.8l.7-1.9-249.6 70.9-.7 1.9z" color="#00be7b"/><path d="M1236.7 853.9l.6-2-249.6 70.9-.6 2z" color="#00bd76"/><path d="M1237.3 851.9l.7-2-249.6 70.9-.7 2z" color="#00bd71"/><path d="M1238 849.9l.7-2-249.6 70.9-.7 2z" color="#00bd6c"/><path d="M1238.7 847.9l.7-2-249.6 70.9-.7 2z" color="#00bc67"/><path d="M1239.4 845.9l.6-2-249.6 70.9-.6 2z" color="#00bc63"/><path d="M1240 843.9l.7-2-249.6 70.9-.7 2z" color="#00bc5e"/><path d="M1240.7 841.9l.7-2-249.6 70.9-.7 2z" color="#00bb59"/><path d="M1241.4 839.9l.7-2.1-249.6 70.9-.7 2.1z" color="#00bb54"/><path d="M1242.1 837.8l.7-2-249.7 70.9-.6 2z" color="#00bb4f"/><path d="M1242.8 835.8l.6-2.1-249.6 71-.7 2z" color="#00ba4a"/><path d="M1243.4 833.7l.7-2-249.6 70.9-.7 2.1z" color="#00ba45"/><path d="M1244.1 831.7l.7-2.1-249.6 71-.7 2z" color="#00ba40"/><path d="M1244.8 829.6l.7-2-249.6 70.9-.7 2.1z" color="#00b93b"/><path d="M1245.5 827.6l.7-2.1-249.7 70.9-.6 2.1z" color="#00b936"/><path d="M1246.2 825.5l.6-2.1-249.6 71-.7 2z" color="#00b831"/><path d="M1246.8 823.4l.7-2-249.6 70.9-.7 2.1z" color="#00b82c"/><path d="M1247.5 821.4l.7-2.1-249.6 71-.7 2z" color="#00b827"/><path d="M1248.2 819.3l.7-2-249.7 70.9-.6 2.1z" color="#00b722"/><path d="M1248.9 817.3l.7-2.1-249.7 70.9-.7 2.1z" color="#00b71d"/><path d="M1249.6 815.2l.6-2-249.6 70.9-.7 2z" color="#00b718"/><path d="M1250.2 813.2l.7-2.1-249.6 70.9-.7 2.1z" color="#00b613"/><path d="M1250.9 811.1l.7-2-249.7 70.9-.6 2z" color="#00b60e"/><path d="M1251.6 809.1l.7-2.1-249.7 71-.7 2z" color="#00b509"/><path d="M1252.3 807l.7-2-249.7 70.9-.7 2.1z" color="#00b504"/><path d="M1253 805l.6-2-249.6 70.9-.7 2z" color="#00b500"/><path d="M1253.6 803l.7-2.1-249.6 71-.7 2z" color="#05b500"/><path d="M1254.3 800.9l.7-2-249.7 71-.6 2z" color="#0ab600"/><path d="M1255 798.9l.7-2-249.7 70.9-.7 2.1z" color="#0fb600"/><path d="M1255.7 796.9l.7-2-249.7 70.9-.7 2z" color="#14b600"/><path d="M1256.4 794.9l.6-2-249.6 70.9-.7 2z" color="#19b700"/><path d="M1257 792.9l.7-2.1-249.7 71-.6 2z" color="#1eb700"/><path d="M1257.7 790.8l.7-2-249.7 71-.7 2z" color="#23b700"/><path d="M1258.4 788.8l.7-2-249.7 71-.7 2z" color="#28b800"/><path d="M1259.1 786.8l.7-2-249.7 70.9-.7 2.1z" color="#2db800"/><path d="M1259.8 784.8l.6-2-249.6 70.9-.7 2z" color="#31b900"/><path d="M1260.4 782.8l.7-2.1-249.7 71-.6 2z" color="#36b900"/><path d="M1261.1 780.7l.7-2-249.7 71-.7 2z" color="#3bb900"/><path d="M1261.8 778.7l.7-2-249.7 70.9-.7 2.1z" color="#40ba00"/><path d="M1262.5 776.7l.7-2.1-249.7 71-.7 2z" color="#45ba00"/><path d="M1263.2 774.6l.6-2-249.7 70.9-.6 2.1z" color="#4aba00"/><path d="M1263.8 772.6l.7-2.1-249.7 71-.7 2z" color="#4fbb00"/><path d="M1264.5 770.5l.7-2.1-249.7 71-.7 2.1z" color="#54bb00"/><path d="M1265.2 768.4l.7-2-249.7 70.9-.7 2.1z" color="#59bc00"/><path d="M1265.9 766.4l.7-2.1-249.8 70.9-.6 2.1z" color="#5ebc00"/><path d="M1266.6 764.3l.6-2.1-249.7 70.9-.7 2.1z" color="#63bc00"/><path d="M1267.2 762.2l.7-2.1-249.7 70.9-.7 2.1z" color="#68bd00"/><path d="M1267.9 760.1l.7-2.2-249.7 71-.7 2.1z" color="#6dbd00"/><path d="M1268.6 757.9l.7-2.2-249.7 71-.7 2.2z" color="#73be00"/><path d="M1269.3 755.7l.6-1.9-249.7 70.9-.6 2z" color="#77be00"/><path d="M1269.9 753.8l.6-2-249.7 71-.6 1.9z" color="#7cbe00"/><path d="M1270.5 751.8l.6-2-249.7 71-.6 2z" color="#81bf00"/><path d="M1271.1 749.8l.6-2-249.7 71-.6 2z" color="#86bf00"/><path d="M1271.7 747.8l.7-2-249.8 70.9-.6 2.1z" color="#8bbf00"/><path d="M1272.4 745.8l.6-2-249.8 70.9-.6 2z" color="#8fc000"/><path d="M1273 743.8l.6-2.1-249.8 71-.6 2z" color="#94c000"/><path d="M1273.6 741.7l.6-2-249.7 71-.7 2z" color="#99c000"/><path d="M1274.2 739.7l.6-2-249.7 71-.6 2z" color="#9ec100"/><path d="M1274.8 737.7l.6-2-249.7 71-.6 2z" color="#a3c100"/><path d="M1275.4 735.7l.6-2-249.7 71-.6 2z" color="#a7c100"/><path d="M1276 733.7l.7-2-249.8 71-.6 2z" color="#acc200"/><path d="M1276.7 731.7l.6-2-249.8 71-.6 2z" color="#b1c200"/><path d="M1277.3 729.7l.6-1.9-249.8 70.9-.6 2z" color="#b6c200"/><path d="M1277.9 727.8l.7-2.2-249.8 71-.7 2.1z" color="#bbc300"/><path d="M1278.6 725.6l.6-2.1-249.7 71-.7 2.1z" color="#c0c300"/><path d="M1279.2 723.5l.7-2.1-249.7 71-.7 2.1z" color="#c3c200"/><path d="M1279.9 721.4l.7-2.1-249.8 71-.6 2.1z" color="#c3bd00"/><path d="M1280.6 719.3l.7-2-249.8 71-.7 2z" color="#c3b800"/><path d="M1281.3 717.3l.7-2-249.8 71-.7 2z" color="#c3b300"/><path d="M1282 715.3l.6-2-249.7 71-.7 2z" color="#c3ae00"/><path d="M1282.6 713.3l.8-2.1-249.8 71-.7 2.1z" color="#c3a900"/><path d="M1283.4 711.2l.7-2.1-249.7 71-.8 2.1z" color="#c3a400"/><path d="M1284.1 709.1l.8-2.1-249.8 71-.7 2.1z" color="#c39f00"/><path d="M1284.9 707l.7-2-249.8 71-.7 2z" color="#c39a00"/><path d="M1285.6 705l.8-2.1-249.8 71-.8 2.1z" color="#c39500"/><path d="M1286.4 702.9l.7-2-249.8 71-.7 2z" color="#c39000"/><path d="M1287.1 700.9l.8-2-249.8 71-.8 2z" color="#c38b00"/><path d="M1287.9 698.9l.7-1.9-249.8 71-.7 1.9z" color="#c38600"/><path d="M1288.6 697l.8-2-249.8 71-.8 2z" color="#c28100"/><path d="M1289.4 695l.7-1.9-249.8 71-.7 1.9z" color="#c27d00"/><path d="M1290.1 693.1l.8-2.1-249.8 71-.8 2.1z" color="#c27800"/><path d="M1290.9 691l.8-2.1-249.8 71-.8 2.1z" color="#c27200"/><path d="M1291.7 688.9l.8-2-249.8 71-.8 2z" color="#c26d00"/><path d="M1292.5 686.9l.8-2-249.8 71-.8 2z" color="#c26800"/><path d="M1293.3 684.9l.8-2-249.8 71-.8 2z" color="#c26300"/><path d="M1294.1 682.9l.9-2-249.8 71-.9 2z" color="#c25e00"/><path d="M1295 680.9l.8-2-249.8 71-.8 2z" color="#c15a00"/><path d="M1295.8 678.9l.8-1.9-249.8 71-.8 1.9z" color="#c15500"/><path d="M1296.6 677l.8-1.9-249.8 71-.8 1.9z" color="#c15000"/><path d="M1297.4 675.1l.8-2-249.8 71.1-.8 1.9z" color="#c14b00"/><path d="M1298.2 673.1l.8-1.9-249.8 71-.8 2z" color="#c14600"/><path d="M1299 671.2l.8-1.9-249.8 71-.8 1.9z" color="#c14200"/><path d="M1299.8 669.3l.8-1.9-249.8 71-.8 1.9z" color="#c03d00"/><path d="M1300.6 667.4l.9-2-249.8 71-.9 2z" color="#c03800"/><path d="M1301.5 665.4l.9-2-249.9 71.1-.8 1.9z" color="#c03300"/><path d="M1302.4 663.4l.9-1.9-249.8 71-1 2z" color="#c02f00"/><path d="M1303.3 661.5l1-1.9-249.8 71.1-1 1.8z" color="#c02a00"/><path d="M1304.3 659.6l1.2-1.9-249.9 71.1-1.1 1.9z" color="#bf2500"/><path d="M1305.5 657.7l1.2-1.8-249.9 71-1.2 1.9z" color="#bf2000"/><path d="M1306.7 655.9l1.3-1.8-249.9 71-1.3 1.8z" color="#bf1b00"/><path d="M1308 654.1l1.4-1.8-249.8 71-1.5 1.8z" color="#be1700"/><path d="M1309.4 652.3l.5-.5-249.8 71-.5 .5z" color="#be1400"/></g>
<g stroke="#000" stroke-width="1.6" stroke-dasharray="4 3.5" fill="none"><line x1="1045.7" y1="922" x2="1050.2" y2="569.1"/><line x1="1045.7" y1="922" x2="796.4" y2="992.8"/><line x1="1045.7" y1="922" x2="1305.2" y2="996.1"/></g>
<line x1="792.7" y1="841.8" x2="798.2" y2="841.8" stroke="#000" stroke-width="1.6"/><line x1="794.7" y1="673.7" x2="800.2" y2="673.7" stroke="#000" stroke-width="1.6"/><line x1="835.2" y1="1004" x2="830.4" y2="1005.3" stroke="#000" stroke-width="1.4"/><line x1="900" y1="1022.5" x2="895.2" y2="1023.9" stroke="#000" stroke-width="1.4"/><line x1="964.8" y1="1041" x2="960" y2="1042.4" stroke="#000" stroke-width="1.4"/><line x1="1029.7" y1="1059.6" x2="1024.8" y2="1060.9" stroke="#000" stroke-width="1.4"/><line x1="1305.2" y1="996.1" x2="1310" y2="997.5" stroke="#000" stroke-width="1.4"/><line x1="1255.2" y1="1010.3" x2="1260.1" y2="1011.7" stroke="#000" stroke-width="1.4"/><line x1="1205.3" y1="1024.5" x2="1210.1" y2="1025.9" stroke="#000" stroke-width="1.4"/><line x1="1155.4" y1="1038.7" x2="1160.2" y2="1040" stroke="#000" stroke-width="1.4"/><line x1="1105.5" y1="1052.8" x2="1110.3" y2="1054.2" stroke="#000" stroke-width="1.4"/><line x1="1055.6" y1="1067" x2="1060.4" y2="1068.4" stroke="#000" stroke-width="1.4"/>
<g font-family="DejaVu Sans, sans-serif" font-size="14.5" fill="#111" stroke="#111" stroke-width="0.35"><text x="783.6" y="841" text-anchor="end">1</text><text x="785.6" y="672.9" text-anchor="end">1.05</text><text x="831.9" y="1030.2" text-anchor="end">0.5</text><text x="896.7" y="1048.7" text-anchor="end">1</text><text x="961.5" y="1067.2" text-anchor="end">1.5</text><text x="1026.4" y="1085.8" text-anchor="end">2</text><text x="1306.3" y="1023.9">90</text><text x="1256.4" y="1038.1">100</text><text x="1206.5" y="1052.3">110</text><text x="1156.6" y="1066.5">120</text><text x="1106.7" y="1080.6">130</text><text x="1056.7" y="1094.8">140</text></g>
<text x="907.4" y="1073.3" transform="rotate(16 907.4 1073.3)" text-anchor="middle" dominant-baseline="central" font-family="Liberation Sans, Arial, sans-serif" font-size="35">Depth</text>
<text x="1212.8" y="1074.2" transform="rotate(-18.5 1212.8 1074.2)" text-anchor="middle" dominant-baseline="central" font-family="Liberation Sans, Arial, sans-serif" font-size="35">Taper</text>
<text x="765" y="605.5" font-family="Liberation Sans, Arial, sans-serif" font-weight="bold" font-size="35">e</text>
</g>
<clipPath id="cf"><rect x="1347" y="561" width="646.3" height="547.0"/></clipPath>
<g clip-path="url(#cf)">
<g stroke-linecap="square"><line x1="1595.3" y1="921.8" x2="1599.9" y2="595.9" stroke="#c6c6c6" stroke-width="1"/><line x1="1595.3" y1="921.8" x2="1835" y2="990.3" stroke="#c6c6c6" stroke-width="1"/><line x1="1549.1" y1="935.3" x2="1553.7" y2="609.1" stroke="#c6c6c6" stroke-width="1"/><line x1="1549.1" y1="935.3" x2="1789.3" y2="1003.8" stroke="#c6c6c6" stroke-width="1"/><line x1="1502.7" y1="948.8" x2="1507.5" y2="622.3" stroke="#c6c6c6" stroke-width="1"/><line x1="1502.7" y1="948.8" x2="1743.5" y2="1017.3" stroke="#c6c6c6" stroke-width="1"/><line x1="1456.3" y1="962.4" x2="1461.1" y2="635.5" stroke="#c6c6c6" stroke-width="1"/><line x1="1456.3" y1="962.4" x2="1697.6" y2="1030.9" stroke="#c6c6c6" stroke-width="1"/><line x1="1721.5" y1="931.2" x2="1725.8" y2="606.3" stroke="#c6c6c6" stroke-width="1"/><line x1="1721.5" y1="931.2" x2="1490.7" y2="998.9" stroke="#c6c6c6" stroke-width="1"/><line x1="1801.3" y1="954" x2="1805.4" y2="629.7" stroke="#c6c6c6" stroke-width="1"/><line x1="1801.3" y1="954" x2="1571.3" y2="1021.7" stroke="#c6c6c6" stroke-width="1"/><line x1="1410.3" y1="940.5" x2="1641.9" y2="873" stroke="#c6c6c6" stroke-width="1"/><line x1="1641.9" y1="873" x2="1881.1" y2="941.7" stroke="#c6c6c6" stroke-width="1"/><line x1="1411.2" y1="883.4" x2="1642.7" y2="816.1" stroke="#c6c6c6" stroke-width="1"/><line x1="1642.7" y1="816.1" x2="1881.8" y2="885.1" stroke="#c6c6c6" stroke-width="1"/><line x1="1412.1" y1="826.2" x2="1643.5" y2="759.3" stroke="#c6c6c6" stroke-width="1"/><line x1="1643.5" y1="759.3" x2="1882.5" y2="828.6" stroke="#c6c6c6" stroke-width="1"/><line x1="1412.9" y1="769.1" x2="1644.3" y2="702.5" stroke="#c6c6c6" stroke-width="1"/><line x1="1644.3" y1="702.5" x2="1883.2" y2="772.1" stroke="#c6c6c6" stroke-width="1"/><line x1="1413.8" y1="712.1" x2="1645" y2="645.7" stroke="#c6c6c6" stroke-width="1"/><line x1="1645" y1="645.7" x2="1883.9" y2="715.7" stroke="#c6c6c6" stroke-width="1"/><line x1="1414.6" y1="655" x2="1645.8" y2="589" stroke="#c6c6c6" stroke-width="1"/><line x1="1645.8" y1="589" x2="1884.6" y2="659.3" stroke="#c6c6c6" stroke-width="1"/><line x1="1409.8" y1="976" x2="1414.7" y2="648.8" stroke="#c6c6c6" stroke-width="1"/><line x1="1414.7" y1="648.8" x2="1645.9" y2="582.8" stroke="#c6c6c6" stroke-width="1"/><line x1="1645.9" y1="582.8" x2="1884.7" y2="653.1" stroke="#c6c6c6" stroke-width="1"/><line x1="1884.7" y1="653.1" x2="1880.7" y2="976.8" stroke="#c6c6c6" stroke-width="1"/><line x1="1409.8" y1="976" x2="1651.6" y2="1044.4" stroke="#c6c6c6" stroke-width="1"/><line x1="1651.6" y1="1044.4" x2="1880.7" y2="976.8" stroke="#c6c6c6" stroke-width="1"/></g>
<g stroke="#000" stroke-linecap="round"><line x1="1641.5" y1="908.3" x2="1645.9" y2="582.8" stroke-width="4.4"/><line x1="1641.5" y1="908.3" x2="1409.8" y2="976" stroke-width="5.2"/><line x1="1641.5" y1="908.3" x2="1880.7" y2="976.8" stroke-width="5.2"/></g>
<g class="s"><path d="M1641.9 873.1l3 2.1-231.6 67.6-3-2.2z" color="#0055c8"/><path d="M1644.9 875.2l2.9 2.1-231.5 67.5-3-2z" color="#004fc1"/><path d="M1647.8 877.3l2.9 1.8-231.5 67.5-2.9-1.8z" color="#0048b6"/><path d="M1650.7 879.1l2.9 1.4-231.5 67.6-2.9-1.5z" color="#003fa4"/><path d="M1653.6 880.5l2.9 1.3-231.4 67.5-3-1.2z" color="#003791"/><path d="M1656.5 881.8l3 1.2-231.4 67.5-3-1.2z" color="#00348b"/><path d="M1659.5 883l2.9 1.1-231.4 67.5-2.9-1.1z" color="#003083"/><path d="M1662.4 884.1l2.9 .9-231.3 67.6-3-1z" color="#002c77"/><path d="M1665.3 885l3 .8-231.4 67.5-2.9-.7z" color="#002666"/><path d="M1668.3 885.8l2.9 .6-231.3 67.5-3-.6z" color="#002058"/><path d="M1671.2 886.4l2.9 .5-231.3 67.5-2.9-.5z" color="#001e4f"/><path d="M1674.1 886.9l2.9 .5-231.2 67.5-3-.5z" color="#00286a"/><path d="M1677 887.4l2.9 .5-231.2 67.5-2.9-.5z" color="#001e4f"/><path d="M1679.9 887.9l2.9 .4-231.2 67.6-2.9-.5z" color="#002765"/><path d="M1682.8 888.3l3 .4-231.2 67.6-3-.4z" color="#002764"/><path d="M1685.8 888.7l2.8 .4-231.1 67.6-2.9-.4z" color="#002865"/><path d="M1688.6 889.1l2.9 .5-231 67.5-3-.4z" color="#002967"/><path d="M1691.5 889.6l3 .6-231.1 67.5-2.9-.6z" color="#002356"/><path d="M1694.5 890.2l2.9 .7-231.1 67.6-2.9-.8z" color="#002a67"/><path d="M1697.4 890.9l2.9 .9-231 67.6-3-.9z" color="#002e72"/><path d="M1700.3 891.8l2.9 1-231 67.5-2.9-.9z" color="#003178"/><path d="M1703.2 892.8l2.8 1-230.9 67.5-2.9-1z" color="#00327d"/><path d="M1706 893.8l2.9 1-230.9 67.6-2.9-1.1z" color="#003480"/><path d="M1708.9 894.8l3 1.1-230.9 67.5-3-1z" color="#003483"/><path d="M1711.9 895.9l2.8 1.1-230.8 67.5-2.9-1.1z" color="#003586"/><path d="M1714.7 897l2.9 1.2-230.8 67.6-2.9-1.3z" color="#003990"/><path d="M1717.6 898.2l2.9 1.4-230.7 67.6-3-1.4z" color="#003c9b"/><path d="M1720.5 899.6l2.9 1.5-230.7 67.5-2.9-1.4z" color="#003ea3"/><path d="M1723.4 901.1l2.9 1.6-230.8 67.5-2.8-1.6z" color="#003fa9"/><path d="M1726.3 902.7l2.9 1.6-230.7 67.5-3-1.6z" color="#003ead"/><path d="M1729.2 904.3l2.8 1.7-230.6 67.5-2.9-1.7z" color="#003eb1"/><path d="M1732 906l3 1.9-230.7 67.5-2.9-1.9z" color="#0040bb"/><path d="M1735 907.9l2.8 2-230.6 67.5-2.9-2z" color="#003fc3"/><path d="M1737.8 909.9l2.9 2.1-230.6 67.5-2.9-2.1z" color="#003ec7"/><path d="M1740.7 912l2.9 2.2-230.5 67.5-3-2.2z" color="#003bc8"/><path d="M1743.6 914.2l2.9 2.1-230.6 67.6-2.8-2.2z" color="#0038ca"/><path d="M1746.5 916.3l2.9 2.4-230.5 67.6-3-2.4z" color="#0036d0"/><path d="M1749.4 918.7l2.8 2.4-230.4 67.6-2.9-2.4z" color="#0033d2"/><path d="M1752.2 921.1l2.9 2.4-230.5 67.5-2.8-2.3z" color="#002ed0"/><path d="M1755.1 923.5l2.9 2.2-230.4 67.6-3-2.3z" color="#0029c9"/><path d="M1758 925.7l2.8 1.9-230.3 67.6-2.9-1.9z" color="#0025c2"/><path d="M1760.8 927.6l2.9 2.1-230.3 67.6-2.9-2.1z" color="#0022c3"/><path d="M1763.7 929.7l2.8 1.9-230.3 67.6-2.8-1.9z" color="#001ebe"/><path d="M1766.5 931.6l2.9 1.7-230.3 67.6-2.9-1.7z" color="#001ab2"/><path d="M1769.4 933.3l2.9 1.3-230.2 67.6-3-1.3z" color="#001598"/><path d="M1772.3 934.6l2.9 1-230.2 67.6-2.9-1z" color="#00117d"/><path d="M1775.2 935.6l2.9 .9-230.2 67.6-2.9-.9z" color="#001077"/><path d="M1778.1 936.5l2.9 .9-230.2 67.7-2.9-1z" color="#000f74"/><path d="M1781 937.4l2.9 .9-230.2 67.6-2.9-.8z" color="#000f6f"/><path d="M1783.9 938.3l2.8 .5-230.1 67.6-2.9-.5z" color="#000a4e"/><path d="M1786.7 938.8l3-.2-230.1 67.6-3 .2z" color="#0018a7"/><path d="M1789.7 938.6l2.9-.9-230.1 67.6-2.9 .9z" color="#001caf"/><path d="M1792.6 937.7l2.7-1.1-230 67.5-2.8 1.2z" color="#0021b4"/><path d="M1795.3 936.6l1.9-1.5-230 67.6-1.9 1.4z" color="#0026b7"/><path d="M1797.2 935.1l1.2-1.6-229.9 67.6-1.3 1.6z" color="#002bb9"/><path d="M1798.4 933.5l1.1-1.7-230 67.5-1 1.8z" color="#002fba"/><path d="M1799.5 931.8l.9-1.8-230 67.6-.9 1.7z" color="#0034bb"/><path d="M1800.4 930l.8-1.8-229.9 67.6-.9 1.8z" color="#0039bc"/><path d="M1801.2 928.2l.8-1.7-229.9 67.5-.8 1.8z" color="#003ebd"/><path d="M1802 926.5l.8-1.8-229.9 67.5-.8 1.8z" color="#0043bd"/><path d="M1802.8 924.7l.8-1.9-229.8 67.5-.9 1.9z" color="#0048be"/><path d="M1803.6 922.8l.8-1.8-229.9 67.5-.7 1.8z" color="#004dbe"/><path d="M1804.4 921l.7-1.7-229.8 67.4-.8 1.8z" color="#0052be"/><path d="M1805.1 919.3l.8-1.8-229.9 67.5-.7 1.7z" color="#0056bf"/><path d="M1805.9 917.5l.8-1.9-229.9 67.5-.8 1.9z" color="#005bbf"/><path d="M1806.7 915.6l.8-1.8-229.9 67.5-.8 1.8z" color="#0060bf"/><path d="M1807.5 913.8l.7-1.8-229.8 67.5-.8 1.8z" color="#0065c0"/><path d="M1808.2 912l.8-1.8-229.9 67.4-.7 1.9z" color="#006ac0"/><path d="M1809 910.2l.7-1.9-229.8 67.4-.8 1.9z" color="#006fc0"/><path d="M1809.7 908.3l.7-1.8-229.8 67.4-.7 1.8z" color="#0074c1"/><path d="M1810.4 906.5l.7-1.9-229.8 67.4-.7 1.9z" color="#0079c1"/><path d="M1811.1 904.6l.6-1.9-229.7 67.4-.7 1.9z" color="#007ec1"/><path d="M1811.7 902.7l.7-1.9-229.7 67.4-.7 1.9z" color="#0083c1"/><path d="M1812.4 900.8l.7-1.8-229.8 67.4-.6 1.8z" color="#0088c1"/><path d="M1813.1 899l.6-1.8-229.8 67.4-.6 1.8z" color="#008dc2"/><path d="M1813.7 897.2l.6-1.8-229.7 67.3-.7 1.9z" color="#0092c2"/><path d="M1814.3 895.4l.6-1.9-229.7 67.3-.6 1.9z" color="#0097c2"/><path d="M1814.9 893.5l.6-1.9-229.7 67.3-.6 1.9z" color="#009cc2"/><path d="M1815.5 891.6l.7-1.9-229.8 67.3-.6 1.9z" color="#00a1c2"/><path d="M1816.2 889.7l.6-1.9-229.7 67.3-.7 1.9z" color="#00a6c2"/><path d="M1816.8 887.8l.6-2-229.7 67.3-.6 2z" color="#00abc2"/><path d="M1817.4 885.8l.6-1.9-229.7 67.3-.6 1.9z" color="#00b0c2"/><path d="M1818 883.9l.7-2-229.7 67.3-.7 2z" color="#00b6c3"/><path d="M1818.7 881.9l.5-1.8-229.7 67.3-.5 1.8z" color="#00bbc3"/><path d="M1819.2 880.1l.6-1.8-229.7 67.2-.6 1.9z" color="#00bfc3"/><path d="M1819.8 878.3l.5-1.9-229.6 67.3-.6 1.8z" color="#00c3c1"/><path d="M1820.3 876.4l.6-1.9-229.6 67.3-.6 1.9z" color="#00c2bd"/><path d="M1820.9 874.5l.6-1.9-229.7 67.2-.5 2z" color="#00c2b8"/><path d="M1821.5 872.6l.5-1.9-229.6 67.2-.6 1.9z" color="#00c2b3"/><path d="M1822 870.7l.6-2-229.6 67.2-.6 2z" color="#00c1ae"/><path d="M1822.6 868.7l.6-2-229.7 67.2-.5 2z" color="#00c1a9"/><path d="M1823.2 866.7l.5-2-229.6 67.2-.6 2z" color="#00c1a4"/><path d="M1823.7 864.7l.6-2-229.6 67.2-.6 2z" color="#00c09e"/><path d="M1824.3 862.7l.5-1.8-229.6 67.1-.5 1.9z" color="#00c099"/><path d="M1824.8 860.9l.5-1.8-229.6 67.1-.5 1.8z" color="#00c095"/><path d="M1825.3 859.1l.5-1.9-229.6 67.2-.5 1.8z" color="#00bf90"/><path d="M1825.8 857.2l.5-1.8-229.6 67.1-.5 1.9z" color="#00bf8b"/><path d="M1826.3 855.4l.5-1.8-229.6 67-.5 1.9z" color="#00bf87"/><path d="M1826.8 853.6l.5-1.9-229.6 67.1-.5 1.8z" color="#00be82"/><path d="M1827.3 851.7l.5-1.9-229.5 67.1-.6 1.9z" color="#00be7d"/><path d="M1827.8 849.8l.5-1.9-229.5 67.1-.5 1.9z" color="#00be78"/><path d="M1828.3 847.9l.5-1.8-229.5 67-.5 1.9z" color="#00bd73"/><path d="M1828.8 846.1l.5-1.9-229.5 67-.5 1.9z" color="#00bd6e"/><path d="M1829.3 844.2l.5-1.9-229.5 67-.5 1.9z" color="#00bd6a"/><path d="M1829.8 842.3l.5-1.9-229.5 67-.5 1.9z" color="#00bc65"/><path d="M1830.3 840.4l.5-2-229.5 67-.5 2z" color="#00bc60"/><path d="M1830.8 838.4l.5-1.9-229.5 67-.5 1.9z" color="#00bc5b"/><path d="M1831.3 836.5l.5-2-229.5 67-.5 2z" color="#00bb56"/><path d="M1831.8 834.5l.5-2-229.5 67-.5 2z" color="#00bb51"/><path d="M1832.3 832.5l.5-2-229.4 67-.6 2z" color="#00ba4b"/><path d="M1832.8 830.5l.5-2-229.4 66.9-.5 2.1z" color="#00ba46"/><path d="M1833.3 828.5l.5-2-229.4 66.9-.5 2z" color="#00ba41"/><path d="M1833.8 826.5l.5-2.1-229.4 66.9-.5 2.1z" color="#00b93c"/><path d="M1834.3 824.4l.5-2-229.4 66.9-.5 2z" color="#00b936"/><path d="M1834.8 822.4l.5-2.1-229.4 66.9-.5 2.1z" color="#00b931"/><path d="M1835.3 820.3l.5-2.1-229.4 66.9-.5 2.1z" color="#00b82c"/><path d="M1835.8 818.2l.5-2-229.4 66.9-.5 2z" color="#00b827"/><path d="M1836.3 816.2l.5-2.1-229.3 66.9-.6 2.1z" color="#00b721"/><path d="M1836.8 814.1l.6-2.1-229.4 66.9-.5 2.1z" color="#00b71c"/><path d="M1837.4 812l.5-2-229.4 66.8-.5 2.1z" color="#00b716"/><path d="M1837.9 810l.5-2.1-229.4 66.9-.5 2z" color="#00b611"/><path d="M1838.4 807.9l.5-2.1-229.4 66.9-.5 2.1z" color="#00b60c"/><path d="M1838.9 805.8l.5-2-229.4 66.8-.5 2.1z" color="#00b506"/><path d="M1839.4 803.8l.5-2.1-229.4 66.8-.5 2.1z" color="#00b501"/><path d="M1839.9 801.7l.5-2-229.4 66.8-.5 2z" color="#04b500"/><path d="M1840.4 799.7l.5-2.1-229.3 66.8-.6 2.1z" color="#09b600"/><path d="M1840.9 797.6l.5-2-229.3 66.8-.5 2z" color="#0fb600"/><path d="M1841.4 795.6l.5-2-229.3 66.7-.5 2.1z" color="#14b600"/><path d="M1841.9 793.6l.5-2.1-229.3 66.8-.5 2z" color="#19b700"/><path d="M1842.4 791.5l.5-2-229.3 66.7-.5 2.1z" color="#1fb700"/><path d="M1842.9 789.5l.5-2-229.3 66.7-.5 2z" color="#24b800"/><path d="M1843.4 787.5l.5-2.1-229.3 66.7-.5 2.1z" color="#29b800"/><path d="M1843.9 785.4l.5-2-229.3 66.7-.5 2z" color="#2eb800"/><path d="M1844.4 783.4l.5-2.1-229.3 66.7-.5 2.1z" color="#34b900"/><path d="M1844.9 781.3l.5-2-229.2 66.7-.6 2z" color="#39b900"/><path d="M1845.4 779.3l.5-2.1-229.2 66.7-.5 2.1z" color="#3eba00"/><path d="M1845.9 777.2l.5-2-229.2 66.7-.5 2z" color="#43ba00"/><path d="M1846.4 775.2l.5-2-229.2 66.6-.5 2.1z" color="#49bb00"/><path d="M1846.9 773.2l.5-2.1-229.2 66.6-.5 2.1z" color="#4ebb00"/><path d="M1847.4 771.1l.5-2.1-229.2 66.7-.5 2z" color="#53bb00"/><path d="M1847.9 769l.5-2-229.2 66.6-.5 2.1z" color="#59bc00"/><path d="M1848.4 767l.5-2.1-229.2 66.6-.5 2.1z" color="#5ebc00"/><path d="M1848.9 764.9l.5-2.1-229.2 66.6-.5 2.1z" color="#63bd00"/><path d="M1849.4 762.8l.5-2-229.1 66.5-.6 2.1z" color="#69bd00"/><path d="M1849.9 760.8l.5-2.1-229.1 66.5-.5 2.1z" color="#6ebd00"/><path d="M1850.4 758.7l.5-1.8-229.2 66.5-.4 1.8z" color="#73be00"/><path d="M1850.9 756.9l.4-1.9-229.1 66.6-.5 1.8z" color="#78be00"/><path d="M1851.3 755l.5-1.8-229.2 66.5-.4 1.9z" color="#7dbe00"/><path d="M1851.8 753.2l.4-1.9-229.1 66.6-.5 1.8z" color="#81bf00"/><path d="M1852.2 751.3l.4-1.8-229.1 66.5-.4 1.9z" color="#86bf00"/><path d="M1852.6 749.5l.5-1.9-229.1 66.5-.5 1.9z" color="#8bc000"/><path d="M1853.1 747.6l.4-1.9-229.1 66.5-.4 1.9z" color="#90c000"/><path d="M1853.5 745.7l.5-1.9-229.1 66.5-.5 1.9z" color="#95c000"/><path d="M1854 743.8l.4-1.9-229.1 66.5-.4 1.9z" color="#9ac100"/><path d="M1854.4 741.9l.5-1.9-229.1 66.4-.5 2z" color="#9ec100"/><path d="M1854.9 740l.4-2-229.1 66.5-.4 1.9z" color="#a3c100"/><path d="M1855.3 738l.4-1.9-229.1 66.4-.4 2z" color="#a8c200"/><path d="M1855.7 736.1l.5-1.9-229.1 66.4-.5 1.9z" color="#adc200"/><path d="M1856.2 734.2l.4-2-229.1 66.5-.4 1.9z" color="#b2c200"/><path d="M1856.6 732.2l.5-1.9-229.1 66.4-.5 2z" color="#b7c300"/><path d="M1857.1 730.3l.4-1.9-229.1 66.4-.4 1.9z" color="#bcc300"/><path d="M1857.5 728.4l.4-1.9-229 66.3-.5 2z" color="#c1c300"/><path d="M1857.9 726.5l.5-2-229.1 66.4-.4 1.9z" color="#c4c100"/><path d="M1858.4 724.5l.4-1.9-229 66.4-.5 1.9z" color="#c4bc00"/><path d="M1858.8 722.6l.5-1.9-229.1 66.4-.4 1.9z" color="#c4b700"/><path d="M1859.3 720.7l.4-1.9-229 66.4-.5 1.9z" color="#c3b300"/><path d="M1859.7 718.8l.5-1.8-229.1 66.3-.4 1.9z" color="#c3ae00"/><path d="M1860.2 717l.4-1.9-229 66.3-.5 1.9z" color="#c3a900"/><path d="M1860.6 715.1l.4-1.8-229 66.3-.4 1.8z" color="#c3a400"/><path d="M1861 713.3l.5-1.8-229 66.3-.5 1.8z" color="#c39f00"/><path d="M1861.5 711.5l.5-2.1-229 66.3-.5 2.1z" color="#c39a00"/><path d="M1862 709.4l.5-2-229 66.2-.5 2.1z" color="#c39500"/><path d="M1862.5 707.4l.5-2-229 66.2-.5 2z" color="#c39000"/><path d="M1863 705.4l.5-2-229 66.2-.5 2z" color="#c38a00"/><path d="M1863.5 703.4l.5-2-229 66.2-.5 2z" color="#c38500"/><path d="M1864 701.4l.5-2.1-229 66.3-.5 2z" color="#c38000"/><path d="M1864.5 699.3l.5-2-229 66.2-.5 2.1z" color="#c37b00"/><path d="M1865 697.3l.5-2-228.9 66.2-.6 2z" color="#c37500"/><path d="M1865.5 695.3l.5-2-228.9 66.2-.5 2z" color="#c37000"/><path d="M1866 693.3l.5-2.1-228.9 66.2-.5 2.1z" color="#c26b00"/><path d="M1866.5 691.2l.5-1.9-228.9 66.1-.5 2z" color="#c26600"/><path d="M1867 689.3l.5-2-228.9 66.2-.5 1.9z" color="#c26100"/><path d="M1867.5 687.3l.5-1.9-228.9 66.2-.5 1.9z" color="#c25c00"/><path d="M1868 685.4l.5-1.8-228.9 66.1-.5 1.9z" color="#c25700"/><path d="M1868.5 683.6l.6-2-228.9 66.1-.6 2z" color="#c25200"/><path d="M1869.1 681.6l.5-2-228.8 66.2-.6 1.9z" color="#c24d00"/><path d="M1869.6 679.6l.6-1.8-228.9 66.1-.5 1.9z" color="#c24800"/><path d="M1870.2 677.8l.6-1.9-228.9 66.1-.6 1.9z" color="#c14300"/><path d="M1870.8 675.9l.7-1.9-228.9 66.1-.7 1.9z" color="#c13e00"/><path d="M1871.5 674l.7-1.7-228.9 66-.7 1.8z" color="#c13900"/><path d="M1872.2 672.3l.7-1.9-228.8 66.1-.8 1.8z" color="#c13400"/><path d="M1872.9 670.4l.7-1.8-228.8 66.1-.7 1.8z" color="#c02f00"/><path d="M1873.6 668.6l.8-1.8-228.8 66-.8 1.9z" color="#c02a00"/><path d="M1874.4 666.8l.8-1.7-228.8 66-.8 1.7z" color="#c02500"/><path d="M1875.2 665.1l.9-1.7-228.8 66-.9 1.7z" color="#bf2100"/><path d="M1876.1 663.4l.9-1.8-228.7 66-1 1.8z" color="#bf1c00"/><path d="M1877 661.6l1.2-1.7-228.7 66-1.2 1.7z" color="#be1700"/><path d="M1878.2 659.9l1.4-1.6-228.7 66-1.4 1.6z" color="#be1200"/><path d="M1879.6 658.3l1.5-1.5-228.7 66-1.5 1.5z" color="#bd0d00"/><path d="M1881.1 656.8l1.9-1.4-228.7 65.9-1.9 1.5z" color="#bb0900"/><path d="M1883 655.4l1.6-.7-228.6 66-1.7 .6z" color="#ba0500"/></g>
<g stroke="#000" stroke-width="1.6" stroke-dasharray="4 3.5" fill="none"><line x1="1641.5" y1="908.3" x2="1645.9" y2="582.8"/><line x1="1641.5" y1="908.3" x2="1409.8" y2="976"/><line x1="1641.5" y1="908.3" x2="1880.7" y2="976.8"/></g>
<line x1="1404.8" y1="940.5" x2="1410.3" y2="940.5" stroke="#000" stroke-width="1.6"/><line x1="1405.7" y1="883.4" x2="1411.2" y2="883.4" stroke="#000" stroke-width="1.6"/><line x1="1406.6" y1="826.2" x2="1412.1" y2="826.2" stroke="#000" stroke-width="1.6"/><line x1="1407.4" y1="769.1" x2="1412.9" y2="769.1" stroke="#000" stroke-width="1.6"/><line x1="1408.3" y1="712.1" x2="1413.8" y2="712.1" stroke="#000" stroke-width="1.6"/><line x1="1409.1" y1="655" x2="1414.6" y2="655" stroke="#000" stroke-width="1.6"/><line x1="1409.8" y1="976" x2="1405" y2="977.4" stroke="#000" stroke-width="1.4"/><line x1="1490.7" y1="998.9" x2="1485.9" y2="1000.3" stroke="#000" stroke-width="1.4"/><line x1="1571.3" y1="1021.7" x2="1566.5" y2="1023.1" stroke="#000" stroke-width="1.4"/><line x1="1651.6" y1="1044.4" x2="1646.8" y2="1045.8" stroke="#000" stroke-width="1.4"/><line x1="1880.7" y1="976.8" x2="1885.5" y2="978.2" stroke="#000" stroke-width="1.4"/><line x1="1835" y1="990.3" x2="1839.8" y2="991.6" stroke="#000" stroke-width="1.4"/><line x1="1789.3" y1="1003.8" x2="1794.1" y2="1005.2" stroke="#000" stroke-width="1.4"/><line x1="1743.5" y1="1017.3" x2="1748.3" y2="1018.7" stroke="#000" stroke-width="1.4"/><line x1="1697.6" y1="1030.9" x2="1702.4" y2="1032.2" stroke="#000" stroke-width="1.4"/><line x1="1651.6" y1="1044.4" x2="1656.4" y2="1045.8" stroke="#000" stroke-width="1.4"/>
<g font-family="DejaVu Sans, sans-serif" font-size="13.6" fill="#111" stroke="#111" stroke-width="0.35"><text x="1397.3" y="938.9" text-anchor="end">0.96</text><text x="1398.2" y="881.8" text-anchor="end">0.97</text><text x="1399" y="824.6" text-anchor="end">0.98</text><text x="1399.9" y="767.5" text-anchor="end">0.99</text><text x="1400.7" y="710.5" text-anchor="end">1</text><text x="1401.6" y="653.4" text-anchor="end">1.01</text><text x="1407.4" y="998.5" text-anchor="end">0.5</text><text x="1488.3" y="1021.4" text-anchor="end">1</text><text x="1568.8" y="1044.2" text-anchor="end">1.5</text><text x="1649.1" y="1066.9" text-anchor="end">2</text><text x="1882.2" y="1002.6">90</text><text x="1836.6" y="1016.1">100</text><text x="1790.8" y="1029.6">110</text><text x="1745" y="1043.1">120</text><text x="1699.1" y="1056.7">130</text><text x="1653.1" y="1070.2">140</text></g>
<text x="1508.9" y="1054.2" transform="rotate(16 1508.9 1054.2)" text-anchor="middle" dominant-baseline="central" font-family="Liberation Sans, Arial, sans-serif" font-size="35">TiBase</text>
<text x="1798.5" y="1053.2" transform="rotate(-18.5 1798.5 1053.2)" text-anchor="middle" dominant-baseline="central" font-family="Liberation Sans, Arial, sans-serif" font-size="35">Taper</text>
<text x="1366" y="609.5" font-family="Liberation Sans, Arial, sans-serif" font-weight="bold" font-size="35">f</text>
</g>
<defs><linearGradient id="cb1939" x1="0" y1="1" x2="0" y2="0"><stop offset="0" stop-color="#0000ff"/><stop offset=".25" stop-color="#00ffff"/><stop offset=".5" stop-color="#00eb00"/><stop offset=".75" stop-color="#ffff00"/><stop offset="1" stop-color="#ff0000"/></linearGradient></defs>
<rect x="1939" y="109.3" width="30.7" height="194.7" fill="url(#cb1939)" stroke="#000" stroke-width="1"/>
<line x1="1936" y1="292.1" x2="1939" y2="292.1" stroke="#000" stroke-width="1.2"/>
<line x1="1936" y1="278.8" x2="1939" y2="278.8" stroke="#000" stroke-width="1.2"/>
<line x1="1936" y1="265.6" x2="1939" y2="265.6" stroke="#000" stroke-width="1.2"/>
<line x1="1936" y1="252.3" x2="1939" y2="252.3" stroke="#000" stroke-width="1.2"/>
<line x1="1936" y1="239.1" x2="1939" y2="239.1" stroke="#000" stroke-width="1.2"/>
<line x1="1936" y1="225.9" x2="1939" y2="225.9" stroke="#000" stroke-width="1.2"/>
<line x1="1936" y1="212.6" x2="1939" y2="212.6" stroke="#000" stroke-width="1.2"/>
<line x1="1936" y1="199.4" x2="1939" y2="199.4" stroke="#000" stroke-width="1.2"/>
<line x1="1936" y1="186.1" x2="1939" y2="186.1" stroke="#000" stroke-width="1.2"/>
<line x1="1936" y1="172.9" x2="1939" y2="172.9" stroke="#000" stroke-width="1.2"/>
<line x1="1936" y1="159.6" x2="1939" y2="159.6" stroke="#000" stroke-width="1.2"/>
<line x1="1936" y1="146.4" x2="1939" y2="146.4" stroke="#000" stroke-width="1.2"/>
<line x1="1936" y1="133.1" x2="1939" y2="133.1" stroke="#000" stroke-width="1.2"/>
<line x1="1936" y1="119.9" x2="1939" y2="119.9" stroke="#000" stroke-width="1.2"/>
<g font-family="DejaVu Sans, sans-serif" font-size="11.5" fill="#111" stroke="#111" stroke-width="0.25"><text x="1928" y="296.2" text-anchor="end">1.57</text><text x="1928" y="283" text-anchor="end">1.58</text><text x="1928" y="269.7" text-anchor="end">1.59</text><text x="1928" y="256.5" text-anchor="end">1.6</text><text x="1928" y="243.2" text-anchor="end">1.61</text><text x="1928" y="230" text-anchor="end">1.62</text><text x="1928" y="216.8" text-anchor="end">1.63</text><text x="1928" y="203.5" text-anchor="end">1.64</text><text x="1928" y="190.3" text-anchor="end">1.65</text><text x="1928" y="177" text-anchor="end">1.66</text><text x="1928" y="163.8" text-anchor="end">1.67</text><text x="1928" y="150.5" text-anchor="end">1.68</text><text x="1928" y="137.3" text-anchor="end">1.69</text><text x="1928" y="124" text-anchor="end">1.7</text></g>
<text x="1954.3" y="323" text-anchor="middle" font-family="DejaVu Sans, sans-serif" font-size="9.8" fill="#111">(x 10³)</text>
<defs><linearGradient id="cb1943" x1="0" y1="1" x2="0" y2="0"><stop offset="0" stop-color="#0000ff"/><stop offset=".25" stop-color="#00ffff"/><stop offset=".5" stop-color="#00eb00"/><stop offset=".75" stop-color="#ffff00"/><stop offset="1" stop-color="#ff0000"/></linearGradient></defs>
<rect x="1943.7" y="641.6" width="30.7" height="196.1" fill="url(#cb1943)" stroke="#000" stroke-width="1"/>
<line x1="1940.7" y1="837" x2="1943.7" y2="837" stroke="#000" stroke-width="1.2"/>
<line x1="1940.7" y1="819.6" x2="1943.7" y2="819.6" stroke="#000" stroke-width="1.2"/>
<line x1="1940.7" y1="802.2" x2="1943.7" y2="802.2" stroke="#000" stroke-width="1.2"/>
<line x1="1940.7" y1="784.8" x2="1943.7" y2="784.8" stroke="#000" stroke-width="1.2"/>
<line x1="1940.7" y1="767.3" x2="1943.7" y2="767.3" stroke="#000" stroke-width="1.2"/>
<line x1="1940.7" y1="749.9" x2="1943.7" y2="749.9" stroke="#000" stroke-width="1.2"/>
<line x1="1940.7" y1="732.5" x2="1943.7" y2="732.5" stroke="#000" stroke-width="1.2"/>
<line x1="1940.7" y1="715.1" x2="1943.7" y2="715.1" stroke="#000" stroke-width="1.2"/>
<line x1="1940.7" y1="697.7" x2="1943.7" y2="697.7" stroke="#000" stroke-width="1.2"/>
<line x1="1940.7" y1="680.3" x2="1943.7" y2="680.3" stroke="#000" stroke-width="1.2"/>
<line x1="1940.7" y1="662.8" x2="1943.7" y2="662.8" stroke="#000" stroke-width="1.2"/>
<line x1="1940.7" y1="645.4" x2="1943.7" y2="645.4" stroke="#000" stroke-width="1.2"/>
<g font-family="DejaVu Sans, sans-serif" font-size="11.5" fill="#111" stroke="#111" stroke-width="0.25"><text x="1932" y="841.1" text-anchor="end">0.955</text><text x="1932" y="823.7" text-anchor="end">0.96</text><text x="1932" y="806.3" text-anchor="end">0.965</text><text x="1932" y="788.9" text-anchor="end">0.97</text><text x="1932" y="771.5" text-anchor="end">0.975</text><text x="1932" y="754.1" text-anchor="end">0.98</text><text x="1932" y="736.6" text-anchor="end">0.985</text><text x="1932" y="719.2" text-anchor="end">0.99</text><text x="1932" y="701.8" text-anchor="end">0.995</text><text x="1932" y="684.4" text-anchor="end">1</text><text x="1932" y="667" text-anchor="end">1.005</text><text x="1932" y="649.6" text-anchor="end">1.01</text></g>
<text x="1959.1" y="858" text-anchor="middle" font-family="DejaVu Sans, sans-serif" font-size="9.8" fill="#111">(x 10³)</text>
<g fill="#555"><rect x="162" y="5" width="1836" height="4.5"/><rect x="162" y="1108.3" width="1836" height="4.7"/><rect x="1993.3" y="5" width="4.7" height="1108"/><rect x="739" y="5" width="4.3" height="1108"/><rect x="1342.5" y="5" width="4.5" height="1108"/><rect x="162" y="556.8" width="1836" height="4.3"/></g>
<g fill="#000"><rect x="5.5" y="5" width="160.9" height="4.5"/><rect x="5.5" y="1108" width="160.9" height="4.5"/><rect x="5.5" y="5" width="4.5" height="1107.5"/><rect x="84.4" y="5" width="4.3" height="1107.5"/><rect x="162" y="5" width="4.4" height="1107.5"/><rect x="84.4" y="556.5" width="82" height="4.5"/></g>
<g font-family="Liberation Sans, Arial, sans-serif" fill="#000">
<text x="59.7" y="558.1" transform="rotate(-90 59.7 558.1)" text-anchor="middle" font-size="34.35">Volume averages of density (ρ) at the peri-implant region of</text>
<text x="137.5" y="282.5" transform="rotate(-90 137.5 282.5)" text-anchor="middle" font-size="34.5">Cortical bone (g/cm³)</text>
<text x="137.5" y="833.8" transform="rotate(-90 137.5 833.8)" text-anchor="middle" font-size="34.5">Cancellous bone (g/cm³)</text>
</g>
</svg></body></html>
